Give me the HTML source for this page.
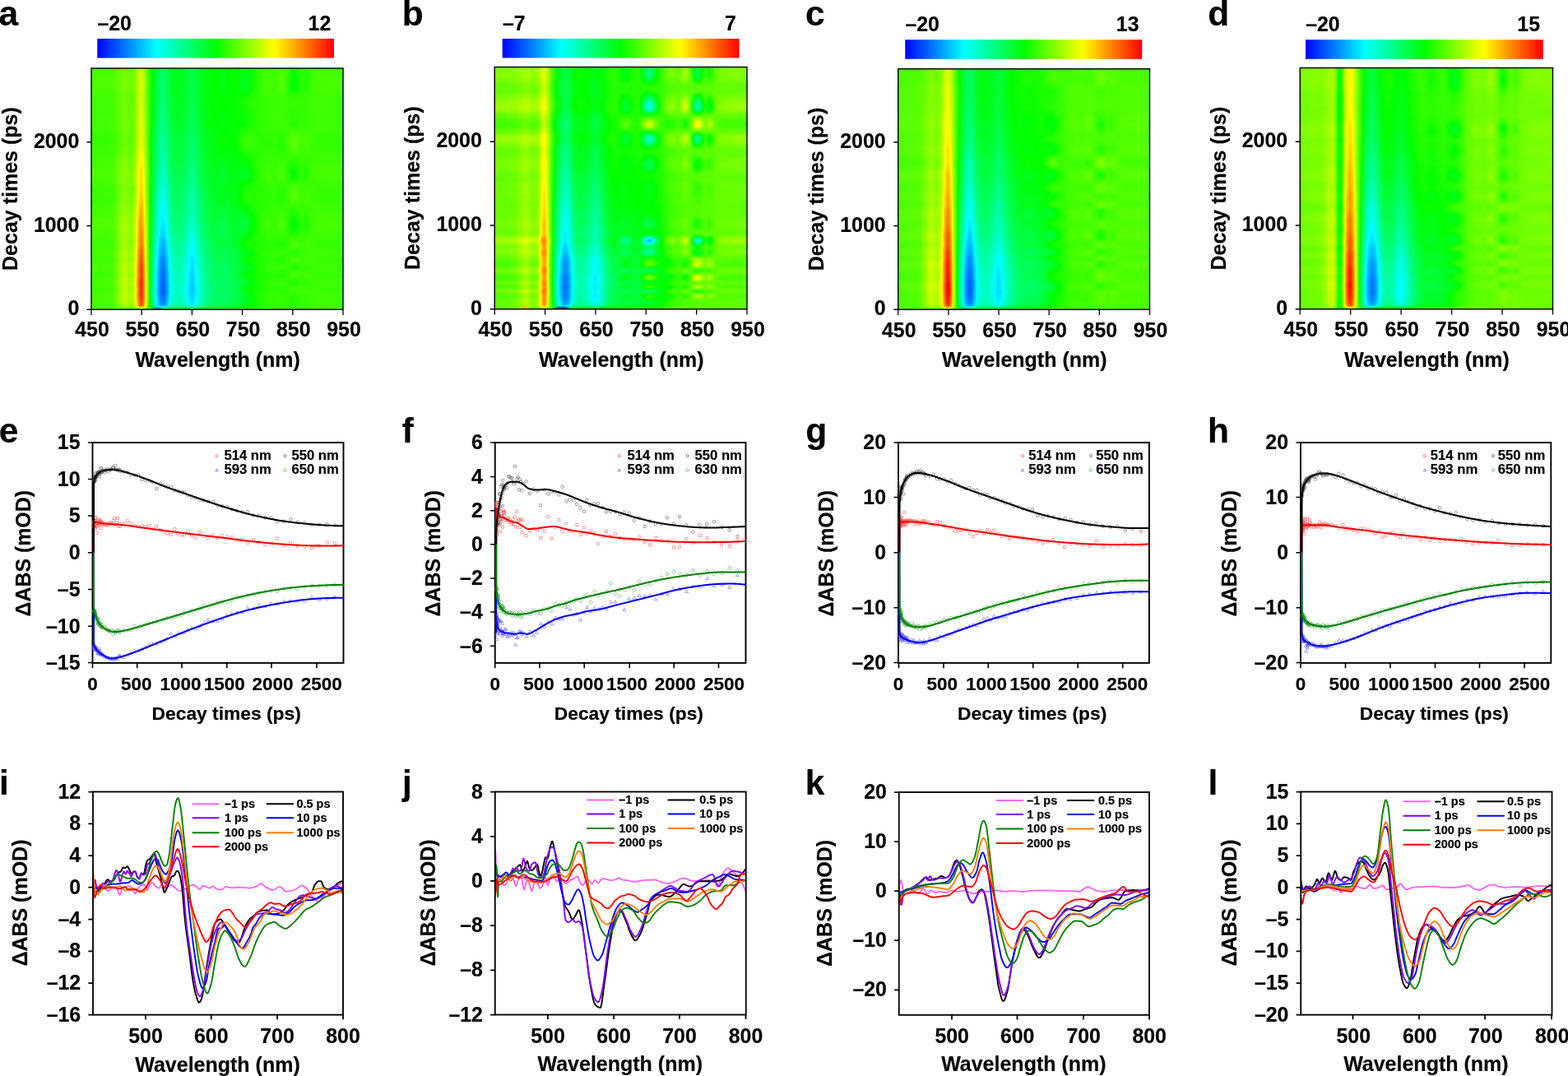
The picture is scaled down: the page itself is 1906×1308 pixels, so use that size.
<!DOCTYPE html>
<html lang="en"><head><meta charset="utf-8"><title>Transient absorption figure</title><style>html,body{margin:0;padding:0;background:#fff;overflow:hidden}svg{display:block}text{font-family:'Liberation Sans',Arial,Helvetica,sans-serif;font-weight:700;fill:#000;stroke:#000;stroke-width:.18px;stroke-linejoin:round}</style></head><body>
<svg width="1906" height="1308" viewBox="0 0 1906 1308" role="img" aria-label="Transient absorption heat maps, kinetics and spectra (panels a to l)">
<defs>
<linearGradient id="jet" x1="0" x2="1" y1="0" y2="0"><stop offset="0" stop-color="#00f"/><stop offset=".25" stop-color="#0ff"/><stop offset=".5" stop-color="#0f0"/><stop offset=".75" stop-color="#ff0"/><stop offset="1" stop-color="#f00"/></linearGradient>
<linearGradient id="hsa" x1="0" x2="1" y1="0" y2="0"><stop offset="0" stop-color="#8a0000"/><stop offset=".005" stop-color="#8a0000"/><stop offset=".01" stop-color="#8a0000"/><stop offset=".015" stop-color="#8a0000"/><stop offset=".02" stop-color="#8a0000"/><stop offset=".025" stop-color="#8a0000"/><stop offset=".03" stop-color="#8a0000"/><stop offset=".035" stop-color="#8a0000"/><stop offset=".04" stop-color="#8a0000"/><stop offset=".045" stop-color="#8a0000"/><stop offset=".05" stop-color="#8b0000"/><stop offset=".055" stop-color="#8b0000"/><stop offset=".06" stop-color="#8b0000"/><stop offset=".065" stop-color="#8b0000"/><stop offset=".07" stop-color="#8b0000"/><stop offset=".075" stop-color="#8b0000"/><stop offset=".08" stop-color="#8c0000"/><stop offset=".085" stop-color="#8d0000"/><stop offset=".09" stop-color="#8f0000"/><stop offset=".095" stop-color="#930000"/><stop offset=".1" stop-color="#960000"/><stop offset=".105" stop-color="#9a0000"/><stop offset=".11" stop-color="#9e0000"/><stop offset=".115" stop-color="#a30000"/><stop offset=".12" stop-color="#a80000"/><stop offset=".125" stop-color="#ab0000"/><stop offset=".13" stop-color="#ad0000"/><stop offset=".135" stop-color="#ac0000"/><stop offset=".14" stop-color="#aa0000"/><stop offset=".145" stop-color="#a70000"/><stop offset=".15" stop-color="#a50000"/><stop offset=".155" stop-color="#a30000"/><stop offset=".16" stop-color="#a50000"/><stop offset=".165" stop-color="#a90000"/><stop offset=".17" stop-color="#b10000"/><stop offset=".175" stop-color="#b90000"/><stop offset=".18" stop-color="#ca0000"/><stop offset=".185" stop-color="#dc0000"/><stop offset=".19" stop-color="#eb0000"/><stop offset=".195" stop-color="#f80000"/><stop offset=".2" stop-color="#f90000"/><stop offset=".205" stop-color="#ed0000"/><stop offset=".21" stop-color="#dc0000"/><stop offset=".215" stop-color="#c50000"/><stop offset=".22" stop-color="#af0000"/><stop offset=".225" stop-color="#990000"/><stop offset=".23" stop-color="#830000"/><stop offset=".235" stop-color="#6c0000"/><stop offset=".24" stop-color="#5c0000"/><stop offset=".245" stop-color="#4f0000"/><stop offset=".25" stop-color="#430000"/><stop offset=".255" stop-color="#370000"/><stop offset=".26" stop-color="#2a0000"/><stop offset=".265" stop-color="#1c0000"/><stop offset=".27" stop-color="#110000"/><stop offset=".275" stop-color="#0a0000"/><stop offset=".28" stop-color="#070000"/><stop offset=".285" stop-color="#040000"/><stop offset=".29" stop-color="#060000"/><stop offset=".295" stop-color="#0c0000"/><stop offset=".3" stop-color="#140000"/><stop offset=".305" stop-color="#1e0000"/><stop offset=".31" stop-color="#2a0000"/><stop offset=".315" stop-color="#310000"/><stop offset=".32" stop-color="#370000"/><stop offset=".325" stop-color="#3c0000"/><stop offset=".33" stop-color="#400000"/><stop offset=".335" stop-color="#410000"/><stop offset=".34" stop-color="#410000"/><stop offset=".345" stop-color="#410000"/><stop offset=".35" stop-color="#410000"/><stop offset=".355" stop-color="#400000"/><stop offset=".36" stop-color="#3f0000"/><stop offset=".365" stop-color="#3d0000"/><stop offset=".37" stop-color="#3a0000"/><stop offset=".375" stop-color="#360000"/><stop offset=".38" stop-color="#320000"/><stop offset=".385" stop-color="#2d0000"/><stop offset=".39" stop-color="#280000"/><stop offset=".395" stop-color="#230000"/><stop offset=".4" stop-color="#210000"/><stop offset=".405" stop-color="#230000"/><stop offset=".41" stop-color="#280000"/><stop offset=".415" stop-color="#2d0000"/><stop offset=".42" stop-color="#320000"/><stop offset=".425" stop-color="#370000"/><stop offset=".43" stop-color="#3c0000"/><stop offset=".435" stop-color="#410000"/><stop offset=".44" stop-color="#450000"/><stop offset=".445" stop-color="#480000"/><stop offset=".45" stop-color="#4b0000"/><stop offset=".455" stop-color="#4e0000"/><stop offset=".46" stop-color="#500000"/><stop offset=".465" stop-color="#520000"/><stop offset=".47" stop-color="#540000"/><stop offset=".475" stop-color="#560000"/><stop offset=".48" stop-color="#570000"/><stop offset=".485" stop-color="#590000"/><stop offset=".49" stop-color="#5a0000"/><stop offset=".495" stop-color="#5b0000"/><stop offset=".5" stop-color="#5c0000"/><stop offset=".505" stop-color="#5c0000"/><stop offset=".51" stop-color="#5c0000"/><stop offset=".515" stop-color="#5c0000"/><stop offset=".52" stop-color="#5c0000"/><stop offset=".525" stop-color="#5c0000"/><stop offset=".53" stop-color="#5c0000"/><stop offset=".535" stop-color="#5c0000"/><stop offset=".54" stop-color="#5c0000"/><stop offset=".55" stop-color="#5e0000"/><stop offset=".56" stop-color="#600000"/><stop offset=".57" stop-color="#620000"/><stop offset=".58" stop-color="#640000"/><stop offset=".59" stop-color="#670000"/><stop offset=".6" stop-color="#6b0000"/><stop offset=".61" stop-color="#6e0000"/><stop offset=".62" stop-color="#720000"/><stop offset=".63" stop-color="#750000"/><stop offset=".64" stop-color="#780000"/><stop offset=".65" stop-color="#7b0000"/><stop offset=".66" stop-color="#7d0000"/><stop offset=".67" stop-color="#7f0000"/><stop offset=".68" stop-color="#810000"/><stop offset=".69" stop-color="#820000"/><stop offset=".7" stop-color="#830000"/><stop offset=".71" stop-color="#830000"/><stop offset=".72" stop-color="#840000"/><stop offset=".73" stop-color="#840000"/><stop offset=".74" stop-color="#840000"/><stop offset=".75" stop-color="#840000"/><stop offset=".76" stop-color="#840000"/><stop offset=".77" stop-color="#840000"/><stop offset=".78" stop-color="#840000"/><stop offset=".79" stop-color="#850000"/><stop offset=".8" stop-color="#850000"/><stop offset=".81" stop-color="#850000"/><stop offset=".82" stop-color="#850000"/><stop offset=".83" stop-color="#860000"/><stop offset=".84" stop-color="#860000"/><stop offset=".85" stop-color="#860000"/><stop offset=".86" stop-color="#870000"/><stop offset=".87" stop-color="#870000"/><stop offset=".88" stop-color="#870000"/><stop offset=".89" stop-color="#870000"/><stop offset=".9" stop-color="#870000"/><stop offset=".91" stop-color="#870000"/><stop offset=".92" stop-color="#870000"/><stop offset=".93" stop-color="#870000"/><stop offset=".94" stop-color="#870000"/><stop offset=".95" stop-color="#870000"/><stop offset=".96" stop-color="#870000"/><stop offset=".97" stop-color="#870000"/><stop offset=".98" stop-color="#870000"/><stop offset=".99" stop-color="#870000"/><stop offset="1" stop-color="#870000"/></linearGradient>
<linearGradient id="hga" x1="0" x2="0" y1="1" y2="0"><stop offset="0" stop-color="#000000"/><stop offset=".0035" stop-color="#001400"/><stop offset=".0083" stop-color="#008c00"/><stop offset=".0146" stop-color="#00d600"/><stop offset=".0208" stop-color="#00e500"/><stop offset=".026" stop-color="#00eb00"/><stop offset=".0416" stop-color="#00f500"/><stop offset=".0625" stop-color="#00fc00"/><stop offset=".0798" stop-color="#00ff00"/><stop offset=".0833" stop-color="#00ff00"/><stop offset=".1041" stop-color="#00fd00"/><stop offset=".1249" stop-color="#00fa00"/><stop offset=".1388" stop-color="#00f700"/><stop offset=".1457" stop-color="#00f600"/><stop offset=".1666" stop-color="#00f100"/><stop offset=".1874" stop-color="#00ec00"/><stop offset=".2082" stop-color="#00e600"/><stop offset=".229" stop-color="#00de00"/><stop offset=".2498" stop-color="#00d600"/><stop offset=".2706" stop-color="#00ce00"/><stop offset=".2776" stop-color="#00cc00"/><stop offset=".2915" stop-color="#00c800"/><stop offset=".3123" stop-color="#00c100"/><stop offset=".3331" stop-color="#00bb00"/><stop offset=".347" stop-color="#00b800"/><stop offset=".3539" stop-color="#00b600"/><stop offset=".3747" stop-color="#00b100"/><stop offset=".3956" stop-color="#00ac00"/><stop offset=".4164" stop-color="#00a700"/><stop offset=".4337" stop-color="#00a300"/><stop offset=".4372" stop-color="#00a200"/><stop offset=".458" stop-color="#009d00"/><stop offset=".4788" stop-color="#009800"/><stop offset=".4997" stop-color="#009300"/><stop offset=".5205" stop-color="#008f00"/><stop offset=".5413" stop-color="#008b00"/><stop offset=".5621" stop-color="#008700"/><stop offset=".5829" stop-color="#008400"/><stop offset=".6037" stop-color="#008000"/><stop offset=".6072" stop-color="#008000"/><stop offset=".6246" stop-color="#007c00"/><stop offset=".6454" stop-color="#007800"/><stop offset=".6662" stop-color="#007500"/><stop offset=".687" stop-color="#007100"/><stop offset=".694" stop-color="#007000"/><stop offset=".7078" stop-color="#006e00"/><stop offset=".7287" stop-color="#006c00"/><stop offset=".7495" stop-color="#006900"/><stop offset=".7703" stop-color="#006700"/><stop offset=".7807" stop-color="#006600"/><stop offset=".7911" stop-color="#006500"/><stop offset=".8119" stop-color="#006300"/><stop offset=".8328" stop-color="#006100"/><stop offset=".8536" stop-color="#005f00"/><stop offset=".8675" stop-color="#005e00"/><stop offset=".8744" stop-color="#005e00"/><stop offset=".8952" stop-color="#005d00"/><stop offset=".916" stop-color="#005c00"/><stop offset=".9368" stop-color="#005b00"/><stop offset=".9577" stop-color="#005a00"/><stop offset=".9785" stop-color="#005a00"/><stop offset=".9993" stop-color="#005900"/><stop offset="1" stop-color="#005900"/></linearGradient>
<linearGradient id="hna" x1="0" x2="1" y1="0" y2="0"><stop offset="0" stop-color="#990080"/><stop offset=".01" stop-color="#990080"/><stop offset=".02" stop-color="#990080"/><stop offset=".03" stop-color="#990080"/><stop offset=".04" stop-color="#990080"/><stop offset=".05" stop-color="#990080"/><stop offset=".06" stop-color="#990080"/><stop offset=".07" stop-color="#990080"/><stop offset=".08" stop-color="#990080"/><stop offset=".09" stop-color="#990080"/><stop offset=".1" stop-color="#990080"/><stop offset=".11" stop-color="#990080"/><stop offset=".12" stop-color="#990080"/><stop offset=".13" stop-color="#990080"/><stop offset=".14" stop-color="#990080"/><stop offset=".15" stop-color="#990080"/><stop offset=".16" stop-color="#990080"/><stop offset=".17" stop-color="#990080"/><stop offset=".18" stop-color="#990080"/><stop offset=".19" stop-color="#970080"/><stop offset=".2" stop-color="#920080"/><stop offset=".21" stop-color="#8c0080"/><stop offset=".22" stop-color="#8a0080"/><stop offset=".23" stop-color="#890080"/><stop offset=".24" stop-color="#890080"/><stop offset=".25" stop-color="#890080"/><stop offset=".26" stop-color="#890080"/><stop offset=".27" stop-color="#880080"/><stop offset=".28" stop-color="#880080"/><stop offset=".29" stop-color="#880080"/><stop offset=".3" stop-color="#880080"/><stop offset=".31" stop-color="#880080"/><stop offset=".32" stop-color="#880080"/><stop offset=".33" stop-color="#880080"/><stop offset=".34" stop-color="#880080"/><stop offset=".35" stop-color="#880080"/><stop offset=".36" stop-color="#880080"/><stop offset=".37" stop-color="#880080"/><stop offset=".38" stop-color="#880080"/><stop offset=".39" stop-color="#880080"/><stop offset=".4" stop-color="#880080"/><stop offset=".41" stop-color="#880080"/><stop offset=".42" stop-color="#870080"/><stop offset=".43" stop-color="#870080"/><stop offset=".44" stop-color="#870080"/><stop offset=".45" stop-color="#870080"/><stop offset=".46" stop-color="#870080"/><stop offset=".47" stop-color="#860080"/><stop offset=".48" stop-color="#860080"/><stop offset=".49" stop-color="#7c0080"/><stop offset=".5" stop-color="#6c0080"/><stop offset=".51" stop-color="#5c0080"/><stop offset=".52" stop-color="#530080"/><stop offset=".53" stop-color="#5d0080"/><stop offset=".54" stop-color="#6e0080"/><stop offset=".544" stop-color="#730080"/><stop offset=".55" stop-color="#770080"/><stop offset=".56" stop-color="#7d0080"/><stop offset=".57" stop-color="#800080"/><stop offset=".58" stop-color="#670080"/><stop offset=".59" stop-color="#400080"/><stop offset=".6" stop-color="#1e0080"/><stop offset=".61" stop-color="#030080"/><stop offset=".614" stop-color="#000080"/><stop offset=".62" stop-color="#080080"/><stop offset=".63" stop-color="#2a0080"/><stop offset=".64" stop-color="#4c0080"/><stop offset=".65" stop-color="#650080"/><stop offset=".66" stop-color="#7a0080"/><stop offset=".664" stop-color="#800080"/><stop offset=".67" stop-color="#870080"/><stop offset=".68" stop-color="#930080"/><stop offset=".69" stop-color="#9c0080"/><stop offset=".7" stop-color="#9f0080"/><stop offset=".71" stop-color="#9a0080"/><stop offset=".72" stop-color="#910080"/><stop offset=".73" stop-color="#8c0080"/><stop offset=".74" stop-color="#9d0080"/><stop offset=".75" stop-color="#b60080"/><stop offset=".754" stop-color="#b90080"/><stop offset=".76" stop-color="#b30080"/><stop offset=".77" stop-color="#950080"/><stop offset=".776" stop-color="#800080"/><stop offset=".78" stop-color="#6d0080"/><stop offset=".79" stop-color="#330080"/><stop offset=".8" stop-color="#070080"/><stop offset=".804" stop-color="#000080"/><stop offset=".81" stop-color="#0c0080"/><stop offset=".82" stop-color="#330080"/><stop offset=".83" stop-color="#5a0080"/><stop offset=".836" stop-color="#660080"/><stop offset=".84" stop-color="#610080"/><stop offset=".85" stop-color="#470080"/><stop offset=".852" stop-color="#460080"/><stop offset=".86" stop-color="#530080"/><stop offset=".87" stop-color="#730080"/><stop offset=".876" stop-color="#800080"/><stop offset=".88" stop-color="#840080"/><stop offset=".89" stop-color="#8e0080"/><stop offset=".9" stop-color="#930080"/><stop offset=".91" stop-color="#940080"/><stop offset=".92" stop-color="#950080"/><stop offset=".93" stop-color="#960080"/><stop offset=".94" stop-color="#970080"/><stop offset=".95" stop-color="#980080"/><stop offset=".96" stop-color="#980080"/><stop offset=".97" stop-color="#990080"/><stop offset=".98" stop-color="#990080"/><stop offset=".99" stop-color="#990080"/><stop offset="1" stop-color="#990080"/></linearGradient>
<linearGradient id="hma" x1="0" x2="0" y1="1" y2="0"><stop offset="0" stop-color="#008000"/><stop offset=".0083" stop-color="#008c00"/><stop offset=".0167" stop-color="#009500"/><stop offset=".025" stop-color="#009b00"/><stop offset=".0333" stop-color="#009e00"/><stop offset=".0416" stop-color="#009f00"/><stop offset=".05" stop-color="#009f00"/><stop offset=".0583" stop-color="#009800"/><stop offset=".0666" stop-color="#007e00"/><stop offset=".0749" stop-color="#006100"/><stop offset=".0833" stop-color="#005500"/><stop offset=".0916" stop-color="#006600"/><stop offset=".0999" stop-color="#008700"/><stop offset=".1083" stop-color="#00a300"/><stop offset=".1166" stop-color="#00a700"/><stop offset=".1249" stop-color="#008d00"/><stop offset=".1332" stop-color="#006700"/><stop offset=".1416" stop-color="#004c00"/><stop offset=".1499" stop-color="#005300"/><stop offset=".1582" stop-color="#007400"/><stop offset=".1666" stop-color="#009800"/><stop offset=".1749" stop-color="#00aa00"/><stop offset=".1832" stop-color="#009900"/><stop offset=".1915" stop-color="#007500"/><stop offset=".1999" stop-color="#005300"/><stop offset=".2082" stop-color="#004c00"/><stop offset=".2165" stop-color="#006300"/><stop offset=".2248" stop-color="#008400"/><stop offset=".2332" stop-color="#009d00"/><stop offset=".2415" stop-color="#009800"/><stop offset=".2498" stop-color="#007800"/><stop offset=".2582" stop-color="#005300"/><stop offset=".2665" stop-color="#004000"/><stop offset=".2748" stop-color="#004700"/><stop offset=".2831" stop-color="#005900"/><stop offset=".2915" stop-color="#007000"/><stop offset=".2998" stop-color="#008400"/><stop offset=".3081" stop-color="#009900"/><stop offset=".3164" stop-color="#00b100"/><stop offset=".3248" stop-color="#00c900"/><stop offset=".3331" stop-color="#00dd00"/><stop offset=".3414" stop-color="#00ed00"/><stop offset=".3498" stop-color="#00f400"/><stop offset=".3581" stop-color="#00f200"/><stop offset=".3664" stop-color="#00ea00"/><stop offset=".3747" stop-color="#00de00"/><stop offset=".3831" stop-color="#00cf00"/><stop offset=".3914" stop-color="#00be00"/><stop offset=".3997" stop-color="#00ad00"/><stop offset=".408" stop-color="#009d00"/><stop offset=".4164" stop-color="#008f00"/><stop offset=".4247" stop-color="#007f00"/><stop offset=".433" stop-color="#006d00"/><stop offset=".4414" stop-color="#005d00"/><stop offset=".4497" stop-color="#004e00"/><stop offset=".458" stop-color="#004400"/><stop offset=".4663" stop-color="#004000"/><stop offset=".4747" stop-color="#004200"/><stop offset=".483" stop-color="#004700"/><stop offset=".4913" stop-color="#004f00"/><stop offset=".4997" stop-color="#005900"/><stop offset=".508" stop-color="#006400"/><stop offset=".5163" stop-color="#007800"/><stop offset=".5246" stop-color="#009300"/><stop offset=".533" stop-color="#00b100"/><stop offset=".5413" stop-color="#00cc00"/><stop offset=".5496" stop-color="#00e100"/><stop offset=".5579" stop-color="#00ea00"/><stop offset=".5663" stop-color="#00e800"/><stop offset=".5746" stop-color="#00e200"/><stop offset=".5829" stop-color="#00d800"/><stop offset=".5913" stop-color="#00cc00"/><stop offset=".5996" stop-color="#00be00"/><stop offset=".6079" stop-color="#00ae00"/><stop offset=".6162" stop-color="#009f00"/><stop offset=".6246" stop-color="#009000"/><stop offset=".6329" stop-color="#008300"/><stop offset=".6412" stop-color="#007700"/><stop offset=".6495" stop-color="#006900"/><stop offset=".6579" stop-color="#005900"/><stop offset=".6662" stop-color="#004a00"/><stop offset=".6745" stop-color="#003d00"/><stop offset=".6829" stop-color="#003200"/><stop offset=".6912" stop-color="#002c00"/><stop offset=".6995" stop-color="#002b00"/><stop offset=".7078" stop-color="#003100"/><stop offset=".7162" stop-color="#003d00"/><stop offset=".7245" stop-color="#004d00"/><stop offset=".7328" stop-color="#005f00"/><stop offset=".7412" stop-color="#007200"/><stop offset=".7495" stop-color="#008400"/><stop offset=".7578" stop-color="#009300"/><stop offset=".7661" stop-color="#009c00"/><stop offset=".7745" stop-color="#009f00"/><stop offset=".7828" stop-color="#009e00"/><stop offset=".7911" stop-color="#009c00"/><stop offset=".7994" stop-color="#009900"/><stop offset=".8078" stop-color="#009500"/><stop offset=".8161" stop-color="#009100"/><stop offset=".8244" stop-color="#008d00"/><stop offset=".8328" stop-color="#008900"/><stop offset=".8411" stop-color="#008500"/><stop offset=".8494" stop-color="#008200"/><stop offset=".8577" stop-color="#008000"/><stop offset=".8661" stop-color="#008000"/><stop offset=".8744" stop-color="#008600"/><stop offset=".8827" stop-color="#009800"/><stop offset=".891" stop-color="#00af00"/><stop offset=".8994" stop-color="#00c900"/><stop offset=".9077" stop-color="#00e100"/><stop offset=".916" stop-color="#00f400"/><stop offset=".9244" stop-color="#00fe00"/><stop offset=".9327" stop-color="#00ff00"/><stop offset=".941" stop-color="#00fe00"/><stop offset=".9493" stop-color="#00fc00"/><stop offset=".9577" stop-color="#00f800"/><stop offset=".966" stop-color="#00f300"/><stop offset=".9743" stop-color="#00eb00"/><stop offset=".9827" stop-color="#00e000"/><stop offset=".991" stop-color="#00d200"/><stop offset=".9993" stop-color="#00c000"/></linearGradient>
<filter id="ada" x="0" y="0" width="1" height="1" color-interpolation-filters="sRGB"><feColorMatrix in="SourceGraphic" type="matrix" values="1 0 0 0 0 1 0 0 0 0 1 0 0 0 0 0 0 0 0 1" result="A"/><feColorMatrix in="SourceGraphic" type="matrix" values="0 1 0 0 0 0 1 0 0 0 0 1 0 0 0 0 0 0 0 1" result="B"/><feColorMatrix in="SourceGraphic" type="matrix" values="0 0 1 0 0 0 0 1 0 0 0 0 1 0 0 0 0 0 0 1" result="C"/><feComposite in="A" in2="B" operator="arithmetic" k1=".68" k2="-.34" k3="-.34" k4=".67" result="D"/><feComposite in="D" in2="C" operator="arithmetic" k1="0" k2="1" k3="1" k4="-.5" result="E"/><feColorMatrix in="E" type="matrix" values="0 0 0 0 0 0 0 0 0 0 1 0 0 0 0 0 0 0 0 1"/></filter>
<filter id="cma" x="0" y="0" width="1" height="1" color-interpolation-filters="sRGB"><feColorMatrix in="SourceGraphic" type="matrix" values="1 0 0 0 0 1 0 0 0 0 1 0 0 0 0 0 0 0 0 1" result="A"/><feColorMatrix in="SourceGraphic" type="matrix" values="0 1 0 0 0 0 1 0 0 0 0 1 0 0 0 0 0 0 0 1" result="B"/><feColorMatrix in="SourceGraphic" type="matrix" values="0 0 1 0 0 0 0 1 0 0 0 0 1 0 0 0 0 0 0 1" result="C"/><feComposite in="A" in2="B" operator="arithmetic" k1=".9125" k2="0" k3="-.4844" k4=".5563" result="U"/><feComposite in="U" in2="C" operator="arithmetic" k1="0" k2="1" k3=".375" k4="-.1875"/><feComponentTransfer><feFuncR type="table" tableValues="0 0 0 1 1"/><feFuncG type="table" tableValues="0 1 1 1 0"/><feFuncB type="table" tableValues="1 1 0 0 0"/></feComponentTransfer></filter>
<clipPath id="cha"><rect x="111" y="83" width="306" height="293.25"/></clipPath>
<radialGradient id="rg0060ff"><stop offset="0" stop-color="#0060ff"/><stop offset=".45" stop-color="#0060ff" stop-opacity=".8"/><stop offset="1" stop-color="#0060ff" stop-opacity="0"/></radialGradient>
<linearGradient id="hsb" x1="0" x2="1" y1="0" y2="0"><stop offset="0" stop-color="#9c0000"/><stop offset=".005" stop-color="#9c0000"/><stop offset=".01" stop-color="#9c0000"/><stop offset=".015" stop-color="#9d0000"/><stop offset=".02" stop-color="#9d0000"/><stop offset=".025" stop-color="#9d0000"/><stop offset=".03" stop-color="#9d0000"/><stop offset=".035" stop-color="#9d0000"/><stop offset=".04" stop-color="#9d0000"/><stop offset=".045" stop-color="#9e0000"/><stop offset=".05" stop-color="#9e0000"/><stop offset=".055" stop-color="#9e0000"/><stop offset=".06" stop-color="#9f0000"/><stop offset=".065" stop-color="#9f0000"/><stop offset=".07" stop-color="#a00000"/><stop offset=".075" stop-color="#a00000"/><stop offset=".08" stop-color="#a10000"/><stop offset=".085" stop-color="#a20000"/><stop offset=".09" stop-color="#a40000"/><stop offset=".095" stop-color="#a70000"/><stop offset=".1" stop-color="#aa0000"/><stop offset=".105" stop-color="#ad0000"/><stop offset=".11" stop-color="#b00000"/><stop offset=".115" stop-color="#b20000"/><stop offset=".12" stop-color="#b50000"/><stop offset=".125" stop-color="#b60000"/><stop offset=".13" stop-color="#b50000"/><stop offset=".135" stop-color="#b10000"/><stop offset=".14" stop-color="#ad0000"/><stop offset=".145" stop-color="#a90000"/><stop offset=".15" stop-color="#a70000"/><stop offset=".155" stop-color="#a80000"/><stop offset=".16" stop-color="#a90000"/><stop offset=".165" stop-color="#ab0000"/><stop offset=".17" stop-color="#af0000"/><stop offset=".175" stop-color="#b30000"/><stop offset=".18" stop-color="#c40000"/><stop offset=".185" stop-color="#da0000"/><stop offset=".19" stop-color="#e90000"/><stop offset=".195" stop-color="#f40000"/><stop offset=".2" stop-color="#f00000"/><stop offset=".205" stop-color="#e40000"/><stop offset=".21" stop-color="#d20000"/><stop offset=".215" stop-color="#bb0000"/><stop offset=".22" stop-color="#a30000"/><stop offset=".225" stop-color="#8b0000"/><stop offset=".23" stop-color="#790000"/><stop offset=".235" stop-color="#6a0000"/><stop offset=".24" stop-color="#5c0000"/><stop offset=".245" stop-color="#4d0000"/><stop offset=".25" stop-color="#3f0000"/><stop offset=".255" stop-color="#310000"/><stop offset=".26" stop-color="#270000"/><stop offset=".265" stop-color="#1d0000"/><stop offset=".27" stop-color="#140000"/><stop offset=".275" stop-color="#0d0000"/><stop offset=".28" stop-color="#0b0000"/><stop offset=".285" stop-color="#0d0000"/><stop offset=".29" stop-color="#130000"/><stop offset=".295" stop-color="#190000"/><stop offset=".3" stop-color="#220000"/><stop offset=".305" stop-color="#2d0000"/><stop offset=".31" stop-color="#370000"/><stop offset=".315" stop-color="#3d0000"/><stop offset=".32" stop-color="#430000"/><stop offset=".325" stop-color="#480000"/><stop offset=".33" stop-color="#4b0000"/><stop offset=".335" stop-color="#4d0000"/><stop offset=".34" stop-color="#4d0000"/><stop offset=".345" stop-color="#4c0000"/><stop offset=".35" stop-color="#4b0000"/><stop offset=".355" stop-color="#4a0000"/><stop offset=".36" stop-color="#480000"/><stop offset=".365" stop-color="#460000"/><stop offset=".37" stop-color="#430000"/><stop offset=".375" stop-color="#3f0000"/><stop offset=".38" stop-color="#3b0000"/><stop offset=".385" stop-color="#370000"/><stop offset=".39" stop-color="#340000"/><stop offset=".395" stop-color="#300000"/><stop offset=".4" stop-color="#2f0000"/><stop offset=".405" stop-color="#310000"/><stop offset=".41" stop-color="#350000"/><stop offset=".415" stop-color="#390000"/><stop offset=".42" stop-color="#3e0000"/><stop offset=".425" stop-color="#430000"/><stop offset=".43" stop-color="#480000"/><stop offset=".435" stop-color="#4e0000"/><stop offset=".44" stop-color="#540000"/><stop offset=".445" stop-color="#580000"/><stop offset=".45" stop-color="#5c0000"/><stop offset=".455" stop-color="#5f0000"/><stop offset=".46" stop-color="#620000"/><stop offset=".465" stop-color="#640000"/><stop offset=".47" stop-color="#670000"/><stop offset=".475" stop-color="#680000"/><stop offset=".48" stop-color="#690000"/><stop offset=".485" stop-color="#690000"/><stop offset=".49" stop-color="#6a0000"/><stop offset=".495" stop-color="#6a0000"/><stop offset=".5" stop-color="#6a0000"/><stop offset=".505" stop-color="#6a0000"/><stop offset=".51" stop-color="#6b0000"/><stop offset=".515" stop-color="#6b0000"/><stop offset=".52" stop-color="#6b0000"/><stop offset=".525" stop-color="#6b0000"/><stop offset=".53" stop-color="#6c0000"/><stop offset=".535" stop-color="#6c0000"/><stop offset=".54" stop-color="#6c0000"/><stop offset=".55" stop-color="#6d0000"/><stop offset=".56" stop-color="#6d0000"/><stop offset=".57" stop-color="#6e0000"/><stop offset=".58" stop-color="#6f0000"/><stop offset=".59" stop-color="#700000"/><stop offset=".6" stop-color="#720000"/><stop offset=".61" stop-color="#730000"/><stop offset=".62" stop-color="#730000"/><stop offset=".63" stop-color="#740000"/><stop offset=".64" stop-color="#760000"/><stop offset=".65" stop-color="#780000"/><stop offset=".66" stop-color="#7b0000"/><stop offset=".67" stop-color="#7f0000"/><stop offset=".68" stop-color="#830000"/><stop offset=".69" stop-color="#870000"/><stop offset=".7" stop-color="#8b0000"/><stop offset=".71" stop-color="#8f0000"/><stop offset=".72" stop-color="#920000"/><stop offset=".73" stop-color="#930000"/><stop offset=".74" stop-color="#940000"/><stop offset=".75" stop-color="#950000"/><stop offset=".76" stop-color="#960000"/><stop offset=".77" stop-color="#960000"/><stop offset=".78" stop-color="#970000"/><stop offset=".79" stop-color="#980000"/><stop offset=".8" stop-color="#980000"/><stop offset=".81" stop-color="#990000"/><stop offset=".82" stop-color="#990000"/><stop offset=".83" stop-color="#9a0000"/><stop offset=".84" stop-color="#9a0000"/><stop offset=".85" stop-color="#9b0000"/><stop offset=".86" stop-color="#9b0000"/><stop offset=".87" stop-color="#9c0000"/><stop offset=".88" stop-color="#9c0000"/><stop offset=".89" stop-color="#9c0000"/><stop offset=".9" stop-color="#9c0000"/><stop offset=".91" stop-color="#9c0000"/><stop offset=".92" stop-color="#9c0000"/><stop offset=".93" stop-color="#9c0000"/><stop offset=".94" stop-color="#9c0000"/><stop offset=".95" stop-color="#9c0000"/><stop offset=".96" stop-color="#9c0000"/><stop offset=".97" stop-color="#9c0000"/><stop offset=".98" stop-color="#9c0000"/><stop offset=".99" stop-color="#9c0000"/><stop offset="1" stop-color="#9c0000"/></linearGradient>
<linearGradient id="hgb" x1="0" x2="0" y1="1" y2="0"><stop offset="0" stop-color="#000000"/><stop offset=".0035" stop-color="#001400"/><stop offset=".0083" stop-color="#008c00"/><stop offset=".0146" stop-color="#00d600"/><stop offset=".0208" stop-color="#00e500"/><stop offset=".026" stop-color="#00eb00"/><stop offset=".0416" stop-color="#00f500"/><stop offset=".0625" stop-color="#00fc00"/><stop offset=".0798" stop-color="#00ff00"/><stop offset=".0833" stop-color="#00ff00"/><stop offset=".1041" stop-color="#00fd00"/><stop offset=".1249" stop-color="#00fa00"/><stop offset=".1388" stop-color="#00f700"/><stop offset=".1457" stop-color="#00f600"/><stop offset=".1666" stop-color="#00f100"/><stop offset=".1874" stop-color="#00ec00"/><stop offset=".2082" stop-color="#00e600"/><stop offset=".229" stop-color="#00de00"/><stop offset=".2498" stop-color="#00d600"/><stop offset=".2706" stop-color="#00ce00"/><stop offset=".2776" stop-color="#00cc00"/><stop offset=".2915" stop-color="#00c800"/><stop offset=".3123" stop-color="#00c100"/><stop offset=".3331" stop-color="#00bb00"/><stop offset=".347" stop-color="#00b800"/><stop offset=".3539" stop-color="#00b600"/><stop offset=".3747" stop-color="#00b100"/><stop offset=".3956" stop-color="#00ac00"/><stop offset=".4164" stop-color="#00a700"/><stop offset=".4337" stop-color="#00a300"/><stop offset=".4372" stop-color="#00a200"/><stop offset=".458" stop-color="#009d00"/><stop offset=".4788" stop-color="#009800"/><stop offset=".4997" stop-color="#009300"/><stop offset=".5205" stop-color="#008f00"/><stop offset=".5413" stop-color="#008b00"/><stop offset=".5621" stop-color="#008700"/><stop offset=".5829" stop-color="#008400"/><stop offset=".6037" stop-color="#008000"/><stop offset=".6072" stop-color="#008000"/><stop offset=".6246" stop-color="#007c00"/><stop offset=".6454" stop-color="#007800"/><stop offset=".6662" stop-color="#007500"/><stop offset=".687" stop-color="#007100"/><stop offset=".694" stop-color="#007000"/><stop offset=".7078" stop-color="#006e00"/><stop offset=".7287" stop-color="#006c00"/><stop offset=".7495" stop-color="#006900"/><stop offset=".7703" stop-color="#006700"/><stop offset=".7807" stop-color="#006600"/><stop offset=".7911" stop-color="#006500"/><stop offset=".8119" stop-color="#006300"/><stop offset=".8328" stop-color="#006100"/><stop offset=".8536" stop-color="#005f00"/><stop offset=".8675" stop-color="#005e00"/><stop offset=".8744" stop-color="#005e00"/><stop offset=".8952" stop-color="#005d00"/><stop offset=".916" stop-color="#005c00"/><stop offset=".9368" stop-color="#005b00"/><stop offset=".9577" stop-color="#005a00"/><stop offset=".9785" stop-color="#005a00"/><stop offset=".9993" stop-color="#005900"/><stop offset="1" stop-color="#005900"/></linearGradient>
<linearGradient id="hnb" x1="0" x2="1" y1="0" y2="0"><stop offset="0" stop-color="#990080"/><stop offset=".01" stop-color="#990080"/><stop offset=".02" stop-color="#990080"/><stop offset=".03" stop-color="#990080"/><stop offset=".04" stop-color="#990080"/><stop offset=".05" stop-color="#990080"/><stop offset=".06" stop-color="#990080"/><stop offset=".07" stop-color="#990080"/><stop offset=".08" stop-color="#990080"/><stop offset=".09" stop-color="#990080"/><stop offset=".1" stop-color="#990080"/><stop offset=".11" stop-color="#990080"/><stop offset=".12" stop-color="#990080"/><stop offset=".13" stop-color="#990080"/><stop offset=".14" stop-color="#990080"/><stop offset=".15" stop-color="#990080"/><stop offset=".16" stop-color="#990080"/><stop offset=".17" stop-color="#990080"/><stop offset=".18" stop-color="#990080"/><stop offset=".19" stop-color="#970080"/><stop offset=".2" stop-color="#920080"/><stop offset=".21" stop-color="#8c0080"/><stop offset=".22" stop-color="#8a0080"/><stop offset=".23" stop-color="#890080"/><stop offset=".24" stop-color="#890080"/><stop offset=".25" stop-color="#890080"/><stop offset=".26" stop-color="#890080"/><stop offset=".27" stop-color="#880080"/><stop offset=".28" stop-color="#880080"/><stop offset=".29" stop-color="#880080"/><stop offset=".3" stop-color="#880080"/><stop offset=".31" stop-color="#880080"/><stop offset=".32" stop-color="#880080"/><stop offset=".33" stop-color="#880080"/><stop offset=".34" stop-color="#880080"/><stop offset=".35" stop-color="#880080"/><stop offset=".36" stop-color="#880080"/><stop offset=".37" stop-color="#880080"/><stop offset=".38" stop-color="#880080"/><stop offset=".39" stop-color="#880080"/><stop offset=".4" stop-color="#880080"/><stop offset=".41" stop-color="#880080"/><stop offset=".42" stop-color="#870080"/><stop offset=".43" stop-color="#870080"/><stop offset=".44" stop-color="#870080"/><stop offset=".45" stop-color="#870080"/><stop offset=".46" stop-color="#870080"/><stop offset=".47" stop-color="#860080"/><stop offset=".48" stop-color="#860080"/><stop offset=".49" stop-color="#7c0080"/><stop offset=".5" stop-color="#6c0080"/><stop offset=".51" stop-color="#5c0080"/><stop offset=".52" stop-color="#530080"/><stop offset=".53" stop-color="#5d0080"/><stop offset=".54" stop-color="#6e0080"/><stop offset=".544" stop-color="#730080"/><stop offset=".55" stop-color="#770080"/><stop offset=".56" stop-color="#7d0080"/><stop offset=".57" stop-color="#800080"/><stop offset=".58" stop-color="#670080"/><stop offset=".59" stop-color="#400080"/><stop offset=".6" stop-color="#1e0080"/><stop offset=".61" stop-color="#030080"/><stop offset=".614" stop-color="#000080"/><stop offset=".62" stop-color="#080080"/><stop offset=".63" stop-color="#2a0080"/><stop offset=".64" stop-color="#4c0080"/><stop offset=".65" stop-color="#650080"/><stop offset=".66" stop-color="#7a0080"/><stop offset=".664" stop-color="#800080"/><stop offset=".67" stop-color="#870080"/><stop offset=".68" stop-color="#930080"/><stop offset=".69" stop-color="#9c0080"/><stop offset=".7" stop-color="#9f0080"/><stop offset=".71" stop-color="#9a0080"/><stop offset=".72" stop-color="#910080"/><stop offset=".73" stop-color="#8c0080"/><stop offset=".74" stop-color="#9d0080"/><stop offset=".75" stop-color="#b60080"/><stop offset=".754" stop-color="#b90080"/><stop offset=".76" stop-color="#b30080"/><stop offset=".77" stop-color="#950080"/><stop offset=".776" stop-color="#800080"/><stop offset=".78" stop-color="#6d0080"/><stop offset=".79" stop-color="#330080"/><stop offset=".8" stop-color="#070080"/><stop offset=".804" stop-color="#000080"/><stop offset=".81" stop-color="#0c0080"/><stop offset=".82" stop-color="#330080"/><stop offset=".83" stop-color="#5a0080"/><stop offset=".836" stop-color="#660080"/><stop offset=".84" stop-color="#610080"/><stop offset=".85" stop-color="#470080"/><stop offset=".852" stop-color="#460080"/><stop offset=".86" stop-color="#530080"/><stop offset=".87" stop-color="#730080"/><stop offset=".876" stop-color="#800080"/><stop offset=".88" stop-color="#840080"/><stop offset=".89" stop-color="#8e0080"/><stop offset=".9" stop-color="#930080"/><stop offset=".91" stop-color="#940080"/><stop offset=".92" stop-color="#950080"/><stop offset=".93" stop-color="#960080"/><stop offset=".94" stop-color="#970080"/><stop offset=".95" stop-color="#980080"/><stop offset=".96" stop-color="#980080"/><stop offset=".97" stop-color="#990080"/><stop offset=".98" stop-color="#990080"/><stop offset=".99" stop-color="#990080"/><stop offset="1" stop-color="#990080"/></linearGradient>
<linearGradient id="hmb" x1="0" x2="0" y1="1" y2="0"><stop offset="0" stop-color="#008000"/><stop offset=".0083" stop-color="#008000"/><stop offset=".0167" stop-color="#008000"/><stop offset=".025" stop-color="#008000"/><stop offset=".0333" stop-color="#008000"/><stop offset=".0416" stop-color="#007600"/><stop offset=".05" stop-color="#005700"/><stop offset=".0583" stop-color="#006100"/><stop offset=".0666" stop-color="#008600"/><stop offset=".0749" stop-color="#009c00"/><stop offset=".0833" stop-color="#006e00"/><stop offset=".0916" stop-color="#004800"/><stop offset=".0999" stop-color="#006c00"/><stop offset=".1083" stop-color="#007d00"/><stop offset=".1166" stop-color="#006000"/><stop offset=".1249" stop-color="#003e00"/><stop offset=".1332" stop-color="#003e00"/><stop offset=".1416" stop-color="#005d00"/><stop offset=".1499" stop-color="#008400"/><stop offset=".1582" stop-color="#009b00"/><stop offset=".1666" stop-color="#008900"/><stop offset=".1749" stop-color="#005d00"/><stop offset=".1832" stop-color="#004700"/><stop offset=".1915" stop-color="#004d00"/><stop offset=".1999" stop-color="#005900"/><stop offset=".2082" stop-color="#006800"/><stop offset=".2165" stop-color="#008300"/><stop offset=".2248" stop-color="#00a200"/><stop offset=".2332" stop-color="#00b600"/><stop offset=".2415" stop-color="#00b300"/><stop offset=".2498" stop-color="#00a200"/><stop offset=".2582" stop-color="#009e00"/><stop offset=".2665" stop-color="#00c000"/><stop offset=".2748" stop-color="#00ec00"/><stop offset=".2831" stop-color="#00ff00"/><stop offset=".2915" stop-color="#00e400"/><stop offset=".2998" stop-color="#00b300"/><stop offset=".3081" stop-color="#008900"/><stop offset=".3164" stop-color="#008000"/><stop offset=".3248" stop-color="#008600"/><stop offset=".3331" stop-color="#008f00"/><stop offset=".3414" stop-color="#009700"/><stop offset=".3498" stop-color="#009c00"/><stop offset=".3581" stop-color="#009a00"/><stop offset=".3664" stop-color="#009500"/><stop offset=".3747" stop-color="#008d00"/><stop offset=".3831" stop-color="#008600"/><stop offset=".3914" stop-color="#008100"/><stop offset=".3997" stop-color="#008000"/><stop offset=".408" stop-color="#008000"/><stop offset=".4164" stop-color="#008100"/><stop offset=".4247" stop-color="#008300"/><stop offset=".433" stop-color="#008400"/><stop offset=".4414" stop-color="#008600"/><stop offset=".4497" stop-color="#008800"/><stop offset=".458" stop-color="#008900"/><stop offset=".4663" stop-color="#008b00"/><stop offset=".4747" stop-color="#008d00"/><stop offset=".483" stop-color="#008e00"/><stop offset=".4913" stop-color="#009000"/><stop offset=".4997" stop-color="#009000"/><stop offset=".508" stop-color="#009000"/><stop offset=".5163" stop-color="#008d00"/><stop offset=".5246" stop-color="#008800"/><stop offset=".533" stop-color="#008300"/><stop offset=".5413" stop-color="#008000"/><stop offset=".5496" stop-color="#008100"/><stop offset=".5579" stop-color="#008700"/><stop offset=".5663" stop-color="#009000"/><stop offset=".5746" stop-color="#009a00"/><stop offset=".5829" stop-color="#00a300"/><stop offset=".5913" stop-color="#00a900"/><stop offset=".5996" stop-color="#00aa00"/><stop offset=".6079" stop-color="#00a600"/><stop offset=".6162" stop-color="#009e00"/><stop offset=".6246" stop-color="#009400"/><stop offset=".6329" stop-color="#008b00"/><stop offset=".6412" stop-color="#008300"/><stop offset=".6495" stop-color="#008000"/><stop offset=".6579" stop-color="#008400"/><stop offset=".6662" stop-color="#009300"/><stop offset=".6745" stop-color="#00a800"/><stop offset=".6829" stop-color="#00bf00"/><stop offset=".6912" stop-color="#00d300"/><stop offset=".6995" stop-color="#00e000"/><stop offset=".7078" stop-color="#00e000"/><stop offset=".7162" stop-color="#00cb00"/><stop offset=".7245" stop-color="#00a800"/><stop offset=".7328" stop-color="#008700"/><stop offset=".7412" stop-color="#006c00"/><stop offset=".7495" stop-color="#005000"/><stop offset=".7578" stop-color="#003c00"/><stop offset=".7661" stop-color="#003a00"/><stop offset=".7745" stop-color="#004700"/><stop offset=".7828" stop-color="#005b00"/><stop offset=".7911" stop-color="#007100"/><stop offset=".7994" stop-color="#008700"/><stop offset=".8078" stop-color="#00a400"/><stop offset=".8161" stop-color="#00c500"/><stop offset=".8244" stop-color="#00e100"/><stop offset=".8328" stop-color="#00f000"/><stop offset=".8411" stop-color="#00ef00"/><stop offset=".8494" stop-color="#00e600"/><stop offset=".8577" stop-color="#00d900"/><stop offset=".8661" stop-color="#00c800"/><stop offset=".8744" stop-color="#00b600"/><stop offset=".8827" stop-color="#00a400"/><stop offset=".891" stop-color="#009400"/><stop offset=".8994" stop-color="#008700"/><stop offset=".9077" stop-color="#008000"/><stop offset=".916" stop-color="#008000"/><stop offset=".9244" stop-color="#008700"/><stop offset=".9327" stop-color="#009300"/><stop offset=".941" stop-color="#00a000"/><stop offset=".9493" stop-color="#00af00"/><stop offset=".9577" stop-color="#00bb00"/><stop offset=".966" stop-color="#00c400"/><stop offset=".9743" stop-color="#00c600"/><stop offset=".9827" stop-color="#00c300"/><stop offset=".991" stop-color="#00bc00"/><stop offset=".9993" stop-color="#00b100"/></linearGradient>
<filter id="adb" x="0" y="0" width="1" height="1" color-interpolation-filters="sRGB"><feColorMatrix in="SourceGraphic" type="matrix" values="1 0 0 0 0 1 0 0 0 0 1 0 0 0 0 0 0 0 0 1" result="A"/><feColorMatrix in="SourceGraphic" type="matrix" values="0 1 0 0 0 0 1 0 0 0 0 1 0 0 0 0 0 0 0 1" result="B"/><feColorMatrix in="SourceGraphic" type="matrix" values="0 0 1 0 0 0 0 1 0 0 0 0 1 0 0 0 0 0 0 1" result="C"/><feComposite in="A" in2="B" operator="arithmetic" k1="1.5" k2="-.75" k3="-.75" k4=".875" result="D"/><feComposite in="D" in2="C" operator="arithmetic" k1="0" k2="1" k3="1" k4="-.5" result="E"/><feColorMatrix in="E" type="matrix" values="0 0 0 0 0 0 0 0 0 0 1 0 0 0 0 0 0 0 0 1"/></filter>
<filter id="cmb" x="0" y="0" width="1" height="1" color-interpolation-filters="sRGB"><feColorMatrix in="SourceGraphic" type="matrix" values="1 0 0 0 0 1 0 0 0 0 1 0 0 0 0 0 0 0 0 1" result="A"/><feColorMatrix in="SourceGraphic" type="matrix" values="0 1 0 0 0 0 1 0 0 0 0 1 0 0 0 0 0 0 0 1" result="B"/><feColorMatrix in="SourceGraphic" type="matrix" values="0 0 1 0 0 0 0 1 0 0 0 0 1 0 0 0 0 0 0 1" result="C"/><feComposite in="A" in2="B" operator="arithmetic" k1=".85" k2="0" k3="-.5214" k4=".5929" result="U"/><feComposite in="U" in2="C" operator="arithmetic" k1="0" k2="1" k3=".8571" k4="-.4286"/><feComponentTransfer><feFuncR type="table" tableValues="0 0 0 1 1"/><feFuncG type="table" tableValues="0 1 1 1 0"/><feFuncB type="table" tableValues="1 1 0 0 0"/></feComponentTransfer></filter>
<clipPath id="chb"><rect x="601.25" y="81.5" width="306.75" height="294.25"/></clipPath>
<radialGradient id="rg0030ff"><stop offset="0" stop-color="#0030ff"/><stop offset=".45" stop-color="#0030ff" stop-opacity=".8"/><stop offset="1" stop-color="#0030ff" stop-opacity="0"/></radialGradient>
<radialGradient id="rg000a50"><stop offset="0" stop-color="#000a50"/><stop offset=".45" stop-color="#000a50" stop-opacity=".8"/><stop offset="1" stop-color="#000a50" stop-opacity="0"/></radialGradient>
<radialGradient id="rgffb000"><stop offset="0" stop-color="#ffb000"/><stop offset=".45" stop-color="#ffb000" stop-opacity=".8"/><stop offset="1" stop-color="#ffb000" stop-opacity="0"/></radialGradient>
<linearGradient id="hsc" x1="0" x2="1" y1="0" y2="0"><stop offset="0" stop-color="#880000"/><stop offset=".005" stop-color="#880000"/><stop offset=".01" stop-color="#890000"/><stop offset=".015" stop-color="#890000"/><stop offset=".02" stop-color="#890000"/><stop offset=".025" stop-color="#890000"/><stop offset=".03" stop-color="#890000"/><stop offset=".035" stop-color="#890000"/><stop offset=".04" stop-color="#890000"/><stop offset=".045" stop-color="#890000"/><stop offset=".05" stop-color="#890000"/><stop offset=".055" stop-color="#8a0000"/><stop offset=".06" stop-color="#8a0000"/><stop offset=".065" stop-color="#8a0000"/><stop offset=".07" stop-color="#8a0000"/><stop offset=".075" stop-color="#8b0000"/><stop offset=".08" stop-color="#8b0000"/><stop offset=".085" stop-color="#8c0000"/><stop offset=".09" stop-color="#8f0000"/><stop offset=".095" stop-color="#920000"/><stop offset=".1" stop-color="#960000"/><stop offset=".105" stop-color="#9a0000"/><stop offset=".11" stop-color="#9d0000"/><stop offset=".115" stop-color="#a20000"/><stop offset=".12" stop-color="#a60000"/><stop offset=".125" stop-color="#aa0000"/><stop offset=".13" stop-color="#ab0000"/><stop offset=".135" stop-color="#aa0000"/><stop offset=".14" stop-color="#a80000"/><stop offset=".145" stop-color="#a60000"/><stop offset=".15" stop-color="#a40000"/><stop offset=".155" stop-color="#a30000"/><stop offset=".16" stop-color="#a40000"/><stop offset=".165" stop-color="#aa0000"/><stop offset=".17" stop-color="#b20000"/><stop offset=".175" stop-color="#bc0000"/><stop offset=".18" stop-color="#cd0000"/><stop offset=".185" stop-color="#e00000"/><stop offset=".19" stop-color="#ed0000"/><stop offset=".195" stop-color="#f90000"/><stop offset=".2" stop-color="#fa0000"/><stop offset=".205" stop-color="#ef0000"/><stop offset=".21" stop-color="#e00000"/><stop offset=".215" stop-color="#c80000"/><stop offset=".22" stop-color="#b00000"/><stop offset=".225" stop-color="#9a0000"/><stop offset=".23" stop-color="#840000"/><stop offset=".235" stop-color="#6f0000"/><stop offset=".24" stop-color="#5f0000"/><stop offset=".245" stop-color="#500000"/><stop offset=".25" stop-color="#420000"/><stop offset=".255" stop-color="#350000"/><stop offset=".26" stop-color="#280000"/><stop offset=".265" stop-color="#1c0000"/><stop offset=".27" stop-color="#110000"/><stop offset=".275" stop-color="#0b0000"/><stop offset=".28" stop-color="#060000"/><stop offset=".285" stop-color="#040000"/><stop offset=".29" stop-color="#060000"/><stop offset=".295" stop-color="#0d0000"/><stop offset=".3" stop-color="#140000"/><stop offset=".305" stop-color="#1e0000"/><stop offset=".31" stop-color="#290000"/><stop offset=".315" stop-color="#300000"/><stop offset=".32" stop-color="#350000"/><stop offset=".325" stop-color="#3a0000"/><stop offset=".33" stop-color="#3d0000"/><stop offset=".335" stop-color="#3f0000"/><stop offset=".34" stop-color="#3f0000"/><stop offset=".345" stop-color="#3f0000"/><stop offset=".35" stop-color="#3e0000"/><stop offset=".355" stop-color="#3e0000"/><stop offset=".36" stop-color="#3d0000"/><stop offset=".365" stop-color="#3c0000"/><stop offset=".37" stop-color="#390000"/><stop offset=".375" stop-color="#350000"/><stop offset=".38" stop-color="#320000"/><stop offset=".385" stop-color="#2e0000"/><stop offset=".39" stop-color="#2a0000"/><stop offset=".395" stop-color="#260000"/><stop offset=".4" stop-color="#250000"/><stop offset=".405" stop-color="#270000"/><stop offset=".41" stop-color="#2b0000"/><stop offset=".415" stop-color="#2f0000"/><stop offset=".42" stop-color="#330000"/><stop offset=".425" stop-color="#370000"/><stop offset=".43" stop-color="#3b0000"/><stop offset=".435" stop-color="#3f0000"/><stop offset=".44" stop-color="#430000"/><stop offset=".445" stop-color="#460000"/><stop offset=".45" stop-color="#490000"/><stop offset=".455" stop-color="#4b0000"/><stop offset=".46" stop-color="#4e0000"/><stop offset=".465" stop-color="#500000"/><stop offset=".47" stop-color="#520000"/><stop offset=".475" stop-color="#540000"/><stop offset=".48" stop-color="#550000"/><stop offset=".485" stop-color="#560000"/><stop offset=".49" stop-color="#580000"/><stop offset=".495" stop-color="#590000"/><stop offset=".5" stop-color="#590000"/><stop offset=".505" stop-color="#590000"/><stop offset=".51" stop-color="#590000"/><stop offset=".515" stop-color="#590000"/><stop offset=".52" stop-color="#590000"/><stop offset=".525" stop-color="#590000"/><stop offset=".53" stop-color="#590000"/><stop offset=".535" stop-color="#590000"/><stop offset=".54" stop-color="#5a0000"/><stop offset=".55" stop-color="#5b0000"/><stop offset=".56" stop-color="#5d0000"/><stop offset=".57" stop-color="#5f0000"/><stop offset=".58" stop-color="#610000"/><stop offset=".59" stop-color="#640000"/><stop offset=".6" stop-color="#670000"/><stop offset=".61" stop-color="#6b0000"/><stop offset=".62" stop-color="#6e0000"/><stop offset=".63" stop-color="#720000"/><stop offset=".64" stop-color="#750000"/><stop offset=".65" stop-color="#790000"/><stop offset=".66" stop-color="#7b0000"/><stop offset=".67" stop-color="#7e0000"/><stop offset=".68" stop-color="#810000"/><stop offset=".69" stop-color="#830000"/><stop offset=".7" stop-color="#840000"/><stop offset=".71" stop-color="#840000"/><stop offset=".72" stop-color="#840000"/><stop offset=".73" stop-color="#850000"/><stop offset=".74" stop-color="#850000"/><stop offset=".75" stop-color="#850000"/><stop offset=".76" stop-color="#850000"/><stop offset=".77" stop-color="#850000"/><stop offset=".78" stop-color="#860000"/><stop offset=".79" stop-color="#860000"/><stop offset=".8" stop-color="#860000"/><stop offset=".81" stop-color="#860000"/><stop offset=".82" stop-color="#870000"/><stop offset=".83" stop-color="#870000"/><stop offset=".84" stop-color="#870000"/><stop offset=".85" stop-color="#880000"/><stop offset=".86" stop-color="#880000"/><stop offset=".87" stop-color="#880000"/><stop offset=".88" stop-color="#880000"/><stop offset=".89" stop-color="#880000"/><stop offset=".9" stop-color="#880000"/><stop offset=".91" stop-color="#880000"/><stop offset=".92" stop-color="#880000"/><stop offset=".93" stop-color="#880000"/><stop offset=".94" stop-color="#880000"/><stop offset=".95" stop-color="#880000"/><stop offset=".96" stop-color="#880000"/><stop offset=".97" stop-color="#880000"/><stop offset=".98" stop-color="#880000"/><stop offset=".99" stop-color="#880000"/><stop offset="1" stop-color="#880000"/></linearGradient>
<linearGradient id="hgc" x1="0" x2="0" y1="1" y2="0"><stop offset="0" stop-color="#000000"/><stop offset=".0035" stop-color="#001400"/><stop offset=".0083" stop-color="#008c00"/><stop offset=".0146" stop-color="#00d600"/><stop offset=".0208" stop-color="#00e500"/><stop offset=".026" stop-color="#00eb00"/><stop offset=".0416" stop-color="#00f500"/><stop offset=".0625" stop-color="#00fc00"/><stop offset=".0798" stop-color="#00ff00"/><stop offset=".0833" stop-color="#00ff00"/><stop offset=".1041" stop-color="#00fd00"/><stop offset=".1249" stop-color="#00fa00"/><stop offset=".1388" stop-color="#00f700"/><stop offset=".1457" stop-color="#00f600"/><stop offset=".1666" stop-color="#00f100"/><stop offset=".1874" stop-color="#00ec00"/><stop offset=".2082" stop-color="#00e600"/><stop offset=".229" stop-color="#00de00"/><stop offset=".2498" stop-color="#00d600"/><stop offset=".2706" stop-color="#00ce00"/><stop offset=".2776" stop-color="#00cc00"/><stop offset=".2915" stop-color="#00c800"/><stop offset=".3123" stop-color="#00c100"/><stop offset=".3331" stop-color="#00bb00"/><stop offset=".347" stop-color="#00b800"/><stop offset=".3539" stop-color="#00b600"/><stop offset=".3747" stop-color="#00b100"/><stop offset=".3956" stop-color="#00ac00"/><stop offset=".4164" stop-color="#00a700"/><stop offset=".4337" stop-color="#00a300"/><stop offset=".4372" stop-color="#00a200"/><stop offset=".458" stop-color="#009d00"/><stop offset=".4788" stop-color="#009800"/><stop offset=".4997" stop-color="#009300"/><stop offset=".5205" stop-color="#008f00"/><stop offset=".5413" stop-color="#008b00"/><stop offset=".5621" stop-color="#008700"/><stop offset=".5829" stop-color="#008400"/><stop offset=".6037" stop-color="#008000"/><stop offset=".6072" stop-color="#008000"/><stop offset=".6246" stop-color="#007c00"/><stop offset=".6454" stop-color="#007800"/><stop offset=".6662" stop-color="#007500"/><stop offset=".687" stop-color="#007100"/><stop offset=".694" stop-color="#007000"/><stop offset=".7078" stop-color="#006e00"/><stop offset=".7287" stop-color="#006c00"/><stop offset=".7495" stop-color="#006900"/><stop offset=".7703" stop-color="#006700"/><stop offset=".7807" stop-color="#006600"/><stop offset=".7911" stop-color="#006500"/><stop offset=".8119" stop-color="#006300"/><stop offset=".8328" stop-color="#006100"/><stop offset=".8536" stop-color="#005f00"/><stop offset=".8675" stop-color="#005e00"/><stop offset=".8744" stop-color="#005e00"/><stop offset=".8952" stop-color="#005d00"/><stop offset=".916" stop-color="#005c00"/><stop offset=".9368" stop-color="#005b00"/><stop offset=".9577" stop-color="#005a00"/><stop offset=".9785" stop-color="#005a00"/><stop offset=".9993" stop-color="#005900"/><stop offset="1" stop-color="#005900"/></linearGradient>
<linearGradient id="hnc" x1="0" x2="1" y1="0" y2="0"><stop offset="0" stop-color="#990080"/><stop offset=".01" stop-color="#990080"/><stop offset=".02" stop-color="#990080"/><stop offset=".03" stop-color="#990080"/><stop offset=".04" stop-color="#990080"/><stop offset=".05" stop-color="#990080"/><stop offset=".06" stop-color="#990080"/><stop offset=".07" stop-color="#990080"/><stop offset=".08" stop-color="#990080"/><stop offset=".09" stop-color="#990080"/><stop offset=".1" stop-color="#990080"/><stop offset=".11" stop-color="#990080"/><stop offset=".12" stop-color="#990080"/><stop offset=".13" stop-color="#990080"/><stop offset=".14" stop-color="#990080"/><stop offset=".15" stop-color="#990080"/><stop offset=".16" stop-color="#990080"/><stop offset=".17" stop-color="#990080"/><stop offset=".18" stop-color="#990080"/><stop offset=".19" stop-color="#970080"/><stop offset=".2" stop-color="#920080"/><stop offset=".21" stop-color="#8c0080"/><stop offset=".22" stop-color="#8a0080"/><stop offset=".23" stop-color="#890080"/><stop offset=".24" stop-color="#890080"/><stop offset=".25" stop-color="#890080"/><stop offset=".26" stop-color="#890080"/><stop offset=".27" stop-color="#880080"/><stop offset=".28" stop-color="#880080"/><stop offset=".29" stop-color="#880080"/><stop offset=".3" stop-color="#880080"/><stop offset=".31" stop-color="#880080"/><stop offset=".32" stop-color="#880080"/><stop offset=".33" stop-color="#880080"/><stop offset=".34" stop-color="#880080"/><stop offset=".35" stop-color="#880080"/><stop offset=".36" stop-color="#880080"/><stop offset=".37" stop-color="#880080"/><stop offset=".38" stop-color="#880080"/><stop offset=".39" stop-color="#880080"/><stop offset=".4" stop-color="#880080"/><stop offset=".41" stop-color="#880080"/><stop offset=".42" stop-color="#870080"/><stop offset=".43" stop-color="#870080"/><stop offset=".44" stop-color="#870080"/><stop offset=".45" stop-color="#870080"/><stop offset=".46" stop-color="#870080"/><stop offset=".47" stop-color="#860080"/><stop offset=".48" stop-color="#860080"/><stop offset=".49" stop-color="#7c0080"/><stop offset=".5" stop-color="#6c0080"/><stop offset=".51" stop-color="#5c0080"/><stop offset=".52" stop-color="#530080"/><stop offset=".53" stop-color="#5d0080"/><stop offset=".54" stop-color="#6e0080"/><stop offset=".544" stop-color="#730080"/><stop offset=".55" stop-color="#770080"/><stop offset=".56" stop-color="#7d0080"/><stop offset=".57" stop-color="#800080"/><stop offset=".58" stop-color="#670080"/><stop offset=".59" stop-color="#400080"/><stop offset=".6" stop-color="#1e0080"/><stop offset=".61" stop-color="#030080"/><stop offset=".614" stop-color="#000080"/><stop offset=".62" stop-color="#080080"/><stop offset=".63" stop-color="#2a0080"/><stop offset=".64" stop-color="#4c0080"/><stop offset=".65" stop-color="#650080"/><stop offset=".66" stop-color="#7a0080"/><stop offset=".664" stop-color="#800080"/><stop offset=".67" stop-color="#870080"/><stop offset=".68" stop-color="#930080"/><stop offset=".69" stop-color="#9c0080"/><stop offset=".7" stop-color="#9f0080"/><stop offset=".71" stop-color="#9a0080"/><stop offset=".72" stop-color="#910080"/><stop offset=".73" stop-color="#8c0080"/><stop offset=".74" stop-color="#9d0080"/><stop offset=".75" stop-color="#b60080"/><stop offset=".754" stop-color="#b90080"/><stop offset=".76" stop-color="#b30080"/><stop offset=".77" stop-color="#950080"/><stop offset=".776" stop-color="#800080"/><stop offset=".78" stop-color="#6d0080"/><stop offset=".79" stop-color="#330080"/><stop offset=".8" stop-color="#070080"/><stop offset=".804" stop-color="#000080"/><stop offset=".81" stop-color="#0c0080"/><stop offset=".82" stop-color="#330080"/><stop offset=".83" stop-color="#5a0080"/><stop offset=".836" stop-color="#660080"/><stop offset=".84" stop-color="#610080"/><stop offset=".85" stop-color="#470080"/><stop offset=".852" stop-color="#460080"/><stop offset=".86" stop-color="#530080"/><stop offset=".87" stop-color="#730080"/><stop offset=".876" stop-color="#800080"/><stop offset=".88" stop-color="#840080"/><stop offset=".89" stop-color="#8e0080"/><stop offset=".9" stop-color="#930080"/><stop offset=".91" stop-color="#940080"/><stop offset=".92" stop-color="#950080"/><stop offset=".93" stop-color="#960080"/><stop offset=".94" stop-color="#970080"/><stop offset=".95" stop-color="#980080"/><stop offset=".96" stop-color="#980080"/><stop offset=".97" stop-color="#990080"/><stop offset=".98" stop-color="#990080"/><stop offset=".99" stop-color="#990080"/><stop offset="1" stop-color="#990080"/></linearGradient>
<linearGradient id="hmc" x1="0" x2="0" y1="1" y2="0"><stop offset="0" stop-color="#008000"/><stop offset=".0083" stop-color="#007200"/><stop offset=".0167" stop-color="#006700"/><stop offset=".025" stop-color="#006000"/><stop offset=".0333" stop-color="#005b00"/><stop offset=".0416" stop-color="#005700"/><stop offset=".05" stop-color="#005600"/><stop offset=".0583" stop-color="#005500"/><stop offset=".0666" stop-color="#005500"/><stop offset=".0749" stop-color="#006600"/><stop offset=".0833" stop-color="#009000"/><stop offset=".0916" stop-color="#00b900"/><stop offset=".0999" stop-color="#00c500"/><stop offset=".1083" stop-color="#009f00"/><stop offset=".1166" stop-color="#006200"/><stop offset=".1249" stop-color="#003200"/><stop offset=".1332" stop-color="#002c00"/><stop offset=".1416" stop-color="#003400"/><stop offset=".1499" stop-color="#004100"/><stop offset=".1582" stop-color="#005200"/><stop offset=".1666" stop-color="#006e00"/><stop offset=".1749" stop-color="#009c00"/><stop offset=".1832" stop-color="#00c600"/><stop offset=".1915" stop-color="#00d300"/><stop offset=".1999" stop-color="#00a000"/><stop offset=".2082" stop-color="#005900"/><stop offset=".2165" stop-color="#004f00"/><stop offset=".2248" stop-color="#009500"/><stop offset=".2332" stop-color="#00da00"/><stop offset=".2415" stop-color="#00d700"/><stop offset=".2498" stop-color="#00a300"/><stop offset=".2582" stop-color="#006700"/><stop offset=".2665" stop-color="#004700"/><stop offset=".2748" stop-color="#005a00"/><stop offset=".2831" stop-color="#008d00"/><stop offset=".2915" stop-color="#00c700"/><stop offset=".2998" stop-color="#00f400"/><stop offset=".3081" stop-color="#00fd00"/><stop offset=".3164" stop-color="#00e900"/><stop offset=".3248" stop-color="#00c400"/><stop offset=".3331" stop-color="#009a00"/><stop offset=".3414" stop-color="#007600"/><stop offset=".3498" stop-color="#006400"/><stop offset=".3581" stop-color="#006900"/><stop offset=".3664" stop-color="#007e00"/><stop offset=".3747" stop-color="#009c00"/><stop offset=".3831" stop-color="#00bc00"/><stop offset=".3914" stop-color="#00da00"/><stop offset=".3997" stop-color="#00ed00"/><stop offset=".408" stop-color="#00ec00"/><stop offset=".4164" stop-color="#00b900"/><stop offset=".4247" stop-color="#007000"/><stop offset=".433" stop-color="#003d00"/><stop offset=".4414" stop-color="#004200"/><stop offset=".4497" stop-color="#006900"/><stop offset=".458" stop-color="#009400"/><stop offset=".4663" stop-color="#00aa00"/><stop offset=".4747" stop-color="#009d00"/><stop offset=".483" stop-color="#007e00"/><stop offset=".4913" stop-color="#005900"/><stop offset=".4997" stop-color="#003f00"/><stop offset=".508" stop-color="#003a00"/><stop offset=".5163" stop-color="#004e00"/><stop offset=".5246" stop-color="#007100"/><stop offset=".533" stop-color="#009b00"/><stop offset=".5413" stop-color="#00c300"/><stop offset=".5496" stop-color="#00e300"/><stop offset=".5579" stop-color="#00f100"/><stop offset=".5663" stop-color="#00e200"/><stop offset=".5746" stop-color="#00b700"/><stop offset=".5829" stop-color="#007e00"/><stop offset=".5913" stop-color="#004300"/><stop offset=".5996" stop-color="#001500"/><stop offset=".6079" stop-color="#000000"/><stop offset=".6162" stop-color="#000b00"/><stop offset=".6246" stop-color="#002b00"/><stop offset=".6329" stop-color="#005700"/><stop offset=".6412" stop-color="#008800"/><stop offset=".6495" stop-color="#00b500"/><stop offset=".6579" stop-color="#00d600"/><stop offset=".6662" stop-color="#00e300"/><stop offset=".6745" stop-color="#00da00"/><stop offset=".6829" stop-color="#00c500"/><stop offset=".6912" stop-color="#00ab00"/><stop offset=".6995" stop-color="#009200"/><stop offset=".7078" stop-color="#008200"/><stop offset=".7162" stop-color="#008100"/><stop offset=".7245" stop-color="#008f00"/><stop offset=".7328" stop-color="#00a500"/><stop offset=".7412" stop-color="#00bf00"/><stop offset=".7495" stop-color="#00d800"/><stop offset=".7578" stop-color="#00ea00"/><stop offset=".7661" stop-color="#00f100"/><stop offset=".7745" stop-color="#00ee00"/><stop offset=".7828" stop-color="#00e500"/><stop offset=".7911" stop-color="#00d900"/><stop offset=".7994" stop-color="#00c900"/><stop offset=".8078" stop-color="#00b900"/><stop offset=".8161" stop-color="#00a800"/><stop offset=".8244" stop-color="#009900"/><stop offset=".8328" stop-color="#008c00"/><stop offset=".8411" stop-color="#008300"/><stop offset=".8494" stop-color="#008000"/><stop offset=".8577" stop-color="#008100"/><stop offset=".8661" stop-color="#008400"/><stop offset=".8744" stop-color="#008900"/><stop offset=".8827" stop-color="#008f00"/><stop offset=".891" stop-color="#009400"/><stop offset=".8994" stop-color="#009900"/><stop offset=".9077" stop-color="#009b00"/><stop offset=".916" stop-color="#009900"/><stop offset=".9244" stop-color="#008a00"/><stop offset=".9327" stop-color="#007100"/><stop offset=".941" stop-color="#005700"/><stop offset=".9493" stop-color="#004100"/><stop offset=".9577" stop-color="#003900"/><stop offset=".966" stop-color="#003b00"/><stop offset=".9743" stop-color="#004100"/><stop offset=".9827" stop-color="#004b00"/><stop offset=".991" stop-color="#005b00"/><stop offset=".9993" stop-color="#007100"/></linearGradient>
<filter id="adc" x="0" y="0" width="1" height="1" color-interpolation-filters="sRGB"><feColorMatrix in="SourceGraphic" type="matrix" values="1 0 0 0 0 1 0 0 0 0 1 0 0 0 0 0 0 0 0 1" result="A"/><feColorMatrix in="SourceGraphic" type="matrix" values="0 1 0 0 0 0 1 0 0 0 0 1 0 0 0 0 0 0 0 1" result="B"/><feColorMatrix in="SourceGraphic" type="matrix" values="0 0 1 0 0 0 0 1 0 0 0 0 1 0 0 0 0 0 0 1" result="C"/><feComposite in="A" in2="B" operator="arithmetic" k1=".66" k2="-.33" k3="-.33" k4=".665" result="D"/><feComposite in="D" in2="C" operator="arithmetic" k1="0" k2="1" k3="1" k4="-.5" result="E"/><feColorMatrix in="E" type="matrix" values="0 0 0 0 0 0 0 0 0 0 1 0 0 0 0 0 0 0 0 1"/></filter>
<filter id="cmc" x="0" y="0" width="1" height="1" color-interpolation-filters="sRGB"><feColorMatrix in="SourceGraphic" type="matrix" values="1 0 0 0 0 1 0 0 0 0 1 0 0 0 0 0 0 0 0 1" result="A"/><feColorMatrix in="SourceGraphic" type="matrix" values="0 1 0 0 0 0 1 0 0 0 0 1 0 0 0 0 0 0 0 1" result="B"/><feColorMatrix in="SourceGraphic" type="matrix" values="0 0 1 0 0 0 0 1 0 0 0 0 1 0 0 0 0 0 0 1" result="C"/><feComposite in="A" in2="B" operator="arithmetic" k1=".9455" k2="0" k3="-.5061" k4=".5788" result="U"/><feComposite in="U" in2="C" operator="arithmetic" k1="0" k2="1" k3=".3636" k4="-.1818"/><feComponentTransfer><feFuncR type="table" tableValues="0 0 0 1 1"/><feFuncG type="table" tableValues="0 1 1 1 0"/><feFuncB type="table" tableValues="1 1 0 0 0"/></feComponentTransfer></filter>
<clipPath id="chc"><rect x="1091.75" y="83.75" width="305.75" height="292.5"/></clipPath>
<radialGradient id="rg00a0ff"><stop offset="0" stop-color="#00a0ff"/><stop offset=".45" stop-color="#00a0ff" stop-opacity=".8"/><stop offset="1" stop-color="#00a0ff" stop-opacity="0"/></radialGradient>
<linearGradient id="hsd" x1="0" x2="1" y1="0" y2="0"><stop offset="0" stop-color="#910000"/><stop offset=".005" stop-color="#910000"/><stop offset=".01" stop-color="#910000"/><stop offset=".015" stop-color="#910000"/><stop offset=".02" stop-color="#910000"/><stop offset=".025" stop-color="#910000"/><stop offset=".03" stop-color="#910000"/><stop offset=".035" stop-color="#910000"/><stop offset=".04" stop-color="#910000"/><stop offset=".045" stop-color="#910000"/><stop offset=".05" stop-color="#920000"/><stop offset=".055" stop-color="#920000"/><stop offset=".06" stop-color="#920000"/><stop offset=".065" stop-color="#920000"/><stop offset=".07" stop-color="#930000"/><stop offset=".075" stop-color="#930000"/><stop offset=".08" stop-color="#930000"/><stop offset=".085" stop-color="#940000"/><stop offset=".09" stop-color="#970000"/><stop offset=".095" stop-color="#9a0000"/><stop offset=".1" stop-color="#9d0000"/><stop offset=".105" stop-color="#a00000"/><stop offset=".11" stop-color="#a40000"/><stop offset=".115" stop-color="#a80000"/><stop offset=".12" stop-color="#ac0000"/><stop offset=".125" stop-color="#ae0000"/><stop offset=".13" stop-color="#ad0000"/><stop offset=".135" stop-color="#aa0000"/><stop offset=".14" stop-color="#a70000"/><stop offset=".145" stop-color="#a40000"/><stop offset=".15" stop-color="#a10000"/><stop offset=".155" stop-color="#9e0000"/><stop offset=".16" stop-color="#9d0000"/><stop offset=".165" stop-color="#a30000"/><stop offset=".17" stop-color="#b10000"/><stop offset=".175" stop-color="#c00000"/><stop offset=".18" stop-color="#d20000"/><stop offset=".185" stop-color="#e30000"/><stop offset=".19" stop-color="#ef0000"/><stop offset=".195" stop-color="#f90000"/><stop offset=".2" stop-color="#fa0000"/><stop offset=".205" stop-color="#f10000"/><stop offset=".21" stop-color="#e30000"/><stop offset=".215" stop-color="#ce0000"/><stop offset=".22" stop-color="#b80000"/><stop offset=".225" stop-color="#a20000"/><stop offset=".23" stop-color="#8c0000"/><stop offset=".235" stop-color="#750000"/><stop offset=".24" stop-color="#620000"/><stop offset=".245" stop-color="#500000"/><stop offset=".25" stop-color="#400000"/><stop offset=".255" stop-color="#330000"/><stop offset=".26" stop-color="#270000"/><stop offset=".265" stop-color="#1b0000"/><stop offset=".27" stop-color="#110000"/><stop offset=".275" stop-color="#0b0000"/><stop offset=".28" stop-color="#060000"/><stop offset=".285" stop-color="#040000"/><stop offset=".29" stop-color="#060000"/><stop offset=".295" stop-color="#0a0000"/><stop offset=".3" stop-color="#100000"/><stop offset=".305" stop-color="#180000"/><stop offset=".31" stop-color="#220000"/><stop offset=".315" stop-color="#2a0000"/><stop offset=".32" stop-color="#320000"/><stop offset=".325" stop-color="#3a0000"/><stop offset=".33" stop-color="#400000"/><stop offset=".335" stop-color="#430000"/><stop offset=".34" stop-color="#440000"/><stop offset=".345" stop-color="#440000"/><stop offset=".35" stop-color="#440000"/><stop offset=".355" stop-color="#440000"/><stop offset=".36" stop-color="#440000"/><stop offset=".365" stop-color="#420000"/><stop offset=".37" stop-color="#3d0000"/><stop offset=".375" stop-color="#380000"/><stop offset=".38" stop-color="#340000"/><stop offset=".385" stop-color="#310000"/><stop offset=".39" stop-color="#2e0000"/><stop offset=".395" stop-color="#2c0000"/><stop offset=".4" stop-color="#2b0000"/><stop offset=".405" stop-color="#2d0000"/><stop offset=".41" stop-color="#2f0000"/><stop offset=".415" stop-color="#330000"/><stop offset=".42" stop-color="#370000"/><stop offset=".425" stop-color="#3b0000"/><stop offset=".43" stop-color="#400000"/><stop offset=".435" stop-color="#450000"/><stop offset=".44" stop-color="#490000"/><stop offset=".445" stop-color="#4d0000"/><stop offset=".45" stop-color="#500000"/><stop offset=".455" stop-color="#530000"/><stop offset=".46" stop-color="#560000"/><stop offset=".465" stop-color="#590000"/><stop offset=".47" stop-color="#5b0000"/><stop offset=".475" stop-color="#5d0000"/><stop offset=".48" stop-color="#5f0000"/><stop offset=".485" stop-color="#610000"/><stop offset=".49" stop-color="#620000"/><stop offset=".495" stop-color="#630000"/><stop offset=".5" stop-color="#640000"/><stop offset=".505" stop-color="#640000"/><stop offset=".51" stop-color="#630000"/><stop offset=".515" stop-color="#630000"/><stop offset=".52" stop-color="#630000"/><stop offset=".525" stop-color="#620000"/><stop offset=".53" stop-color="#620000"/><stop offset=".535" stop-color="#620000"/><stop offset=".54" stop-color="#630000"/><stop offset=".55" stop-color="#640000"/><stop offset=".56" stop-color="#650000"/><stop offset=".57" stop-color="#670000"/><stop offset=".58" stop-color="#690000"/><stop offset=".59" stop-color="#6b0000"/><stop offset=".6" stop-color="#6e0000"/><stop offset=".61" stop-color="#720000"/><stop offset=".62" stop-color="#750000"/><stop offset=".63" stop-color="#790000"/><stop offset=".64" stop-color="#7d0000"/><stop offset=".65" stop-color="#810000"/><stop offset=".66" stop-color="#840000"/><stop offset=".67" stop-color="#870000"/><stop offset=".68" stop-color="#890000"/><stop offset=".69" stop-color="#8b0000"/><stop offset=".7" stop-color="#8c0000"/><stop offset=".71" stop-color="#8c0000"/><stop offset=".72" stop-color="#8d0000"/><stop offset=".73" stop-color="#8d0000"/><stop offset=".74" stop-color="#8d0000"/><stop offset=".75" stop-color="#8d0000"/><stop offset=".76" stop-color="#8e0000"/><stop offset=".77" stop-color="#8e0000"/><stop offset=".78" stop-color="#8e0000"/><stop offset=".79" stop-color="#8e0000"/><stop offset=".8" stop-color="#8e0000"/><stop offset=".81" stop-color="#8f0000"/><stop offset=".82" stop-color="#8f0000"/><stop offset=".83" stop-color="#8f0000"/><stop offset=".84" stop-color="#900000"/><stop offset=".85" stop-color="#900000"/><stop offset=".86" stop-color="#900000"/><stop offset=".87" stop-color="#900000"/><stop offset=".88" stop-color="#910000"/><stop offset=".89" stop-color="#910000"/><stop offset=".9" stop-color="#910000"/><stop offset=".91" stop-color="#910000"/><stop offset=".92" stop-color="#910000"/><stop offset=".93" stop-color="#910000"/><stop offset=".94" stop-color="#910000"/><stop offset=".95" stop-color="#910000"/><stop offset=".96" stop-color="#910000"/><stop offset=".97" stop-color="#910000"/><stop offset=".98" stop-color="#910000"/><stop offset=".99" stop-color="#910000"/><stop offset="1" stop-color="#910000"/></linearGradient>
<linearGradient id="hgd" x1="0" x2="0" y1="1" y2="0"><stop offset="0" stop-color="#000000"/><stop offset=".0035" stop-color="#001400"/><stop offset=".0083" stop-color="#008c00"/><stop offset=".0146" stop-color="#00d600"/><stop offset=".0208" stop-color="#00e500"/><stop offset=".026" stop-color="#00eb00"/><stop offset=".0416" stop-color="#00f500"/><stop offset=".0625" stop-color="#00fc00"/><stop offset=".0798" stop-color="#00ff00"/><stop offset=".0833" stop-color="#00ff00"/><stop offset=".1041" stop-color="#00fd00"/><stop offset=".1249" stop-color="#00fa00"/><stop offset=".1388" stop-color="#00f700"/><stop offset=".1457" stop-color="#00f600"/><stop offset=".1666" stop-color="#00f100"/><stop offset=".1874" stop-color="#00ec00"/><stop offset=".2082" stop-color="#00e600"/><stop offset=".229" stop-color="#00de00"/><stop offset=".2498" stop-color="#00d600"/><stop offset=".2706" stop-color="#00ce00"/><stop offset=".2776" stop-color="#00cc00"/><stop offset=".2915" stop-color="#00c800"/><stop offset=".3123" stop-color="#00c100"/><stop offset=".3331" stop-color="#00bb00"/><stop offset=".347" stop-color="#00b800"/><stop offset=".3539" stop-color="#00b600"/><stop offset=".3747" stop-color="#00b100"/><stop offset=".3956" stop-color="#00ac00"/><stop offset=".4164" stop-color="#00a700"/><stop offset=".4337" stop-color="#00a300"/><stop offset=".4372" stop-color="#00a200"/><stop offset=".458" stop-color="#009d00"/><stop offset=".4788" stop-color="#009800"/><stop offset=".4997" stop-color="#009300"/><stop offset=".5205" stop-color="#008f00"/><stop offset=".5413" stop-color="#008b00"/><stop offset=".5621" stop-color="#008700"/><stop offset=".5829" stop-color="#008400"/><stop offset=".6037" stop-color="#008000"/><stop offset=".6072" stop-color="#008000"/><stop offset=".6246" stop-color="#007c00"/><stop offset=".6454" stop-color="#007800"/><stop offset=".6662" stop-color="#007500"/><stop offset=".687" stop-color="#007100"/><stop offset=".694" stop-color="#007000"/><stop offset=".7078" stop-color="#006e00"/><stop offset=".7287" stop-color="#006c00"/><stop offset=".7495" stop-color="#006900"/><stop offset=".7703" stop-color="#006700"/><stop offset=".7807" stop-color="#006600"/><stop offset=".7911" stop-color="#006500"/><stop offset=".8119" stop-color="#006300"/><stop offset=".8328" stop-color="#006100"/><stop offset=".8536" stop-color="#005f00"/><stop offset=".8675" stop-color="#005e00"/><stop offset=".8744" stop-color="#005e00"/><stop offset=".8952" stop-color="#005d00"/><stop offset=".916" stop-color="#005c00"/><stop offset=".9368" stop-color="#005b00"/><stop offset=".9577" stop-color="#005a00"/><stop offset=".9785" stop-color="#005a00"/><stop offset=".9993" stop-color="#005900"/><stop offset="1" stop-color="#005900"/></linearGradient>
<linearGradient id="hnd" x1="0" x2="1" y1="0" y2="0"><stop offset="0" stop-color="#990080"/><stop offset=".01" stop-color="#990080"/><stop offset=".02" stop-color="#990080"/><stop offset=".03" stop-color="#990080"/><stop offset=".04" stop-color="#990080"/><stop offset=".05" stop-color="#990080"/><stop offset=".06" stop-color="#990080"/><stop offset=".07" stop-color="#990080"/><stop offset=".08" stop-color="#990080"/><stop offset=".09" stop-color="#990080"/><stop offset=".1" stop-color="#990080"/><stop offset=".11" stop-color="#990080"/><stop offset=".12" stop-color="#990080"/><stop offset=".13" stop-color="#990080"/><stop offset=".14" stop-color="#990068"/><stop offset=".142" stop-color="#990060"/><stop offset=".15" stop-color="#990024"/><stop offset=".158" stop-color="#99001a"/><stop offset=".16" stop-color="#99001b"/><stop offset=".166" stop-color="#99002a"/><stop offset=".17" stop-color="#990042"/><stop offset=".176" stop-color="#99006a"/><stop offset=".18" stop-color="#990076"/><stop offset=".186" stop-color="#980080"/><stop offset=".19" stop-color="#970080"/><stop offset=".2" stop-color="#920080"/><stop offset=".21" stop-color="#8c0080"/><stop offset=".22" stop-color="#8a0080"/><stop offset=".23" stop-color="#890080"/><stop offset=".24" stop-color="#890080"/><stop offset=".25" stop-color="#890080"/><stop offset=".26" stop-color="#890080"/><stop offset=".27" stop-color="#880080"/><stop offset=".28" stop-color="#880080"/><stop offset=".29" stop-color="#880080"/><stop offset=".3" stop-color="#880080"/><stop offset=".31" stop-color="#880080"/><stop offset=".32" stop-color="#880080"/><stop offset=".33" stop-color="#880080"/><stop offset=".34" stop-color="#880080"/><stop offset=".35" stop-color="#880080"/><stop offset=".36" stop-color="#880080"/><stop offset=".37" stop-color="#880080"/><stop offset=".38" stop-color="#880080"/><stop offset=".39" stop-color="#880080"/><stop offset=".4" stop-color="#880080"/><stop offset=".41" stop-color="#880080"/><stop offset=".42" stop-color="#870080"/><stop offset=".43" stop-color="#870080"/><stop offset=".44" stop-color="#870080"/><stop offset=".45" stop-color="#870080"/><stop offset=".46" stop-color="#870080"/><stop offset=".47" stop-color="#860080"/><stop offset=".48" stop-color="#860080"/><stop offset=".49" stop-color="#7c0080"/><stop offset=".5" stop-color="#6c0080"/><stop offset=".51" stop-color="#5c0080"/><stop offset=".52" stop-color="#530080"/><stop offset=".53" stop-color="#5d0080"/><stop offset=".54" stop-color="#6e0080"/><stop offset=".544" stop-color="#730080"/><stop offset=".55" stop-color="#770080"/><stop offset=".56" stop-color="#7d0080"/><stop offset=".57" stop-color="#800080"/><stop offset=".58" stop-color="#670080"/><stop offset=".59" stop-color="#400080"/><stop offset=".6" stop-color="#1e0080"/><stop offset=".61" stop-color="#030080"/><stop offset=".614" stop-color="#000080"/><stop offset=".62" stop-color="#080080"/><stop offset=".63" stop-color="#2a0080"/><stop offset=".64" stop-color="#4c0080"/><stop offset=".65" stop-color="#650080"/><stop offset=".66" stop-color="#7a0080"/><stop offset=".664" stop-color="#800080"/><stop offset=".67" stop-color="#870080"/><stop offset=".68" stop-color="#930080"/><stop offset=".69" stop-color="#9c0080"/><stop offset=".7" stop-color="#9f0080"/><stop offset=".71" stop-color="#9a0080"/><stop offset=".72" stop-color="#910080"/><stop offset=".73" stop-color="#8c0080"/><stop offset=".74" stop-color="#9d0080"/><stop offset=".75" stop-color="#b60080"/><stop offset=".754" stop-color="#b90080"/><stop offset=".76" stop-color="#b30080"/><stop offset=".77" stop-color="#950080"/><stop offset=".776" stop-color="#800080"/><stop offset=".78" stop-color="#6d0080"/><stop offset=".79" stop-color="#330080"/><stop offset=".8" stop-color="#070080"/><stop offset=".804" stop-color="#000080"/><stop offset=".81" stop-color="#0c0080"/><stop offset=".82" stop-color="#330080"/><stop offset=".83" stop-color="#5a0080"/><stop offset=".836" stop-color="#660080"/><stop offset=".84" stop-color="#610080"/><stop offset=".85" stop-color="#470080"/><stop offset=".852" stop-color="#460080"/><stop offset=".86" stop-color="#530080"/><stop offset=".87" stop-color="#730080"/><stop offset=".876" stop-color="#800080"/><stop offset=".88" stop-color="#840080"/><stop offset=".89" stop-color="#8e0080"/><stop offset=".9" stop-color="#930080"/><stop offset=".91" stop-color="#940080"/><stop offset=".92" stop-color="#950080"/><stop offset=".93" stop-color="#960080"/><stop offset=".94" stop-color="#970080"/><stop offset=".95" stop-color="#980080"/><stop offset=".96" stop-color="#980080"/><stop offset=".97" stop-color="#990080"/><stop offset=".98" stop-color="#990080"/><stop offset=".99" stop-color="#990080"/><stop offset="1" stop-color="#990080"/></linearGradient>
<linearGradient id="hmd" x1="0" x2="0" y1="1" y2="0"><stop offset="0" stop-color="#008000"/><stop offset=".0083" stop-color="#007600"/><stop offset=".0167" stop-color="#006f00"/><stop offset=".025" stop-color="#006900"/><stop offset=".0333" stop-color="#006600"/><stop offset=".0416" stop-color="#006400"/><stop offset=".05" stop-color="#006300"/><stop offset=".0583" stop-color="#006200"/><stop offset=".0666" stop-color="#006200"/><stop offset=".0749" stop-color="#006e00"/><stop offset=".0833" stop-color="#008b00"/><stop offset=".0916" stop-color="#00a700"/><stop offset=".0999" stop-color="#00b000"/><stop offset=".1083" stop-color="#009d00"/><stop offset=".1166" stop-color="#007e00"/><stop offset=".1249" stop-color="#006600"/><stop offset=".1332" stop-color="#006700"/><stop offset=".1416" stop-color="#008300"/><stop offset=".1499" stop-color="#00a500"/><stop offset=".1582" stop-color="#00ba00"/><stop offset=".1666" stop-color="#00ae00"/><stop offset=".1749" stop-color="#008a00"/><stop offset=".1832" stop-color="#006600"/><stop offset=".1915" stop-color="#005900"/><stop offset=".1999" stop-color="#006f00"/><stop offset=".2082" stop-color="#009500"/><stop offset=".2165" stop-color="#00b500"/><stop offset=".2248" stop-color="#00b600"/><stop offset=".2332" stop-color="#009500"/><stop offset=".2415" stop-color="#006a00"/><stop offset=".2498" stop-color="#005000"/><stop offset=".2582" stop-color="#005e00"/><stop offset=".2665" stop-color="#008f00"/><stop offset=".2748" stop-color="#00c300"/><stop offset=".2831" stop-color="#00d800"/><stop offset=".2915" stop-color="#00cf00"/><stop offset=".2998" stop-color="#00bc00"/><stop offset=".3081" stop-color="#00a400"/><stop offset=".3164" stop-color="#008e00"/><stop offset=".3248" stop-color="#008100"/><stop offset=".3331" stop-color="#008200"/><stop offset=".3414" stop-color="#009100"/><stop offset=".3498" stop-color="#00a700"/><stop offset=".3581" stop-color="#00be00"/><stop offset=".3664" stop-color="#00d100"/><stop offset=".3747" stop-color="#00d800"/><stop offset=".3831" stop-color="#00cd00"/><stop offset=".3914" stop-color="#00b400"/><stop offset=".3997" stop-color="#009500"/><stop offset=".408" stop-color="#007700"/><stop offset=".4164" stop-color="#006500"/><stop offset=".4247" stop-color="#006500"/><stop offset=".433" stop-color="#007900"/><stop offset=".4414" stop-color="#009900"/><stop offset=".4497" stop-color="#00bb00"/><stop offset=".458" stop-color="#00d600"/><stop offset=".4663" stop-color="#00e200"/><stop offset=".4747" stop-color="#00d800"/><stop offset=".483" stop-color="#00bf00"/><stop offset=".4913" stop-color="#00a300"/><stop offset=".4997" stop-color="#008e00"/><stop offset=".508" stop-color="#008a00"/><stop offset=".5163" stop-color="#009700"/><stop offset=".5246" stop-color="#00ac00"/><stop offset=".533" stop-color="#00c300"/><stop offset=".5413" stop-color="#00d700"/><stop offset=".5496" stop-color="#00e100"/><stop offset=".5579" stop-color="#00de00"/><stop offset=".5663" stop-color="#00d400"/><stop offset=".5746" stop-color="#00c600"/><stop offset=".5829" stop-color="#00b600"/><stop offset=".5913" stop-color="#00a800"/><stop offset=".5996" stop-color="#009f00"/><stop offset=".6079" stop-color="#009d00"/><stop offset=".6162" stop-color="#00a300"/><stop offset=".6246" stop-color="#00ac00"/><stop offset=".6329" stop-color="#00b700"/><stop offset=".6412" stop-color="#00c200"/><stop offset=".6495" stop-color="#00ca00"/><stop offset=".6579" stop-color="#00ce00"/><stop offset=".6662" stop-color="#00ca00"/><stop offset=".6745" stop-color="#00bf00"/><stop offset=".6829" stop-color="#00b300"/><stop offset=".6912" stop-color="#00a900"/><stop offset=".6995" stop-color="#00a800"/><stop offset=".7078" stop-color="#00b300"/><stop offset=".7162" stop-color="#00c800"/><stop offset=".7245" stop-color="#00e000"/><stop offset=".7328" stop-color="#00f400"/><stop offset=".7412" stop-color="#00ff00"/><stop offset=".7495" stop-color="#00fc00"/><stop offset=".7578" stop-color="#00ef00"/><stop offset=".7661" stop-color="#00dc00"/><stop offset=".7745" stop-color="#00c700"/><stop offset=".7828" stop-color="#00b200"/><stop offset=".7911" stop-color="#00a000"/><stop offset=".7994" stop-color="#009500"/><stop offset=".8078" stop-color="#009300"/><stop offset=".8161" stop-color="#009400"/><stop offset=".8244" stop-color="#009500"/><stop offset=".8328" stop-color="#009600"/><stop offset=".8411" stop-color="#009800"/><stop offset=".8494" stop-color="#009b00"/><stop offset=".8577" stop-color="#009d00"/><stop offset=".8661" stop-color="#00a000"/><stop offset=".8744" stop-color="#00a400"/><stop offset=".8827" stop-color="#00a800"/><stop offset=".891" stop-color="#00b000"/><stop offset=".8994" stop-color="#00be00"/><stop offset=".9077" stop-color="#00ce00"/><stop offset=".916" stop-color="#00df00"/><stop offset=".9244" stop-color="#00ee00"/><stop offset=".9327" stop-color="#00fa00"/><stop offset=".941" stop-color="#00ff00"/><stop offset=".9493" stop-color="#00ff00"/><stop offset=".9577" stop-color="#00fd00"/><stop offset=".966" stop-color="#00fa00"/><stop offset=".9743" stop-color="#00f400"/><stop offset=".9827" stop-color="#00ed00"/><stop offset=".991" stop-color="#00e300"/><stop offset=".9993" stop-color="#00d600"/></linearGradient>
<filter id="add" x="0" y="0" width="1" height="1" color-interpolation-filters="sRGB"><feColorMatrix in="SourceGraphic" type="matrix" values="1 0 0 0 0 1 0 0 0 0 1 0 0 0 0 0 0 0 0 1" result="A"/><feColorMatrix in="SourceGraphic" type="matrix" values="0 1 0 0 0 0 1 0 0 0 0 1 0 0 0 0 0 0 0 1" result="B"/><feColorMatrix in="SourceGraphic" type="matrix" values="0 0 1 0 0 0 0 1 0 0 0 0 1 0 0 0 0 0 0 1" result="C"/><feComposite in="A" in2="B" operator="arithmetic" k1="1.2133" k2="-.6067" k3="-.6067" k4=".8033" result="D"/><feComposite in="D" in2="C" operator="arithmetic" k1="0" k2="1" k3="1" k4="-.5" result="E"/><feColorMatrix in="E" type="matrix" values="0 0 0 0 0 0 0 0 0 0 1 0 0 0 0 0 0 0 0 1"/></filter>
<filter id="cmd" x="0" y="0" width="1" height="1" color-interpolation-filters="sRGB"><feColorMatrix in="SourceGraphic" type="matrix" values="1 0 0 0 0 1 0 0 0 0 1 0 0 0 0 0 0 0 0 1" result="A"/><feColorMatrix in="SourceGraphic" type="matrix" values="0 1 0 0 0 0 1 0 0 0 0 1 0 0 0 0 0 0 0 1" result="B"/><feColorMatrix in="SourceGraphic" type="matrix" values="0 0 1 0 0 0 0 1 0 0 0 0 1 0 0 0 0 0 0 1" result="C"/><feComposite in="A" in2="B" operator="arithmetic" k1=".9057" k2="0" k3="-.5143" k4=".6086" result="U"/><feComposite in="U" in2="C" operator="arithmetic" k1="0" k2="1" k3=".3429" k4="-.1714"/><feComponentTransfer><feFuncR type="table" tableValues="0 0 0 1 1"/><feFuncG type="table" tableValues="0 1 1 1 0"/><feFuncB type="table" tableValues="1 1 0 0 0"/></feComponentTransfer></filter>
<clipPath id="chd"><rect x="1580.25" y="82.5" width="307.25" height="293.25"/></clipPath>
<marker id="mred" markerUnits="userSpaceOnUse" markerWidth="8" markerHeight="8" viewBox="-4 -4 8 8" refX="0" refY="0" overflow="visible"><g fill="none" stroke="#ff5a5a" stroke-width=".55"><path d="M-1.6-1.6h3.2v3.2h-3.2z"/></g></marker>
<marker id="mblack" markerUnits="userSpaceOnUse" markerWidth="8" markerHeight="8" viewBox="-4 -4 8 8" refX="0" refY="0" overflow="visible"><g fill="none" stroke="#4a4a4a" stroke-width=".55"><circle r="1.8"/></g></marker>
<marker id="mblue" markerUnits="userSpaceOnUse" markerWidth="8" markerHeight="8" viewBox="-4 -4 8 8" refX="0" refY="0" overflow="visible"><g fill="none" stroke="#5a5aff" stroke-width=".55"><path d="M0-2.1L2 1.4H-2z"/></g></marker>
<marker id="mgreen" markerUnits="userSpaceOnUse" markerWidth="8" markerHeight="8" viewBox="-4 -4 8 8" refX="0" refY="0" overflow="visible"><g fill="none" stroke="#2f9f2f" stroke-width=".55"><path d="M0-2.4L2.4 0 0 2.4-2.4 0z"/></g></marker>
<clipPath id="cke"><rect x="111.55" y="538" width="306.9" height="268.85"/></clipPath>
<clipPath id="ckf"><rect x="600.8" y="538" width="306.65" height="268.85"/></clipPath>
<clipPath id="ckg"><rect x="1091.05" y="538" width="306.8" height="268.85"/></clipPath>
<clipPath id="ckh"><rect x="1580.05" y="538" width="306.2" height="268.85"/></clipPath>
<clipPath id="csi"><rect x="113" y="962.5" width="304" height="271.1"/></clipPath>
<clipPath id="csj"><rect x="601.75" y="962.5" width="305" height="271"/></clipPath>
<clipPath id="csk"><rect x="1092.75" y="963" width="304.25" height="270.8"/></clipPath>
<clipPath id="csl"><rect x="1581.25" y="962.5" width="305.25" height="271.1"/></clipPath>
</defs>
<g filter="url(#cma)" style="isolation:isolate"><rect x="111" y="83" width="306" height="293.25" fill="url(#hsa)"/><rect x="111" y="83" width="306" height="293.25" fill="url(#hga)" style="mix-blend-mode:screen"/><g filter="url(#ada)" style="isolation:isolate;mix-blend-mode:screen"><rect x="111" y="83" width="306" height="293.25" fill="url(#hna)"/><rect x="111" y="83" width="306" height="293.25" fill="url(#hma)" style="mix-blend-mode:screen"/></g></g>
<g clip-path="url(#cha)">
<ellipse cx="191.17" cy="375.84" rx="9" ry="3.2" fill="url(#rg0060ff)" opacity="0.85"/>
</g>
<rect x="111" y="83" width="306" height="293.25" fill="none" stroke="#000" stroke-width="1.45"/>
<text x="112" y="409.35" font-size="24.9" text-anchor="middle">450</text>
<text x="173.2" y="409.35" font-size="24.9" text-anchor="middle">550</text>
<text x="234.4" y="409.35" font-size="24.9" text-anchor="middle">650</text>
<text x="295.6" y="409.35" font-size="24.9" text-anchor="middle">750</text>
<text x="356.8" y="409.35" font-size="24.9" text-anchor="middle">850</text>
<text x="418" y="409.35" font-size="24.9" text-anchor="middle">950</text>
<text x="96.3" y="383.45" font-size="24.9" text-anchor="end">0</text>
<text x="96.3" y="281.7" font-size="24.9" text-anchor="end">1000</text>
<text x="96.3" y="179.95" font-size="24.9" text-anchor="end">2000</text>
<path d="M111 376.25v6.8M172.2 376.25v6.8M233.4 376.25v6.8M294.6 376.25v6.8M355.8 376.25v6.8M417 376.25v6.8M111 376.25h-5.5M111 274.5h-5.5M111 172.75h-5.5" stroke="#000" stroke-width="1.3" fill="none"/>
<text x="264.7" y="446.25" font-size="25" text-anchor="middle">Wavelength (nm)</text>
<text transform="translate(20.5 229.62) rotate(-90)" font-size="25" text-anchor="middle">Decay times (ps)</text>
<rect x="118.25" y="47" width="287.75" height="23.5" fill="url(#jet)"/>
<text x="118.45" y="36.7" font-size="24.9">–20</text>
<text x="402.3" y="36.7" font-size="24.9" text-anchor="end">12</text>
<g filter="url(#cmb)" style="isolation:isolate"><rect x="601.25" y="81.5" width="306.75" height="294.25" fill="url(#hsb)"/><rect x="601.25" y="81.5" width="306.75" height="294.25" fill="url(#hgb)" style="mix-blend-mode:screen"/><g filter="url(#adb)" style="isolation:isolate;mix-blend-mode:screen"><rect x="601.25" y="81.5" width="306.75" height="294.25" fill="url(#hnb)"/><rect x="601.25" y="81.5" width="306.75" height="294.25" fill="url(#hmb)" style="mix-blend-mode:screen"/></g></g>
<g clip-path="url(#chb)">
<ellipse cx="683.46" cy="375.75" rx="13" ry="4.2" fill="url(#rg0030ff)" opacity="0.95"/>
<ellipse cx="682.23" cy="376.16" rx="11" ry="3.2" fill="url(#rg000a50)" opacity="0.95"/>
<ellipse cx="638.06" cy="374.94" rx="7.5" ry="4.5" fill="url(#rgffb000)" opacity="0.9"/>
</g>
<rect x="601.25" y="81.5" width="306.75" height="294.25" fill="none" stroke="#000" stroke-width="1.45"/>
<text x="602.25" y="409.45" font-size="24.9" text-anchor="middle">450</text>
<text x="663.6" y="409.45" font-size="24.9" text-anchor="middle">550</text>
<text x="724.95" y="409.45" font-size="24.9" text-anchor="middle">650</text>
<text x="786.3" y="409.45" font-size="24.9" text-anchor="middle">750</text>
<text x="847.65" y="409.45" font-size="24.9" text-anchor="middle">850</text>
<text x="909" y="409.45" font-size="24.9" text-anchor="middle">950</text>
<text x="585.75" y="382.95" font-size="24.9" text-anchor="end">0</text>
<text x="585.75" y="281.2" font-size="24.9" text-anchor="end">1000</text>
<text x="585.75" y="179.45" font-size="24.9" text-anchor="end">2000</text>
<path d="M601.25 375.75v6.8M662.6 375.75v6.8M723.95 375.75v6.8M785.3 375.75v6.8M846.65 375.75v6.8M908 375.75v6.8M601.25 375.75h-5.5M601.25 274h-5.5M601.25 172.25h-5.5" stroke="#000" stroke-width="1.3" fill="none"/>
<text x="755.33" y="445.75" font-size="25" text-anchor="middle">Wavelength (nm)</text>
<text transform="translate(509.75 228.62) rotate(-90)" font-size="25" text-anchor="middle">Decay times (ps)</text>
<rect x="610.7" y="47" width="287.8" height="23.4" fill="url(#jet)"/>
<text x="610.9" y="36.7" font-size="24.9">–7</text>
<text x="894.8" y="36.7" font-size="24.9" text-anchor="end">7</text>
<g filter="url(#cmc)" style="isolation:isolate"><rect x="1091.75" y="83.75" width="305.75" height="292.5" fill="url(#hsc)"/><rect x="1091.75" y="83.75" width="305.75" height="292.5" fill="url(#hgc)" style="mix-blend-mode:screen"/><g filter="url(#adc)" style="isolation:isolate;mix-blend-mode:screen"><rect x="1091.75" y="83.75" width="305.75" height="292.5" fill="url(#hnc)"/><rect x="1091.75" y="83.75" width="305.75" height="292.5" fill="url(#hmc)" style="mix-blend-mode:screen"/></g></g>
<g clip-path="url(#chc)">
<ellipse cx="1171.86" cy="375.84" rx="8" ry="3" fill="url(#rg00a0ff)" opacity="0.8"/>
</g>
<rect x="1091.75" y="83.75" width="305.75" height="292.5" fill="none" stroke="#000" stroke-width="1.45"/>
<text x="1092.75" y="409.65" font-size="24.9" text-anchor="middle">450</text>
<text x="1153.9" y="409.65" font-size="24.9" text-anchor="middle">550</text>
<text x="1215.05" y="409.65" font-size="24.9" text-anchor="middle">650</text>
<text x="1276.2" y="409.65" font-size="24.9" text-anchor="middle">750</text>
<text x="1337.35" y="409.65" font-size="24.9" text-anchor="middle">850</text>
<text x="1398.5" y="409.65" font-size="24.9" text-anchor="middle">950</text>
<text x="1076.65" y="383.45" font-size="24.9" text-anchor="end">0</text>
<text x="1076.65" y="281.7" font-size="24.9" text-anchor="end">1000</text>
<text x="1076.65" y="179.95" font-size="24.9" text-anchor="end">2000</text>
<path d="M1091.75 376.25v6.8M1152.9 376.25v6.8M1214.05 376.25v6.8M1275.2 376.25v6.8M1336.35 376.25v6.8M1397.5 376.25v6.8M1091.75 376.25h-5.5M1091.75 274.5h-5.5M1091.75 172.75h-5.5" stroke="#000" stroke-width="1.3" fill="none"/>
<text x="1245.33" y="446.25" font-size="25" text-anchor="middle">Wavelength (nm)</text>
<text transform="translate(1001.25 230) rotate(-90)" font-size="25" text-anchor="middle">Decay times (ps)</text>
<rect x="1100.25" y="48.25" width="288" height="23.5" fill="url(#jet)"/>
<text x="1100.45" y="37.95" font-size="24.9">–20</text>
<text x="1384.55" y="37.95" font-size="24.9" text-anchor="end">13</text>
<g filter="url(#cmd)" style="isolation:isolate"><rect x="1580.25" y="82.5" width="307.25" height="293.25" fill="url(#hsd)"/><rect x="1580.25" y="82.5" width="307.25" height="293.25" fill="url(#hgd)" style="mix-blend-mode:screen"/><g filter="url(#add)" style="isolation:isolate;mix-blend-mode:screen"><rect x="1580.25" y="82.5" width="307.25" height="293.25" fill="url(#hnd)"/><rect x="1580.25" y="82.5" width="307.25" height="293.25" fill="url(#hmd)" style="mix-blend-mode:screen"/></g></g>
<g clip-path="url(#chd)">
<ellipse cx="1660.75" cy="375.34" rx="8" ry="3" fill="url(#rg00a0ff)" opacity="0.8"/>
</g>
<rect x="1580.25" y="82.5" width="307.25" height="293.25" fill="none" stroke="#000" stroke-width="1.45"/>
<text x="1581.25" y="409.15" font-size="24.9" text-anchor="middle">450</text>
<text x="1642.7" y="409.15" font-size="24.9" text-anchor="middle">550</text>
<text x="1704.15" y="409.15" font-size="24.9" text-anchor="middle">650</text>
<text x="1765.6" y="409.15" font-size="24.9" text-anchor="middle">750</text>
<text x="1827.05" y="409.15" font-size="24.9" text-anchor="middle">850</text>
<text x="1888.5" y="409.15" font-size="24.9" text-anchor="middle">950</text>
<text x="1565.15" y="382.95" font-size="24.9" text-anchor="end">0</text>
<text x="1565.15" y="281.2" font-size="24.9" text-anchor="end">1000</text>
<text x="1565.15" y="179.45" font-size="24.9" text-anchor="end">2000</text>
<path d="M1580.25 375.75v6.8M1641.7 375.75v6.8M1703.15 375.75v6.8M1764.6 375.75v6.8M1826.05 375.75v6.8M1887.5 375.75v6.8M1580.25 375.75h-5.5M1580.25 274h-5.5M1580.25 172.25h-5.5" stroke="#000" stroke-width="1.3" fill="none"/>
<text x="1734.58" y="445.75" font-size="25" text-anchor="middle">Wavelength (nm)</text>
<text transform="translate(1490 229.12) rotate(-90)" font-size="25" text-anchor="middle">Decay times (ps)</text>
<rect x="1587" y="48.25" width="288.75" height="23.5" fill="url(#jet)"/>
<text x="1587.2" y="37.95" font-size="24.9">–20</text>
<text x="1872.05" y="37.95" font-size="24.9" text-anchor="end">15</text>
<rect x="112.5" y="538" width="305" height="267.9" fill="none" stroke="#000" stroke-width="1.9"/>
<g clip-path="url(#cke)" fill="none">
<path d="M114.1 634.2L114.7 639.4L114.6 640.2L114.9 637.3L115.2 639.1L114.9 637.3L115 635L114.8 634.7L115 632.7L115.3 634.8L115.5 642.6L115.7 641.5L115.5 633.8L115.4 633.4L115.6 628.6L116.2 636.3L115.8 636.3L116.1 630.1L116.8 636.6L116.5 633.1L117.4 639.8L118.1 636.2L117.9 647.8L118.5 633.5L119.2 634.2L119 636.1L119.7 638.8L120.3 637.2L120.6 631.2L120.9 636.1L121.1 635.6L121.7 632.4L122 633.5L122.5 641.7L122.8 635.2L123.6 634.5L123.9 637.2L124 636.3L125.4 636.2L126.4 637.8L127.8 637.4L129 637.3L130.5 638.5L131.5 638L132.8 635.9L134.3 636.4L135.3 636.2L136.9 637.6L137.6 633L139.3 630.2L140.3 637.6L141.5 635.2L143 629.9L144.1 639.2L145.3 636.6L145.7 639.8L150.2 637.3L155.1 633.3L159.3 636.6L163.9 638.9L168.5 640.2L172.6 639.6L176.5 640.6L181.1 639.1L185.8 643.2L189.9 639.7L194.9 643.9L199.3 646.5L203.6 647.9L207.7 649.9L212.4 643.1L216.2 648.8L220.7 650.4L224.1 650.3L228.8 646.6L233.2 651.3L237.7 654L242.8 647L247.9 652.1L253 654.1L258.3 650.7L264 654.2L269.8 651.2L275.9 652.5L282 653.3L288 656.4L294.3 656.4L301.2 659.8L308.1 656.3L314.9 658.8L322.3 661.9L329.8 661.7L336.8 654.5L345.3 663.2L353 659.8L361.5 663.6L370.4 664.6L379.2 666.1L387.9 663.7L397.7 659.3L406.9 660.4" marker-start="url(#mred)" marker-mid="url(#mred)" marker-end="url(#mred)"/>
<path d="M114.4 585.6L114.6 584.5L114.8 582.8L114.4 583.5L115.1 579.2L115.2 579L114.7 585.8L115.1 580.1L115 579.5L115.5 581.4L115 581.2L115.5 579.2L115.8 583.2L115.9 580.3L115.5 584.3L116.2 575.4L115.8 581L116.3 580L116.5 579.1L116.6 580L117.5 579.7L117.9 577.1L118.3 574.7L118.9 574.7L118.7 575.8L119.1 574.5L119.4 575.2L120.1 576.2L120.4 573.5L120.8 579.1L121.3 576L121.5 573.6L121.7 574.1L122.5 569.6L122.7 574.2L123.3 569L124 572.3L123.8 574.2L125.5 572.6L126.7 574.6L127.7 571.6L129.1 571.9L130.7 570.3L131.5 573.4L133 570.9L134.4 571.1L135.2 570.6L137 568L138 568.9L139.1 570.8L140.5 566L141.5 570.8L143 571.5L143.9 570.7L145.7 570.7L146.1 572.9L150.3 573.4L154.8 574.2L159.6 577.3L163.9 577.8L168.1 577.7L172.4 583.1L176.8 583.9L181.7 584.5L185.4 585.9L190.4 594.2L194.8 588L198.7 589.8L203.2 591.4L207.8 592.1L212.3 595.8L216.9 597.1L221.3 598.3L223.9 598.6L228.4 602.4L233.2 604.1L238.1 605.5L243.1 607.3L247.7 608.3L253.3 609.5L258.9 610.1L264.4 614.6L270.2 615.2L276 616L282.1 619L287.6 620.7L294.7 622.3L300.8 622.4L307.7 626.4L314.8 626.8L322.4 629.2L329.5 629.5L337 634.3L344.9 633.5L353.5 631.3L361.8 634.9L369.8 635.4L378.8 637.7L388.1 637.6L397.4 637.2L407.3 638.6" marker-start="url(#mblack)" marker-mid="url(#mblack)" marker-end="url(#mblack)"/>
<path d="M114.2 786.2L114.4 787.4L114.5 784.7L114.4 788L114.9 786.6L114.8 788.1L115.3 786.3L115.4 788.6L115 784.5L115.1 787.6L115.6 786.4L115.5 786.9L115.2 787.7L115.8 787.9L115.7 787.3L116.1 789.5L116.2 789.8L116.4 786L116.7 790L117.2 790.9L117.1 788.1L117.6 790.8L117.7 787.8L118.8 794.2L118.6 790.8L119.3 791.9L119.7 794.6L120.4 792.7L120.4 794.2L120.6 788.9L121.2 792.6L121.3 791.2L121.9 793.9L122.6 795.8L122.5 794.9L123.7 796.3L123.7 794.4L123.9 794.7L125.6 796.2L126.3 797.6L127.7 798.2L129.4 798.7L130.1 799.6L131.8 799.5L132.5 799.9L134.1 801.6L135.5 799.8L136.4 800.5L137.7 801.9L139.1 800.2L140.4 800.7L141.3 799.2L142.8 801.5L144.5 796.9L145.2 797.9L146.3 797.6L150.3 799.1L154.9 796.4L159.3 793.7L163.8 791.1L168.3 791.4L172.7 789.3L177.1 786.6L181.5 783.7L186 782.4L190 782.4L194.8 780.5L198.9 778.5L203.1 776.5L207.4 770.1L212.3 773L216.6 769.8L220.6 769.6L224.2 768.7L228.2 765.6L233.1 763.3L238.1 763.9L243 761.3L247.7 757.3L252.8 753.5L258.6 755.1L264.4 754.8L270.1 752.5L275.6 748.5L281.8 746.5L288.1 744.8L294.7 744.5L301 738.5L308.1 739.8L314.7 735.9L321.8 737.2L329.3 733.4L337.3 734.3L345.3 731.1L353.1 730.7L361.7 730.7L369.8 730.4L379 726L388.1 728.8L397.5 727.8L407 726" marker-start="url(#mblue)" marker-mid="url(#mblue)" marker-end="url(#mblue)"/>
<path d="M114.4 744.2L114.9 744.2L114.4 741.9L114.9 744.2L114.5 741.6L115.2 745.8L115 743.3L114.8 742.8L115.4 745.2L115.6 748.4L115.1 747.1L115.2 747.2L115.4 747L115.7 747.6L116.2 749.7L116.2 746.3L115.9 749.2L115.7 747.5L116.6 752L117 750.2L117.1 751L117.8 754.6L118.5 753.3L118.2 751.7L118.8 753.3L119.6 758.1L119.4 758.9L119.8 757.4L120.2 757.4L121.1 757.8L121 753.4L121.4 757.8L122.2 761.3L122.7 760.5L123.1 761.5L123.2 762L124 759.4L123.8 762.5L125.3 763.5L126.5 762.4L127.9 763L128.9 765L130.1 765.4L132 766.4L132.7 766.7L134.1 767.9L135.7 766.2L136.4 766.3L137.7 771L139.2 767.5L140 768.6L141.2 768.1L143 766.7L144 768.1L145 766.5L145.9 768.3L150.7 766.4L155.1 766L159.3 765.7L163.5 760.7L168.4 762.9L172.3 760.6L177.1 759.1L181 757.9L186 757.2L190.3 755.5L194.5 755.6L198.8 753L203.4 751.2L207.8 751.2L212.1 749.9L216.7 748.6L220.6 747.5L224 744.7L228.8 745.2L233.2 742.5L238.4 741.6L243 739.2L247.8 736.4L253.5 737.4L258.5 735.5L264.2 733.1L269.9 731.4L276 731.6L281.5 729.8L288.3 725.6L294.4 725.9L300.9 724.1L307.7 722.7L315.2 721L322.4 719.8L329.5 718.6L337 718.7L345.4 715.2L352.8 715.2L361.2 716.1L370.1 713.5L379.1 711.8L387.8 712.1L397.3 711.8L407 710.6" marker-start="url(#mgreen)" marker-mid="url(#mgreen)" marker-end="url(#mgreen)"/>
<path d="M113.9 671.8l.1-36.1 .1-.7 .1 0 .1 0 .1 0 .1 0 .1 0 .1 0 .1 0 .1 0 .1 0 .1 0 .1 0 .1 0 .1 0 .1 0 .1 0 .1 0 .1 0 .1 0 .1 0 .1 0 .1 0 .1 0 .1 0 .1 0 .1 0 .1 0 .1 0 .1 0 .1 0 .1 0 .1 0 .1 0 .1 0 .1 0 .1 0 .1 0 .1 0 .1 0 .1 0 .1 0 .1 0 .1 0 .1 0 .1 0 .1 .1 .1 0 .1 0 .1 0 .1 0 .1 0 .1 0 .1 0 .1 .1 .1 0 .1 0 .1 0 .1 0 .1 0 .1 .1 .1 0 .1 0 .1 0 .1 0 .1 .1 .1 0 .1 0 .1 0 .1 0 .1 .1 .1 0 .1 0 .1 0 .1 .1 .1 0 .1 0 .1 0 .1 0 .1 .1 1 .2 1 .2 1 .1 1 .2 1 .1 1 .1 1 0 1 .1 1 .1 1 .1 1 .1 1 0 1 .1 1 .1 1 .1 1 0 1 .1 1 .1 1 0 1 .1 1 .1 1 0 1 .1 1 .1 1 .1 1 .1 1 .1 1 .1 1 .1 1 .1 1 .1 1 .1 1 .1 1 .2 1 .1 1 .1 1 .2 1 .1 1 .2 1 .1 1 .2 1 .1 1 .2 1 .1 1 .2 1 .1 1 .2 1 .1 1 .2 1 .1 1 .1 1 .2 1 .1 1 .2 1 .1 1 .1 1 .2 1 .1 1 .1 1 .2 1 .1 1 .1 1 .2 1 .1 1 .1 1 .1 1 .2 1 .1 1 .1 1 .2 1 .1 1 .1 1 .1 1 .2 1 .1 1 .1 1 .2 1 .1 1 .1 1 .1 1 .2 1 .1 1 .1 1 .2 1 .1 1 .1 1 .2 1 .1 1 .1 1 .2 1 .1 1 .1 1 .2 1 .1 1 .1 1 .1 1 .2 1 .1 1 .1 1 .2 1 .1 1 .1 1 .1 1 .2 1 .1 1 .1 1 .1 1 .2 1 .1 1 .1 1 .1 1 .1 1 .2 1 .1 1 .1 1 .1 1 .1 1 .2 1 .1 1 .1 1 .1 1 .1 1 .1 1 .2 1 .1 1 .1 1 .1 1 .1 1 .2 1 .1 1 .1 1 .1 1 .1 1 .2 1 .1 1 .1 1 .1 1 .1 1 .1 1 .2 1 .1 1 .1 1 .1 1 .1 1 .2 1 .1 1 .1 1 .1 1 .1 1 .2 1 .1 1 .1 1 .1 1 .2 1 .1 1 .1 1 .2 1 .1 1 .1 1 .2 1 .1 1 .1 1 .2 1 .1 1 .1 1 .2 1 .1 1 .1 1 .2 1 .1 1 .1 1 .2 1 .1 1 .1 1 .1 1 .1 1 .2 1 .1 1 .1 1 .1 1 .1 1 .1 1 .1 1 .2 1 .1 1 .1 1 .1 1 .1 1 .1 1 .1 1 .1 1 .1 1 .1 1 .1 1 .1 1 0 1 .1 1 .1 1 .1 1 .1 1 .1 1 .1 1 .1 1 .1 1 .1 1 .1 1 0 1 .1 1 .1 1 .1 1 .1 1 .1 1 .1 1 .1 1 0 1 .1 1 .1 1 .1 1 .1 1 0 1 .1 1 .1 1 .1 1 0 1 .1 1 .1 1 0 1 .1 1 .1 1 0 1 .1 1 .1 1 0 1 .1 1 0 1 .1 1 .1 1 0 1 .1 1 0 1 .1 1 0 1 .1 1 0 1 .1 1 0 1 .1 1 0 1 0 1 .1 1 0 1 0 1 0 1 .1 1 0 1 0 1 0 1 0 1 .1 1 0 1 0 1 0 1 0 1 0 1 0 1 0 1 0 1 .1 1 0 1 0 1 0 1 0 1 0 1 0 1 0 1 0 1 0 1 0 1 0 1 0 1 0 1 0 1 0 1 0 1-.1 1 0 1 0 1 0 1 0 1 0 1-.1 1 0 1 0 1 0 1 0 1 0" stroke="#ff0000" stroke-width="2.05" stroke-linejoin="round"/>
<path d="M113.9 671.8l.1-79.4 .1-4.6 .1-1.9 .1-1.1 .1-.6 .1-.4 .1-.5 .1-.4 .1-.3 .1-.4 .1-.3 .1-.3 .1-.3 .1-.2 .1-.2 .1-.2 .1-.2 .1-.2 .1-.2 .1-.1 .1-.2 .1-.1 .1-.2 .1-.1 .1-.1 .1-.2 .1-.1 .1-.2 .1-.1 .1-.2 .1-.1 .1-.2 .1-.1 .1-.2 .1-.1 .1-.1 .1-.2 .1-.1 .1-.1 .1-.1 .1-.2 .1-.1 .1-.1 .1-.1 .1-.1 .1-.2 .1-.1 .1-.1 .1-.1 .1-.1 .1-.1 .1-.1 .1-.1 .1-.1 .1-.1 .1-.1 .1-.1 .1 0 .1-.1 .1-.1 .1-.1 .1-.1 .1-.1 .1 0 .1-.1 .1-.1 .1-.1 .1-.1 .1 0 .1-.1 .1-.1 .1-.1 .1 0 .1-.1 .1-.1 .1 0 .1-.1 .1-.1 .1 0 .1-.1 1-.6 1-.4 1-.5 1-.3 1-.2 1-.1 1-.1 1-.1 1-.1 1-.1 1-.2 1 0 1-.1 1 0 1 0 1 .1 1 .1 1 .1 1 .1 1 .2 1 .1 1 .2 1 .2 1 .3 1 .2 1 .2 1 .3 1 .3 1 .3 1 .2 1 .3 1 .3 1 .3 1 .3 1 .3 1 .3 1 .3 1 .4 1 .3 1 .3 1 .3 1 .3 1 .4 1 .3 1 .3 1 .4 1 .3 1 .3 1 .4 1 .3 1 .4 1 .4 1 .3 1 .4 1 .4 1 .4 1 .3 1 .4 1 .4 1 .4 1 .4 1 .4 1 .4 1 .5 1 .4 1 .4 1 .4 1 .4 1 .4 1 .4 1 .4 1 .5 1 .4 1 .4 1 .3 1 .4 1 .4 1 .4 1 .4 1 .3 1 .4 1 .4 1 .3 1 .4 1 .4 1 .3 1 .4 1 .3 1 .3 1 .4 1 .3 1 .4 1 .3 1 .4 1 .3 1 .4 1 .3 1 .3 1 .4 1 .3 1 .4 1 .3 1 .4 1 .3 1 .4 1 .3 1 .4 1 .3 1 .4 1 .3 1 .4 1 .3 1 .4 1 .3 1 .4 1 .3 1 .4 1 .3 1 .4 1 .3 1 .4 1 .3 1 .4 1 .3 1 .4 1 .3 1 .4 1 .3 1 .4 1 .3 1 .3 1 .4 1 .3 1 .4 1 .3 1 .3 1 .4 1 .3 1 .3 1 .4 1 .3 1 .3 1 .4 1 .3 1 .3 1 .3 1 .4 1 .3 1 .3 1 .3 1 .3 1 .4 1 .3 1 .3 1 .3 1 .3 1 .3 1 .3 1 .3 1 .3 1 .3 1 .3 1 .3 1 .3 1 .3 1 .3 1 .3 1 .3 1 .3 1 .3 1 .2 1 .3 1 .3 1 .3 1 .2 1 .3 1 .3 1 .2 1 .3 1 .2 1 .3 1 .2 1 .3 1 .2 1 .3 1 .2 1 .3 1 .2 1 .2 1 .3 1 .2 1 .2 1 .3 1 .2 1 .2 1 .2 1 .2 1 .3 1 .2 1 .2 1 .2 1 .2 1 .2 1 .2 1 .2 1 .2 1 .2 1 .1 1 .2 1 .2 1 .2 1 .2 1 .2 1 .1 1 .2 1 .2 1 .2 1 .1 1 .2 1 .1 1 .2 1 .2 1 .1 1 .2 1 .1 1 .2 1 .1 1 .1 1 .2 1 .1 1 .1 1 .2 1 .1 1 .1 1 .1 1 .2 1 .1 1 .1 1 .1 1 .1 1 .1 1 .1 1 .1 1 .1 1 .1 1 .1 1 .1 1 .1 1 .1 1 .1 1 .1 1 .1 1 .1 1 .1 1 .1 1 .1 1 0 1 .1 1 .1 1 .1 1 .1 1 0 1 .1 1 .1 1 .1 1 0 1 .1 1 .1 1 .1 1 0 1 .1 1 0 1 .1 1 .1 1 0 1 .1 1 0 1 0 1 .1 1 0 1 .1 1 0 1 0 1 .1 1 0 1 0 1 .1 1 0 1 0 1 0 1 .1 1 0 1 0 1 0 1 0 1 0" stroke="#000000" stroke-width="2.05" stroke-linejoin="round"/>
<path d="M113.9 671.8l.1 109.7 .1 1.6 .1 .7 .1 .6 .1 .5 .1 .3 .1 .3 .1 .3 .1 .2 .1 .2 .1 .1 .1 .1 .1 .1 .1 .2 .1 .1 .1 .2 .1 .2 .1 .2 .1 .2 .1 .2 .1 .1 .1 .2 .1 .2 .1 .1 .1 .2 .1 .1 .1 .1 .1 .2 .1 .1 .1 .1 .1 .2 .1 .1 .1 .1 .1 .2 .1 .1 .1 .1 .1 .1 .1 .1 .1 .2 .1 .1 .1 .1 .1 .1 .1 .1 .1 .1 .1 .1 .1 .2 .1 .1 .1 .1 .1 .1 .1 .1 .1 .1 .1 .1 .1 .1 .1 .1 .1 .1 .1 .1 .1 .1 .1 .1 .1 .1 .1 .1 .1 .1 .1 .1 .1 .1 .1 0 .1 .1 .1 .1 .1 .1 .1 .1 .1 .1 .1 .1 .1 0 .1 .1 .1 .1 .1 .1 .1 .1 .1 0 .1 .1 .1 .1 .1 .1 .1 0 1 .7 1 .7 1 .6 1 .6 1 .6 1 .6 1 .5 1 .4 1 .4 1 .4 1 .3 1 .2 1 .1 1 .1 1-.1 1 0 1-.1 1-.1 1-.2 1-.2 1-.2 1-.2 1-.2 1-.3 1-.3 1-.3 1-.3 1-.3 1-.3 1-.3 1-.4 1-.3 1-.3 1-.4 1-.3 1-.4 1-.3 1-.4 1-.4 1-.3 1-.4 1-.4 1-.4 1-.4 1-.4 1-.4 1-.4 1-.4 1-.4 1-.4 1-.4 1-.4 1-.4 1-.4 1-.4 1-.4 1-.4 1-.4 1-.5 1-.4 1-.4 1-.4 1-.4 1-.4 1-.4 1-.4 1-.4 1-.4 1-.5 1-.4 1-.4 1-.4 1-.4 1-.4 1-.4 1-.4 1-.4 1-.5 1-.4 1-.4 1-.4 1-.4 1-.4 1-.4 1-.5 1-.4 1-.4 1-.4 1-.4 1-.4 1-.4 1-.5 1-.4 1-.4 1-.4 1-.4 1-.4 1-.4 1-.4 1-.4 1-.4 1-.4 1-.4 1-.4 1-.4 1-.4 1-.4 1-.4 1-.4 1-.3 1-.4 1-.4 1-.4 1-.4 1-.4 1-.3 1-.4 1-.4 1-.4 1-.4 1-.3 1-.4 1-.4 1-.3 1-.4 1-.4 1-.3 1-.4 1-.4 1-.3 1-.4 1-.4 1-.3 1-.4 1-.4 1-.3 1-.4 1-.3 1-.4 1-.3 1-.4 1-.3 1-.4 1-.3 1-.4 1-.3 1-.4 1-.3 1-.3 1-.4 1-.3 1-.3 1-.4 1-.3 1-.3 1-.3 1-.4 1-.3 1-.3 1-.3 1-.3 1-.3 1-.4 1-.3 1-.3 1-.3 1-.3 1-.3 1-.3 1-.3 1-.2 1-.3 1-.3 1-.3 1-.3 1-.2 1-.3 1-.3 1-.2 1-.3 1-.2 1-.3 1-.2 1-.3 1-.2 1-.3 1-.2 1-.3 1-.2 1-.2 1-.2 1-.3 1-.2 1-.2 1-.2 1-.3 1-.2 1-.2 1-.2 1-.2 1-.2 1-.2 1-.2 1-.2 1-.2 1-.2 1-.2 1-.2 1-.2 1-.2 1-.2 1-.2 1-.2 1-.2 1-.1 1-.2 1-.2 1-.2 1-.2 1-.1 1-.2 1-.2 1-.1 1-.2 1-.2 1-.1 1-.2 1-.1 1-.2 1-.1 1-.2 1-.2 1-.1 1-.1 1-.2 1-.1 1-.2 1-.1 1-.2 1-.1 1-.1 1-.2 1-.1 1-.1 1-.2 1-.1 1-.1 1-.1 1-.1 1-.1 1-.1 1-.1 1-.1 1-.1 1-.1 1 0 1-.1 1-.1 1-.1 1-.1 1 0 1-.1 1-.1 1 0 1-.1 1-.1 1 0 1-.1 1 0 1-.1 1 0 1-.1 1 0 1-.1 1 0 1 0 1-.1 1 0 1 0 1 0 1-.1 1 0 1 0 1 0 1 0 1-.1 1 0 1 0 1 0 1 0 1 0 1 0 1 0 1 0 1 0 1-.1" stroke="#0000ff" stroke-width="2.05" stroke-linejoin="round"/>
<path d="M113.9 671.8l.1 63.8 .1 3.1 .1 1.3 .1 1.1 .1 .9 .1 .8 .1 .6 .1 .5 .1 .3 .1 .4 .1 .2 .1 .3 .1 .2 .1 .3 .1 .3 .1 .3 .1 .5 .1 .4 .1 .3 .1 .4 .1 .4 .1 .3 .1 .4 .1 .3 .1 .3 .1 .4 .1 .3 .1 .3 .1 .2 .1 .3 .1 .3 .1 .2 .1 .3 .1 .2 .1 .3 .1 .2 .1 .2 .1 .2 .1 .3 .1 .2 .1 .2 .1 .2 .1 .2 .1 .2 .1 .2 .1 .2 .1 .1 .1 .2 .1 .2 .1 .2 .1 .2 .1 .1 .1 .2 .1 .2 .1 .1 .1 .2 .1 .1 .1 .2 .1 .2 .1 .1 .1 .2 .1 .1 .1 .1 .1 .2 .1 .1 .1 .2 .1 .1 .1 .1 .1 .2 .1 .1 .1 .1 .1 .2 .1 .1 .1 .1 .1 .1 .1 .2 .1 .1 .1 .1 .1 .1 .1 .1 1 1.1 1 1 1 .8 1 .8 1 .7 1 .6 1 .6 1 .5 1 .5 1 .3 1 .4 1 .4 1 .3 1 .2 1 .2 1 .1 1 0 1 0 1 0 1 0 1-.1 1-.1 1-.1 1-.1 1-.2 1-.2 1-.2 1-.2 1-.2 1-.2 1-.2 1-.2 1-.3 1-.2 1-.3 1-.2 1-.3 1-.3 1-.2 1-.3 1-.3 1-.3 1-.2 1-.3 1-.3 1-.3 1-.3 1-.3 1-.3 1-.3 1-.3 1-.3 1-.4 1-.3 1-.3 1-.3 1-.3 1-.3 1-.3 1-.3 1-.3 1-.3 1-.3 1-.3 1-.3 1-.3 1-.3 1-.3 1-.3 1-.3 1-.3 1-.3 1-.3 1-.3 1-.3 1-.3 1-.3 1-.3 1-.3 1-.3 1-.3 1-.3 1-.3 1-.3 1-.3 1-.3 1-.3 1-.3 1-.3 1-.3 1-.3 1-.3 1-.3 1-.3 1-.3 1-.3 1-.3 1-.3 1-.3 1-.3 1-.3 1-.3 1-.3 1-.3 1-.3 1-.3 1-.3 1-.3 1-.3 1-.3 1-.3 1-.3 1-.3 1-.3 1-.3 1-.3 1-.3 1-.3 1-.3 1-.3 1-.3 1-.3 1-.3 1-.3 1-.3 1-.3 1-.3 1-.3 1-.3 1-.3 1-.3 1-.3 1-.3 1-.3 1-.3 1-.3 1-.3 1-.3 1-.3 1-.4 1-.3 1-.3 1-.3 1-.3 1-.3 1-.3 1-.3 1-.2 1-.3 1-.3 1-.3 1-.3 1-.3 1-.2 1-.3 1-.3 1-.3 1-.2 1-.3 1-.3 1-.2 1-.3 1-.2 1-.3 1-.2 1-.3 1-.2 1-.3 1-.2 1-.3 1-.2 1-.2 1-.3 1-.2 1-.2 1-.3 1-.2 1-.2 1-.3 1-.2 1-.2 1-.2 1-.2 1-.2 1-.3 1-.2 1-.2 1-.2 1-.2 1-.2 1-.2 1-.2 1-.2 1-.2 1-.2 1-.2 1-.2 1-.1 1-.2 1-.2 1-.2 1-.2 1-.1 1-.2 1-.2 1-.1 1-.2 1-.2 1-.1 1-.2 1-.2 1-.1 1-.2 1-.1 1-.2 1-.1 1-.2 1-.1 1-.2 1-.1 1-.2 1-.1 1-.1 1-.2 1-.1 1-.1 1-.2 1-.1 1-.1 1-.1 1-.2 1-.1 1-.1 1-.1 1-.1 1-.1 1-.1 1-.1 1-.2 1-.1 1-.1 1-.1 1-.1 1-.1 1 0 1-.1 1-.1 1-.1 1-.1 1-.1 1 0 1-.1 1-.1 1-.1 1 0 1-.1 1-.1 1 0 1-.1 1 0 1-.1 1 0 1-.1 1 0 1-.1 1 0 1-.1 1 0 1-.1 1 0 1-.1 1 0 1-.1 1 0 1 0 1-.1 1 0 1 0 1-.1 1 0 1-.1 1 0 1 0 1-.1 1 0 1 0 1 0 1-.1 1 0 1 0 1 0 1-.1 1 0 1 0 1 0 1 0" stroke="#008000" stroke-width="2.05" stroke-linejoin="round"/>
</g>
<text x="112.6" y="839.1" font-size="22.5" text-anchor="middle">0</text>
<text x="165.75" y="839.1" font-size="22.5" text-anchor="middle">500</text>
<text x="219.5" y="839.1" font-size="22.5" text-anchor="middle">1000</text>
<text x="272.75" y="839.1" font-size="22.5" text-anchor="middle">1500</text>
<text x="331.6" y="839.1" font-size="22.5" text-anchor="middle">2000</text>
<text x="390.75" y="839.1" font-size="22.5" text-anchor="middle">2500</text>
<text x="97.5" y="546.3" font-size="24.9" text-anchor="end">15</text>
<text x="97.5" y="590.8" font-size="24.9" text-anchor="end">10</text>
<text x="97.5" y="635.3" font-size="24.9" text-anchor="end">5</text>
<text x="97.5" y="680.05" font-size="24.9" text-anchor="end">0</text>
<text x="97.5" y="724.8" font-size="24.9" text-anchor="end">–5</text>
<text x="97.5" y="769.55" font-size="24.9" text-anchor="end">–10</text>
<text x="97.5" y="813.8" font-size="24.9" text-anchor="end">–15</text>
<path d="M112.5 805.9v6.3M166.75 805.9v6.3M221 805.9v6.3M275.75 805.9v6.3M330 805.9v6.3M385 805.9v6.3M112.5 538h-5.6M112.5 582.5h-5.6M112.5 627h-5.6M112.5 671.75h-5.6M112.5 716.5h-5.6M112.5 761.25h-5.6M112.5 805.5h-5.6" stroke="#000" stroke-width="1.6" fill="none"/>
<text x="275.2" y="874.5" font-size="22.8" text-anchor="middle">Decay times (ps)</text>
<text transform="translate(36.75 672.75) rotate(-90)" font-size="24.9" text-anchor="middle">ΔABS (mOD)</text>
<g transform="translate(263.5 554.2) scale(.85)" fill="none" stroke="#ff5a5a" stroke-width=".8"><path d="M-1.6-1.6h3.2v3.2h-3.2z"/></g>
<text x="272.4" y="559.2" font-size="16.7">514 nm</text>
<g transform="translate(346.5 554.2) scale(.85)" fill="none" stroke="#4a4a4a" stroke-width=".8"><circle r="1.8"/></g>
<text x="354.4" y="559.2" font-size="16.7">550 nm</text>
<g transform="translate(263.5 571.6) scale(.85)" fill="none" stroke="#5a5aff" stroke-width=".8"><path d="M0-2.1L2 1.4H-2z"/></g>
<text x="272.4" y="576.4" font-size="16.7">593 nm</text>
<g transform="translate(346.5 571.6) scale(.85)" fill="none" stroke="#2f9f2f" stroke-width=".8"><path d="M0-2.4L2.4 0 0 2.4-2.4 0z"/></g>
<text x="354.4" y="576.4" font-size="16.7">650 nm</text>
<rect x="601.75" y="538" width="304.75" height="267.9" fill="none" stroke="#000" stroke-width="1.9"/>
<g clip-path="url(#ckf)" fill="none">
<path d="M603.7 616.8L603.4 613.9L603.8 610.7L603.8 620.9L603.8 611.3L604.1 615.8L604.1 621.4L604.2 622.4L604.5 623.8L604.3 638.7L605 619.2L604.5 623.2L605.2 614.3L604.7 625.7L605.4 634.4L604.8 632.3L604.9 611L605 621L605.9 636.6L605.9 625.4L606.4 634.5L607.1 619.2L607 638.5L607.8 646.3L608.1 631.6L608.3 621.3L609.3 627.1L609.2 629.6L609.6 630.7L610.3 626.9L610.8 627.2L610.7 630.5L611.1 640.5L612.1 620.6L612.1 623.4L612.6 622.8L612.9 626.7L613.6 622.4L614.5 633L616.1 631.8L617.1 630.9L618 629.5L619.6 634.7L621.1 634.6L622.1 637.3L623.3 631.1L624.2 637.4L626 628.4L627 640.6L628.2 621.9L629.5 633.3L630.8 631.3L632 640.9L633.2 631.7L634.6 647.1L635 632.6L639.5 651.1L644.1 645.4L648.9 642.8L652.9 644.7L657.4 653.7L662.1 645.8L666.4 628.2L670.7 654.5L675 641.4L679.4 632.1L683.5 646.2L687.9 636.4L692.2 645.2L696.6 646.3L701.4 638L705.8 650L709.8 641.3L713.6 648.6L717.8 645.3L722.5 648.3L726.9 660.7L732.5 651.7L736.9 645.9L742.2 652L747.8 649.2L753.4 654.1L759.1 655.4L765.3 655.4L770.6 655.8L777.4 652.9L783.6 658.8L790.5 662.6L797.2 653.9L804.3 657.4L811.6 658.4L818.9 665.4L826.1 664.7L834.3 655L842.6 659.6L851 651L859.7 653.9L868.2 659.2L877 662.4L887 664L896.4 656.7" marker-start="url(#mred)" marker-mid="url(#mred)" marker-end="url(#mred)"/>
<path d="M604 624.4L603.6 643.2L603.5 646.1L604.1 632.8L604.4 636.2L604.1 634.9L604.6 620.3L604.2 650.1L604.8 625.9L604.2 637.2L604.8 619.3L605.1 620.6L604.7 625.9L605.2 627.2L605.1 627.7L605 638.1L604.9 619.6L605.5 624.2L605.7 628L606.2 628.6L606.3 611L606.6 625.3L607 600.5L607.9 600.1L607.9 615.4L608.4 606.6L609 634.4L609.2 591.4L609.7 604.9L610.1 589.3L610.8 599.6L610.9 614.8L611.2 584L612.1 589.7L611.9 593.6L612.7 595.2L613 593.5L613.2 591.3L614.8 590.7L616.1 593L617.1 587.1L618.2 579.5L619.3 579L621.1 580.8L622.5 581.7L623.2 585.8L624.5 588.2L626 567L627.3 586.3L628.6 581.7L629.8 580.2L631 595.2L632.2 582.9L633 585.6L634.6 596.3L635.5 587.8L639.6 585.3L643.9 600L648.5 594.6L653 596.7L657 614.2L662 595.4L666.3 600.5L670.3 597.8L674.7 598.3L679.1 601.3L683.7 591.8L688.5 609.5L692.5 607.3L697.3 608.3L701.1 613L705.5 617.3L710.2 621.7L713.1 607.6L717.5 613.7L722.6 612L727.1 612.1L732.3 617.1L737 622.2L742.3 621.8L748.1 622.1L753.4 625.1L758.8 622.7L764.9 623.7L770.7 632.5L776.9 629.5L783.7 639.9L789.9 633.7L796.8 637.3L803.7 637.3L811 629.4L818.7 637L826.1 628L834.1 638.1L842.3 646.6L850.5 637.6L859.1 637.2L868 634.3L877.8 640.7L886.7 644.1L896.5 651.9" marker-start="url(#mblack)" marker-mid="url(#mblack)" marker-end="url(#mblack)"/>
<path d="M603.3 755.7L604.1 747L603.9 756.9L603.9 777L603.8 751.6L604.5 770.7L603.9 758.3L604.5 751L604.5 764.3L604.7 750L604.8 752.5L604.9 751.2L604.9 756.9L604.9 764.4L605.3 753.9L604.9 769.2L605.1 763.2L605.6 760L606.1 754.7L606.3 766.6L606.2 753.8L607.2 753.8L607.7 755.5L607.7 770L608.1 767.7L608.4 767L609 764.6L609.1 755L609.5 765.6L610.5 757.9L610.6 772.6L611 767.9L611.2 767.6L611.4 770.4L611.8 769.3L612.2 769.9L613.1 770.9L613.6 764.9L615 765.1L616.2 770.4L616.8 773.9L618 772.8L619.7 769.5L620.7 772.1L622.4 769.2L623.3 771.8L624.6 768.9L625.8 771.2L626.9 783.9L628.4 775.5L629.3 774.7L631.2 767.5L632.3 767.5L633.6 769.4L635 771.3L635.5 768.3L640.1 773.7L644.3 767.9L648.5 772.8L652.6 769L657.4 758.3L661.8 761.9L666.3 756.4L670.8 758.6L675.1 750.9L679 752.6L683.4 752.1L688.4 738.4L692.9 740.8L696.9 747.6L701 745.8L705.4 753.5L709.8 744.7L713.7 738.2L717.8 743.6L722.5 739L727.5 740.1L732 738.1L737.3 740L742.5 731.9L747.8 731.6L753.1 716.1L759 741L764.6 727.8L770.8 726.8L777.1 724.1L783.4 724.5L790.6 723.4L797.2 728.5L804.4 722.3L811.6 722.4L818.5 715.7L826.1 716L834.7 719.1L842.4 713L850.9 713.2L859.7 703.3L868.1 712.1L877.5 710.7L886.7 714.3L896.3 699.5" marker-start="url(#mblue)" marker-mid="url(#mblue)" marker-end="url(#mblue)"/>
<path d="M603.4 714.6L604.1 727.6L604.1 732.3L604.1 727.4L603.9 716.6L604.2 730.8L603.9 717.3L604 725L604.8 725.1L604.5 725L604.4 731.3L605 725.4L604.9 728.3L605.1 728.3L604.7 723.5L605.1 730.4L605.2 722.7L605.2 728.6L605.5 724.4L606.4 733.8L606.7 730.1L607 738.7L607.2 736.5L607.9 735.3L608.1 738.3L608.2 742.9L609 736.2L609.5 738.3L610.1 740.6L610.4 740.7L610.2 738.5L610.8 736.5L611 740.6L611.4 738.2L612.1 739.4L612.3 740.9L612.6 744.4L613.5 744.3L614.9 745.1L616.1 746.3L616.7 744.2L618.2 745.2L619.2 744.3L620.8 745.6L622.4 745L623.1 748.7L624.8 745L625.8 745.8L627.1 749.1L628.6 747.5L629.4 746.8L630.7 746.7L632.3 744.1L633.1 750.6L634.3 748.9L635.3 745.6L639.7 744.2L644 746.2L648.4 742L653.3 744.7L657.3 745.2L661.6 740L666.4 739.5L670.8 742.4L675.1 734.2L679.7 735.5L683.4 736.4L688.1 733L692.8 731.4L697.3 730.9L701.1 728L705.9 730.6L709.9 725.8L713.3 722.9L718.1 732L722.7 719.4L726.9 724L732 722.3L737.6 719.3L742.5 709.1L747.9 721.6L753.2 724.6L759 717L764.8 713.7L770.7 717.1L777 706.8L783.7 710.6L790.3 710.2L797.1 705.7L803.9 702.1L811.2 697.8L819 694.5L826.7 697.7L834.6 698.9L842.2 693.6L850.9 699.7L859.6 694.1L868.1 697.8L877.4 696.4L887.1 690.4L896.7 693.6" marker-start="url(#mgreen)" marker-mid="url(#mgreen)" marker-end="url(#mgreen)"/>
<path d="M603.2 661.8l0-44 .2-.3 0 .1 .2 .1 0 .2 .2 .2 0 .3 .1 .3 .1 .4 .2 .4 0 .4 .2 .4 0 .4 .2 .5 0 .4 .2 .5 0 .4 .1 .5 .1 .4 .2 .4 0 .4 .2 .4 0 .4 .2 .3 0 .3 .2 .2 0 .2 .1 .2 .1 .1 .2 .1 0 .1 .2 .1 0 .1 .2 0 0 .1 .2 .1 0 .1 .1 .1 .1 0 .2 .1 0 .1 .2 .1 0 0 .2 .1 0 .1 .2 0 0 .1 .1 0 .1 .1 .2 0 0 .1 .2 .1 0 0 .2 .1 0 0 .2 0 0 .1 .1 0 .1 .1 .2 0 0 .1 .2 0 0 .1 .2 0 0 0 .2 .1 0 0 .1 0 .1 .1 .2 0 0 .1 .2 0 0 0 .2 .1 0 0 .2 0 0 .1 .1 0 .1 0 .2 .1 1 .3 1 .4 1 .5 1 .6 1 .5 1 .6 1 .5 1 .5 1 .4 1 .4 1 .3 1 .2 1 .2 1 .2 1 .2 1 .2 1 .3 1 .4 1 .4 1 .6 1 .7 1 .7 1 .7 1 .6 1 .6 1 .6 1 .6 1 .6 1 .5 1 .4 1 .2 1 0 1 0 1-.1 1 0 1-.1 1-.1 1-.1 1 0 1-.1 1-.1 1-.1 1-.2 1-.1 1-.2 1-.1 1-.2 1-.2 1-.1 1-.2 1-.1 1-.1 1-.1 1-.1 1-.1 1-.1 1-.1 1-.1 1-.1 1 0 1-.1 1 0 1 0 1 .1 1 .1 1 .2 1 .2 1 .3 1 .2 1 .3 1 .3 1 .2 1 .3 1 .2 1 .3 1 .2 1 .3 1 .3 1 .2 1 .3 1 .2 1 .2 1 .2 1 .2 1 .2 1 .2 1 .1 1 .2 1 .1 1 .2 1 .1 1 .2 1 .1 1 .1 1 .2 1 .1 1 .1 1 .2 1 .1 1 .1 1 .2 1 .1 1 .2 1 .2 1 .2 1 .2 1 .2 1 .2 1 .2 1 .2 1 .2 1 .3 1 .2 1 .1 1 .2 1 .2 1 .2 1 .1 1 .2 1 .2 1 .2 1 .1 1 .2 1 .2 1 .1 1 .2 1 .1 1 .2 1 .1 1 .2 1 .1 1 .2 1 .1 1 .2 1 .1 1 .1 1 .1 1 .1 1 .2 1 .1 1 .1 1 .1 1 .1 1 .1 1 0 1 .1 1 .1 1 .1 1 .1 1 .1 1 0 1 .1 1 .1 1 .1 1 0 1 .1 1 .1 1 .1 1 0 1 .1 1 .1 1 0 1 .1 1 .1 1 .1 1 0 1 .1 1 .1 1 .1 1 0 1 .1 1 .1 1 .1 1 0 1 .1 1 .1 1 .1 1 0 1 .1 1 .1 1 0 1 .1 1 .1 1 0 1 .1 1 .1 1 0 1 .1 1 0 1 .1 1 .1 1 0 1 .1 1 0 1 .1 1 .1 1 0 1 .1 1 0 1 .1 1 0 1 .1 1 .1 1 0 1 .1 1 0 1 .1 1 0 1 0 1 .1 1 0 1 .1 1 0 1 0 1 .1 1 0 1 0 1 0 1 .1 1 0 1 0 1 .1 1 0 1 0 1 0 1 .1 1 0 1 0 1 0 1 0 1 .1 1 0 1 0 1 0 1 0 1 0 1 0 1 0 1 0 1 .1 1-.1 1 0 1 0 1 0 1 0 1 0 1 0 1 0 1 0 1 0 1 0 1 0 1 0 1 0 1-.1 1 0 1 0 1 0 1 0 1 0 1 0 1-.1 1 0 1 0 1 0 1 0 1 0 1-.1 1 0 1 0 1 0 1 0 1-.1 1 0 1 0 1-.1 1 0 1 0 1 0 1-.1 1 0 1-.1 1 0 1 0 1-.1 1 0 1 0 1-.1 1 0 1-.1 1 0 1-.1 1 0 1 0 1-.1" stroke="#ff0000" stroke-width="2.05" stroke-linejoin="round"/>
<path d="M603.2 661.8l0-14.3 .2-4.3 0-2.4 .2-1.6 0-1.4 .2-1.4 0-1.2 .1-1.2 .1-1.1 .2-1 0-.9 .2-.9 0-.8 .2-.8 0-.7 .2-.6 0-.7 .1-.6 .1-.5 .2-.6 0-.5 .2-.6 0-.5 .2-.6 0-.5 .2-.6 0-.6 .1-.6 .1-.6 .2-.7 0-.6 .2-.7 0-.6 .2-.6 0-.6 .2-.7 0-.6 .1-.6 .1-.6 .2-.6 0-.6 .2-.6 0-.6 .2-.6 0-.5 .2-.6 0-.5 .1-.6 .1-.5 .2-.6 0-.5 .2-.5 0-.5 .2-.5 0-.5 .2-.4 0-.5 .1-.5 .1-.4 .2-.4 0-.5 .2-.4 0-.4 .2-.4 0-.3 .2-.4 0-.4 .1-.3 .1-.4 .2-.3 0-.4 .2-.3 0-.3 .2-.4 0-.3 .2-.3 0-.3 .1-.4 .1-.3 .2-.3 1-2.8 1-2 1-1.2 1-1 1-.7 1-.6 1-.4 1-.5 1-.3 1 0 1-.1 1 0 1 .1 1 0 1-.1 1 0 1 0 1 .1 1 .2 1 .3 1 .4 1 .5 1 .5 1 .6 1 .6 1 .7 1 .9 1 .9 1 1 1 .7 1 .6 1 .4 1 .3 1 .2 1 .3 1 .2 1 .2 1 .1 1 .1 1 0 1 0 1 0 1-.1 1 0 1-.1 1 0 1-.1 1-.1 1 0 1-.1 1 0 1 0 1 0 1 .1 1 .1 1 .1 1 .2 1 .2 1 .3 1 .2 1 .3 1 .3 1 .2 1 .3 1 .2 1 .3 1 .2 1 .3 1 .3 1 .3 1 .3 1 .3 1 .3 1 .3 1 .4 1 .3 1 .3 1 .4 1 .3 1 .4 1 .4 1 .4 1 .4 1 .4 1 .4 1 .5 1 .4 1 .4 1 .4 1 .4 1 .4 1 .4 1 .4 1 .4 1 .5 1 .4 1 .4 1 .4 1 .4 1 .4 1 .3 1 .4 1 .4 1 .4 1 .3 1 .4 1 .3 1 .4 1 .3 1 .3 1 .4 1 .3 1 .3 1 .3 1 .3 1 .4 1 .3 1 .3 1 .2 1 .3 1 .3 1 .3 1 .3 1 .3 1 .2 1 .3 1 .3 1 .2 1 .3 1 .3 1 .2 1 .3 1 .3 1 .3 1 .2 1 .3 1 .3 1 .3 1 .3 1 .2 1 .3 1 .3 1 .3 1 .3 1 .3 1 .4 1 .3 1 .3 1 .3 1 .3 1 .3 1 .3 1 .3 1 .4 1 .3 1 .3 1 .3 1 .3 1 .3 1 .3 1 .2 1 .3 1 .3 1 .3 1 .2 1 .3 1 .3 1 .2 1 .3 1 .2 1 .3 1 .2 1 .3 1 .2 1 .3 1 .2 1 .3 1 .2 1 .2 1 .3 1 .2 1 .2 1 .2 1 .2 1 .2 1 .2 1 .2 1 .2 1 .2 1 .2 1 .1 1 .2 1 .2 1 .2 1 .1 1 .2 1 .1 1 .2 1 .1 1 .2 1 .1 1 .2 1 .1 1 .2 1 .1 1 .1 1 .1 1 .2 1 .1 1 .1 1 .1 1 .1 1 .2 1 .1 1 .1 1 .1 1 .1 1 .1 1 .1 1 .1 1 .1 1 .1 1 .1 1 .1 1 .1 1 .1 1 .1 1 0 1 .1 1 .1 1 .1 1 .1 1 0 1 .1 1 0 1 .1 1 0 1 .1 1 0 1 .1 1 0 1 0 1 0 1 .1 1 0 1 0 1 0 1 0 1 .1 1 0 1 0 1 0 1 0 1 0 1 0 1 0 1 0 1 0 1 0 1-.1 1 0 1 0 1-.1 1 0 1 0 1-.1 1 0 1-.1 1 0 1 0 1-.1 1 0 1-.1 1 0 1-.1 1 0 1 0 1-.1 1 0 1-.1 1 0 1 0 1-.1 1 0 1-.1 1 0 1 0 1-.1 1 0 1-.1 1 0 1-.1 1 0 1 0 1-.1" stroke="#000000" stroke-width="2.05" stroke-linejoin="round"/>
<path d="M603.2 661.8l0 106.3 .2-13.1 0 .1 .2 .2 0 .2 .2 .2 0 .4 .1 .3 .1 .4 .2 .5 0 .4 .2 .5 0 .5 .2 .5 0 .5 .2 .6 0 .5 .1 .5 .1 .5 .2 .5 0 .5 .2 .4 0 .4 .2 .4 0 .3 .2 .3 0 .2 .1 .1 .1 .1 .2 .1 0 .1 .2 .1 0 .1 .2 .1 0 .1 .2 .1 0 .1 .1 .1 .1 0 .2 .1 0 .1 .2 .1 0 .1 .2 0 0 .1 .2 .1 0 0 .1 .1 .1 .1 .2 0 0 .1 .2 .1 0 0 .2 .1 0 0 .2 .1 0 0 .1 .1 .1 0 .2 .1 0 0 .2 .1 0 0 .2 .1 0 0 .2 .1 0 0 .1 .1 .1 0 .2 0 0 .1 .2 0 0 .1 .2 0 0 0 .2 .1 0 0 .1 0 .1 .1 .2 0 1 .3 1 .3 1 .2 1 .3 1 .2 1 .2 1 .2 1 .2 1 .2 1 .2 1 .1 1 .1 1 .1 1 0 1 0 1 0 1-.2 1-.2 1-.3 1-.2 1-.2 1-.1 1 0 1 .2 1 .2 1 .2 1 .2 1 .3 1 .1 1 0 1-.1 1-.2 1-.4 1-.4 1-.5 1-.6 1-.6 1-.6 1-.6 1-.5 1-.6 1-.5 1-.6 1-.6 1-.6 1-.7 1-.6 1-.7 1-.6 1-.6 1-.6 1-.6 1-.5 1-.6 1-.5 1-.6 1-.5 1-.5 1-.5 1-.6 1-.4 1-.5 1-.5 1-.4 1-.4 1-.3 1-.4 1-.3 1-.3 1-.4 1-.3 1-.2 1-.3 1-.3 1-.3 1-.2 1-.3 1-.2 1-.2 1-.2 1-.2 1-.2 1-.2 1-.2 1-.2 1-.2 1-.2 1-.2 1-.2 1-.2 1-.2 1-.3 1-.3 1-.2 1-.3 1-.3 1-.3 1-.3 1-.2 1-.3 1-.2 1-.2 1-.2 1-.2 1-.1 1-.2 1-.1 1-.1 1-.1 1-.2 1-.1 1-.1 1-.2 1-.1 1-.2 1-.2 1-.2 1-.2 1-.2 1-.2 1-.2 1-.3 1-.2 1-.3 1-.2 1-.3 1-.2 1-.3 1-.3 1-.3 1-.2 1-.3 1-.3 1-.3 1-.2 1-.3 1-.3 1-.2 1-.3 1-.2 1-.3 1-.2 1-.3 1-.2 1-.3 1-.2 1-.3 1-.2 1-.3 1-.2 1-.3 1-.2 1-.3 1-.2 1-.3 1-.2 1-.3 1-.2 1-.3 1-.2 1-.3 1-.2 1-.3 1-.2 1-.3 1-.2 1-.3 1-.2 1-.3 1-.2 1-.3 1-.2 1-.3 1-.2 1-.3 1-.2 1-.3 1-.2 1-.3 1-.2 1-.3 1-.2 1-.3 1-.2 1-.3 1-.2 1-.3 1-.2 1-.3 1-.2 1-.3 1-.2 1-.3 1-.3 1-.2 1-.3 1-.3 1-.2 1-.3 1-.3 1-.2 1-.3 1-.2 1-.3 1-.3 1-.2 1-.3 1-.2 1-.3 1-.2 1-.2 1-.2 1-.3 1-.2 1-.2 1-.2 1-.2 1-.2 1-.2 1-.2 1-.2 1-.1 1-.2 1-.2 1-.2 1-.2 1-.2 1-.1 1-.2 1-.2 1-.1 1-.2 1-.1 1-.2 1-.1 1-.2 1-.1 1-.2 1-.1 1-.1 1-.1 1-.2 1-.1 1-.1 1-.1 1-.2 1-.1 1-.1 1-.1 1-.1 1-.1 1-.1 1-.1 1-.1 1-.1 1-.1 1 0 1-.1 1-.1 1 0 1-.1 1 0 1 0 1-.1 1 0 1-.1 1 0 1 0 1-.1 1 0 1 0 1 0 1-.1 1 0 1 0 1 0 1 0 1 0 1 0 1 0 1 .1 1 0 1 0 1 .1 1 .1 1 0 1 .1 1 .1 1 .1 1 .1 1 .1 1 .1 1 .1 1 .1 1 .1" stroke="#0000ff" stroke-width="2.05" stroke-linejoin="round"/>
<path d="M603.2 661.8l0 48.7 .2 3.6 0 1.8 .2 1.7 0 1.5 .2 1.4 0 1.3 .1 1.1 .1 1.1 .2 1 0 .8 .2 .8 0 .7 .2 .6 0 .5 .2 .5 0 .4 .1 .4 .1 .3 .2 .4 0 .2 .2 .3 0 .2 .2 .3 0 .2 .2 .2 0 .3 .1 .3 .1 .2 .2 .3 0 .3 .2 .3 0 .3 .2 .3 0 .2 .2 .3 0 .2 .1 .3 .1 .2 .2 .2 0 .3 .2 .2 0 .2 .2 .2 0 .2 .2 .2 0 .2 .1 .2 .1 .2 .2 .2 0 .2 .2 .1 0 .2 .2 .2 0 .1 .2 .2 0 .1 .1 .2 .1 .1 .2 .2 0 .1 .2 .1 0 .2 .2 .1 0 .1 .2 .1 0 .2 .1 .1 .1 .1 .2 .1 0 .1 .2 .1 0 .1 .2 .1 0 .1 .2 .1 0 .1 .1 .1 .1 .1 .2 .1 1 .9 1 .8 1 .7 1 .6 1 .5 1 .5 1 .3 1 .2 1 .2 1 .2 1 .1 1 .2 1 .1 1 .1 1 .1 1 .1 1 0 1 0 1 0 1-.1 1 0 1-.1 1-.1 1-.1 1-.1 1-.1 1-.1 1-.1 1-.2 1-.2 1-.3 1-.2 1-.3 1-.3 1-.3 1-.3 1-.3 1-.3 1-.3 1-.2 1-.3 1-.2 1-.1 1-.2 1-.2 1-.2 1-.2 1-.2 1-.2 1-.2 1-.2 1-.2 1-.3 1-.3 1-.3 1-.3 1-.4 1-.3 1-.4 1-.4 1-.4 1-.3 1-.4 1-.3 1-.3 1-.3 1-.3 1-.2 1-.3 1-.2 1-.3 1-.2 1-.2 1-.3 1-.2 1-.3 1-.3 1-.3 1-.3 1-.4 1-.3 1-.4 1-.3 1-.4 1-.4 1-.3 1-.4 1-.3 1-.3 1-.3 1-.3 1-.2 1-.3 1-.2 1-.2 1-.3 1-.2 1-.2 1-.3 1-.2 1-.2 1-.3 1-.2 1-.3 1-.2 1-.3 1-.3 1-.2 1-.3 1-.3 1-.2 1-.3 1-.2 1-.3 1-.2 1-.3 1-.2 1-.2 1-.3 1-.2 1-.2 1-.2 1-.2 1-.3 1-.2 1-.2 1-.2 1-.2 1-.2 1-.2 1-.2 1-.3 1-.2 1-.2 1-.2 1-.2 1-.2 1-.3 1-.2 1-.2 1-.3 1-.2 1-.3 1-.2 1-.2 1-.3 1-.2 1-.3 1-.3 1-.2 1-.3 1-.2 1-.3 1-.2 1-.3 1-.2 1-.3 1-.3 1-.2 1-.3 1-.2 1-.3 1-.2 1-.2 1-.3 1-.2 1-.3 1-.2 1-.3 1-.2 1-.2 1-.3 1-.2 1-.3 1-.2 1-.2 1-.3 1-.2 1-.2 1-.3 1-.2 1-.2 1-.3 1-.2 1-.2 1-.2 1-.2 1-.2 1-.2 1-.2 1-.2 1-.2 1-.2 1-.2 1-.2 1-.2 1-.1 1-.2 1-.2 1-.2 1-.1 1-.2 1-.2 1-.2 1-.1 1-.2 1-.1 1-.2 1-.2 1-.1 1-.2 1-.1 1-.2 1-.1 1-.2 1-.1 1-.2 1-.1 1-.2 1-.1 1-.1 1-.2 1-.1 1-.2 1-.1 1-.1 1-.2 1-.1 1-.1 1-.2 1-.1 1-.1 1-.1 1-.2 1-.1 1-.1 1-.1 1-.1 1-.1 1-.1 1-.1 1-.1 1-.1 1-.1 1-.1 1-.1 1-.2 1-.1 1-.1 1-.1 1-.1 1-.1 1-.1 1-.1 1 0 1-.1 1-.1 1-.1 1 0 1-.1 1 0 1-.1 1 0 1 0 1 0 1 0 1 0 1 0 1 0 1 0 1 0 1 0 1 0 1 0 1 0 1 0 1 0 1 0 1 0 1 0 1 0 1 0 1 0 1 0 1 0 1 0 1 0 1 0 1 0 1 0 1 0 1 0 1 0 1 0 1 0" stroke="#008000" stroke-width="2.05" stroke-linejoin="round"/>
</g>
<text x="601.85" y="839.1" font-size="22.5" text-anchor="middle">0</text>
<text x="655" y="839.1" font-size="22.5" text-anchor="middle">500</text>
<text x="708.75" y="839.1" font-size="22.5" text-anchor="middle">1000</text>
<text x="762" y="839.1" font-size="22.5" text-anchor="middle">1500</text>
<text x="820.85" y="839.1" font-size="22.5" text-anchor="middle">2000</text>
<text x="880" y="839.1" font-size="22.5" text-anchor="middle">2500</text>
<text x="586.75" y="546.3" font-size="24.9" text-anchor="end">6</text>
<text x="586.75" y="587.8" font-size="24.9" text-anchor="end">4</text>
<text x="586.75" y="629.05" font-size="24.9" text-anchor="end">2</text>
<text x="586.75" y="670.05" font-size="24.9" text-anchor="end">0</text>
<text x="586.75" y="711.3" font-size="24.9" text-anchor="end">–2</text>
<text x="586.75" y="752.3" font-size="24.9" text-anchor="end">–4</text>
<text x="586.75" y="793.55" font-size="24.9" text-anchor="end">–6</text>
<path d="M601.75 805.9v6.3M656 805.9v6.3M710.25 805.9v6.3M765.25 805.9v6.3M819.25 805.9v6.3M873.5 805.9v6.3M601.75 538h-5.6M601.75 579.5h-5.6M601.75 620.75h-5.6M601.75 661.75h-5.6M601.75 703h-5.6M601.75 744h-5.6M601.75 785.25h-5.6" stroke="#000" stroke-width="1.6" fill="none"/>
<text x="764.33" y="874.5" font-size="22.8" text-anchor="middle">Decay times (ps)</text>
<text transform="translate(535.25 672.75) rotate(-90)" font-size="24.9" text-anchor="middle">ΔABS (mOD)</text>
<g transform="translate(752.75 554.2) scale(.85)" fill="none" stroke="#ff5a5a" stroke-width=".8"><path d="M-1.6-1.6h3.2v3.2h-3.2z"/></g>
<text x="762.45" y="559.2" font-size="16.7">514 nm</text>
<g transform="translate(835.75 554.2) scale(.85)" fill="none" stroke="#4a4a4a" stroke-width=".8"><circle r="1.8"/></g>
<text x="844.45" y="559.2" font-size="16.7">550 nm</text>
<g transform="translate(752.75 571.6) scale(.85)" fill="none" stroke="#5a5aff" stroke-width=".8"><path d="M0-2.1L2 1.4H-2z"/></g>
<text x="762.45" y="576.4" font-size="16.7">593 nm</text>
<g transform="translate(835.75 571.6) scale(.85)" fill="none" stroke="#2f9f2f" stroke-width=".8"><path d="M0-2.4L2.4 0 0 2.4-2.4 0z"/></g>
<text x="844.45" y="576.4" font-size="16.7">630 nm</text>
<rect x="1092" y="538" width="304.9" height="267.9" fill="none" stroke="#000" stroke-width="1.9"/>
<g clip-path="url(#ckg)" fill="none">
<path d="M1093.9 634.4L1094.1 632.1L1094.2 634.1L1094.4 638.7L1094.5 633.4L1094.7 628.5L1094.1 638.9L1094.3 635.8L1094.4 633.7L1094.6 639.2L1095.1 632.4L1095 631.7L1095.3 640.4L1095.3 633.4L1095.3 636.2L1095.1 634.8L1095.8 636.9L1095.8 635L1096.2 629.3L1096.7 636.4L1096.7 633.3L1097.1 636.8L1097.6 634.8L1097.9 638.2L1098.4 633.6L1098.9 622.7L1099.3 633.6L1099.3 637.5L1100.2 633.5L1100.1 633.1L1100.6 638.2L1101.1 634L1101.9 637.1L1101.8 634.7L1102.7 632.3L1102.9 633L1103.4 633.9L1103.4 634.7L1105.2 633.2L1106.2 632.4L1107 632.9L1108.8 633.7L1109.8 633.2L1111.4 633.6L1112.5 637.1L1114 634.9L1115.2 633.5L1116.2 634.7L1117.6 637.1L1118.2 635.8L1120.1 635L1121.3 633.5L1122.7 633.2L1123.8 635.3L1124.9 635.8L1125.8 633.8L1130.1 634.8L1134.4 637.3L1139.2 634.2L1143.2 635.7L1147.3 639.2L1151.6 641L1156.3 641.4L1160.8 645.5L1165.2 645.2L1169.3 644.8L1174 643.6L1178.8 648.6L1183 652L1187.4 647.7L1191.6 645.2L1196.3 648L1200.1 644.1L1203.8 647.8L1208.3 644.7L1212.6 648.9L1217.5 652.2L1222.1 651.2L1227.1 654.7L1232.6 652.6L1238 653.5L1243.6 653.5L1249.2 655.7L1255.5 655.5L1261 658.3L1267.7 659.9L1273.9 658.4L1280.3 656.4L1287.6 660L1294.3 664.9L1301.2 661.2L1309.3 661.1L1316.4 662.7L1324.6 663.8L1332.8 657.2L1341.2 664.6L1349.8 663.4L1358.8 662.9L1367.9 661.1L1376.8 662.5L1386.8 663" marker-start="url(#mred)" marker-mid="url(#mred)" marker-end="url(#mred)"/>
<path d="M1094.1 599.8L1093.6 608.4L1094 601.1L1094.4 597.1L1094.4 600L1094.4 601.4L1094.2 603.3L1094.2 606.8L1094.6 595.7L1095 599.8L1094.7 599.8L1095.3 596.1L1095.2 599.1L1095.2 605.6L1095.5 597.2L1095.2 591.4L1095.8 594.2L1095.5 593.4L1095.6 592.5L1096.8 595.4L1096.8 592.9L1097.5 591.3L1097.3 591.5L1097.8 589.5L1098.4 600.5L1099.1 589L1098.9 587.9L1099.6 583.5L1100.2 585.1L1100.3 582.7L1100.8 583.7L1101.5 583.1L1101.6 580.6L1102.2 579.5L1102.5 579.1L1103.1 580.5L1103.1 580.7L1103.6 580.3L1104.6 577.4L1106 578.5L1107.6 576.7L1109 574.7L1109.7 576.6L1111.3 575.3L1112.4 575.7L1113.8 574.2L1114.7 572.8L1116 575.4L1117.1 573.4L1118.6 571.9L1119.5 575.5L1121.4 573.6L1122.1 574.9L1123.7 575.9L1124.9 576.2L1125.5 578.2L1130.4 579L1134.7 576.4L1139 582.2L1142.9 582.4L1147.6 582.5L1152.1 585.4L1156.1 583.9L1161 588L1165.5 590.1L1170 592.4L1174 593.8L1178 592.9L1182.6 595.5L1187.4 595.9L1191.3 601.5L1196.1 600.8L1200.5 601.2L1203.6 605.5L1208.3 605.1L1212.4 607L1217.6 608.9L1222.3 611.6L1227.8 612.3L1232.6 615.4L1237.8 616L1243.5 618.4L1249.3 619.3L1254.9 619.2L1261.5 627.1L1267.6 628.4L1273.7 627.2L1280.6 628.5L1287.7 631.2L1294.4 630.5L1301.5 631.8L1309.1 634.8L1316.8 634.7L1324.7 637.8L1332.4 636.5L1340.6 639.7L1349.5 640.5L1358.5 639.9L1367.9 644.7L1376.8 642.7L1387.1 645.8" marker-start="url(#mblack)" marker-mid="url(#mblack)" marker-end="url(#mblack)"/>
<path d="M1094 772.2L1094.2 774.5L1094.1 773.6L1094.3 772.3L1094 769.6L1094.7 772.8L1094.6 770.8L1094.3 773.2L1094.7 779.5L1094.8 775.3L1095.2 772.7L1095.2 772L1094.8 770.8L1095.3 774.8L1094.9 774.6L1095.4 777.3L1095.8 774.9L1095.4 771.7L1096.1 770.9L1096.3 776.7L1096.5 773.1L1097.5 778.9L1097.8 771.5L1097.8 773.4L1098.2 774L1098.7 776.5L1099.4 777.6L1099.9 775.6L1100 777.7L1100 774.2L1100.4 775.9L1101 774.8L1101.8 776.4L1101.7 776.2L1102.5 778L1102.4 781.1L1103.1 774.9L1103.7 778.1L1105 779.5L1105.7 779.1L1107.1 780.9L1108.4 777.5L1109.7 780.9L1111 778.7L1112.6 781.6L1113.3 781.2L1114.6 781.3L1116.1 780.5L1117.6 779.3L1118.8 780L1119.5 782.5L1121.1 780.5L1122.5 782.2L1123.5 779L1125.1 780.7L1125.3 781L1130 776.6L1134.6 777.8L1139.2 778.2L1142.8 773.6L1147.8 774L1151.9 771.3L1156.6 770.7L1160.8 767.7L1165.4 765.6L1169.3 764.7L1174.3 763L1178.3 761.3L1183 759.2L1187 760.3L1191.3 756.7L1195.9 752.4L1200.5 751.6L1203.9 753.7L1208.1 749L1212.6 751.1L1217.9 749.8L1222.6 749.1L1227.5 745.5L1232.8 743.4L1237.9 743.1L1243.6 741.3L1249.2 741.2L1255 738L1260.9 735.9L1267.2 733.2L1274.1 732.9L1280.7 731.7L1287.2 731.4L1294.6 728.4L1301.3 728.6L1309.2 727.1L1316.8 723.6L1324.2 722.2L1332.9 720.7L1341.2 721.2L1349.6 719.7L1358.5 720.9L1367.7 720.3L1377.1 720.8L1386.4 719.6" marker-start="url(#mblue)" marker-mid="url(#mblue)" marker-end="url(#mblue)"/>
<path d="M1093.8 740.3L1094.3 744L1094.1 741.9L1094.6 744.1L1094.7 746.7L1094.4 746.9L1094.3 746.2L1094.9 749L1095.1 748.8L1094.7 745.8L1094.7 747.5L1095.4 748.8L1095.3 743.1L1095.1 747L1095.1 746L1095.5 754.3L1095.9 750.3L1095.7 751.8L1096.6 752.3L1096.6 751.7L1097.3 753.3L1097.6 756.8L1098.1 755L1098.1 755.2L1099.1 755.7L1099.6 755.8L1099.6 757.2L1099.9 754.6L1100.6 759.3L1100.5 756.9L1100.9 759.7L1101.8 756.4L1102 759.1L1102.5 758.2L1102.4 758.3L1103.5 759.7L1103.7 758.8L1104.5 758.8L1106.2 760.8L1107.7 760.8L1108.4 757.3L1110.2 760.6L1111.5 762.4L1112.6 761.3L1113.6 762.6L1114.8 763.2L1116 761L1117.6 761.2L1118.3 764.4L1119.9 762.9L1121.1 763.4L1122.7 762.4L1123.9 762.3L1124.8 760.6L1125.7 762.1L1130.2 759.8L1134.4 757.6L1138.6 756.5L1142.9 756.2L1147.7 753.4L1151.9 753.1L1156.2 751.2L1160.7 751.2L1164.8 750.7L1169.6 746.7L1173.7 747.3L1178.1 745L1183 743.6L1186.9 743.6L1191.8 742.4L1196 740.2L1200.2 738.3L1203.7 739.6L1208.1 736.9L1213.1 733.6L1217.9 733.8L1222.4 733.9L1227.4 731.2L1232.8 730.2L1237.8 729.1L1243.6 723.9L1249 727.5L1255 724.2L1261.4 721L1267.7 722.3L1273.9 719.2L1280.9 718.3L1287 713.9L1294.2 715.6L1301.6 714.8L1308.9 713.6L1316.7 709.5L1324.2 709.8L1332.8 709.5L1340.7 708.1L1349.5 706.2L1358.3 708.3L1367.8 705.3L1376.7 706.8L1387.2 706" marker-start="url(#mgreen)" marker-mid="url(#mgreen)" marker-end="url(#mgreen)"/>
<path d="M1093.4 671.8l.1-33.3 .1-2.4 .1-1 .1-.1 .1 0 .1-.1 .1 0 .1 0 .1 0 .1-.1 .1 0 .1 0 .1 0 .1 0 .1-.1 .1 0 .1 0 .1 0 .1 0 .1-.1 .1 0 .1 0 .1 0 .1 0 .1 0 .1 0 .1-.1 .1 0 .1 0 .1 0 .1 0 .1 0 .1 0 .1 0 .1-.1 .1 0 .1 0 .1 0 .1 0 .1 0 .1 0 .1 0 .1 0 .1 0 .1 0 .1-.1 .1 0 .1 0 .1 0 .1 0 .1 0 .1 0 .1 0 .1 0 .1 0 .1 0 .1 0 .1 0 .1 0 .1 0 .1 0 .1 0 .1 0 .1 0 .1 0 .1 0 .1 0 .1 0 .1 0 .1 0 .1 0 .1 0 .1 0 .1 0 .1 0 .1 0 .1 0 .1 0 .1 0 .1 0 1 0 1 0 1 0 1 0 1 0 1 0 1 0 1 0 1 .1 1 0 1 0 1 .1 1 0 1 .1 1 .1 1 .1 1 .1 1 .1 1 .2 1 .1 1 .2 1 .1 1 .2 1 .1 1 .2 1 .1 1 .2 1 .2 1 .1 1 .2 1 .1 1 .2 1 .1 1 .2 1 .1 1 .2 1 .1 1 .2 1 .1 1 .2 1 .1 1 .1 1 .2 1 .2 1 .1 1 .2 1 .1 1 .2 1 .1 1 .2 1 .2 1 .1 1 .2 1 .2 1 .2 1 .1 1 .2 1 .2 1 .2 1 .2 1 .2 1 .2 1 .2 1 .1 1 .2 1 .2 1 .2 1 .2 1 .2 1 .1 1 .2 1 .2 1 .2 1 .1 1 .2 1 .2 1 .1 1 .2 1 .1 1 .2 1 .1 1 .2 1 .1 1 .1 1 .2 1 .1 1 .1 1 .2 1 .1 1 .1 1 .2 1 .1 1 .1 1 .2 1 .1 1 .2 1 .1 1 .1 1 .2 1 .1 1 .2 1 .1 1 .2 1 .1 1 .2 1 .1 1 .2 1 .1 1 .2 1 .1 1 .2 1 .1 1 .2 1 .1 1 .2 1 .1 1 .2 1 .1 1 .2 1 .1 1 .2 1 .1 1 .2 1 .1 1 .2 1 .1 1 .1 1 .2 1 .1 1 .2 1 .1 1 .1 1 .2 1 .1 1 .1 1 .1 1 .2 1 .1 1 .1 1 .2 1 .1 1 .1 1 .1 1 .2 1 .1 1 .1 1 .1 1 .2 1 .1 1 .1 1 .2 1 .1 1 .1 1 .1 1 .2 1 .1 1 .1 1 .1 1 .2 1 .1 1 .1 1 .2 1 .1 1 .1 1 .1 1 .1 1 .2 1 .1 1 .1 1 .1 1 .1 1 .1 1 .1 1 .1 1 .1 1 .1 1 .1 1 .1 1 .1 1 .1 1 .1 1 .1 1 .1 1 .1 1 0 1 .1 1 .1 1 .1 1 .1 1 0 1 .1 1 .1 1 .1 1 0 1 .1 1 .1 1 0 1 .1 1 .1 1 .1 1 0 1 .1 1 .1 1 0 1 .1 1 .1 1 .1 1 0 1 .1 1 .1 1 0 1 .1 1 .1 1 0 1 .1 1 0 1 .1 1 .1 1 0 1 .1 1 0 1 .1 1 0 1 0 1 .1 1 0 1 0 1 .1 1 0 1 0 1 .1 1 0 1 0 1 0 1 .1 1 0 1 0 1 0 1 .1 1 0 1 0 1 0 1 0 1 0 1 .1 1 0 1 0 1 0 1 0 1 0 1 0 1 0 1 0 1 0 1 0 1 0 1 0 1 0 1 0 1 0 1 0 1 0 1 0 1 0 1 0 1 0 1 0 1 0 1 0 1 0 1 0 1 0 1 0 1 0 1 0 1 0 1 0 1 0 1 0 1 0 1-.1 1 0 1 0 1 0 1 0 1-.1 1 0 1 0 1-.1 1 0 1 0 1-.1 1 0 1 0 1 0" stroke="#ff0000" stroke-width="2.05" stroke-linejoin="round"/>
<path d="M1093.4 671.8l.1-51.7 .1-8.1 .1-3.6 .1-1.6 .1-1.3 .1-1.1 .1-1.1 .1-.9 .1-.9 .1-.7 .1-.7 .1-.6 .1-.5 .1-.5 .1-.4 .1-.4 .1-.4 .1-.4 .1-.3 .1-.3 .1-.4 .1-.3 .1-.4 .1-.4 .1-.4 .1-.4 .1-.4 .1-.3 .1-.4 .1-.4 .1-.3 .1-.3 .1-.4 .1-.3 .1-.3 .1-.3 .1-.3 .1-.3 .1-.3 .1-.3 .1-.2 .1-.3 .1-.3 .1-.2 .1-.3 .1-.2 .1-.2 .1-.3 .1-.2 .1-.2 .1-.2 .1-.2 .1-.2 .1-.3 .1-.1 .1-.2 .1-.2 .1-.2 .1-.2 .1-.2 .1-.2 .1-.2 .1-.1 .1-.2 .1-.2 .1-.1 .1-.2 .1-.1 .1-.2 .1-.2 .1-.1 .1-.2 .1-.1 .1-.1 .1-.2 .1-.1 .1-.2 .1-.1 .1-.1 .1-.1 1-1.2 1-1 1-.9 1-.9 1-.6 1-.6 1-.5 1-.5 1-.4 1-.2 1-.1 1 0 1-.1 1 0 1 0 1 0 1 0 1 .2 1 .1 1 .2 1 .2 1 .2 1 .2 1 .2 1 .2 1 .3 1 .2 1 .3 1 .3 1 .2 1 .3 1 .3 1 .3 1 .3 1 .3 1 .4 1 .3 1 .3 1 .4 1 .3 1 .4 1 .3 1 .4 1 .4 1 .4 1 .3 1 .4 1 .4 1 .4 1 .4 1 .3 1 .4 1 .4 1 .4 1 .4 1 .4 1 .4 1 .4 1 .4 1 .4 1 .4 1 .5 1 .4 1 .4 1 .4 1 .4 1 .4 1 .4 1 .4 1 .4 1 .4 1 .4 1 .4 1 .4 1 .4 1 .3 1 .4 1 .4 1 .3 1 .4 1 .4 1 .3 1 .4 1 .3 1 .4 1 .3 1 .4 1 .3 1 .4 1 .3 1 .3 1 .4 1 .3 1 .4 1 .3 1 .4 1 .3 1 .4 1 .3 1 .3 1 .4 1 .3 1 .4 1 .3 1 .4 1 .3 1 .4 1 .3 1 .4 1 .3 1 .4 1 .3 1 .4 1 .3 1 .4 1 .3 1 .4 1 .3 1 .4 1 .3 1 .4 1 .3 1 .4 1 .3 1 .4 1 .3 1 .4 1 .4 1 .3 1 .4 1 .3 1 .4 1 .4 1 .3 1 .4 1 .3 1 .4 1 .4 1 .3 1 .4 1 .3 1 .4 1 .3 1 .4 1 .3 1 .3 1 .4 1 .3 1 .3 1 .4 1 .3 1 .3 1 .3 1 .3 1 .3 1 .3 1 .3 1 .3 1 .3 1 .3 1 .3 1 .2 1 .3 1 .3 1 .3 1 .3 1 .2 1 .3 1 .3 1 .2 1 .3 1 .2 1 .3 1 .3 1 .2 1 .2 1 .3 1 .2 1 .3 1 .2 1 .3 1 .2 1 .2 1 .2 1 .3 1 .2 1 .2 1 .2 1 .3 1 .2 1 .2 1 .2 1 .2 1 .2 1 .2 1 .2 1 .2 1 .2 1 .2 1 .2 1 .2 1 .2 1 .2 1 .2 1 .2 1 .2 1 .2 1 .2 1 .1 1 .2 1 .2 1 .2 1 .2 1 .1 1 .2 1 .2 1 .1 1 .2 1 .2 1 .1 1 .2 1 .1 1 .1 1 .2 1 .1 1 .1 1 .2 1 .1 1 .1 1 .1 1 .2 1 .1 1 .1 1 .1 1 .1 1 .1 1 .1 1 .1 1 .1 1 .1 1 .1 1 .1 1 .1 1 .1 1 0 1 .1 1 .1 1 .1 1 .1 1 .1 1 0 1 .1 1 .1 1 .1 1 .1 1 0 1 .1 1 .1 1 .1 1 .1 1 0 1 .1 1 .1 1 0 1 .1 1 .1 1 0 1 .1 1 0 1 .1 1 0 1 0 1 0 1 .1 1 0 1 0 1 0 1 0 1 0 1 0 1 0 1 0 1 0 1 0 1 0 1 0 1 0 1 0 1 0 1 0 1 0 1 0 1 0 1 0 1 0" stroke="#000000" stroke-width="2.05" stroke-linejoin="round"/>
<path d="M1093.4 671.8l.1 95.1 .1 3 .1 1.1 .1 .4 .1 .3 .1 .2 .1 .3 .1 .2 .1 .2 .1 .2 .1 .2 .1 .1 .1 .2 .1 .1 .1 .1 .1 .2 .1 .1 .1 .1 .1 .1 .1 0 .1 .1 .1 .1 .1 .1 .1 0 .1 .1 .1 0 .1 .1 .1 0 .1 .1 .1 0 .1 .1 .1 0 .1 .1 .1 .1 .1 0 .1 .1 .1 .1 .1 0 .1 .1 .1 .1 .1 0 .1 .1 .1 .1 .1 0 .1 .1 .1 0 .1 .1 .1 .1 .1 0 .1 .1 .1 0 .1 .1 .1 0 .1 .1 .1 0 .1 .1 .1 0 .1 .1 .1 0 .1 .1 .1 0 .1 .1 .1 0 .1 .1 .1 0 .1 0 .1 .1 .1 0 .1 .1 .1 0 .1 .1 .1 0 .1 0 .1 .1 .1 0 .1 .1 .1 0 .1 .1 .1 0 .1 0 1 .5 1 .4 1 .5 1 .4 1 .3 1 .3 1 .2 1 .3 1 .2 1 .2 1 .2 1 .2 1 .1 1 .1 1 .1 1 0 1-.1 1-.1 1-.1 1-.1 1-.2 1-.2 1-.2 1-.2 1-.2 1-.3 1-.2 1-.3 1-.3 1-.3 1-.3 1-.3 1-.3 1-.4 1-.3 1-.3 1-.4 1-.3 1-.4 1-.3 1-.4 1-.4 1-.3 1-.4 1-.3 1-.4 1-.4 1-.3 1-.4 1-.3 1-.4 1-.3 1-.4 1-.3 1-.4 1-.3 1-.4 1-.3 1-.4 1-.3 1-.4 1-.3 1-.4 1-.3 1-.4 1-.3 1-.4 1-.3 1-.4 1-.3 1-.4 1-.3 1-.4 1-.3 1-.4 1-.3 1-.4 1-.4 1-.3 1-.4 1-.3 1-.4 1-.3 1-.4 1-.4 1-.3 1-.4 1-.3 1-.4 1-.3 1-.4 1-.3 1-.4 1-.3 1-.4 1-.3 1-.4 1-.3 1-.3 1-.3 1-.4 1-.3 1-.3 1-.3 1-.3 1-.3 1-.4 1-.3 1-.3 1-.3 1-.3 1-.2 1-.3 1-.3 1-.3 1-.3 1-.3 1-.3 1-.3 1-.3 1-.3 1-.3 1-.3 1-.3 1-.3 1-.3 1-.3 1-.3 1-.3 1-.3 1-.3 1-.3 1-.3 1-.3 1-.3 1-.3 1-.3 1-.4 1-.3 1-.3 1-.3 1-.3 1-.3 1-.3 1-.3 1-.2 1-.3 1-.3 1-.3 1-.3 1-.3 1-.2 1-.3 1-.3 1-.2 1-.3 1-.2 1-.3 1-.3 1-.2 1-.3 1-.2 1-.3 1-.2 1-.2 1-.3 1-.2 1-.3 1-.2 1-.3 1-.2 1-.2 1-.3 1-.2 1-.3 1-.2 1-.3 1-.2 1-.2 1-.3 1-.2 1-.3 1-.2 1-.3 1-.2 1-.3 1-.2 1-.3 1-.2 1-.2 1-.3 1-.2 1-.2 1-.2 1-.2 1-.3 1-.2 1-.2 1-.1 1-.2 1-.2 1-.2 1-.2 1-.1 1-.2 1-.1 1-.2 1-.1 1-.2 1-.1 1-.2 1-.1 1-.1 1-.2 1-.1 1-.1 1-.2 1-.1 1-.1 1-.2 1-.1 1-.1 1-.1 1-.2 1-.1 1-.1 1-.1 1-.2 1-.1 1-.1 1-.1 1-.2 1-.1 1-.1 1-.1 1-.1 1-.2 1-.1 1-.1 1-.1 1-.1 1-.1 1-.1 1-.1 1-.1 1-.1 1-.1 1-.1 1-.1 1-.1 1 0 1-.1 1-.1 1-.1 1 0 1-.1 1-.1 1 0 1-.1 1-.1 1 0 1-.1 1 0 1-.1 1 0 1-.1 1 0 1-.1 1 0 1 0 1-.1 1 0 1 0 1 0 1 0 1 0 1-.1 1 0 1 0 1 0 1 0 1 0 1 0 1 0 1 0 1 0 1 0 1 0 1 0 1 .1 1 0 1 0 1 0 1 0 1 0" stroke="#0000ff" stroke-width="2.05" stroke-linejoin="round"/>
<path d="M1093.4 671.8l.1 57.5 .1 7 .1 3 .1 1.3 .1 1 .1 .9 .1 .9 .1 .8 .1 .7 .1 .6 .1 .5 .1 .5 .1 .5 .1 .4 .1 .3 .1 .3 .1 .3 .1 .3 .1 .3 .1 .2 .1 .3 .1 .2 .1 .3 .1 .2 .1 .3 .1 .3 .1 .2 .1 .3 .1 .2 .1 .2 .1 .2 .1 .3 .1 .2 .1 .2 .1 .2 .1 .2 .1 .1 .1 .2 .1 .2 .1 .2 .1 .1 .1 .2 .1 .1 .1 .2 .1 .1 .1 .2 .1 .1 .1 .2 .1 .1 .1 .1 .1 .2 .1 .1 .1 .1 .1 .2 .1 .1 .1 .1 .1 .1 .1 .2 .1 .1 .1 .1 .1 .1 .1 .2 .1 .1 .1 .1 .1 .1 .1 .1 .1 .1 .1 .1 .1 .1 .1 .1 .1 .1 .1 .1 .1 .1 .1 .1 .1 .1 .1 .1 .1 .1 .1 .1 .1 .1 .1 0 1 .7 1 .5 1 .4 1 .3 1 .4 1 .3 1 .3 1 .3 1 .2 1 .2 1 0 1 .1 1 0 1 0 1 .1 1 0 1 0 1 0 1 0 1-.1 1 0 1-.2 1-.1 1-.2 1-.1 1-.2 1-.2 1-.3 1-.2 1-.3 1-.2 1-.3 1-.3 1-.3 1-.3 1-.3 1-.3 1-.3 1-.3 1-.4 1-.3 1-.3 1-.4 1-.3 1-.3 1-.3 1-.4 1-.3 1-.3 1-.3 1-.4 1-.3 1-.3 1-.3 1-.3 1-.3 1-.3 1-.3 1-.3 1-.3 1-.3 1-.3 1-.3 1-.3 1-.3 1-.2 1-.3 1-.3 1-.3 1-.3 1-.3 1-.3 1-.4 1-.3 1-.3 1-.3 1-.3 1-.3 1-.3 1-.3 1-.4 1-.3 1-.3 1-.3 1-.4 1-.3 1-.3 1-.4 1-.3 1-.3 1-.3 1-.4 1-.3 1-.3 1-.3 1-.3 1-.3 1-.4 1-.3 1-.3 1-.3 1-.3 1-.3 1-.3 1-.3 1-.2 1-.3 1-.3 1-.3 1-.3 1-.3 1-.3 1-.2 1-.3 1-.3 1-.3 1-.2 1-.3 1-.3 1-.3 1-.2 1-.3 1-.3 1-.2 1-.3 1-.3 1-.2 1-.3 1-.2 1-.3 1-.2 1-.3 1-.2 1-.3 1-.2 1-.3 1-.2 1-.3 1-.2 1-.3 1-.2 1-.3 1-.2 1-.3 1-.2 1-.3 1-.2 1-.3 1-.2 1-.3 1-.2 1-.3 1-.2 1-.3 1-.2 1-.3 1-.2 1-.3 1-.3 1-.2 1-.3 1-.2 1-.3 1-.2 1-.3 1-.2 1-.3 1-.2 1-.3 1-.2 1-.3 1-.2 1-.2 1-.3 1-.2 1-.2 1-.3 1-.2 1-.2 1-.2 1-.2 1-.2 1-.3 1-.2 1-.2 1-.2 1-.2 1-.2 1-.2 1-.2 1-.2 1-.2 1-.2 1-.2 1-.1 1-.2 1-.2 1-.2 1-.2 1-.1 1-.2 1-.2 1-.2 1-.1 1-.2 1-.1 1-.2 1-.2 1-.1 1-.2 1-.1 1-.2 1-.1 1-.2 1-.1 1-.2 1-.1 1-.2 1-.1 1-.1 1-.2 1-.1 1-.1 1-.2 1-.1 1-.2 1-.1 1-.1 1-.2 1-.1 1-.1 1-.2 1-.1 1-.2 1-.1 1-.1 1-.2 1-.1 1-.1 1-.1 1-.1 1-.2 1-.1 1-.1 1-.1 1-.1 1-.1 1-.1 1-.1 1-.1 1 0 1-.1 1-.1 1-.1 1 0 1-.1 1-.1 1 0 1-.1 1-.1 1 0 1-.1 1 0 1-.1 1 0 1-.1 1 0 1-.1 1 0 1 0 1-.1 1 0 1 0 1 0 1 0 1 0 1-.1 1 0 1 0 1 0 1 0 1 0 1 0 1 0 1 0 1 0 1 0 1 0 1 0 1 .1 1 0 1 0 1 0 1 0 1 0" stroke="#008000" stroke-width="2.05" stroke-linejoin="round"/>
</g>
<text x="1092.1" y="839.1" font-size="22.5" text-anchor="middle">0</text>
<text x="1145.25" y="839.1" font-size="22.5" text-anchor="middle">500</text>
<text x="1199" y="839.1" font-size="22.5" text-anchor="middle">1000</text>
<text x="1252.25" y="839.1" font-size="22.5" text-anchor="middle">1500</text>
<text x="1311.1" y="839.1" font-size="22.5" text-anchor="middle">2000</text>
<text x="1370.25" y="839.1" font-size="22.5" text-anchor="middle">2500</text>
<text x="1077" y="546.3" font-size="24.9" text-anchor="end">20</text>
<text x="1077" y="612.8" font-size="24.9" text-anchor="end">10</text>
<text x="1077" y="680.05" font-size="24.9" text-anchor="end">0</text>
<text x="1077" y="747.05" font-size="24.9" text-anchor="end">–10</text>
<text x="1077" y="813.8" font-size="24.9" text-anchor="end">–20</text>
<path d="M1092.5 805.9v6.3M1147 805.9v6.3M1201.25 805.9v6.3M1255.75 805.9v6.3M1310.25 805.9v6.3M1364.75 805.9v6.3M1092 538h-5.6M1092 604.5h-5.6M1092 671.75h-5.6M1092 738.75h-5.6M1092 805.5h-5.6" stroke="#000" stroke-width="1.6" fill="none"/>
<text x="1254.65" y="874.5" font-size="22.8" text-anchor="middle">Decay times (ps)</text>
<text transform="translate(1012.75 672.75) rotate(-90)" font-size="24.9" text-anchor="middle">ΔABS (mOD)</text>
<g transform="translate(1243 554.2) scale(.85)" fill="none" stroke="#ff5a5a" stroke-width=".8"><path d="M-1.6-1.6h3.2v3.2h-3.2z"/></g>
<text x="1250.3" y="559.2" font-size="16.7">514 nm</text>
<g transform="translate(1326 554.2) scale(.85)" fill="none" stroke="#4a4a4a" stroke-width=".8"><circle r="1.8"/></g>
<text x="1332.3" y="559.2" font-size="16.7">550 nm</text>
<g transform="translate(1243 571.6) scale(.85)" fill="none" stroke="#5a5aff" stroke-width=".8"><path d="M0-2.1L2 1.4H-2z"/></g>
<text x="1250.3" y="576.4" font-size="16.7">593 nm</text>
<g transform="translate(1326 571.6) scale(.85)" fill="none" stroke="#2f9f2f" stroke-width=".8"><path d="M0-2.4L2.4 0 0 2.4-2.4 0z"/></g>
<text x="1332.3" y="576.4" font-size="16.7">650 nm</text>
<rect x="1581" y="538" width="304.3" height="267.9" fill="none" stroke="#000" stroke-width="1.9"/>
<g clip-path="url(#ckh)" fill="none">
<path d="M1583.2 639.5L1582.8 637.4L1583.2 641.5L1582.8 644.9L1583.6 641.3L1583.8 637.3L1583.2 635.9L1583.6 636.2L1583.4 638.7L1583.7 634L1584.2 630.4L1584.1 645.6L1583.8 639.5L1584.6 636.1L1584.3 644.1L1584.1 637.1L1584.4 635.3L1584.3 642.1L1585.3 632.7L1585.3 648.6L1585.8 639.7L1586.5 631.2L1586.7 637.2L1586.6 635.4L1587.1 641.9L1587.5 638.1L1588.3 640.5L1588.7 640.8L1588.9 640L1589.3 630.6L1589.5 637L1589.9 638.2L1590.7 639L1591.2 638.2L1591.4 638.9L1592 632.3L1592.2 637.7L1592.2 635.1L1593.5 640.2L1595.3 637.4L1596.6 641L1598 638.7L1598.7 638.1L1600.3 639.9L1601.5 640.6L1602.7 638.3L1604.1 634.9L1605.5 637.4L1606.1 641.6L1607.8 638L1608.8 637.4L1610.4 636L1611.7 638.5L1613 638L1614.1 638L1614.9 638.6L1618.7 637.7L1623.1 639.3L1627.7 642.4L1632.4 637.9L1636.8 642.9L1641.3 642.6L1645.1 644.6L1649.9 645.8L1654.2 642.4L1658.3 643.1L1663 643.6L1667.6 645.5L1671.5 648.4L1676.5 645.7L1680.3 652.9L1684.7 651.4L1689.3 648.2L1692.8 647.9L1697.3 650.8L1702 653.5L1706.3 649.4L1711.2 653.2L1716.3 653.1L1721.5 652.5L1727 656L1733 652.7L1738.5 657L1744.1 654L1750.6 658.1L1756.5 655.8L1762.5 655.9L1769.1 657L1776.3 654.8L1783.1 659.3L1790.3 661L1797.9 659.6L1805.7 659.4L1813.9 659.8L1821.3 656.6L1830.4 661.6L1838.6 663.1L1847.4 663L1856.5 661.3L1866 661.5L1875.7 662.3" marker-start="url(#mred)" marker-mid="url(#mred)" marker-end="url(#mred)"/>
<path d="M1583.2 595.7L1582.8 603L1583.2 599.9L1583.2 591.1L1583.3 595.7L1583.4 596.2L1583.5 597L1583.3 596.8L1583.5 593.5L1583.6 595.6L1583.8 591.7L1583.9 593.7L1584.5 591.9L1584.5 590.5L1584.5 593.1L1584.3 594.2L1584.6 588L1584.6 592.1L1584.9 589.8L1585.7 586.6L1586 587.7L1586.4 592.6L1586.5 586.3L1586.9 584.3L1587.3 582.7L1588 583.8L1588.4 584.1L1588.8 581.4L1589.1 582.6L1589.2 584.2L1590 585.3L1590.3 581.3L1591 585.7L1590.9 583.6L1591.1 582.2L1592.1 581.9L1591.8 580.7L1592.3 579.4L1593.9 579L1595.3 578.5L1596.2 578.2L1597.2 579.4L1598.9 582.3L1600.3 577.2L1601.7 577.3L1602.4 575.1L1603.7 573.3L1605.3 575.3L1606.6 575.8L1607.4 577.1L1608.5 578.3L1609.9 575.8L1611.2 577L1612.6 576.9L1613.6 575.9L1614.3 576.8L1619.4 577.2L1623.5 580.2L1627.4 575.7L1632.4 577.4L1636.3 582.5L1640.9 585.4L1645.4 587.4L1650 586.8L1654.6 591.3L1658.4 589.9L1662.6 593.6L1667.2 593.3L1671.7 594.5L1676 599.2L1680.5 597.7L1684.9 598.9L1689.8 604L1693 604.4L1697.1 601.9L1701.6 608.7L1706.8 606.9L1711.6 609.7L1716.8 611.9L1721.6 616.7L1726.7 615.3L1732.5 618.4L1738.1 618.5L1744.3 621.1L1750.3 617.4L1756.2 623.4L1763.1 624.2L1769.6 623.4L1776.2 628.5L1783.3 631.1L1790.5 632.6L1798.1 631.8L1805.6 634.5L1813.8 632.9L1821.7 636L1829.9 637.1L1838.9 637L1847.6 637.4L1856.4 638.6L1866.2 638.2L1876.1 639.3" marker-start="url(#mblack)" marker-mid="url(#mblack)" marker-end="url(#mblack)"/>
<path d="M1582.7 774.8L1583.3 773.4L1582.9 774.2L1583.1 774.7L1583.2 777.6L1583.4 778.1L1583.7 777L1583.4 773.6L1583.8 771.9L1584.2 776.3L1584 775.7L1584.1 778.1L1584.4 779.9L1584.3 776L1584.4 775.9L1584.8 780.1L1584.3 778.4L1584.8 777.4L1585.8 779.3L1585.6 775.6L1585.9 778.3L1586.3 779L1587.4 778.4L1587.1 784.9L1587.8 791.4L1588.4 778.8L1588.2 778.9L1588.8 785.6L1589.6 783.7L1589.6 787.2L1590.1 781.9L1590.6 781L1591.2 782L1591.3 783.4L1591.5 781.6L1591.8 782.5L1592.4 783.6L1594 782.2L1595.4 784.2L1596.4 782.6L1597.3 784.5L1598.9 784.3L1599.8 786L1601.1 786.4L1602.3 785.8L1604.2 786.1L1605.2 785.3L1606 783.7L1607.9 785.7L1608.8 785.9L1609.8 786.3L1611.5 786L1612.6 787.7L1614 785.6L1614.6 784.8L1618.8 785.3L1623 781.8L1627.9 778.3L1632.2 778.3L1636.5 779L1641.1 777.4L1645.4 776.1L1650.1 774.3L1654.4 772.5L1658.9 769.5L1662.8 769L1667.5 765.9L1672.1 765.9L1676.4 761.8L1680.5 762.3L1685.2 760.2L1689.5 760.9L1692.4 757.5L1697.3 755.7L1701.4 756.1L1706.2 753.6L1711.2 753.4L1716.2 750.6L1722 748.7L1726.9 747L1733 743.3L1738 742.5L1743.8 741.2L1750.2 738.5L1756.6 736.7L1763 733.2L1769.2 734.9L1776.3 732.8L1783.1 729.8L1790.3 729.6L1797.8 725.6L1805.4 725.1L1813.8 725.6L1821.9 725.3L1829.7 724.4L1838.8 722.6L1847.3 721.2L1856.3 720.6L1865.7 721.7L1876 719" marker-start="url(#mblue)" marker-mid="url(#mblue)" marker-end="url(#mblue)"/>
<path d="M1583.2 746.9L1583.2 747.2L1583.4 749.5L1583.3 747.2L1583.1 746.2L1583.5 753.9L1583.7 750.7L1583.4 746.8L1583.7 749.6L1584 750L1584.1 751.8L1583.9 749.3L1584.3 750.6L1584.5 753.3L1584.6 749.6L1584.1 752.8L1584.4 751.1L1584.4 752.4L1585 753.1L1585.2 751L1585.5 754.4L1586.4 753.2L1586.6 754.8L1586.8 750.7L1587.1 756.7L1587.7 755.6L1588.4 755.7L1588.7 757.4L1589.3 757.4L1589.6 759L1590.2 757.5L1589.8 757.2L1590.8 758.9L1590.8 758.9L1591.2 758.2L1591.5 759L1592.4 757.9L1592.2 760.3L1593.9 760.2L1594.8 758.5L1596.6 760.5L1597.5 760.3L1598.5 761.7L1600.4 759.8L1601.1 760.3L1602.5 759.8L1603.6 761.2L1604.9 761.5L1606.3 761.8L1607.2 763.3L1608.5 759.8L1610.2 761.1L1611.2 761.6L1613 763L1614.2 760.4L1614.2 761.9L1619.1 760.7L1623.2 761.1L1627.5 756.7L1632.4 758.5L1636.5 755.8L1640.8 755.1L1645.4 754.6L1649.5 752.2L1654.3 749.6L1658.5 749.2L1663.4 749.4L1667.5 747.1L1672 744.5L1676.6 747.5L1680.3 741.7L1685.2 742.2L1689.3 740.3L1692.6 740.4L1697.2 737.4L1701.8 737.3L1706.8 735.2L1711.2 734.4L1716.6 734.1L1721.9 732.1L1727 729.9L1732.3 727.2L1738.6 726.8L1743.8 725.4L1750.3 721.6L1756.5 723.3L1763 721.8L1769.8 719.4L1776.7 716.8L1783.1 716.1L1790.7 714.2L1798.2 714.1L1805.6 713.7L1813.7 710.5L1821.3 711.2L1830 709.6L1838.6 708.3L1847.7 711.9L1856.5 707.7L1866.4 709.1L1876 707.2" marker-start="url(#mgreen)" marker-mid="url(#mgreen)" marker-end="url(#mgreen)"/>
<path d="M1582.4 671.8l.1-32.6 .1-.5 .1 0 .1 0 .1 0 .1 0 .1 0 .1 0 .1-.1 .1 0 .1 0 .1 0 .1 0 .1 0 .1 0 .1 0 .1-.1 .1 0 .1 0 .1 0 .1 0 .1 0 .1 0 .1 0 .1 0 .1 0 .1 0 .1-.1 .1 0 .1 0 .1 0 .1 0 .1 0 .1 0 .1 0 .1 0 .1 0 .1 0 .1 0 .1 0 .1 0 .1 0 .1-.1 .1 0 .1 0 .1 0 .1 0 .1 0 .1 0 .1 0 .1 0 .1 0 .1 0 .1 0 .1 0 .1 0 .1 0 .1 0 .1 0 .1 0 .1 0 .1 0 .1 0 .1 0 .1 0 .1 0 .1 0 .1 0 .1 0 .1 0 .1 0 .1 0 .1 0 .1 0 .1 0 .1 0 .1 0 .1 0 .1 0 .1 0 1 0 1 0 1-.1 1 0 1 0 1 0 1 0 1 0 1 0 1 0 1 0 1 0 1 0 1 .1 1 0 1 0 1 0 1 .1 1 .1 1 0 1 .1 1 .1 1 .1 1 .2 1 .1 1 .1 1 .2 1 .1 1 .2 1 .1 1 .2 1 .1 1 .2 1 .1 1 .2 1 .1 1 .2 1 .1 1 .1 1 .2 1 .1 1 .1 1 .2 1 .1 1 .1 1 .1 1 .1 1 .2 1 .1 1 .1 1 .1 1 .1 1 .1 1 .2 1 .1 1 .1 1 .1 1 .1 1 .2 1 .1 1 .1 1 .1 1 .2 1 .1 1 .1 1 .1 1 .2 1 .1 1 .1 1 .1 1 .2 1 .1 1 .1 1 .2 1 .1 1 .1 1 .2 1 .1 1 .1 1 .2 1 .1 1 .1 1 .2 1 .1 1 .1 1 .1 1 .2 1 .1 1 .1 1 .1 1 .2 1 .1 1 .1 1 .2 1 .1 1 .1 1 .1 1 .1 1 .2 1 .1 1 .1 1 .1 1 .2 1 .1 1 .1 1 .1 1 .1 1 .2 1 .1 1 .1 1 .1 1 .1 1 .1 1 .1 1 .1 1 .1 1 .2 1 .1 1 .1 1 .1 1 .1 1 .1 1 .1 1 .1 1 .1 1 .1 1 .1 1 .1 1 .1 1 .1 1 .1 1 .1 1 .1 1 0 1 .1 1 .1 1 .1 1 .1 1 .1 1 .1 1 .1 1 .1 1 .1 1 .1 1 .2 1 .1 1 .1 1 .1 1 .1 1 .1 1 .1 1 .1 1 .1 1 .1 1 .1 1 .1 1 .1 1 .1 1 .1 1 .1 1 .1 1 .1 1 .1 1 0 1 .1 1 .1 1 .1 1 .1 1 .1 1 .1 1 .1 1 0 1 .1 1 .1 1 .1 1 .1 1 0 1 .1 1 .1 1 .1 1 0 1 .1 1 .1 1 .1 1 .1 1 0 1 .1 1 .1 1 .1 1 0 1 .1 1 .1 1 .1 1 0 1 .1 1 .1 1 .1 1 0 1 .1 1 .1 1 0 1 .1 1 .1 1 .1 1 0 1 .1 1 .1 1 0 1 .1 1 .1 1 0 1 .1 1 .1 1 0 1 .1 1 0 1 .1 1 0 1 .1 1 .1 1 0 1 .1 1 0 1 .1 1 0 1 .1 1 0 1 .1 1 0 1 .1 1 0 1 .1 1 0 1 0 1 .1 1 0 1 .1 1 0 1 .1 1 0 1 .1 1 0 1 .1 1 0 1 0 1 .1 1 0 1 .1 1 0 1 .1 1 0 1 .1 1 0 1 0 1 .1 1 0 1 .1 1 0 1 0 1 .1 1 0 1 0 1 .1 1 0 1 0 1 0 1 .1 1 0 1 0 1 0 1 0 1 .1 1 0 1 0 1 0 1 .1 1 0 1 0 1 0 1 0 1 0 1 .1 1 0 1 0 1 0 1 0 1 0 1 0 1 .1 1 0 1 0 1 0 1 0 1 0 1 0" stroke="#ff0000" stroke-width="2.05" stroke-linejoin="round"/>
<path d="M1582.4 671.8l.1-61.5 .1-4.3 .1-1.8 .1-1.6 .1-1.5 .1-1.3 .1-1.2 .1-1 .1-1 .1-.8 .1-.8 .1-.6 .1-.6 .1-.5 .1-.4 .1-.4 .1-.3 .1-.3 .1-.3 .1-.2 .1-.2 .1-.3 .1-.2 .1-.2 .1-.2 .1-.3 .1-.3 .1-.2 .1-.3 .1-.2 .1-.3 .1-.2 .1-.2 .1-.3 .1-.2 .1-.2 .1-.2 .1-.1 .1-.2 .1-.2 .1-.2 .1-.1 .1-.2 .1-.1 .1-.2 .1-.1 .1-.2 .1-.1 .1-.2 .1-.1 .1-.1 .1-.1 .1-.2 .1-.1 .1-.1 .1-.1 .1-.2 .1-.1 .1-.1 .1-.1 .1-.1 .1-.2 .1-.1 .1-.1 .1-.1 .1-.2 .1-.1 .1-.1 .1-.1 .1-.1 .1-.2 .1-.1 .1-.1 .1-.1 .1-.1 .1-.1 .1-.1 .1-.2 .1-.1 .1-.1 1-.9 1-.8 1-.7 1-.5 1-.6 1-.4 1-.4 1-.4 1-.3 1-.3 1-.3 1-.3 1-.2 1-.1 1-.1 1 0 1-.1 1 0 1 0 1 0 1 0 1 .1 1 .1 1 .1 1 .2 1 .1 1 .2 1 .2 1 .3 1 .2 1 .3 1 .3 1 .3 1 .3 1 .3 1 .3 1 .3 1 .4 1 .3 1 .4 1 .3 1 .4 1 .4 1 .3 1 .4 1 .4 1 .3 1 .4 1 .4 1 .4 1 .4 1 .4 1 .3 1 .4 1 .4 1 .4 1 .4 1 .4 1 .4 1 .4 1 .4 1 .4 1 .4 1 .4 1 .4 1 .3 1 .4 1 .4 1 .4 1 .4 1 .4 1 .4 1 .4 1 .4 1 .4 1 .4 1 .4 1 .4 1 .4 1 .4 1 .4 1 .4 1 .3 1 .4 1 .4 1 .4 1 .4 1 .3 1 .4 1 .4 1 .4 1 .3 1 .4 1 .4 1 .3 1 .4 1 .3 1 .4 1 .3 1 .4 1 .3 1 .4 1 .3 1 .4 1 .3 1 .4 1 .3 1 .3 1 .4 1 .3 1 .4 1 .3 1 .4 1 .3 1 .3 1 .4 1 .3 1 .4 1 .3 1 .3 1 .4 1 .3 1 .4 1 .3 1 .4 1 .3 1 .3 1 .4 1 .3 1 .3 1 .3 1 .4 1 .3 1 .3 1 .3 1 .3 1 .4 1 .3 1 .3 1 .3 1 .3 1 .3 1 .2 1 .3 1 .3 1 .3 1 .3 1 .3 1 .2 1 .3 1 .3 1 .3 1 .2 1 .3 1 .2 1 .3 1 .3 1 .2 1 .3 1 .2 1 .3 1 .2 1 .3 1 .3 1 .2 1 .3 1 .2 1 .2 1 .3 1 .2 1 .3 1 .2 1 .3 1 .2 1 .2 1 .3 1 .2 1 .2 1 .3 1 .2 1 .2 1 .2 1 .3 1 .2 1 .2 1 .2 1 .2 1 .2 1 .2 1 .2 1 .2 1 .2 1 .2 1 .2 1 .2 1 .2 1 .2 1 .2 1 .2 1 .2 1 .2 1 .2 1 .1 1 .2 1 .2 1 .2 1 .1 1 .2 1 .2 1 .1 1 .2 1 .2 1 .1 1 .2 1 .1 1 .2 1 .1 1 .1 1 .2 1 .1 1 .1 1 .2 1 .1 1 .1 1 .1 1 .2 1 .1 1 .1 1 .1 1 .1 1 .2 1 .1 1 .1 1 .1 1 .1 1 .1 1 .1 1 .1 1 .1 1 .1 1 .1 1 .1 1 .1 1 .1 1 0 1 .1 1 .1 1 .1 1 .1 1 .1 1 .1 1 0 1 .1 1 .1 1 .1 1 0 1 .1 1 .1 1 .1 1 0 1 .1 1 .1 1 0 1 .1 1 .1 1 0 1 .1 1 .1 1 0 1 .1 1 .1 1 0 1 .1 1 0 1 .1 1 .1 1 0 1 .1 1 0 1 .1 1 .1 1 0 1 .1 1 0 1 .1 1 0 1 .1 1 0 1 .1 1 0 1 .1 1 0 1 .1 1 0 1 0" stroke="#000000" stroke-width="2.05" stroke-linejoin="round"/>
<path d="M1582.4 671.8l.1 99.7 .1 1.3 .1 .5 .1 .3 .1 .4 .1 .4 .1 .3 .1 .3 .1 .3 .1 .3 .1 .3 .1 .3 .1 .2 .1 .2 .1 .2 .1 .2 .1 .2 .1 .2 .1 .2 .1 .1 .1 .2 .1 .1 .1 .2 .1 .1 .1 .1 .1 .1 .1 .1 .1 .1 .1 .1 .1 0 .1 .1 .1 .1 .1 0 .1 .1 .1 0 .1 .1 .1 0 .1 .1 .1 0 .1 .1 .1 0 .1 .1 .1 0 .1 .1 .1 0 .1 .1 .1 0 .1 .1 .1 .1 .1 0 .1 .1 .1 .1 .1 0 .1 .1 .1 .1 .1 .1 .1 0 .1 .1 .1 0 .1 .1 .1 .1 .1 0 .1 .1 .1 0 .1 .1 .1 .1 .1 0 .1 .1 .1 0 .1 .1 .1 0 .1 .1 .1 0 .1 .1 .1 0 .1 0 .1 .1 .1 0 .1 .1 .1 0 1 .4 1 .5 1 .4 1 .5 1 .4 1 .4 1 .3 1 .1 1 .2 1 .1 1 .2 1 .1 1 .1 1 .1 1 0 1 .1 1 0 1 0 1-.1 1-.1 1-.1 1-.1 1-.1 1-.2 1-.1 1-.2 1-.2 1-.2 1-.2 1-.2 1-.2 1-.2 1-.3 1-.2 1-.3 1-.2 1-.3 1-.3 1-.3 1-.3 1-.3 1-.3 1-.3 1-.3 1-.3 1-.3 1-.4 1-.3 1-.4 1-.3 1-.4 1-.3 1-.4 1-.3 1-.4 1-.4 1-.3 1-.4 1-.4 1-.4 1-.3 1-.4 1-.4 1-.4 1-.4 1-.3 1-.4 1-.4 1-.4 1-.4 1-.4 1-.4 1-.4 1-.4 1-.4 1-.5 1-.4 1-.4 1-.4 1-.4 1-.4 1-.4 1-.4 1-.4 1-.4 1-.4 1-.4 1-.4 1-.4 1-.3 1-.4 1-.4 1-.4 1-.3 1-.4 1-.3 1-.4 1-.4 1-.3 1-.4 1-.3 1-.3 1-.4 1-.3 1-.4 1-.3 1-.4 1-.3 1-.3 1-.4 1-.3 1-.4 1-.3 1-.3 1-.4 1-.3 1-.4 1-.3 1-.3 1-.4 1-.3 1-.4 1-.3 1-.3 1-.4 1-.3 1-.3 1-.4 1-.3 1-.3 1-.3 1-.4 1-.3 1-.3 1-.3 1-.4 1-.3 1-.3 1-.3 1-.3 1-.3 1-.4 1-.3 1-.3 1-.3 1-.3 1-.3 1-.3 1-.3 1-.3 1-.3 1-.3 1-.3 1-.3 1-.3 1-.3 1-.3 1-.3 1-.3 1-.3 1-.3 1-.3 1-.2 1-.3 1-.3 1-.3 1-.3 1-.3 1-.3 1-.2 1-.3 1-.3 1-.3 1-.3 1-.3 1-.2 1-.3 1-.3 1-.3 1-.2 1-.3 1-.3 1-.2 1-.3 1-.2 1-.3 1-.2 1-.3 1-.2 1-.2 1-.3 1-.2 1-.2 1-.3 1-.2 1-.2 1-.2 1-.2 1-.2 1-.2 1-.3 1-.2 1-.2 1-.2 1-.2 1-.1 1-.2 1-.2 1-.2 1-.2 1-.1 1-.2 1-.2 1-.2 1-.1 1-.2 1-.1 1-.2 1-.1 1-.2 1-.1 1-.2 1-.1 1-.1 1-.2 1-.1 1-.1 1-.1 1-.2 1-.1 1-.1 1-.1 1-.2 1-.1 1-.1 1-.1 1-.1 1-.1 1-.1 1-.2 1-.1 1-.1 1-.1 1-.1 1-.1 1-.2 1-.1 1-.1 1-.1 1-.1 1-.1 1-.1 1-.1 1-.1 1-.1 1-.1 1-.1 1-.1 1 0 1-.1 1 0 1-.1 1 0 1 0 1 0 1-.1 1 0 1 0 1 0 1 0 1 0 1 0 1 0 1 0 1 .1 1 0 1 0 1 0 1 0 1 0 1 0 1 0 1 .1 1 0 1 0 1 0 1 .1 1 0 1 0 1 0 1 .1 1 0 1 0 1 0 1 .1" stroke="#0000ff" stroke-width="2.05" stroke-linejoin="round"/>
<path d="M1582.4 671.8l.1 65.9 .1 3.4 .1 1.3 .1 1.1 .1 1.1 .1 .9 .1 .9 .1 .8 .1 .6 .1 .7 .1 .5 .1 .5 .1 .4 .1 .4 .1 .3 .1 .2 .1 .3 .1 .2 .1 .2 .1 .1 .1 .2 .1 .1 .1 .1 .1 .2 .1 .1 .1 .2 .1 .2 .1 .1 .1 .2 .1 .1 .1 .2 .1 .1 .1 .2 .1 .1 .1 .1 .1 .1 .1 .2 .1 .1 .1 .1 .1 .1 .1 .1 .1 .1 .1 .1 .1 .1 .1 0 .1 .1 .1 .1 .1 .1 .1 .1 .1 0 .1 .1 .1 .1 .1 .1 .1 0 .1 .1 .1 .1 .1 .1 .1 0 .1 .1 .1 .1 .1 .1 .1 0 .1 .1 .1 .1 .1 .1 .1 .1 .1 0 .1 .1 .1 .1 .1 .1 .1 .1 .1 0 .1 .1 .1 .1 .1 .1 .1 0 .1 .1 .1 .1 .1 .1 .1 .1 1 .6 1 .5 1 .3 1 .3 1 .3 1 .3 1 .2 1 .2 1 .1 1 .2 1 .2 1 .1 1 .2 1 .1 1 .1 1 .2 1 .1 1 0 1 .1 1 0 1-.1 1 0 1-.1 1-.1 1-.1 1-.1 1-.2 1-.2 1-.1 1-.2 1-.2 1-.2 1-.2 1-.3 1-.2 1-.2 1-.3 1-.2 1-.3 1-.2 1-.3 1-.3 1-.3 1-.2 1-.3 1-.3 1-.3 1-.3 1-.3 1-.3 1-.3 1-.3 1-.3 1-.3 1-.4 1-.3 1-.3 1-.3 1-.3 1-.3 1-.3 1-.3 1-.4 1-.3 1-.3 1-.3 1-.3 1-.3 1-.3 1-.3 1-.3 1-.3 1-.3 1-.3 1-.3 1-.3 1-.3 1-.3 1-.3 1-.3 1-.3 1-.3 1-.3 1-.3 1-.3 1-.3 1-.3 1-.3 1-.3 1-.3 1-.3 1-.2 1-.3 1-.3 1-.3 1-.3 1-.3 1-.2 1-.3 1-.3 1-.3 1-.3 1-.2 1-.3 1-.3 1-.3 1-.2 1-.3 1-.3 1-.3 1-.2 1-.3 1-.3 1-.3 1-.3 1-.2 1-.3 1-.3 1-.3 1-.3 1-.3 1-.3 1-.2 1-.3 1-.3 1-.3 1-.3 1-.3 1-.3 1-.2 1-.3 1-.3 1-.3 1-.3 1-.2 1-.3 1-.3 1-.2 1-.3 1-.2 1-.3 1-.3 1-.2 1-.3 1-.2 1-.3 1-.2 1-.2 1-.3 1-.2 1-.3 1-.2 1-.2 1-.3 1-.2 1-.2 1-.3 1-.2 1-.2 1-.3 1-.2 1-.2 1-.3 1-.2 1-.3 1-.2 1-.2 1-.3 1-.2 1-.2 1-.3 1-.2 1-.3 1-.2 1-.2 1-.3 1-.2 1-.3 1-.2 1-.2 1-.3 1-.2 1-.2 1-.2 1-.2 1-.3 1-.2 1-.2 1-.2 1-.2 1-.2 1-.2 1-.2 1-.1 1-.2 1-.2 1-.2 1-.2 1-.1 1-.2 1-.2 1-.2 1-.1 1-.2 1-.2 1-.1 1-.2 1-.1 1-.2 1-.2 1-.1 1-.2 1-.1 1-.2 1-.1 1-.2 1-.1 1-.2 1-.1 1-.1 1-.2 1-.1 1-.2 1-.1 1-.1 1-.2 1-.1 1-.1 1-.2 1-.1 1-.1 1-.1 1-.2 1-.1 1-.1 1-.1 1-.1 1-.1 1-.1 1-.1 1-.2 1-.1 1-.1 1-.1 1-.1 1-.1 1-.1 1-.1 1 0 1-.1 1-.1 1-.1 1-.1 1-.1 1-.1 1 0 1-.1 1-.1 1 0 1-.1 1 0 1-.1 1 0 1-.1 1 0 1 0 1-.1 1 0 1 0 1-.1 1 0 1 0 1 0 1 0 1-.1 1 0 1 0 1 0 1 0 1-.1 1 0 1 0 1 0 1 0 1 0 1 0 1 0 1-.1 1 0 1 0 1 0 1 0 1 0 1 0 1 0" stroke="#008000" stroke-width="2.05" stroke-linejoin="round"/>
</g>
<text x="1581.1" y="839.1" font-size="22.5" text-anchor="middle">0</text>
<text x="1634.25" y="839.1" font-size="22.5" text-anchor="middle">500</text>
<text x="1688" y="839.1" font-size="22.5" text-anchor="middle">1000</text>
<text x="1741.25" y="839.1" font-size="22.5" text-anchor="middle">1500</text>
<text x="1800.1" y="839.1" font-size="22.5" text-anchor="middle">2000</text>
<text x="1859.25" y="839.1" font-size="22.5" text-anchor="middle">2500</text>
<text x="1566" y="546.3" font-size="24.9" text-anchor="end">20</text>
<text x="1566" y="612.8" font-size="24.9" text-anchor="end">10</text>
<text x="1566" y="680.05" font-size="24.9" text-anchor="end">0</text>
<text x="1566" y="747.05" font-size="24.9" text-anchor="end">–10</text>
<text x="1566" y="813.8" font-size="24.9" text-anchor="end">–20</text>
<path d="M1581 805.9v6.3M1635.5 805.9v6.3M1690 805.9v6.3M1744.5 805.9v6.3M1798.5 805.9v6.3M1853 805.9v6.3M1581 538h-5.6M1581 604.5h-5.6M1581 671.75h-5.6M1581 738.75h-5.6M1581 805.5h-5.6" stroke="#000" stroke-width="1.6" fill="none"/>
<text x="1743.35" y="874.5" font-size="22.8" text-anchor="middle">Decay times (ps)</text>
<text transform="translate(1502.5 672.75) rotate(-90)" font-size="24.9" text-anchor="middle">ΔABS (mOD)</text>
<g transform="translate(1732 554.2) scale(.85)" fill="none" stroke="#ff5a5a" stroke-width=".8"><path d="M-1.6-1.6h3.2v3.2h-3.2z"/></g>
<text x="1738.8" y="559.2" font-size="16.7">514 nm</text>
<g transform="translate(1815 554.2) scale(.85)" fill="none" stroke="#4a4a4a" stroke-width=".8"><circle r="1.8"/></g>
<text x="1820.8" y="559.2" font-size="16.7">550 nm</text>
<g transform="translate(1732 571.6) scale(.85)" fill="none" stroke="#5a5aff" stroke-width=".8"><path d="M0-2.1L2 1.4H-2z"/></g>
<text x="1738.8" y="576.4" font-size="16.7">593 nm</text>
<g transform="translate(1815 571.6) scale(.85)" fill="none" stroke="#2f9f2f" stroke-width=".8"><path d="M0-2.4L2.4 0 0 2.4-2.4 0z"/></g>
<text x="1820.8" y="576.4" font-size="16.7">650 nm</text>
<g clip-path="url(#csi)" fill="none" stroke-linejoin="round" stroke-width="1.9">
<path d="M114.2 1069.5l.8 2.4 .8 2.2 .9 1.7 .8 1.2 .8 .5 .8 .5 .8 .3 .8 .3 .8 .1 .8 0 .8-.3 .8-.4 .8-.5 .8-.3 .8-.1 .8 .6 .8 1.2 .8 1.3 .8 1.4 .8 1 .8 .4 .8-.2 .8-.4 .8-.7 .8-.6 .8-.7 .8-.5 .8-.3 .8 0 .8 .1 .8 .1 .8 .1 .8 .2 .8 .2 .8 .3 .8 1.5 .8 2.2 .8 2.2 .8 1.4 .8-.5 .8-2.6 .8-3.2 .8-2 .8-.5 .8-.4 .8-.3 .8-.2 .8-.2 .8-.2 .8-.2 .8-.3 .8-.1 .8-.1 .8 0 .8 .4 .8 .7 .8 .8 .8 .8 .8 1.5 .8 1.9 .8 1.8 .8 1.2 .8 0 .8-1.2 .8-1.7 .8-1.9 .8-1.6 .8-1 .8-1 .8-.8 .8-.6 .8-.3 .8-.3 .8-.2 .8-.1 .8-.1 .8 .1 .8 1.5 .8 2.3 .8 2.1 .8 .7 .8-1.2 .8-2.2 .8-2.5 .8-1.6 .8-.8 .8-.6 .8-.3 .8 .2 .8 .7 .8 1 .8 1 .8 1 .8 .6 .8 .7 .8 .6 .8 .5 .8 .3 .8 0 .8-.8 .8-1.5 .8-1.3 .8-.5 .8 .8 .8 1.7 .8 1.7 .8 .8 .8-.1 .8-.4 .8-.6 .8-.6 .8-.6 .8-.5 .8-.5 .8-.5 .8-.5 .8-.2 .8 0 .8 .3 .8 .5 .8 .8 .8 .7 .8 .8 .8 .7 .8 .6 .8 .7 .8 .7 .8 .6 .8 .4 .8 .3 .8-.1 .8-.3 .8-.3 .8-.5 .8-.4 .8-.3 .8-.3 .8-.3 .8-.3 .8-.3 .8-.4 .8-.6 .8-.6 .8-.7 .8-.6 .8-.3 .8-.3 .8-.2 .8-.2 .8-.1 .8-.1 .8 .1 .8 .5 .8 .6 .9 .8 .8 .7 .8 .6 .8 .8 .8 .7 .8 .6 .8 0 .8-1 .8-1.6 .8-1.4 .8-.5 .8 .1 .8 .2 .8 .3 .8 .3 .8 .3 .8 .3 .8 .4 .8 .4 .8 .4 .8 .2 .8-.1 .8-.5 .8-.6 .8-.6 .8-.4 .8 .1 .8 .5 .8 .6 .8 .8 .8 .7 .8 .6 .8 .3 .8 .1 .8 .1 .8 .1 .8 .1 .8 0 .8 0 .8 0 .8-.3 .8-.7 .8-.7 .8-.8 .8-.7 .8-.3 .8 0 .8 .1 .8 .1 .8 .2 .8 .3 .8 .2 .8 .2 .8 .1 .8 .1 .8 0 .8 0 .8-.1 .8-.1 .8 0 .8-.1 .8-.1 .8 0 .8-.1 .8 0 .8 0 .8 0 .8 0 .8 0 .8 0 .8 0 .8 0 .8 0 .8 .1 .8 0 .8 .2 .8 .1 .8 .1 .8 .2 .8 .1 .8 .1 .8 0 .8 0 .8-.1 .8-.1 .8-.2 .8-.3 .8-.2 .8-.3 .8-.3 .8-.2 .8-.4 .8-.4 .8-.5 .8-.5 .8-.6 .8-.5 .8-.4 .8-.2 .8-.1 .8 .2 .8 .5 .8 .7 .8 .8 .8 .7 .8 .7 .8 .5 .8 .5 .8 .4 .8 .5 .8 .4 .8 .4 .8 .3 .8 .4 .8 .2 .8 .2 .8 .1 .8 .1 .8-.2 .8-.3 .8-.4 .8-.6 .8-.6 .8-.6 .8-.5 .8-.5 .8-.3 .8 0 .8 .1 .8 .5 .8 .7 .8 .7 .8 .9 .8 .9 .8 .7 .8 .7 .8 .4 .8 .2 .8-.1 .8 0 .8-.1 .8-.1 .8-.1 .8-.2 .8-.1 .8-.2 .8-.2 .8-.2 .8-.2 .8-.3 .8-.2 .8-.4 .8-.6 .9-.6 .8-.6 .8-.7 .8-.7 .8-.5 .8-.5 .8-.4 .8-.2 .8 0 .8 .2 .8 .3 .8 .4 .8 .5 .8 .6 .8 .6 .8 .8 .8 1.2 .8 1.3 .8 1.4 .8 1.2 .8 1.2 .8 1.3 .8 1.2 .8 1.1 .8 .9 .8 .7 .8 .8 .8 .8 .8 .7 .8 .6 .8 .6 .8 .4 .8 .3 .8 .1 .8-.1 .8-.5 .8-.7 .8-.9 .8-1.1 .8-1.1 .8-1.1 .8-1.1 .8-.9 .8-.8 .8-.9 .8-.8 .8-.9 .8-.8 .8-.8 .8-.8 .8-.7 .8-.7 .8-.6 .8-.6 .8-.6 .8-.6 .8-.5 .8-.4 .8-.4 .8-.4 .8-.4 .8-.3 .8-.4 .8-.3 .8-.3 .8-.3 .8-.3 .8-.2 .8-.2 .8-.2 .8-.2" stroke="#ff66ff"/>
<path d="M113.2 1080.4l.8 1.5 .8 1.2 .8 .6 .8 .1 .8-.3 .8-.3 .8-.6 .8-.5 .8-.6 .8-.6 .8-.6 .8-.5 .8-.6 .8-.6 .8-.7 .8-.8 .8-1.4 .8-1.9 .8-1.9 .8-1.4 .8-.7 .8-.5 .8-.1 .8 2 .8 .4 .8-.1 .8-.1 .8-.1 .8-.2 .8-.4 .8-.6 .8-.8 .8-1.5 .8-1.9 .8-1.5 .8-1.3 .8-1.1 .8-1 .8-.7 .8-.3 .8-.2 .8-.3 .8-.9 .8-2.2 .8-1.8 .8-.2 .8 .4 .8 .3 .8 0 .8-.7 .8-1 .8-.2 .8 .8 .8 1.5 .8 1.5 .8 1.9 .8 2 .8 1 .8-.3 .8-.9 .8-.8 .8-.2 .8-.2 .8-.1 .8 1.1 .8 3.6 .8 1.8 .8 1.1 .8 .7 .8 0 .8-1.3 .8-2 .8-1.8 .8-.6 .8 .1 .8 .2 .8 .1 .8-2.1 .8-4.5 .8-4.3 .8-2.7 .8-2.3 .8-1 .8-.4 .8-.2 .8-.6 .8-1 .8-1.2 .8-1.3 .8-1.1 .8-1.2 .8-1.1 .8-.6 .8 1.4 .8 5.5 .8 4.9 .8 3 .8 2.5 .8 2.4 .7 2.5 .8 2.8 .8 3 .8 3 .8 3.1 .8 3.3 .8 4 .8 3.9 .8 2.5 .8 .3 .8-1.2 .8-1.9 .8-1.8 .8-1.9 .8-2.1 .8-2.1 .8-2 .8-1.9 .8-1.9 .8-1.7 .8-1 .8-.4 .8-.2 .8-.2 .8-.9 .8-1.9 .8-1.9 .8-.8 .8-.4 .8 0 .8 1.2 .8 2 .8 2.4 .8 3.5 .8 4.6 .8 5.3 .8 7.2 .8 9.1 .8 9.7 .8 9.4 .8 7.9 .8 6.7 .8 6.2 .8 5.8 .8 5.7 .8 5.6 .8 5.8 .8 6.2 .8 6.5 .8 6.5 .8 6.3 .8 5.9 .8 5.1 .8 4.4 .8 3.9 .8 3.6 .8 3.2 .8 2.7 .8 2.5 .8 2.4 .8 1.9 .8 .8 .8-.3 .8-1.1 .8-1.7 .8-2 .8-2.4 .8-4.2 .8-5.5 .8-6.2 .8-6.3 .8-5.8 .8-5.1 .8-5.1 .8-5.1 .8-5.1 .8-4.9 .8-4.6 .8-4.4 .8-4 .8-4 .8-4.1 .8-3.9 .8-3.7 .8-3.3 .8-2.5 .8-1.8 .8-.9 .8-.8 .8-.7 .8-.6 .8-.5 .8-.4 .8-.2 .8 0 .8 .5 .8 1 .8 1.2 .8 1.4 .8 1.4 .8 1.2 .8 1.1 .8 1.1 .8 1.2 .8 1.2 .8 1.2 .8 1.2 .8 1.3 .8 1.2 .8 1.3 .7 1.4 .8 1.6 .8 1.7 .8 1.5 .8 1.2 .8 .9 .8 .5 .8 .4 .8 .4 .8 .3 .8 .3 .8 .1 .8 .1 .8-.5 .8-1.5 .8-2.2 .8-2.4 .8-2.2 .8-2.5 .8-2.6 .8-2.5 .8-2.2 .8-1.7 .8-1.6 .8-1.4 .8-1.4 .8-1.2 .8-1 .8-1 .8-.8 .8-.7 .8-.6 .8-.6 .8-.6 .8-.6 .8-.8 .8-.8 .8-1 .8-.9 .8-.8 .8-.5 .8-.4 .8-.3 .8-.3 .8-.2 .8-.2 .8-.2 .8-.2 .8-.1 .8-.1 .8-.1 .8-.1 .8 0 .8-.1 .8 0 .8 0 .8 .3 .8 .7 .8 .9 .8 .9 .8 .9 .8 .7 .8 .4 .8 .1 .8 0 .8-.1 .8-.1 .8-.2 .8-.1 .8-.2 .8-.1 .8-.2 .8-.3 .8-.2 .8-.4 .8-.4 .8-.4 .8-.5 .8-.5 .8-.6 .8-.7 .8-.9 .8-1.2 .8-1.2 .8-1.3 .8-1.1 .8-.9 .8-.7 .8-.7 .8-.6 .8-.6 .8-.5 .8-.5 .8-.5 .8-.4 .8-.5 .8-.4 .8-.3 .8-.4 .8-.3 .8-.2 .8-.3 .8-.3 .8-.3 .8-.3 .8-.3 .8-.3 .8-.3 .8-.3 .8-.4 .8-.3 .7-.4 .8-.3 .8-.4 .8-.3 .8-.4 .8-.3 .8-.3 .8-.3 .8-.4 .8-.5 .8-.5 .8-.6 .8-1.3 .8-1.8 .8-2.2 .8-2.1 .8-1.8 .8-1.2 .8-1.1 .8-1 .8-.9 .8-.6 .8-.3 .8 0 .8 0 .8 0 .8 .3 .8 1.5 .8 2.2 .8 2 .8 1.3 .8 .7 .8 .7 .8 .5 .8 .4 .8 .3 .8 0 .8-.1 .8-.2 .8-.3 .8-.3 .8-.4 .8-.4 .8-.4 .8-.4 .8-.5 .8-.6 .8-.7 .8-.8 .8-.8 .8-.8 .8-.7 .8-.5 .8-.4 .8-.4 .8-.3 .8-.3 .8-.3 .8-.1 .8-.2" stroke="#000000"/>
<path d="M113.2 1080.4l.8-6.4 .8-3.6 .8-.8 .8 4.4 .8 5.5 .8 .9 .8-.3 .8-.4 .8-.6 .8-.7 .8-.7 .8-.9 .8-1.2 .8-1.1 .8-.7 .8 .1 .8 .9 .8 .6 .8-.6 .8-1.4 .8-1.2 .8-.4 .8-.2 .8-.2 .8-.1 .8-.2 .8-.1 .8-.2 .8-.2 .8-.5 .8-2.5 .8-3.4 .8-2.6 .8-2.1 .8-1.5 .8 .2 .8 2.3 .8 2.9 .8 3.1 .8 3.4 .8 2 .8-.8 .8-3.1 .8-3.4 .8-2.2 .8-2 .8-1 .8 1.1 .8 1.8 .8 .2 .8-2.7 .8-1.2 .8 .8 .8 1.4 .8 1.2 .8 1.4 .8 1.3 .8 .6 .8-1.2 .8-2.7 .8-1.9 .8 0 .8 .2 .8 .4 .8 .9 .8 2.5 .8 2.6 .8 1.3 .8 .8 .8 .5 .8-1.3 .8-3.4 .8-2.7 .8 .2 .8 1.4 .8 .7 .8-.1 .8-.2 .8-.5 .8-2.3 .8-4.9 .8-4.1 .8-1.1 .8-.5 .8-.6 .8-1.2 .8-1.6 .8-1.6 .8-1.5 .8-1.2 .8-1.1 .8-1 .8-.8 .8-.4 .8 .7 .8 3.5 .8 3.7 .8 2.8 .8 2.6 .7 2.6 .8 2.4 .8 2.4 .8 2.3 .8 2.2 .8 2.1 .8 1.9 .8 2.2 .8 1.9 .8 1.3 .8 .2 .8-.6 .8-1.1 .8-1.3 .8-1.4 .8-1.8 .8-2.2 .8-2.5 .8-2.5 .8-2.3 .8-2.2 .8-2.3 .8-2.3 .8-2 .8-1.8 .8-1.6 .8-1.5 .8-1.2 .8-.5 .8 .6 .8 1.5 .8 2.1 .8 2.4 .8 3.3 .8 4.5 .8 5.3 .8 5.9 .8 7.7 .8 9.8 .8 10.8 .8 10.7 .8 9.4 .8 7.5 .8 6.7 .8 6.2 .8 5.7 .8 5.6 .8 5.4 .8 5.6 .8 5.6 .8 5.5 .8 5.4 .8 5.2 .8 4.8 .8 4.5 .8 4.3 .8 4.1 .8 3.6 .8 2.7 .8 2.1 .8 1.8 .8 1.5 .8 .8 .8-.1 .8-1.1 .8-1.8 .8-2.2 .8-2.5 .8-2.9 .8-4.1 .8-5 .8-5.4 .8-5.2 .8-4.7 .8-4.5 .8-4.6 .8-4.6 .8-4.4 .8-4.2 .8-3.8 .8-3.5 .8-3 .8-2.7 .8-2.7 .8-2.4 .8-2.3 .8-2.1 .8-1.8 .8-1.6 .8-1.4 .8-1.3 .8-1.2 .8-1 .8-.8 .8-.6 .8-.3 .8-.1 .8 .2 .8 .8 .8 1.2 .8 1.3 .8 1.4 .8 1.3 .8 1.1 .8 1.1 .8 1.2 .8 1.1 .8 1.2 .8 1.1 .8 1.1 .7 1 .8 1 .8 .9 .8 1.1 .8 1.1 .8 1 .8 .8 .8 .7 .8 .5 .8 .1 .8-.1 .8-.2 .8-.4 .8-.4 .8-.5 .8-.6 .8-1.2 .8-1.6 .8-1.8 .8-2 .8-1.9 .8-1.6 .8-1.5 .8-1.4 .8-1.4 .8-1.4 .8-1.3 .8-1.3 .8-1.2 .8-1.2 .8-1.1 .8-1.1 .8-1.1 .8-1.1 .8-1.1 .8-1.1 .8-.9 .8-.8 .8-.5 .8-.4 .8-.2 .8-.1 .8-.2 .8-.1 .8-.1 .8-.1 .8-.1 .8-.2 .8-.1 .8-.2 .8-.2 .8-.2 .8-.2 .8-.2 .8-.3 .8-.3 .8-.6 .8-.9 .8-1 .8-1 .8-.9 .8-.8 .8-.4 .8-.1 .8 .3 .8 .4 .8 .6 .8 .5 .8 .4 .8 .2 .8 .2 .8 .2 .8 .2 .8 .2 .8 .2 .8 .2 .8 .4 .8 .6 .8 .6 .8 .7 .8 .5 .8 .3 .8 0 .8-.2 .8-.5 .8-.5 .8-.7 .8-.7 .8-.8 .8-.7 .8-.9 .8-1.1 .8-1.1 .8-1.3 .8-1.2 .8-1.2 .8-1.2 .8-1.1 .8-1 .8-1.1 .8-1.1 .8-1.1 .8-1.1 .8-.8 .8-.7 .8-.4 .8-.3 .8-.2 .8-.2 .8-.2 .8 0 .7-.1 .8 .2 .8 .2 .8 .3 .8 .3 .8 .4 .8 .3 .8 .3 .8 .3 .8 .3 .8 .3 .8 .2 .8 .3 .8 .2 .8 .2 .8 .2 .8 .2 .8 .2 .8 .1 .8 0 .8-.1 .8-.3 .8-.4 .8-.4 .8-.4 .8-.5 .8-.6 .8-.6 .8-.7 .8-.8 .8-.7 .8-.7 .8-.7 .8-.8 .8-.8 .8-.7 .8-.8 .8-.7 .8-.7 .8-.6 .8-.5 .8-.5 .8-.5 .8-.5 .8-.4 .8-.4 .8-.4 .8-.2 .8-.2 .8 0 .8 .1 .8 .2 .8 .3 .8 .4 .8 .3 .8 .3 .8 .2 .8 .2 .8 .1 .8 .1" stroke="#8000ff"/>
<path d="M113.2 1077.1l.8 .8 .8 .8 .8 .6 .8 .3 .8 0 .8-.1 .8-.1 .8-.1 .8-.2 .8-.2 .8-.2 .8-.2 .8-.3 .8-.3 .8-.3 .8-.3 .8-.2 .8-.2 .8-.2 .8-.2 .8-.2 .8-.2 .8-.2 .8-.2 .8-.3 .8-.2 .8-.3 .8-.2 .8-.1 .8 0 .8 0 .8 0 .8 0 .8 0 .8 0 .8 0 .8-.1 .8-.1 .8-.2 .8-.1 .8-.2 .8-.2 .8 0 .8-.1 .8-.1 .8 0 .8-.1 .8-.1 .8 0 .8-.1 .8-.1 .8 0 .8-.1 .8-.1 .8-.5 .8-.7 .8-.8 .8-.6 .8-.4 .8 .2 .8 .5 .8 .6 .8 .7 .8 .5 .8 .6 .8 .6 .8 .6 .8 .3 .8 .1 .8-.1 .8-.1 .8-.2 .8-.3 .8-.2 .8-.5 .8-.6 .8-.9 .8-1 .8-1 .8-1.4 .8-1.8 .8-2 .8-2.2 .8-2.1 .8-2 .8-2 .8-2.1 .8-2 .8-1.8 .8-1.5 .8-1.6 .8-1.5 .8-1.1 .8-.3 .8 0 .8 0 .8 0 .8 .6 .8 1.6 .7 2.1 .8 2 .8 1.9 .8 2 .8 1.9 .8 1.7 .8 1.1 .8 1.2 .8 1 .8 .8 .8 .5 .8 0 .8-.6 .8-1.3 .8-1.5 .8-1.7 .8-2 .8-2.5 .8-2.9 .8-3.3 .8-3.7 .8-4.7 .8-6.3 .8-6.4 .8-5 .8-3.4 .8-3.1 .8-2.7 .8-1.8 .8-.5 .8 .8 .8 1.9 .8 2.8 .8 3.2 .8 3.5 .8 4.7 .8 6 .8 6.9 .8 7.3 .8 7.4 .8 7.2 .8 7.3 .8 7.7 .8 7.8 .8 7.9 .8 7.7 .8 7.3 .8 6.9 .8 6.9 .8 6.7 .8 6.6 .8 6.4 .8 6.2 .8 5.9 .8 5.5 .8 5.5 .8 5.5 .8 5.3 .8 4.9 .8 4.3 .8 3.6 .8 3.1 .8 3 .8 2.9 .8 2.4 .8 1.9 .8 .9 .8 0 .8-.8 .8-1.3 .8-1.8 .8-1.9 .8-2.5 .8-3.5 .8-4.3 .8-4.6 .8-4.7 .8-4.2 .8-3.6 .8-3.4 .8-3.3 .8-3.2 .8-3.1 .8-3.1 .8-3.1 .8-3 .8-3.3 .8-3.9 .8-3.9 .8-3.3 .8-2.2 .8-.7 .8 .2 .8 .1 .8-.1 .8-.3 .8-.6 .8-.7 .8-1.1 .8-2 .8 .1 .8 1 .8 1.6 .8 1.7 .8 1.5 .8 1.2 .8 1.1 .8 1.1 .8 1 .8 1 .7 1.1 .8 1.1 .8 1.1 .8 1.3 .8 1.3 .8 1.3 .8 1.2 .8 1.1 .8 1 .8 .9 .8 1 .8 1 .8 1 .8 .8 .8 .8 .8 .6 .8 .4 .8 .3 .8-.1 .8-.7 .8-1.1 .8-1.4 .8-1.6 .8-1.6 .8-1.4 .8-1.3 .8-1.3 .8-1.4 .8-1.4 .8-1.7 .8-1.8 .8-2.5 .8-3.1 .8-2.4 .8-1.3 .8-.9 .8-.8 .8-1 .8-1.2 .8-1.4 .8-1.4 .8-1.4 .8-1.4 .8-1.2 .8-1.1 .8-.8 .8-.7 .8-.8 .8-.6 .8-.6 .8-.4 .8-.2 .8 0 .8 0 .8 .1 .8 0 .8 .1 .8 .1 .8 .1 .8 0 .8 .1 .8 .1 .8 .1 .8 .1 .8 .1 .8 .1 .8 .1 .8 .1 .8 .1 .8 .1 .8 .1 .8 .1 .8 .1 .8 .1 .8 .1 .8 .1 .8 .1 .8 .1 .8 0 .8 0 .8 0 .8-.2 .8-.3 .8-.4 .8-.5 .8-.6 .8-.6 .8-.6 .8-.6 .8-.6 .8-.8 .8-.8 .8-.8 .8-.9 .8-.9 .8-.9 .8-.8 .8-.7 .8-.6 .8-.6 .8-.5 .8-.6 .8-.5 .8-.5 .8-.4 .8-.4 .8-.4 .8-.4 .8-.4 .8-.4 .8-.3 .7-.4 .8-.3 .8-.2 .8-.3 .8-.1 .8-.1 .8 0 .8-.1 .8 0 .8 0 .8-.1 .8 0 .8-.1 .8 0 .8-.2 .8-.2 .8-.3 .8-.4 .8-.4 .8-.4 .8-.5 .8-.4 .8-.6 .8-.6 .8-.6 .8-.6 .8-.6 .8-.6 .8-.5 .8-.5 .8-.5 .8-.5 .8-.4 .8-.5 .8-.4 .8-.4 .8-.5 .8-.4 .8-.5 .8-.5 .8-.5 .8-.4 .8-.4 .8-.3 .8-.2 .8-.2 .8-.1 .8-.1 .8 0 .8-.1 .8 0 .8-.1 .8 .1 .8 .1 .8 .1 .8 .2 .8 .3 .8 .3 .8 .4 .8 .3" stroke="#0000ff"/>
<path d="M113.2 1080.4l.8 1.4 .8 1.1 .8 .8 .8 .6 .8 .3 .8 0 .8-.3 .8-.6 .8-.6 .8-.6 .8-.5 .8-.4 .8-.3 .8-.4 .8-.4 .8-.4 .8-.5 .8-.6 .8-.8 .8-.9 .8-.9 .8-.8 .8-.8 .8-.6 .8-.5 .8-.5 .8-.4 .8-.5 .8-.6 .8-.8 .8-1.3 .8-1.7 .8-1.6 .8-1.1 .8-.8 .8-.8 .8-.6 .8-.2 .8 .1 .8 .4 .8 .6 .8 .5 .8 .3 .8 .3 .8 .4 .8 .3 .8 .3 .8 .3 .8 .4 .8 .4 .8 .4 .8 .3 .8 0 .8 0 .8-.1 .8-.1 .8-.1 .8-.1 .8 .1 .8 .1 .8 .3 .8 .3 .8 .4 .8 .4 .8 .6 .8 .8 .8 .8 .8 .6 .8 .3 .8 .3 .8 .2 .8 .1 .8 .1 .8 .1 .8-.3 .8-.5 .8-.8 .8-.9 .8-1.2 .8-1.9 .8-2.3 .8-2.4 .8-2.5 .8-2.9 .8-3.1 .8-3.1 .8-2.8 .8-2.5 .8-2.3 .8-2.2 .8-1.8 .8-1.3 .8-1.1 .8-1.1 .8-.8 .8-.4 .8 0 .8 .8 .8 1.3 .7 1.4 .8 1.6 .8 2.1 .8 2.2 .8 2.1 .8 1.7 .8 1.9 .8 1.6 .8 1.1 .8 .2 .8-.2 .8-.3 .8-.6 .8-2 .8-3.5 .8-3.9 .8-4.8 .8-6.1 .8-6.9 .8-7.3 .8-7.3 .8-6.7 .8-6.8 .8-7.1 .8-6.5 .8-4.7 .8-3 .8-2.6 .8-1.8 .8-.6 .8 1.2 .8 2.7 .8 3.6 .8 3.9 .8 5.4 .8 6.9 .8 7.8 .8 8.2 .8 8.1 .8 7.6 .8 8.1 .8 8.3 .8 8.3 .8 8.1 .8 7.8 .8 7.2 .8 6.8 .8 6.7 .8 6.4 .8 6.3 .8 6.2 .8 6.1 .8 6 .8 6.1 .8 6.1 .8 6 .8 6 .8 5.8 .8 5.7 .8 5.5 .8 5.1 .8 5 .8 5 .8 4.8 .8 4.6 .8 4.1 .8 3.6 .8 3 .8 3.1 .8 2.9 .8 2.7 .8 2.2 .8 1.6 .8 .8 .8-.1 .8-1 .8-1.7 .8-2.2 .8-2.5 .8-2.5 .8-3.1 .8-4.1 .8-4.7 .8-5 .8-4.9 .8-4.7 .8-4.2 .8-4.5 .8-4.5 .8-4.2 .8-3.9 .8-3.3 .8-2.6 .8-2.3 .8-2.2 .8-1.8 .8-1.7 .8-1.3 .8-1.1 .8-1 .8-.8 .8-.2 .8 .6 .8 .8 .8 .9 .8 1 .8 1.1 .8 1.2 .8 1.3 .8 1.3 .7 1.4 .8 1.7 .8 1.8 .8 1.8 .8 2 .8 1.9 .8 2.2 .8 2.3 .8 2.6 .8 2.5 .8 2.5 .8 2.2 .8 1.9 .8 1.5 .8 1.4 .8 1.3 .8 1.3 .8 1.1 .8 1 .8 .6 .8 .4 .8 .1 .8-.5 .8-1 .8-1.2 .8-1.5 .8-1.7 .8-1.7 .8-1.7 .8-1.7 .8-1.9 .8-2 .8-2.3 .8-2.3 .8-2.3 .8-2.3 .8-2.3 .8-2.1 .8-1.9 .8-1.8 .8-1.7 .8-1.7 .8-1.6 .8-1.5 .8-1.4 .8-1.5 .8-1.4 .8-1.4 .8-1.3 .8-1.3 .8-1.1 .8-1 .8-.8 .8-.6 .8-.5 .8-.5 .8-.4 .8-.3 .8-.3 .8-.3 .8-.3 .8-.3 .8-.2 .8-.3 .8-.2 .8-.1 .8 0 .8 .2 .8 .5 .8 .7 .8 .8 .8 .8 .8 .7 .8 .5 .8 .5 .8 .6 .8 .5 .8 .5 .8 .5 .8 .4 .8 .4 .8 .2 .8 .2 .8 0 .8-.1 .8-.4 .8-.5 .8-.6 .8-.7 .8-.7 .8-.7 .8-.6 .8-.7 .8-.7 .8-.7 .8-.8 .8-.8 .8-.9 .8-.8 .8-.9 .8-.9 .8-.8 .8-.9 .8-.9 .8-.9 .8-1 .8-1 .8-1 .8-.9 .8-1 .8-.8 .7-.8 .8-.7 .8-.6 .8-.5 .8-.5 .8-.3 .8-.4 .8-.4 .8-.3 .8-.4 .8-.4 .8-.4 .8-.5 .8-.5 .8-.5 .8-.6 .8-.5 .8-.6 .8-.6 .8-.6 .8-.6 .8-.6 .8-.6 .8-.6 .8-.6 .8-.7 .8-.6 .8-.7 .8-.6 .8-.6 .8-.5 .8-.5 .8-.3 .8-.4 .8-.3 .8-.3 .8-.3 .8-.2 .8-.3 .8-.3 .8-.3 .8-.3 .8-.3 .8-.3 .8-.3 .8-.4 .8-.3 .8-.3 .8-.2 .8-.3 .8-.2 .8-.2 .8-.2 .8-.2 .8-.2 .8-.2 .8-.1 .8-.2 .8-.1 .8-.1" stroke="#008000"/>
<path d="M113.2 1058.6l.8 11.2 .8 7.6 .8 5.4 .8 2.1 .8 1.4 .8 .8 .8 0 .8-.6 .8-.9 .8-1 .8-1.1 .8-1.1 .8-1.3 .8-1.3 .8-1.1 .8-1.2 .8-1.1 .8-.6 .8 .4 .8 1.1 .8 .9 .8 .5 .8 .4 .8 .3 .8 .2 .8 0 .8-.1 .8-.1 .8-.2 .8-.1 .8-.2 .8-.2 .8-.1 .8-.2 .8-.1 .8-.2 .8-.2 .8-.2 .8-.3 .8-.2 .8-.1 .8 .2 .8 .7 .8 1 .8 1.1 .8 .9 .8 .5 .8 .4 .8 .4 .8 .2 .8 0 .8-.4 .8-.7 .8-.6 .8-.4 .8-.1 .8-.1 .8-.1 .8 0 .8-.1 .8 0 .8 .1 .8 .3 .8 .5 .8 .5 .8 .5 .8 .5 .8 .6 .8 .6 .8 .6 .8 .3 .8 .1 .8 0 .8 0 .8 0 .8 0 .8-.3 .8-.9 .8-1.3 .8-1.4 .8-1.7 .8-2.4 .8-2.7 .8-2.6 .8-2.4 .8-2.5 .8-2.4 .8-2.3 .8-2.1 .8-1.6 .8-1.5 .8-1.5 .8-1.2 .8-.8 .8-.3 .8 .1 .8 .3 .8 .4 .8 .9 .7 1.5 .8 2 .8 1.9 .8 1.8 .8 1.9 .8 1.9 .8 1.8 .8 1.4 .8 1.4 .8 1 .8 .1 .8-.9 .8-1.7 .8-1.9 .8-2.8 .8-3.8 .8-4.3 .8-4.7 .8-5.5 .8-6.7 .8-7.2 .8-7.1 .8-6.2 .8-4.9 .8-4.2 .8-3.5 .8-2.4 .8-1.9 .8-1.4 .8-.5 .8 .8 .8 1.8 .8 2.4 .8 2.8 .8 4.3 .8 5.8 .8 6.7 .8 7.1 .8 6.9 .8 6.5 .8 7 .8 7.3 .8 7.2 .8 6.9 .8 6.3 .8 5.6 .8 5.3 .8 4.9 .8 4.7 .8 4.5 .8 4.4 .8 4.2 .8 4.2 .8 4.1 .8 4.1 .8 4.1 .8 4.1 .8 4.1 .8 4 .8 3.9 .8 3.7 .8 3.6 .8 3.3 .8 3 .8 2.8 .8 3 .8 3 .8 2.9 .8 2.8 .8 2.6 .8 2.2 .8 1.7 .8 1.3 .8 .6 .8-.2 .8-1 .8-1.7 .8-2 .8-2.3 .8-2.4 .8-2.8 .8-3.5 .8-3.9 .8-4.1 .8-3.9 .8-3.5 .8-3 .8-3 .8-3 .8-2.8 .8-2.6 .8-2.4 .8-2.1 .8-1.7 .8-1.6 .8-1.6 .8-1.5 .8-1.3 .8-1.2 .8-.9 .8-.6 .8-.2 .8 .1 .8 .2 .8 .5 .8 .6 .8 .8 .8 .9 .8 .8 .8 .8 .7 .8 .8 .8 .8 1 .8 1 .8 1.1 .8 1.4 .8 1.5 .8 1.7 .8 2 .8 2.3 .8 2.5 .8 3.8 .8 1.8 .8 1.5 .8 1.4 .8 1.1 .8 .9 .8 .7 .8 .4 .8 .1 .8-.2 .8-.6 .8-1 .8-1.3 .8-1.4 .8-1.5 .8-1.5 .8-1.4 .8-1.6 .8-1.9 .8-2 .8-2.2 .8-2.1 .8-2.1 .8-2 .8-1.7 .8-1.4 .8-1.1 .8-1 .8-.8 .8-.7 .8-.8 .8-.8 .8-.8 .8-1.1 .8-1.4 .8-1.6 .8-1.7 .8-1.7 .8-1.5 .8-1.3 .8-.8 .8-.4 .8-.3 .8-.3 .8-.2 .8-.2 .8-.2 .8-.2 .8-.1 .8-.3 .8-.2 .8-.3 .8-.2 .8-.2 .8-.2 .8 0 .8 0 .8 .2 .8 .2 .8 .3 .8 .3 .8 .3 .8 .3 .8 .4 .8 .2 .8 .4 .8 .3 .8 .4 .8 .4 .8 .3 .8 .3 .8 .1 .8 0 .8 0 .8 0 .8-.1 .8-.1 .8-.2 .8-.1 .8-.3 .8-.4 .8-.5 .8-.6 .8-.6 .8-.6 .8-.6 .8-.6 .8-.6 .8-.6 .8-.7 .8-.6 .8-.7 .8-.7 .8-.8 .8-.8 .8-.8 .8-.8 .8-1 .8-1 .8-1 .7-1.1 .8-1.1 .8-1.1 .8-1.1 .8-1 .8-1.2 .8-1.2 .8-1.1 .8-1.1 .8-.9 .8-.8 .8-.8 .8-.7 .8-.7 .8-.6 .8-.5 .8-.5 .8-.4 .8-.2 .8-.2 .8-.3 .8-.2 .8-.1 .8-.2 .8-.1 .8-.1 .8-.1 .8 .1 .8 .1 .8 .2 .8 .3 .8 .4 .8 .5 .8 .4 .8 .5 .8 .5 .8 .4 .8 .6 .8 .6 .8 .6 .8 .5 .8 .2 .8-.1 .8-.2 .8-.3 .8-.3 .8-.4 .8-.3 .8-.2 .8 0 .8 0 .8 .1 .8 .1 .8 .1 .8 .2 .8 .2 .8 .3 .8 .6 .8 .9 .8 1" stroke="#ff8000"/>
<path d="M113.2 1073.7l.8 10.9 .8 6.3 .8-.2 .8-2.8 .8-3.1 .8-1.9 .8-1.8 .8-1.7 .8-1.5 .8-1.1 .8-.8 .8-.1 .8 .9 .8 1.5 .8 1.5 .8 .6 .8 0 .8-.2 .8-.3 .8-.3 .8-.3 .8-.3 .8-.3 .8-.2 .8-.1 .8-.1 .8 .1 .8 0 .8 .1 .8 .1 .8 .1 .8 .1 .8 .1 .8 .3 .8 .2 .8 .3 .8 .3 .8 .2 .8 .2 .8 0 .8 0 .8-.3 .8-.3 .8-.5 .8-.4 .8-.3 .8-.2 .8 0 .8 .3 .8 .5 .8 .7 .8 .6 .8 .6 .8 .5 .8 .1 .8 0 .8-.1 .8 0 .8-.1 .8-.1 .8 0 .8-.1 .8 0 .8 0 .8 .2 .8 .3 .8 .3 .8 .4 .8 .4 .8 .3 .8 .1 .8 .1 .8-.2 .8-.3 .8-.5 .8-.6 .8-.7 .8-.7 .8-.7 .8-.8 .8-1.1 .8-1.1 .8-1.3 .8-1.3 .8-1.3 .8-1.1 .8-1 .8-1.1 .8-1.1 .8-1 .8-1.1 .8-.8 .8-.7 .8-.5 .8-.1 .8 .3 .8 .6 .8 .9 .8 1 .7 1.1 .8 1.1 .8 1.1 .8 1.5 .8 1.6 .8 1.7 .8 1.5 .8 1.2 .8 .7 .8 .1 .8-.9 .8-1.6 .8-2.1 .8-2.6 .8-2.7 .8-2.7 .8-2.6 .8-2.7 .8-2.9 .8-3.2 .8-3.2 .8-3 .8-2.7 .8-2.6 .8-2.7 .8-2.7 .8-2.5 .8-1.9 .8-1.1 .8-.1 .8 1 .8 2 .8 2.6 .8 3 .8 3.2 .8 3.2 .8 3.8 .8 4.5 .8 4.9 .8 4.9 .8 4.5 .8 3.9 .8 3.7 .8 3.5 .8 3.4 .8 3.3 .8 3.1 .8 3.1 .8 3 .8 3 .8 2.8 .8 2.7 .8 2.6 .8 2.5 .8 2.4 .8 2.3 .8 2.2 .8 2.1 .8 2.1 .8 2 .8 2.1 .8 2 .8 2.1 .8 2.1 .8 1.9 .8 1.9 .8 1.7 .8 1.6 .8 1.6 .8 1.7 .8 1.4 .8 1 .8 .4 .8-.2 .8-.7 .8-1 .8-1.2 .8-1.4 .8-1.4 .8-2.1 .8-2.6 .8-2.8 .8-2.8 .8-2.5 .8-2.2 .8-1.6 .8-1.4 .8-1.4 .8-1.8 .8-1.9 .8-1.7 .8-1.3 .8-1.1 .8-1 .8-1 .8-.9 .8-.7 .8-.7 .8-.4 .8-.4 .8-.2 .8-.3 .8-.2 .8-.2 .8-.1 .8-.2 .8 0 .8 0 .8 .5 .8 .8 .7 .9 .8 .9 .8 1.1 .8 1.3 .8 1.4 .8 1.5 .8 1.2 .8 1.1 .8 .9 .8 .8 .8 .8 .8 .8 .8 .7 .8 .8 .8 .7 .8 .8 .8 .9 .8 1 .8 .9 .8 .8 .8 .6 .8 .2 .8-.2 .8-.9 .8-1.1 .8-1.2 .8-.9 .8-1 .8-.9 .8-.9 .8-.9 .8-1 .8-.9 .8-1 .8-1.1 .8-1.1 .8-1.1 .8-1.1 .8-1.1 .8-.9 .8-.9 .8-.7 .8-.6 .8-.6 .8-.5 .8-.5 .8-.5 .8-.6 .8-.6 .8-.7 .8-.7 .8-.8 .8-.8 .8-.8 .8-.7 .8-.5 .8-.6 .8-.5 .8-.5 .8-.3 .8-.2 .8 .1 .8 .3 .8 .4 .8 .5 .8 .3 .8 .2 .8-.1 .8 0 .8-.1 .8-.1 .8-.1 .8-.1 .8 0 .8 .3 .8 .4 .8 .6 .8 .5 .8 .5 .8 .3 .8 .2 .8 .1 .8 .2 .8 0 .8 .1 .8-.2 .8-.3 .8-.4 .8-.4 .8-.5 .8-.3 .8-.3 .8-.2 .8-.2 .8-.2 .8-.1 .8-.2 .8-.2 .8-.2 .8-.2 .8-.3 .8-.4 .8-.4 .8-.4 .8-.5 .8-.6 .8-.6 .8-.7 .8-1 .8-1.1 .8-1.1 .7-1 .8-.7 .8-.6 .8-.6 .8-.6 .8-.4 .8-.3 .8-.1 .8-.1 .8-.1 .8 0 .8-.1 .8 0 .8-.1 .8-.1 .8 0 .8-.1 .8 0 .8-.1 .8-.1 .8-.1 .8-.1 .8-.3 .8-.2 .8-.3 .8-.2 .8-.2 .8 0 .8 .1 .8 .2 .8 .2 .8 .3 .8 .2 .8 .3 .8 .3 .8 .3 .8 .3 .8 .4 .8 .3 .8 .2 .8 0 .8 0 .8-.2 .8-.3 .8-.3 .8-.4 .8-.3 .8-.3 .8-.4 .8-.5 .8-.4 .8-.5 .8-.4 .8-.3 .8-.3 .8-.2 .8-.2 .8-.1 .8-.1 .8-.1" stroke="#ff0000"/>
</g>
<rect x="113" y="962.5" width="304" height="271.1" fill="none" stroke="#000" stroke-width="1.85"/>
<text x="177" y="1268.3" font-size="24.9" text-anchor="middle">500</text>
<text x="256.75" y="1268.3" font-size="24.9" text-anchor="middle">600</text>
<text x="337" y="1268.3" font-size="24.9" text-anchor="middle">700</text>
<text x="417" y="1268.3" font-size="24.9" text-anchor="middle">800</text>
<text x="98.2" y="970.7" font-size="24.9" text-anchor="end">12</text>
<text x="98.2" y="1009.45" font-size="24.9" text-anchor="end">8</text>
<text x="98.2" y="1048.2" font-size="24.9" text-anchor="end">4</text>
<text x="98.2" y="1086.7" font-size="24.9" text-anchor="end">0</text>
<text x="98.2" y="1125.7" font-size="24.9" text-anchor="end">–4</text>
<text x="98.2" y="1164.45" font-size="24.9" text-anchor="end">–8</text>
<text x="98.2" y="1203.2" font-size="24.9" text-anchor="end">–12</text>
<text x="98.2" y="1241.7" font-size="24.9" text-anchor="end">–16</text>
<path d="M177 1233.6v5.6M256.75 1233.6v5.6M337 1233.6v5.6M417 1233.6v5.6M113 962.5h-5.6M113 1001.25h-5.6M113 1040h-5.6M113 1078.5h-5.6M113 1117.5h-5.6M113 1156.25h-5.6M113 1195h-5.6M113 1233.5h-5.6" stroke="#000" stroke-width="1.75" fill="none"/>
<text x="264.5" y="1302.7" font-size="25" text-anchor="middle">Wavelength (nm)</text>
<text transform="translate(33.25 1097.55) rotate(-90)" font-size="25" text-anchor="middle">ΔABS (mOD)</text>
<path d="M234.5 977.25H265.75" stroke="#ff66ff" stroke-width="1.9" stroke-linecap="round"/>
<text x="273" y="981.85" font-size="14.45">–1 ps</text>
<path d="M324.5 977.25H356.25" stroke="#000000" stroke-width="1.9" stroke-linecap="round"/>
<text x="360.5" y="981.85" font-size="14.45">0.5 ps</text>
<path d="M234.5 994.25H265.75" stroke="#8000ff" stroke-width="1.9" stroke-linecap="round"/>
<text x="273" y="998.85" font-size="14.45">1 ps</text>
<path d="M324.5 994.25H356.25" stroke="#0000ff" stroke-width="1.9" stroke-linecap="round"/>
<text x="360.5" y="998.85" font-size="14.45">10 ps</text>
<path d="M234.5 1012.25H265.75" stroke="#008000" stroke-width="1.9" stroke-linecap="round"/>
<text x="273" y="1016.85" font-size="14.45">100 ps</text>
<path d="M324.5 1012.25H356.25" stroke="#ff8000" stroke-width="1.9" stroke-linecap="round"/>
<text x="360.5" y="1016.85" font-size="14.45">1000 ps</text>
<path d="M234.5 1029.25H265.75" stroke="#ff0000" stroke-width="1.9" stroke-linecap="round"/>
<text x="273" y="1033.85" font-size="14.45">2000 ps</text>
<g clip-path="url(#csj)" fill="none" stroke-linejoin="round" stroke-width="1.9">
<path d="M602.3 1033.6l.8 19.2 .8 8 .8 3.3 .8 2 .8 1.6 .8 1.1 .8 1 .8 .8 .8 .9 .8 1.2 .8 1.2 .8 1.2 .8 1 .8 .4 .8-.6 .8-1.7 .8-2.2 .8-1.8 .8-.9 .8-.7 .8-.6 .8-.4 .8-.3 .8 0 .8 .3 .8 .6 .8 .8 .8 1 .8 2.6 .8 3.2 .8 1.5 .8-1.1 .8-2.5 .8-2.7 .8-1.9 .8-.7 .8-.5 .8-.4 .8-.2 .8 .8 .8 4 .8 5.2 .8 3.9 .8 .4 .8-2.8 .8-4.3 .8-3.6 .8-1.1 .8 .7 .8 1.3 .8 1.4 .8 2.4 .8 3.2 .8 2.9 .8 1.5 .8-1.2 .8-3.3 .8-3.8 .8-2.4 .8-.2 .8 .2 .8 .2 .8 .3 .8 .5 .8 1.7 .8 2.3 .8 1.9 .8 .4 .8-.5 .8-1 .8-1.3 .8-1.4 .8-2.2 .8-2.9 .8-2.7 .8-1.4 .8 1.8 .8 4.6 .8 3.5 .8-.3 .8-2.1 .8-2.9 .8-2.7 .8-1.9 .8-1.8 .8-1.3 .9-.2 .8 .9 .8 1.3 .8 1.4 .8 1.9 .8 2 .8 .9 .8-.7 .8-1.4 .8-1.4 .8-.7 .8 .1 .8 .6 .8 .8 .8 .7 .8 .7 .8 .9 .8 .8 .8 .9 .8 .7 .8 .4 .8 .1 .8-.4 .8-.7 .8-.8 .8-.9 .8-.6 .8-.6 .8-.5 .8-.4 .8-.5 .8-.4 .8-.5 .8-.5 .8-.6 .8-.4 .8-.4 .8-.2 .8 .3 .8 1.6 .8 2.4 .8 2.3 .8 1.3 .8 1 .8 .8 .8 .6 .8 .2 .8-.9 .8-1.7 .8-1.8 .8-1.1 .8-.3 .8-.2 .8-.2 .8-.1 .8 .3 .8 1 .8 1.4 .8 1.3 .8 .9 .8-.1 .8-1.2 .8-1.8 .8-1.4 .8-.4 .8 .5 .8 .8 .8 1 .8 .7 .8 .3 .8-.3 .8-.9 .8-1.1 .8-1.2 .8-1 .8-.5 .8 0 .8 .1 .8 .1 .8 .2 .8 .2 .8 .2 .8 .2 .8 .2 .8 .1 .8 .2 .8 .2 .8 .1 .8 .2 .8 .1 .8 0 .8-.1 .8-.2 .8-.3 .8-.3 .8-.4 .8-.3 .8-.3 .8-.3 .8-.3 .8-.3 .8-.1 .8 .1 .8 .6 .8 .9 .8 .5 .8 .1 .8 .1 .8 .1 .8 .1 .8 .1 .8 .1 .8 .1 .8 .1 .8 .2 .8 .2 .8 .2 .8 .2 .8 .1 .8 .2 .8 .2 .8 .1 .8 .1 .8 0 .8 0 .8 0 .8 0 .8-.1 .8-.1 .8-.2 .8-.1 .8-.1 .8-.2 .8-.2 .8-.1 .8-.2 .8-.1 .8-.1 .8-.1 .8-.1 .8 0 .8-.1 .8 0 .8-.1 .8 0 .8-.1 .8 0 .8 0 .8-.1 .8 0 .8 0 .8-.1 .8 0 .8 0 .8 0 .8 0 .8 .1 .8 .1 .8 .3 .8 .3 .8 .3 .8 .4 .8 .4 .8 .4 .8 .3 .8 .4 .8 .2 .8 .2 .8 .2 .8 .1 .8 .1 .8 .1 .8 .1 .8 .1 .8 .1 .8 0 .8 0 .8 0 .8 0 .8-.2 .8-.2 .8-.3 .8-.3 .8-.4 .8-.3 .8-.4 .8-.3 .8-.3 .8-.3 .8-.4 .8-.4 .8-.4 .8-.4 .8-.4 .8-.3 .8-.3 .9-.3 .8-.2 .8-.1 .8 0 .8 .1 .8 .2 .8 .2 .8 .3 .8 .4 .8 .3 .8 .4 .8 .4 .8 .3 .8 .3 .8 .2 .8 .1 .8 .1 .8 .1 .8 0 .8 .1 .8 0 .8 .1 .8 0 .8 .1 .8 0 .8 0 .8 0 .8 0 .8 0 .8 0 .8-.1 .8-.1 .8-.1 .8-.1 .8-.2 .8-.1 .8-.2 .8-.1 .8-.1 .8-.1 .8 0 .8 0 .8 .1 .8 .2 .8 .2 .8 .3 .8 .3 .8 .3 .8 .4 .8 .5 .8 .5 .8 1.2 .8 1.5 .8 1.3 .8 .7 .8-.3 .8-1.3 .8-2 .8-2.4 .8-2.6 .8-2.5 .8-2.3 .8-1.6 .8-1.2 .8-1.3 .8-1.2 .8-1.1 .8-.9 .8-.7 .8-.5 .8-.1 .8 .2 .8 .4 .8 .5 .8 .7 .8 .7 .8 .8 .8 .8 .8 .6 .8 .7 .8 .7 .8 .7 .8 .7 .8 .8 .8 .8 .8 .9 .8 1 .8 1 .8 1.1 .8 1.3 .8 1.4 .8 1.5 .8 1.6 .8 1.7 .8 1.8 .8 1.9 .8 1.9 .8 2.1" stroke="#ff66ff"/>
<path d="M601.9 1049.6l.8 6.1 .8 5.2 .8 2.9 .8 .6 .8 .5 .8 .3 .8 .3 .8 .1 .8-.1 .8-.3 .8-.4 .8-.5 .8-.3 .8-.1 .8 .1 .8 .2 .8 .2 .8 .1 .8 .2 .8 0 .8-.3 .8-.8 .8-1.1 .8-1 .8-.8 .8-.8 .8-.8 .8-.8 .8-.8 .8-.8 .8-.8 .8-.9 .8-.7 .8-.7 .8-.8 .8-.8 .8-.5 .8-.2 .8 2.2 .8 3.5 .8 1.9 .8-.5 .8-1.1 .8-1.6 .8-1.6 .8-1.8 .8-2.6 .8-2.2 .8-.8 .8 2.6 .8 4.1 .8 1.9 .8 1.1 .8 .9 .8 .6 .8 .1 .8-.5 .8-.9 .8-1 .8-1 .8-1.1 .8-1.4 .8-1.1 .8-.5 .8 2.4 .8 5.1 .8 2.8 .8 2.4 .8 1.4 .8-.3 .8-2.5 .8-3.6 .7-4 .8-3.4 .8-4.2 .8-3.5 .8-1 .8 .5 .8 .8 .8 .3 .8-2.4 .8-4.8 .8-4.3 .8-3.3 .8-3.2 .8-2.4 .8-.5 .8 1.8 .8 3.5 .8 3.9 .8 3.8 .8 4.3 .8 4.4 .8 4.2 .8 4 .8 3.9 .8 3.9 .8 4.3 .8 4.7 .8 5 .8 4.9 .8 4.7 .8 4.5 .8 4.7 .8 4.1 .8 3 .8 1.9 .8 1.4 .8 1.1 .8 1 .8 1.2 .8 1.4 .8 1.9 .8 2.1 .8 2.1 .8 1.7 .8 1 .8 .3 .8-.6 .8-1.1 .8-1.4 .8-1.4 .8-1.3 .8-1.7 .8-1.7 .8-1.4 .8-.6 .8 .7 .8 2.4 .8 3.5 .8 4 .8 4 .8 4.7 .8 5.7 .8 6.4 .8 6.6 .8 6.7 .8 6.3 .8 6.2 .8 6.4 .8 6.6 .8 6.3 .8 5.8 .8 5.1 .8 4.4 .8 4.4 .8 4.3 .8 4 .8 3.6 .8 3 .8 2.3 .8 1.5 .8 .8 .8 .7 .8 .7 .8 .5 .8 .5 .8 .3 .8 .2 .8 .1 .8-1.5 .8-3.8 .8-5.3 .8-6.2 .8-6.3 .8-5.9 .8-5.4 .8-5.8 .8-6 .8-6.1 .8-6.1 .8-5.9 .8-5.6 .8-5.1 .8-4.9 .8-4.9 .8-4.9 .8-4.6 .8-4.3 .8-3.7 .8-3.2 .8-2.4 .8-2.1 .8-2.1 .8-1.9 .8-1.7 .8-1.3 .8-1.1 .8-.5 .8-.1 .8 .4 .8 1 .8 1.3 .8 1.5 .8 1.8 .8 2 .8 1.9 .8 2 .8 1.8 .8 1.9 .8 2.1 .8 2.3 .8 2.3 .8 2.3 .8 2.1 .8 1.9 .8 1.6 .8 1.5 .8 1.5 .8 1.4 .8 1.2 .8 .8 .8 .3 .8-.1 .8-.6 .8-.8 .8-1.2 .8-1.3 .8-1.4 .8-1.5 .8-1.4 .8-1.7 .8-2 .8-2.2 .8-2.4 .8-2.6 .8-2.6 .8-2.8 .8-2.7 .8-2.7 .8-2.7 .8-3.2 .8-3.4 .8-3.2 .8-2.9 .8-2.1 .8-1.2 .8-1 .8-.9 .8-.9 .8-.8 .8-.8 .8-.6 .8-.6 .8-.5 .8-.4 .8-.3 .8-.1 .8-.1 .8 0 .8 .1 .8 .1 .8 .2 .8 .2 .8 .2 .8 .2 .8 .3 .8 .2 .8 .3 .8 .2 .8 .1 .8 .2 .8 .1 .8 .1 .8 0 .8-.1 .8-.3 .8-.5 .8-.5 .8-.6 .8-.7 .8-.8 .8-.8 .8-.8 .8-.8 .8-.7 .8-.8 .8-.7 .7-.9 .8-1.1 .8-1 .8-1.1 .8-1 .8-.8 .8-.6 .8-.3 .8-.1 .8 .2 .8 .2 .8 .4 .8 .3 .8 .4 .8 .4 .8 .3 .8 .2 .8 .1 .8-.1 .8-.2 .8-.3 .8-.4 .8-.5 .8-.6 .8-.6 .8-.6 .8-.6 .8-.5 .8-.6 .8-.4 .8-.4 .8-.3 .8-.1 .8-.1 .8 0 .8 0 .8 0 .8 0 .8 0 .8 0 .8 0 .8 0 .8 0 .8 0 .8 0 .8 0 .8 0 .8 0 .8 0 .8 0 .8 0 .8 0 .8 0 .8 0 .8 0 .8-.1 .8-.1 .8 0 .8-.2 .8-.1 .8-.1 .8-.1 .8-.2 .8-.2 .8-.1 .8-.3 .8-.5 .8-.7 .8-.7 .8-.9 .8-.8 .8-.9 .8-.8 .8-.7 .8-.6 .8-.4 .8-.2 .8 0 .8 .1 .8 .2 .8 .2 .8 .3 .8 .3 .8 .3 .8 .3 .8 .2 .8 .3 .8 .1 .8 .2 .8 0 .8-.1 .8-.2 .8-.3 .8-.5 .8-.5 .8-.6 .8-.8 .8-.8 .8-.9 .8-.9 .8-1 .8-1.1 .8-1.1" stroke="#000000"/>
<path d="M601.9 1052.1l.8 4.9 .8 4.2 .8 2.5 .8 .9 .8 .7 .8 .6 .8 .3 .8 .2 .8-.1 .8-.6 .8-.9 .8-.9 .8-.7 .8-.1 .8 .2 .8 .5 .8 .4 .8 .4 .8 .1 .8-.2 .8-.7 .8-.9 .8-1 .8-1.2 .8-1.5 .8-2.1 .8-1.5 .8 .7 .8 2.2 .8 0 .8-1.5 .8-1.6 .8-.2 .8 1.4 .8 1.7 .8 .5 .8-.1 .8-.3 .8-.4 .8-2.7 .8-4.6 .8-4.6 .8-2.4 .8 1.3 .8 3.6 .8 4.2 .8 3 .8 1.2 .8 .8 .8 .6 .8 .4 .8-.2 .8-1.9 .8-2.7 .8-2.5 .8-1.2 .8-.7 .8-.5 .8-.4 .8-.3 .8-.1 .8 1.7 .8 3.9 .8 4.5 .8 3.4 .8 1.8 .8 1.6 .8 1.3 .8 .7 .8 0 .8-.5 .8-.9 .7-1.1 .8-1.5 .8-3.5 .8-4.4 .8-4 .8-4 .8-3.9 .8-3.6 .8-2.9 .8-2.3 .8-2 .8-1.4 .8-.9 .8-.7 .8-.1 .8 .6 .8 1.2 .8 1.6 .8 1.9 .8 3.2 .8 3.6 .8 3.5 .8 3.3 .8 3.5 .8 3.7 .8 4.1 .8 4.9 .8 5.5 .8 5.8 .8 6.3 .8 6.7 .8 7 .8 8.8 .8 9.1 .8 4.1 .8 1.3 .8 1 .8 .7 .8 .3 .8 0 .8-.5 .8-.8 .8-.9 .8-.8 .8-.6 .8-.1 .8 .7 .8 1.1 .8 1.1 .8 .8 .8 0 .8-.3 .8-.4 .8-.3 .8-.2 .8 .2 .8 .8 .8 1.2 .8 1.5 .8 1.7 .8 3.1 .8 4.7 .8 5.7 .8 6.3 .8 6.3 .8 5.8 .8 5.6 .8 6 .8 6.1 .8 6 .8 5.5 .8 4.8 .8 4.1 .8 3.9 .8 3.8 .8 3.4 .8 2.9 .8 2.2 .8 1.5 .8 1.4 .8 1.3 .8 1 .8 .8 .8 .5 .8 .1 .8-.8 .8-1.9 .8-2.6 .8-3.2 .8-3.5 .8-3.5 .8-4 .8-5.1 .8-5.9 .8-6.4 .8-6.6 .8-6.4 .8-6.1 .8-5.3 .8-5.2 .8-5.1 .8-5 .8-4.9 .8-4.5 .8-4.1 .8-3.5 .8-2.9 .8-2.6 .8-2.5 .8-2.1 .8-1.9 .8-1.5 .8-1.2 .8-.9 .8-.8 .8-.7 .8-.6 .8-.5 .8-.1 .8 .2 .8 .7 .8 1.3 .8 1.6 .8 1.8 .8 1.9 .8 1.9 .8 1.8 .8 1.8 .8 1.9 .8 2.2 .8 2.1 .8 2.1 .8 2 .8 1.7 .8 1.4 .8 1.4 .8 1.3 .8 1.3 .8 1 .8 .8 .8 .2 .8-.1 .8-.6 .8-1 .8-1.2 .8-1.3 .8-1.6 .8-1.5 .8-1.5 .8-1.8 .8-2 .8-2.3 .8-2.5 .8-2.6 .8-2.7 .8-2.6 .8-2.7 .8-2.5 .8-2.5 .8-2.8 .8-2.8 .8-2.7 .8-2.4 .8-1.8 .8-1.2 .8-.9 .8-.8 .8-.7 .8-.6 .8-.6 .8-.5 .8-.5 .8-.4 .8-.5 .8-.4 .8-.5 .8-.6 .8-.5 .8-.6 .8-.6 .8-.5 .8-.6 .8-.5 .8-.5 .8-.5 .8-.5 .8-.5 .8-.5 .8-.5 .8-.5 .8-.4 .8-.4 .8-.3 .8-.1 .8 0 .8 .2 .8 .3 .8 .4 .8 .4 .8 .5 .8 .5 .8 .6 .8 .5 .8 .5 .8 .5 .8 .4 .7 .4 .8 .2 .8 .2 .8 .2 .8 .1 .8 .2 .8 .1 .8 .1 .8 .1 .8 .1 .8 .1 .8 .1 .8 0 .8 0 .8 0 .8-.2 .8-.5 .8-.7 .8-1 .8-1 .8-1.2 .8-1.2 .8-1.3 .8-1.1 .8-1.1 .8-1 .8-.7 .8-.6 .8-.5 .8-.4 .8-.5 .8-.4 .8-.4 .8-.3 .8-.4 .8-.3 .8-.4 .8-.3 .8-.4 .8-.4 .8-.4 .8-.4 .8-.5 .8-.5 .8-.4 .8-.5 .8-.4 .8-.4 .8-.4 .8-.2 .8-.2 .8-.1 .8 .2 .8 1 .8 1.6 .8 2.1 .8 2.3 .8 2.3 .8 2 .8 1.7 .8 1.1 .8 .2 .8-.4 .8-.7 .8-1.1 .8-1.2 .8-1.4 .8-1.5 .8-1.3 .8-1.3 .8-1 .8-.9 .8-.9 .8-.9 .8-1 .8-.9 .8-.9 .8-.8 .8-.8 .8-.6 .8-.5 .8-.4 .8-.2 .8 0 .8 0 .8 .1 .8 .1 .8 .1 .8 .2 .8 .2 .8 .1 .8 .2 .8 .2 .8 .2 .8 .2 .8 .2 .8 .2 .8 .3 .8 .2 .8 .3 .8 .3 .8 .3 .8 .3" stroke="#8000ff"/>
<path d="M601.9 1053.8l.8 3.3 .8 2.9 .8 2.3 .8 1.4 .8 .7 .8 .6 .8 .4 .8 .2 .8-.1 .8-.5 .8-.7 .8-.8 .8-.7 .8-.8 .8-.7 .8-.6 .8-.2 .8 .6 .8 1.1 .8 1 .8 .7 .8 .2 .8 .2 .8 .1 .8 .2 .8 .1 .8 .1 .8 .2 .8 .1 .8 .1 .8 .2 .8 .1 .8 .1 .8 .2 .8 .2 .8 .1 .8 .2 .8 .1 .8 0 .8 0 .8 0 .8 0 .8 0 .8 0 .8 0 .8 0 .8 .1 .8 .1 .8 .2 .8 .2 .8 .2 .8 .2 .8 .2 .8 .3 .8 .3 .8 .3 .8 .3 .8 .2 .8 .1 .8 .2 .8 .1 .8 .1 .8 .1 .8 .2 .8 .1 .8 .2 .8 .2 .8 .1 .8 .1 .8 .1 .8-.1 .8-.6 .7-1.1 .8-1.4 .8-1.6 .8-2.5 .8-3.2 .8-3.2 .8-2.5 .8-2.3 .8-2.1 .8-1.7 .8-1.2 .8-.7 .8-.5 .8-.4 .8-.1 .8 .5 .8 .8 .8 1.2 .8 2 .8 2.7 .8 2.9 .8 2.9 .8 3.2 .8 3.4 .8 3.6 .8 3.6 .8 3.7 .8 3.8 .8 3.7 .8 3.2 .8 2.9 .8 2.9 .8 2.4 .8 1.7 .8 .9 .8 .8 .8 .7 .8 .4 .8 .3 .8-.1 .8-.6 .8-1 .8-1.3 .8-1.1 .8-1.5 .8-1.7 .8-1.7 .8-1.8 .8-1.5 .8-1.5 .8-1.6 .8-1.4 .8-1.1 .8-.6 .8 .3 .8 .8 .8 1.3 .8 1.6 .8 1.8 .8 2.7 .8 3.4 .8 3.8 .8 4.1 .8 5.3 .8 5.7 .8 5.4 .8 4.9 .8 4.8 .8 4.6 .8 4.5 .8 4.1 .8 3.8 .8 3.4 .8 3.4 .8 3.3 .8 2.9 .8 2.6 .8 2 .8 1.5 .8 1.4 .8 1.2 .8 1 .8 .6 .8 .2 .8-.3 .8-.7 .8-.9 .8-1.2 .8-1.3 .8-1.3 .8-1.9 .8-2.3 .8-2.6 .8-2.8 .8-3 .8-3 .8-2.9 .8-2.7 .8-2.9 .8-3 .8-3.1 .8-3 .8-2.9 .8-2.8 .8-2.6 .8-2.4 .8-2.5 .8-2.4 .8-2.3 .8-2.1 .8-1.9 .8-1.7 .8-1.3 .8-1.2 .8-1.1 .8-1.1 .8-.9 .8-.8 .8-.6 .8-.4 .8-.1 .8 .1 .8 .2 .8 .4 .8 .4 .8 .5 .8 .5 .8 .5 .8 .6 .8 .5 .8 .5 .8 .6 .8 .7 .8 .7 .8 .7 .8 .7 .8 .6 .8 .6 .8 .5 .8 .5 .8 .5 .8 .5 .8 .3 .8 .1 .8 0 .8-.3 .8-.4 .8-.5 .8-.6 .8-.7 .8-.6 .8-.6 .8-.5 .8-.6 .8-.5 .8-.6 .8-.7 .8-.7 .8-.7 .8-.8 .8-1.1 .8-1.3 .8-1.4 .8-1.6 .8-1.4 .8-1.4 .8-1.1 .8-.9 .8-.7 .8-.6 .8-.6 .8-.6 .8-.5 .8-.5 .8-.4 .8-.4 .8-.4 .8-.3 .8-.3 .8-.3 .8-.3 .8-.2 .8-.3 .8-.2 .8-.2 .8-.3 .8-.3 .8-.3 .8-.3 .8-.4 .8-.3 .8-.3 .8-.3 .8-.2 .8-.2 .8 0 .8 .1 .8 .3 .8 .5 .8 .5 .8 .5 .8 .6 .8 .5 .8 .4 .8 .3 .8 .2 .7 .2 .8 .2 .8 .2 .8 .1 .8 .2 .8 .1 .8 .1 .8 0 .8 0 .8 0 .8-.1 .8-.1 .8-.1 .8-.1 .8-.2 .8-.2 .8-.1 .8-.2 .8-.3 .8-.2 .8-.2 .8-.2 .8-.2 .8-.3 .8-.2 .8-.2 .8-.2 .8-.3 .8-.3 .8-.2 .8-.3 .8-.3 .8-.4 .8-.3 .8-.3 .8-.4 .8-.4 .8-.3 .8-.4 .8-.4 .8-.5 .8-.4 .8-.5 .8-.5 .8-.6 .8-.7 .8-.7 .8-.8 .8-.7 .8-.8 .8-.6 .8-.6 .8-.5 .8-.5 .8-.4 .8-.4 .8-.4 .8-.4 .8-.4 .8-.3 .8-.4 .8-.4 .8-.4 .8-.4 .8-.5 .8-.4 .8-.5 .8-.3 .8-.3 .8-.2 .8-.1 .8 .1 .8 .1 .8 .3 .8 .4 .8 .4 .8 .4 .8 .5 .8 .4 .8 .5 .8 .4 .8 .4 .8 .5 .8 .5 .8 .4 .8 .3 .8 .2 .8 .1 .8 .2 .8 .1 .8 .1 .8 .1 .8 .1 .8 .1 .8 .1 .8 .1 .8 0 .8 .1 .8 0 .8 .1 .8 0 .8 0 .8 0" stroke="#0000ff"/>
<path d="M601.9 1058.9l.8-5.2 .8-1.5 .8 11.5 .8 26.5 .8-17.2 .8-1.5 .8 0 .8 0 .8 0 .8-.2 .8-.9 .8-1.4 .8-1.2 .8-.7 .8-.4 .8-.3 .8-.2 .8-.3 .8-.3 .8-.5 .8-.4 .8-.5 .8-.5 .8-.5 .8-.6 .8-.6 .8-.7 .8-.6 .8-.5 .8-.5 .8-.5 .8-.3 .8 0 .8 .8 .8 1.2 .8 1 .8 .3 .8-.2 .8-.4 .8-.5 .8-.6 .8-.6 .8-.8 .8-.7 .8-.4 .8 .2 .8 .6 .8 .8 .8 .7 .8 .5 .8 .5 .8 .4 .8 .3 .8 .3 .8 .2 .8 .2 .8 .1 .8 .3 .8 .5 .8 .7 .8 .7 .8 .6 .8 .5 .8 .5 .8 .4 .8 .3 .8-.1 .8 0 .8-.1 .8-.2 .8-.2 .8-.2 .7-.3 .8-.3 .8-.5 .8-.6 .8-.8 .8-.9 .8-1 .8-1.5 .8-1.7 .8-1.8 .8-1.5 .8-1.2 .8-1.2 .8-1 .8-.8 .8-.4 .8-.5 .8-.3 .8-.2 .8 0 .8 .1 .8 .1 .8 .1 .8 .2 .8 .6 .8 .8 .8 1 .8 1 .8 1.2 .8 1.3 .8 1.1 .8 .5 .8 0 .8 0 .8 0 .8 0 .8-.1 .8-.6 .8-.9 .8-1.1 .8-1.3 .8-1.9 .8-2.3 .8-2.6 .8-2.5 .8-2.7 .8-3 .8-2.9 .8-2.6 .8-2.7 .8-2.7 .8-2.3 .8-1.3 .8-.5 .8-.4 .8 0 .8 .4 .8 1 .8 1.3 .8 1.7 .8 3.2 .8 4.1 .8 4.3 .8 5.2 .8 5.7 .8 5.4 .8 5.4 .8 5.3 .8 5.3 .8 5.5 .8 5.5 .8 5.1 .8 4.5 .8 4.2 .8 3.5 .8 2.8 .8 2.4 .8 2.2 .8 2 .8 1.9 .8 1.8 .8 1.8 .8 1.9 .8 2.1 .8 2.1 .8 2.2 .8 2.1 .8 2.1 .8 1.9 .8 1.6 .8 1.3 .8 1.2 .8 1.1 .8 1.1 .8 .9 .8 .8 .8 .5 .8 .2 .8-.1 .8-.4 .8-.7 .8-.9 .8-1.1 .8-1.2 .8-1.2 .8-1.3 .8-1.7 .8-1.9 .8-2.1 .8-2.2 .8-2.2 .8-2 .8-1.8 .8-1.7 .8-1.7 .8-1.7 .8-1.7 .8-1.5 .8-1.3 .8-1 .8-.7 .8-.6 .8-.5 .8-.5 .8-.4 .8-.3 .8 0 .8 0 .8 .1 .8 .2 .8 .2 .8 .3 .8 .3 .8 .4 .8 .4 .8 .4 .8 .5 .8 .7 .8 1 .8 1.2 .8 1.2 .8 1.3 .8 1.3 .8 1.2 .8 1.1 .8 .8 .8 .8 .8 .9 .8 .8 .8 .8 .8 .7 .8 .6 .8 .5 .8 .4 .8 .1 .8-.1 .8-.1 .8-.3 .8-.4 .8-.4 .8-.5 .8-.5 .8-.9 .8-1.1 .8-1.2 .8-1.4 .8-1.3 .8-1.2 .8-1.1 .8-1 .8-.8 .8-.9 .8-.8 .8-.7 .8-.8 .8-.7 .8-.8 .8-.7 .8-.7 .8-.8 .8-.7 .8-.7 .8-.7 .8-.6 .8-.6 .8-.5 .8-.5 .8-.6 .8-.5 .8-.5 .8-.4 .8-.2 .8 0 .8 0 .8 0 .8 0 .8 .1 .8 0 .8 .1 .8 .1 .8 .1 .8 .1 .8 .1 .8 .1 .8 .1 .8 .1 .7 .1 .8 .2 .8 .1 .8 .3 .8 .4 .8 .4 .8 .5 .8 .5 .8 .5 .8 .5 .8 .4 .8 .4 .8 .3 .8 .2 .8 0 .8 0 .8-.2 .8-.1 .8-.2 .8-.3 .8-.2 .8-.3 .8-.3 .8-.3 .8-.4 .8-.4 .8-.4 .8-.5 .8-.6 .8-.6 .8-.6 .8-.6 .8-.6 .8-.7 .8-.7 .8-.8 .8-.9 .8-.9 .8-.9 .8-.9 .8-.8 .8-.7 .8-.6 .8-.5 .8-.6 .8-.5 .8-.4 .8-.5 .8-.3 .8-.4 .8-.3 .8-.2 .8-.2 .8-.1 .8-.1 .8-.1 .8 0 .8-.1 .8-.1 .8 0 .8-.1 .8-.1 .8-.1 .8-.2 .8-.1 .8-.5 .8-.9 .8-1 .8-1.2 .8-1.1 .8-.9 .8-.5 .8-.2 .8 0 .8 0 .8 0 .8 0 .8 0 .8 0 .8 0 .8 0 .8 0 .8 0 .8 0 .8-.1 .8-.3 .8-.4 .8-.5 .8-.5 .8-.6 .8-.5 .8-.4 .8-.4 .8-.3 .8-.3 .8-.3 .8-.3 .8-.2 .8-.3 .8-.2 .8-.2 .8-.2 .8-.2" stroke="#008000"/>
<path d="M601.9 1092.5l.8-9.9 .8-6.6 .8-2.9 .8-2 .8-1.2 .8-.3 .8-.2 .8-.1 .8-.2 .8-.4 .8-1 .8-1.4 .8-1.3 .8-.9 .8-.2 .8 .7 .8 1.3 .8 1.3 .8 .9 .8 .7 .8 .7 .8 .5 .8 .4 .8 .2 .8-.3 .8-1.2 .8-1.4 .8-1.1 .8-.4 .8-.3 .8-.2 .8-.1 .8 0 .8 .4 .8 .6 .8 .5 .8 .2 .8-.2 .8-.3 .8-.3 .8-.1 .8 .2 .8 .4 .8 .5 .8 .5 .8 .4 .8 .4 .8 .4 .8 .4 .8 .4 .8 .5 .8 .4 .8 .4 .8 .3 .8 .2 .8 .3 .8 .2 .8 0 .8 0 .8 0 .8 0 .8 0 .8 .1 .8 .3 .8 .3 .8 .1 .8 0 .8 0 .8 0 .8 0 .8 0 .8-.3 .7-.5 .8-.5 .8-.5 .8-.6 .8-.6 .8-.6 .8-.6 .8-.7 .8-.6 .8-.6 .8-.5 .8-.5 .8-.4 .8-.3 .8-.4 .8-.5 .8-.6 .8-.6 .8-.5 .8-.4 .8-.1 .8-.2 .8-.1 .8 0 .8-.1 .8 0 .8 .3 .8 .6 .8 .6 .8 .6 .8 .6 .8 .6 .8 .6 .8 .5 .8 .2 .8-.1 .8-.7 .8-.9 .8-1.1 .8-1.2 .8-1.6 .8-1.9 .8-2 .8-2.1 .8-2.3 .8-2.6 .8-2.5 .8-2.3 .8-2.3 .8-2.3 .8-2 .8-1.4 .8-1 .8-.9 .8-.6 .8-.1 .8 .5 .8 .9 .8 1.3 .8 1.6 .8 2.7 .8 3.4 .8 3.7 .8 4.4 .8 4.8 .8 4.7 .8 4.6 .8 4.6 .8 4.3 .8 4.3 .8 4.2 .8 3.6 .8 3.1 .8 2.8 .8 2.5 .8 2.2 .8 1.7 .8 1.5 .8 1.2 .8 1.3 .8 1.5 .8 1.6 .8 1.7 .8 1.7 .8 1.7 .8 1.7 .8 1.5 .8 1.4 .8 1.1 .8 .9 .8 .8 .8 .8 .8 .8 .8 .6 .8 .6 .8 .5 .8 .3 .8 .1 .8 0 .8-.3 .8-.5 .8-.6 .8-.7 .8-.7 .8-.8 .8-.9 .8-1.1 .8-1.2 .8-1.4 .8-1.5 .8-1.4 .8-1.4 .8-1.3 .8-1.2 .8-1.3 .8-1.3 .8-1.3 .8-1.1 .8-1.1 .8-.8 .8-.7 .8-.6 .8-.5 .8-.5 .8-.4 .8-.3 .8 0 .8 0 .8 .1 .8 .2 .8 .3 .8 .3 .8 .3 .8 .4 .8 .3 .8 .4 .8 .4 .8 .4 .8 .6 .8 .5 .8 .7 .8 .6 .8 .6 .8 .7 .8 .6 .8 .6 .8 .5 .8 .5 .8 .6 .8 .5 .8 .5 .8 .6 .8 .5 .8 .5 .8 .4 .8 .3 .8 .2 .8 .1 .8-.1 .8-.3 .8-.4 .8-.7 .8-.7 .8-.8 .8-.7 .8-.7 .8-.7 .8-.8 .8-.9 .8-.8 .8-.9 .8-.9 .8-.9 .8-.9 .8-.7 .8-.7 .8-.6 .8-.5 .8-.5 .8-.4 .8-.4 .8-.4 .8-.3 .8-.4 .8-.4 .8-.3 .8-.4 .8-.5 .8-.6 .8-.5 .8-.4 .8-.2 .8-.1 .8 0 .8 0 .8 0 .8 0 .8 0 .8 0 .8 0 .8 0 .8 0 .8 0 .8 0 .8 0 .8 0 .7 0 .8 0 .8 0 .8 .2 .8 .2 .8 .3 .8 .3 .8 .4 .8 .4 .8 .4 .8 .3 .8 .3 .8 .3 .8 .1 .8 0 .8 0 .8-.3 .8-.3 .8-.4 .8-.5 .8-.5 .8-.6 .8-.6 .8-.6 .8-.6 .8-.6 .8-.5 .8-.5 .8-.6 .8-.5 .8-.6 .8-.5 .8-.6 .8-.6 .8-.5 .8-.5 .8-.5 .8-.4 .8-.4 .8-.3 .8-.3 .8-.3 .8-.3 .8-.2 .8-.3 .8-.2 .8-.2 .8-.2 .8-.2 .8-.1 .8-.1 .8 0 .8 0 .8 .1 .8 .1 .8 .3 .8 .2 .8 .3 .8 .3 .8 .3 .8 .3 .8 .2 .8 .2 .8 .1 .8 0 .8-.1 .8-.3 .8-.5 .8-.5 .8-.7 .8-.8 .8-.8 .8-.8 .8-.8 .8-.7 .8-.7 .8-.6 .8-.5 .8-.5 .8-.5 .8-.6 .8-.5 .8-.5 .8-.5 .8-.4 .8-.4 .8-.3 .8-.3 .8-.1 .8-.1 .8 0 .8 0 .8 0 .8 0 .8 0 .8 0 .8 0 .8 0 .8 0 .8 0 .8 0 .8 0 .8 0" stroke="#ff8000"/>
<path d="M601.9 1058.9l.8 25.1 .8-10.9 .8-4.7 .8 6.9 .8 .3 .8-.1 .8-.3 .8-.2 .8-.4 .8-.5 .8-.7 .8-.7 .8-.8 .8-.6 .8-.7 .8-.7 .8-.6 .8-.7 .8-.5 .8-.6 .8-.5 .8-.5 .8-.4 .8-.4 .8-.5 .8-.4 .8-.4 .8-.3 .8-.2 .8 .1 .8 .6 .8 .9 .8 .9 .8 .7 .8 .1 .8-.4 .8-.7 .8-.8 .8-.6 .8-.5 .8-.5 .8-.5 .8-.1 .8 .1 .8 .3 .8 .5 .8 .6 .8 .6 .8 .8 .8 .9 .8 .8 .8 .7 .8 .7 .8 .7 .8 .5 .8 .4 .8 .3 .8 .2 .8 .2 .8 .1 .8 0 .8 0 .8 0 .8 0 .8 0 .8 0 .8 0 .8 0 .8 .1 .8 .1 .8 .1 .8 .1 .7 0 .8-.1 .8-.1 .8-.1 .8-.2 .8-.3 .8-.5 .8-.6 .8-.5 .8-.5 .8-.5 .8-.5 .8-.4 .8-.4 .8-.3 .8-.2 .8-.2 .8-.2 .8-.2 .8-.1 .8 0 .8 0 .8 .1 .8 .1 .8 .1 .8 .2 .8 .4 .8 .7 .8 .8 .8 .8 .8 .6 .8 .3 .8 .3 .8 .3 .8 .2 .8 .1 .8-.2 .8-.9 .8-1.3 .8-1.5 .8-1.3 .8-1.6 .8-1.8 .8-1.6 .8-1.5 .8-1.3 .8-1.3 .8-1.1 .8-1 .8-1 .8-.9 .8-.8 .8-.6 .8-.3 .8-.4 .8-.1 .8 .2 .8 1 .8 1.5 .8 1.5 .8 2 .8 2.3 .8 2.6 .8 2.8 .8 3 .8 3.1 .8 3.3 .8 3.3 .8 3 .8 3.1 .8 2.8 .8 2.2 .8 1.4 .8 1.1 .8 .9 .8 .7 .8 .6 .8 .4 .8 .4 .8 .3 .8 .4 .8 .4 .8 .4 .8 .5 .8 .5 .8 .5 .8 .5 .8 .6 .8 .6 .8 .8 .8 .9 .8 .9 .8 .9 .8 .6 .8 .5 .8 .4 .8 .4 .8 .3 .8 .1 .8 0 .8-.4 .8-.7 .8-.8 .8-.8 .8-.9 .8-1.1 .8-1.2 .8-1.2 .8-1.2 .8-1 .8-.7 .8-.7 .8-.6 .8-.6 .8-.6 .8-.5 .8-.6 .8-.5 .8-.4 .8-.4 .8-.2 .8-.1 .8-.1 .8-.2 .8-.2 .8-.4 .8-.3 .8-.4 .8-.3 .8-.1 .8 0 .8 .1 .8 .1 .8 .2 .8 .2 .8 .2 .8 .2 .8 .3 .8 .3 .8 .3 .8 .5 .8 .7 .8 .7 .8 .7 .8 .6 .8 .5 .8 .4 .8 .4 .8 .3 .8 .4 .8 .4 .8 .3 .8 .3 .8 .3 .8 .2 .8 .3 .8 .1 .8 .2 .8 0 .8 0 .8 0 .8-.2 .8-.2 .8-.2 .8-.3 .8-.4 .8-.3 .8-.4 .8-.4 .8-.3 .8-.5 .8-.5 .8-.5 .8-.5 .8-.5 .8-.5 .8-.5 .8-.4 .8-.5 .8-.5 .8-.4 .8-.5 .8-.4 .8-.4 .8-.3 .8-.3 .8-.2 .8-.2 .8-.2 .8-.1 .8-.2 .8-.1 .8-.1 .8-.1 .8-.1 .8 0 .8 0 .8 .1 .8 .1 .8 .1 .8 .2 .8 .2 .8 .2 .8 .3 .8 .3 .8 .2 .7 .4 .8 .3 .8 .4 .8 .7 .8 .9 .8 .9 .8 1 .8 .8 .8 .7 .8 .7 .8 .7 .8 .5 .8 .3 .8-.1 .8-.5 .8-.9 .8-.9 .8-1.1 .8-1 .8-.9 .8-1 .8-1.1 .8-1.1 .8-1.1 .8-1 .8-.9 .8-.7 .8-.6 .8-.5 .8-.6 .8-.4 .8-.4 .8-.2 .8 0 .8 .3 .8 .6 .8 .7 .8 .7 .8 .8 .8 .9 .8 1.1 .8 1.2 .8 1.2 .8 1.5 .8 1.6 .8 1.8 .8 1.9 .8 1.8 .8 1.6 .8 1.4 .8 1.1 .8 1 .8 1 .8 .9 .8 .7 .8 .7 .8 .4 .8 .1 .8-.2 .8-.7 .8-.8 .8-.9 .8-.9 .8-.8 .8-.7 .8-.7 .8-.8 .8-1 .8-1.4 .8-1.9 .8-1.9 .8-1.6 .8-.9 .8-.6 .8-.5 .8-.4 .8-.6 .8-.7 .8-1.1 .8-1.3 .8-1.4 .8-1.3 .8-1.3 .8-1 .8-.8 .8-.7 .8-.6 .8-.8 .8-.8 .8-1.1 .8-1.7 .8-2.5 .8-2.8 .8-2.5 .8-1.9 .8-.9 .8 0 .8 0 .8 0 .8 0 .8 0 .8 0 .8 0" stroke="#ff0000"/>
</g>
<rect x="601.75" y="962.5" width="305" height="271" fill="none" stroke="#000" stroke-width="1.85"/>
<text x="666" y="1268.3" font-size="24.9" text-anchor="middle">500</text>
<text x="746" y="1268.3" font-size="24.9" text-anchor="middle">600</text>
<text x="826" y="1268.3" font-size="24.9" text-anchor="middle">700</text>
<text x="906.5" y="1268.3" font-size="24.9" text-anchor="middle">800</text>
<text x="586.95" y="970.7" font-size="24.9" text-anchor="end">8</text>
<text x="586.95" y="1024.95" font-size="24.9" text-anchor="end">4</text>
<text x="586.95" y="1078.95" font-size="24.9" text-anchor="end">0</text>
<text x="586.95" y="1133.2" font-size="24.9" text-anchor="end">–8</text>
<text x="586.95" y="1187.45" font-size="24.9" text-anchor="end">–8</text>
<text x="586.95" y="1241.7" font-size="24.9" text-anchor="end">–12</text>
<path d="M666 1233.5v5.6M746 1233.5v5.6M826 1233.5v5.6M906.5 1233.5v5.6M601.75 962.5h-5.6M601.75 1016.75h-5.6M601.75 1070.75h-5.6M601.75 1125h-5.6M601.75 1179.25h-5.6M601.75 1233.5h-5.6" stroke="#000" stroke-width="1.75" fill="none"/>
<text x="753.75" y="1302.3" font-size="25" text-anchor="middle">Wavelength (nm)</text>
<text transform="translate(528.5 1097.5) rotate(-90)" font-size="25" text-anchor="middle">ΔABS (mOD)</text>
<path d="M714 972.5H746" stroke="#ff66ff" stroke-width="1.9" stroke-linecap="round"/>
<text x="752.25" y="977.1" font-size="14.45">–1 ps</text>
<path d="M812.25 972.5H844" stroke="#000000" stroke-width="1.9" stroke-linecap="round"/>
<text x="850.25" y="977.1" font-size="14.45">0.5 ps</text>
<path d="M714 989.5H746" stroke="#8000ff" stroke-width="1.9" stroke-linecap="round"/>
<text x="752.25" y="994.1" font-size="14.45">1 ps</text>
<path d="M812.25 989.5H844" stroke="#0000ff" stroke-width="1.9" stroke-linecap="round"/>
<text x="850.25" y="994.1" font-size="14.45">10 ps</text>
<path d="M714 1007H746" stroke="#008000" stroke-width="1.9" stroke-linecap="round"/>
<text x="752.25" y="1011.6" font-size="14.45">100 ps</text>
<path d="M812.25 1007H844" stroke="#ff8000" stroke-width="1.9" stroke-linecap="round"/>
<text x="850.25" y="1011.6" font-size="14.45">1000 ps</text>
<path d="M714 1024.5H746" stroke="#ff0000" stroke-width="1.9" stroke-linecap="round"/>
<text x="752.25" y="1029.1" font-size="14.45">2000 ps</text>
<g clip-path="url(#csk)" fill="none" stroke-linejoin="round" stroke-width="1.9">
<path d="M1092.8 1080l.8-5.4 .8-3.3 .8-1.3 .8 2.1 .8 5.4 .8 5.5 .8 2 .8-.3 .8-.6 .8-.8 .8-.6 .8-.3 .8-.3 .8-.3 .8-.2 .8-.2 .8-.1 .8 0 .8 .1 .8 .4 .8 .4 .8 .6 .8 .5 .8 .4 .8 .5 .8 .5 .8 .5 .8 .5 .8 .4 .8 .1 .8-.2 .8-.9 .8-1.4 .8-1.5 .8-1.3 .8-.8 .8 0 .8 .8 .8 1.3 .8 1.4 .8 1.4 .8 1 .8 .2 .8-.3 .8-.7 .8-.9 .8-.9 .8-.6 .8-.3 .8 .2 .8 .4 .8 .6 .8 .6 .8 .4 .8 .3 .8 0 .8-.2 .8-.3 .8-.3 .8-.3 .8-.1 .8 0 .8 0 .8 .2 .8 .1 .8 .2 .8 .2 .8 .2 .8 .2 .8 .1 .8 0 .8-.1 .8-.2 .8-.3 .8-.4 .8-.4 .8-.4 .8-.3 .8-.3 .8-.1 .8 0 .8 .1 .8 .2 .8 .1 .8 .2 .8 .2 .8 .2 .8 .2 .8 0 .8 0 .8 0 .8-.2 .8-.1 .8-.2 .8-.2 .8-.2 .8-.2 .8-.1 .8 0 .8 .1 .8 .1 .8 .2 .8 .3 .8 .4 .8 .4 .8 .4 .8 .4 .8 .4 .8 .3 .8 .3 .8 .2 .8 .2 .8 0 .8 0 .8-.2 .8-.2 .8-.3 .8-.3 .8-.4 .8-.3 .8-.3 .8-.2 .8-.2 .8 0 .8 0 .8 0 .8 0 .8 0 .8 0 .8 0 .8 0 .8 0 .8 0 .8 0 .8 0 .8 0 .8-.1 .8 0 .8-.1 .8-.1 .8-.1 .8-.2 .8-.1 .8-.2 .8-.1 .8-.1 .8-.1 .8-.1 .8 0 .8 0 .8 .1 .8 .1 .9 .1 .8 .1 .8 .2 .8 .1 .8 .2 .8 .1 .8 .1 .8 .1 .8 0 .8 0 .8 0 .8 0 .8-.1 .8-.1 .8-.1 .8-.1 .8 0 .8-.1 .8-.1 .8-.1 .8 0 .8 0 .8 0 .8 .1 .8 .1 .8 .1 .8 .1 .8 .1 .8 .1 .8 .1 .8 .1 .8 .1 .8 .1 .8 0 .8 0 .8 0 .8-.1 .8-.1 .8-.1 .8-.1 .8-.1 .8-.1 .8-.1 .8-.1 .8-.1 .8 0 .8-.1 .8-.1 .8 0 .8 0 .8-.1 .8 0 .8-.1 .8 0 .8-.1 .8 0 .8 0 .8 0 .8-.1 .8 0 .8 0 .8 0 .8 0 .8 0 .8 0 .8 0 .8 0 .8 0 .8 0 .8 0 .8 0 .8 0 .8 0 .8 0 .8 0 .8 0 .8 0 .8 0 .8 0 .8 0 .8 0 .8 .1 .8 0 .8 .1 .8 0 .8 .1 .8 0 .8 0 .8 .1 .8 0 .8 .1 .8 0 .8 0 .8 0 .8 0 .8 0 .8 0 .8 0 .8 0 .8 0 .8 0 .8 0 .8 0 .8 0 .8 0 .8 0 .8 0 .8 0 .8 0 .8 0 .8 0 .8 .1 .8 .1 .8 0 .8 .1 .8 .1 .8 .1 .8 .1 .8 .1 .8 0 .8 0 .8 0 .8-.1 .8-.4 .8-.5 .8-.5 .8-.7 .8-.6 .8-.6 .8-.5 .8-.5 .8-.6 .8-.4 .8-.3 .8 0 .8 .2 .8 .4 .8 .4 .8 .4 .8 .4 .8 .3 .8 .4 .8 .4 .8 .4 .8 .3 .8 .4 .8 .3 .8 .3 .8 .2 .8 .2 .8 .1 .9 .2 .8 .1 .8 .1 .8 .1 .8 0 .8 .1 .8 0 .8 0 .8 0 .8 0 .8-.1 .8-.1 .8-.1 .8-.1 .8-.2 .8-.1 .8-.1 .8-.2 .8-.1 .8-.1 .8 0 .8-.1 .8 0 .8-.1 .8 0 .8 0 .8-.1 .8 0 .8-.1 .8 0 .8 0 .8 0 .8-.1 .8 0 .8 0 .8 0 .8 0 .8 0 .8 0 .8 0 .8 .1 .8 0 .8 0 .8 .1 .8 0 .8 .1 .8 0 .8 0 .8 .1 .8 0 .8 .1 .8 0 .8 0 .8 .1 .8 0 .8 .1 .8 0 .8 .1 .8 0 .8 .1 .8 0 .8 .1 .8 0 .8 0 .8 0 .8 0 .8 0 .8 0 .8-.1 .8 0 .8 0 .8-.1 .8 0 .8-.1 .8-.1 .8 0 .8-.1" stroke="#ff66ff"/>
<path d="M1092.8 1092.5l.8-1.7 .8-1.7 .8-1.5 .8-1.3 .8-1 .8-.9 .8-.7 .8-.7 .8-.6 .8-.6 .8-.4 .8-.3 .8-.2 .8-.2 .8-.2 .8-.1 .8-.2 .8-.3 .8-.3 .8-.3 .8-.4 .8-.4 .8-.5 .8-.5 .8-.5 .8-.5 .8-.6 .8-.6 .8-.7 .8-.7 .8-.7 .8-.8 .8-.8 .8-.9 .8-.8 .8-.8 .8-.7 .8-.7 .8-.7 .8-.5 .8-.2 .8 .2 .8 1 .8 1.1 .8 1 .8 .4 .8-.1 .8-.1 .8-.3 .8-.2 .8-.3 .8-.2 .8-.2 .8-.2 .8-.2 .8-.2 .8-.2 .8-.2 .8-.3 .8-.4 .8-.6 .8-.5 .8-.5 .8-.2 .8-.1 .8 .2 .8 .4 .8 .5 .8 .5 .8 .3 .8 .1 .8-.2 .8-.3 .8-.5 .8-.6 .8-.8 .8-1.2 .8-1.6 .8-1.9 .8-1.9 .8-2.2 .8-2.7 .8-2.5 .8-1.9 .8-1.2 .8-1.1 .8-.6 .8 .1 .8 .9 .8 1.3 .8 1.6 .8 1.9 .8 2.4 .8 2.9 .8 3 .8 3 .8 3.1 .8 3.4 .8 3.5 .8 3.4 .8 3.2 .8 2.7 .8 2.5 .8 2.4 .8 2.3 .8 2.1 .8 1.8 .8 1.3 .8 1 .8 .9 .8 .7 .8 .3 .8-.3 .8-1.1 .8-1.5 .8-1.7 .8-1.8 .8-1.5 .8-1.8 .8-1.9 .8-1.8 .8-1.3 .8-.7 .8-.5 .8-.3 .8 0 .8 .6 .8 1.1 .8 1.3 .8 2.5 .8 3.4 .8 4.1 .8 4.3 .8 4.3 .8 4.7 .8 5.1 .8 5.4 .8 5.6 .8 5.6 .8 5.6 .8 5.9 .8 6.1 .8 6.2 .8 6.2 .8 6 .8 5.7 .8 5.8 .8 5.9 .8 5.7 .8 5.4 .8 4.7 .8 3.8 .9 3.3 .8 3.2 .8 3 .8 2.5 .8 1.8 .8 .8 .8-.1 .8-1 .8-1.8 .8-2.2 .8-2.5 .8-2.8 .8-2.9 .8-3.9 .8-4.9 .8-5.3 .8-5.5 .8-5.3 .8-4.6 .8-4.4 .8-4.4 .8-4.2 .8-4 .8-3.7 .8-3.3 .8-3 .8-2.8 .8-2.7 .8-2.4 .8-2.1 .8-1.7 .8-1.3 .8-1.3 .8-1.1 .8-.9 .8-.6 .8-.2 .8 .3 .8 .8 .8 1 .8 1.4 .8 1.4 .8 1.5 .8 1.4 .8 1.6 .8 1.9 .8 2.1 .8 2.2 .8 2.1 .8 2 .8 1.9 .8 1.6 .8 1.6 .8 1.7 .8 1.7 .8 1.6 .8 1.4 .8 1.3 .8 .9 .8 .6 .8 .2 .8-.2 .8-.8 .8-1.1 .8-1.4 .8-1.4 .8-1.5 .8-1.6 .8-2 .8-2.2 .8-2.4 .8-2.5 .8-2.5 .8-2.4 .8-2.2 .8-2.1 .8-2 .8-2.1 .8-2 .8-2 .8-1.8 .8-1.8 .8-1.7 .8-1.5 .8-1.3 .8-1.3 .8-1.2 .8-1.1 .8-1.1 .8-1 .8-1 .8-.9 .8-.9 .8-.9 .8-1 .8-1.1 .8-1.1 .8-1 .8-1 .8-.8 .8-.7 .8-.4 .8-.2 .8 0 .8 .1 .8 .1 .8 .1 .8 .2 .8 .2 .8 .2 .8 .1 .8 .2 .8 .1 .8 .2 .8 .2 .8 .1 .8 .2 .8 .2 .8 .1 .8 .1 .8 .1 .8 0 .8-.1 .8-.1 .8-.3 .8-.3 .8-.3 .8-.4 .8-.3 .8-.3 .8-.3 .8-.3 .8-.2 .8-.3 .8-.2 .8-.2 .8-.2 .8-.3 .8-.3 .8-.4 .8-.4 .8-.6 .8-.9 .8-.9 .8-.9 .8-.9 .8-.7 .8-.7 .8-.7 .8-.7 .8-.6 .9-.5 .8-.4 .8-.3 .8-.3 .8-.2 .8-.2 .8-.2 .8-.1 .8-.2 .8-.1 .8-.2 .8-.1 .8-.1 .8-.1 .8-.1 .8-.1 .8-.1 .8-.1 .8 0 .8 0 .8 0 .8 .1 .8 .2 .8 .3 .8 .4 .8 .4 .8 .4 .8 .3 .8 .2 .8 .1 .8-.1 .8-.7 .8-.9 .8-1.1 .8-1.1 .8-1.3 .8-1.7 .8-1.6 .8-1.2 .8-.4 .8-.2 .8-.3 .8-.2 .8-.2 .8-.2 .8-.1 .8-.1 .8-.1 .8-.1 .8-.1 .8 0 .8 0 .8 0 .8 0 .8 .1 .8 0 .8 .1 .8 0 .8 .1 .8 .1 .8 0 .8 0 .8 .1 .8 0 .8 0 .8 0 .8-.1 .8-.2 .8-.1 .8-.2 .8-.2 .8-.2 .8-.3 .8-.3 .8-.3 .8-.3 .8-.3" stroke="#000000"/>
<path d="M1092.8 1090l.8 5.4 .8 3 .8 1.4 .8-.1 .8-4.7 .8-6.7 .8-3.4 .8-.8 .8-.6 .8-.4 .8-.4 .8-.4 .8-.4 .8-.4 .8-.4 .8-.4 .8-.4 .8-.4 .8-.5 .8-.5 .8-.5 .8-.5 .8-.6 .8-.6 .8-.5 .8-.6 .8-.5 .8-.5 .8-.5 .8-.5 .8-.4 .8-.5 .8-.5 .8-.5 .8-.6 .8-.7 .8-.9 .8-1.5 .8-1.4 .8-.3 .8 .7 .8 1.1 .8 1.2 .8 .6 .8-1 .8-3.2 .8-.6 .8 .8 .8 1.2 .8 1.3 .8 1.1 .8 .5 .8-.1 .8-.2 .8-.3 .8-.3 .8-.4 .8-.4 .8-.4 .8-.2 .8-.2 .8 0 .8 0 .8 0 .8 0 .8 0 .8 0 .8 0 .8-.1 .8-.1 .8-.2 .8-.2 .8-.3 .8-.3 .8-.6 .8-.9 .8-1.2 .8-1.5 .8-1.5 .8-1.5 .8-1.6 .8-2.1 .8-2.2 .8-2 .8-1.3 .8-.9 .8-.7 .8-.6 .8-.2 .8 .4 .8 1 .8 1.3 .8 1.5 .8 2 .8 2.7 .8 3 .8 3.1 .8 3.1 .8 3.4 .8 3.8 .8 3.7 .8 3.6 .8 3.1 .8 2.6 .8 2.3 .8 2.2 .8 2 .8 1.6 .8 1.1 .8 .9 .8 .8 .8 .3 .8-.3 .8-1 .8-1.4 .8-1.7 .8-1.6 .8-1.4 .8-1.4 .8-1.5 .8-1.5 .8-1.1 .8-.8 .8-.8 .8-.4 .8 0 .8 .4 .8 .8 .8 1 .8 1.3 .8 2.3 .8 3.1 .8 3.8 .8 4.1 .8 4 .8 4.5 .8 4.9 .8 5.3 .8 5.5 .8 5.7 .8 5.5 .8 5.5 .8 5.7 .8 5.9 .8 5.8 .8 5.6 .8 5.3 .8 5 .8 5 .8 4.8 .8 4.7 .8 4.2 .9 3.7 .8 3.1 .8 3.1 .8 2.9 .8 2.6 .8 1.9 .8 .9 .8-.2 .8-1 .8-1.6 .8-2 .8-2.3 .8-2.5 .8-2.8 .8-3.9 .8-4.7 .8-5 .8-5 .8-4.7 .8-4.2 .8-4.2 .8-4.2 .8-4.1 .8-3.9 .8-3.7 .8-3.2 .8-2.9 .8-2.7 .8-2.6 .8-2.4 .8-2.1 .8-1.7 .8-1.3 .8-1.2 .8-1 .8-.8 .8-.5 .8 0 .8 .5 .8 .9 .8 1.4 .8 1.5 .8 1.7 .8 1.7 .8 1.7 .8 1.6 .8 1.9 .8 2.1 .8 2.1 .8 2.2 .8 2 .8 1.9 .8 1.5 .8 1.3 .8 1.4 .8 1.2 .8 1.2 .8 1.1 .8 .8 .8 .5 .8 .2 .8-.3 .8-.7 .8-1 .8-1.2 .8-1.4 .8-1.4 .8-1.5 .8-1.8 .8-2.1 .8-2.3 .8-2.3 .8-2.3 .8-2.2 .8-2 .8-1.8 .8-1.8 .8-1.7 .8-1.7 .8-1.6 .8-1.6 .8-1.5 .8-1.5 .8-1.3 .8-1.3 .8-1.2 .8-1.2 .8-1.2 .8-1.1 .8-1 .8-1 .8-1 .8-.9 .8-.8 .8-.8 .8-.8 .8-.8 .8-.7 .8-.7 .8-.6 .8-.6 .8-.5 .8-.5 .8-.4 .8-.4 .8-.3 .8-.3 .8-.3 .8-.3 .8-.3 .8-.3 .8-.3 .8-.5 .8-.4 .8-.4 .8-.4 .8-.2 .8-.2 .8 0 .8 0 .8 .2 .8 .3 .8 .2 .8 .3 .8 .2 .8 .2 .8 .3 .8 .3 .8 .2 .8 .2 .8 0 .8 0 .8-.3 .8-.4 .8-.5 .8-.7 .8-.6 .8-.8 .8-.7 .8-.6 .8-.6 .8-.6 .8-.7 .8-.6 .8-.7 .8-.5 .8-.5 .8-.4 .8-.4 .8-.3 .8-.3 .9-.4 .8-.2 .8-.3 .8-.3 .8-.3 .8-.2 .8-.2 .8-.3 .8-.2 .8-.2 .8-.2 .8-.2 .8-.2 .8-.2 .8-.2 .8-.2 .8-.3 .8-.2 .8-.3 .8-.3 .8-.2 .8-.3 .8-.2 .8-.1 .8-.2 .8-.1 .8 0 .8 0 .8 0 .8 .1 .8 0 .8 .1 .8 0 .8 .1 .8 .1 .8 0 .8 0 .8 .1 .8 0 .8 0 .8-.1 .8-.1 .8-.2 .8-.3 .8-.2 .8-.3 .8-.3 .8-.4 .8-.3 .8-.3 .8-.3 .8-.2 .8-.2 .8-.2 .8-.3 .8-.2 .8-.2 .8-.2 .8-.2 .8-.2 .8-.2 .8-.2 .8-.2 .8-.1 .8-.2 .8-.1 .8-.1 .8-.1 .8-.2 .8-.1 .8-.1 .8-.1 .8-.1 .8-.1 .8 0 .8-.1 .8-.1" stroke="#8000ff"/>
<path d="M1092.8 1085l.8-.2 .8-.2 .8-.2 .8-.2 .8-.3 .8-.2 .8-.2 .8-.2 .8-.2 .8-.2 .8-.3 .8-.2 .8-.2 .8-.3 .8-.2 .8-.3 .8-.2 .8-.2 .8-.3 .8-.2 .8-.3 .8-.2 .8-.3 .8-.2 .8-.3 .8-.2 .8-.2 .8-.2 .8-.3 .8-.2 .8-.2 .8-.3 .8-.2 .8-.2 .8-.3 .8-.2 .8-.2 .8-.2 .8-.2 .8-.2 .8-.1 .8-.2 .8-.1 .8-.2 .8-.1 .8-.1 .8-.1 .8 0 .8-.1 .8-.1 .8-.1 .8-.1 .8 0 .8-.1 .8-.1 .8-.1 .8-.1 .8-.1 .8-.1 .8-.1 .8-.1 .8-.1 .8-.1 .8-.2 .8-.1 .8-.2 .8-.1 .8-.2 .8-.2 .8-.2 .8-.2 .8-.3 .8-.3 .8-.3 .8-.6 .8-.8 .8-1 .8-1.2 .8-1.3 .8-1.4 .8-1.4 .8-1.4 .8-1.5 .8-1.7 .8-1.8 .8-1.8 .8-1.6 .8-1.2 .8-1.1 .8-1.1 .8-.9 .8-.6 .8-.1 .8 .2 .8 .5 .8 .7 .8 .7 .8 .9 .8 1.2 .8 1.5 .8 1.6 .8 1.6 .8 1.5 .8 1.2 .8 1.2 .8 1.2 .8 1.1 .8 1.1 .8 .9 .8 .7 .8 .4 .8-.1 .8-.5 .8-.9 .8-1.2 .8-1.5 .8-1.6 .8-1.7 .8-2.8 .8-3.6 .8-3.8 .8-3.3 .8-2.5 .8-2.5 .8-2.3 .8-1.7 .8-.7 .8 .4 .8 1.5 .8 2.2 .8 2.6 .8 2.6 .8 3.5 .8 4.3 .8 4.9 .8 5.4 .8 5.7 .8 5.5 .8 5.9 .8 6.5 .8 6.8 .8 6.8 .8 6.6 .8 6.1 .8 5.4 .8 5.2 .8 5 .8 4.8 .8 4.6 .8 4.3 .8 4.2 .8 4.2 .9 4.2 .8 4 .8 3.5 .8 2.9 .8 2.1 .8 1.8 .8 1.7 .8 1.6 .8 1.3 .8 1 .8 .6 .8 .2 .8-.2 .8-.7 .8-1 .8-1.2 .8-1.4 .8-1.5 .8-1.6 .8-2.2 .8-2.6 .8-2.9 .8-2.9 .8-2.8 .8-2.6 .8-2.4 .8-2.6 .8-2.5 .8-2.5 .8-2.3 .8-2.2 .8-1.8 .8-1.5 .8-1.4 .8-1.3 .8-1.3 .8-1.1 .8-1 .8-.7 .8-.4 .8-.1 .8 .2 .8 .3 .8 .5 .8 .5 .8 .6 .8 .7 .8 .7 .8 .6 .8 .8 .8 .9 .8 1 .8 1.1 .8 1.1 .8 1 .8 1 .8 .9 .8 .7 .8 .7 .8 .8 .8 .7 .8 .7 .8 .6 .8 .5 .8 .5 .8 .3 .8 .1 .8 0 .8-.2 .8-.2 .8-.3 .8-.4 .8-.4 .8-.5 .8-.5 .8-.7 .8-1.1 .8-1.2 .8-1.4 .8-1.5 .8-1.3 .8-1.2 .8-1.3 .8-1.2 .8-1.2 .8-1.2 .8-1.2 .8-1 .8-1.1 .8-1 .8-1 .8-1 .8-.9 .8-.9 .8-.9 .8-.8 .8-.8 .8-.7 .8-.8 .8-.8 .8-.8 .8-.8 .8-.8 .8-.7 .8-.6 .8-.5 .8-.4 .8-.3 .8-.1 .8-.1 .8 0 .8 0 .8 0 .8 0 .8 0 .8 0 .8 0 .8 0 .8 0 .8 0 .8 0 .8 .1 .8 0 .8 .2 .8 .2 .8 .3 .8 .3 .8 .4 .8 .3 .8 .4 .8 .3 .8 .3 .8 .4 .8 .3 .8 .4 .8 .2 .8 .2 .8 0 .8-.3 .8-.5 .8-.6 .8-.6 .8-.6 .8-.6 .8-.5 .8-.5 .8-.5 .8-.6 .8-.5 .8-.5 .8-.6 .9-.5 .8-.6 .8-.5 .8-.5 .8-.6 .8-.5 .8-.5 .8-.6 .8-.5 .8-.5 .8-.6 .8-.5 .8-.7 .8-.6 .8-.8 .8-.6 .8-.7 .8-.5 .8-.5 .8-.2 .8-.1 .8 0 .8 .1 .8 .1 .8 .1 .8 .2 .8 .1 .8 .2 .8 .1 .8 .1 .8 .1 .8 .1 .8 0 .8 0 .8-.3 .8-.5 .8-.5 .8-.7 .8-.6 .8-.6 .8-.5 .8-.3 .8-.4 .8-.3 .8-.3 .8-.3 .8-.3 .8-.3 .8-.3 .8-.4 .8-.3 .8-.3 .8-.4 .8-.3 .8-.4 .8-.3 .8-.3 .8-.4 .8-.3 .8-.3 .8-.3 .8-.3 .8-.3 .8-.3 .8-.2 .8-.3 .8-.2 .8-.2 .8-.2 .8-.2 .8-.3 .8-.1 .8-.2 .8-.2 .8-.2 .8-.1 .8-.2" stroke="#0000ff"/>
<path d="M1092.8 1088.8l.8-.7 .8-.6 .8-.6 .8-.6 .8-.6 .8-.5 .8-.6 .8-.5 .8-.5 .8-.4 .8-.5 .8-.4 .8-.4 .8-.4 .8-.3 .8-.4 .8-.4 .8-.3 .8-.4 .8-.3 .8-.3 .8-.3 .8-.3 .8-.2 .8-.3 .8-.2 .8-.3 .8-.2 .8-.2 .8-.2 .8-.2 .8-.2 .8-.1 .8-.2 .8-.2 .8-.1 .8-.2 .8-.1 .8-.2 .8-.1 .8-.1 .8-.1 .8-.1 .8-.1 .8-.1 .8-.1 .8-.1 .8-.1 .8-.1 .8-.1 .8-.1 .8 0 .8-.1 .8-.1 .8 0 .8-.1 .8 0 .8-.1 .8 0 .8 0 .8 0 .8 0 .8 0 .8 0 .8 0 .8 0 .8 0 .8 0 .8 0 .8 0 .8 0 .8 0 .8 0 .8 0 .8-.2 .8-.4 .8-.7 .8-.9 .8-1 .8-1 .8-1.2 .8-1.1 .8-1.5 .8-1.9 .8-2.1 .8-2.3 .8-2.2 .8-2.1 .8-1.8 .8-1.4 .8-1.4 .8-1.4 .8-1.3 .8-1.1 .8-.8 .8-.4 .8-.1 .8 .2 .8 .4 .8 .4 .8 .5 .8 .5 .8 .4 .8 .6 .8 .7 .8 .6 .8 .4 .8 .3 .8-.1 .8-.7 .8-1.1 .8-1.4 .8-1.7 .8-1.9 .8-2 .8-2.7 .8-3.4 .8-3.9 .8-4.1 .8-4.2 .8-3.9 .8-4.4 .8-4.7 .8-4.4 .8-3.5 .8-2 .8-1.6 .8-1.1 .8-.1 .8 1 .8 1.8 .8 2.4 .8 3 .8 5.1 .8 6.6 .8 7.6 .8 7.7 .8 7.1 .8 6.8 .8 7.1 .8 7.2 .8 7 .8 6.9 .8 6.5 .8 6.2 .8 6 .8 5.9 .8 5.6 .8 5.3 .8 4.9 .8 4.3 .8 4.1 .9 3.8 .8 3.7 .8 3.4 .8 3.3 .8 3.1 .8 3.1 .8 3 .8 3 .8 3 .8 2.8 .8 2.7 .8 2.4 .8 2.1 .8 1.7 .8 1.5 .8 1.4 .8 1.3 .8 1 .8 .8 .8 .4 .8 0 .8-.4 .8-.7 .8-.9 .8-1 .8-1.2 .8-1.3 .8-2 .8-2.6 .8-2.9 .8-3.1 .8-2.9 .8-2.6 .8-2.5 .8-2.5 .8-2.5 .8-2.3 .8-1.9 .8-1.5 .8-1.2 .8-1.1 .8-1.1 .8-.8 .8-.6 .8-.3 .8 0 .8 .2 .8 .4 .8 .4 .8 .6 .8 .6 .8 .7 .8 .7 .8 .8 .8 .9 .8 1.1 .8 1.3 .8 1.3 .8 1.4 .8 1.3 .8 1.4 .8 1.2 .8 1.2 .8 1.3 .8 1.2 .8 1.3 .8 1.2 .8 1.1 .8 1 .8 .9 .8 .7 .8 .6 .8 .7 .8 .5 .8 .4 .8 .3 .8 0 .8-.2 .8-.4 .8-.5 .8-.6 .8-.7 .8-.7 .8-1 .8-1.2 .8-1.5 .8-1.6 .8-1.7 .8-1.6 .8-1.6 .8-1.5 .8-1.5 .8-1.5 .8-1.6 .8-1.5 .8-1.4 .8-1.4 .8-1.3 .8-1.2 .8-1.1 .8-1 .8-1 .8-1 .8-.9 .8-.9 .8-.7 .8-.8 .8-.8 .8-.8 .8-.7 .8-.8 .8-.6 .8-.6 .8-.3 .8-.3 .8 0 .8 0 .8 0 .8 .1 .8 0 .8 .1 .8 0 .8 .1 .8 .1 .8 .1 .8 .3 .8 .5 .8 .7 .8 .7 .8 .8 .8 .6 .8 .7 .8 .7 .8 .6 .8 .5 .8 .1 .8 0 .8-.2 .8-.2 .8-.2 .8-.3 .8-.3 .8-.3 .8-.3 .8-.3 .8-.2 .8-.3 .8-.4 .8-.3 .8-.4 .8-.5 .9-.6 .8-.6 .8-.7 .8-.8 .8-.7 .8-.8 .8-.7 .8-.7 .8-.6 .8-.6 .8-.6 .8-.5 .8-.6 .8-.6 .8-.7 .8-.8 .8-.8 .8-1 .8-.9 .8-.8 .8-.8 .8-.7 .8-.6 .8-.3 .8-.3 .8-.2 .8-.2 .8-.1 .8-.2 .8 0 .8 0 .8 .1 .8 .1 .8 .1 .8 .1 .8 .1 .8 0 .8-.3 .8-.4 .8-.6 .8-.6 .8-.7 .8-.7 .8-.7 .8-.6 .8-.5 .8-.4 .8-.5 .8-.4 .8-.4 .8-.3 .8-.4 .8-.3 .8-.3 .8-.3 .8-.3 .8-.3 .8-.3 .8-.2 .8-.3 .8-.3 .8-.3 .8-.3 .8-.4 .8-.3 .8-.4 .8-.5 .8-.4 .8-.5 .8-.4 .8-.5 .8-.6 .8-.5 .8-.6 .8-.5 .8-.6 .8-.6" stroke="#008000"/>
<path d="M1092.8 1095l.8-1.1 .8-1 .8-1 .8-.9 .8-.8 .8-.7 .8-.7 .8-.6 .8-.6 .8-.6 .8-.5 .8-.4 .8-.5 .8-.4 .8-.3 .8-.4 .8-.3 .8-.4 .8-.3 .8-.3 .8-.3 .8-.3 .8-.3 .8-.2 .8-.3 .8-.3 .8-.2 .8-.3 .8-.2 .8-.3 .8-.3 .8-.3 .8-.2 .8-.3 .8-.3 .8-.2 .8-.2 .8-.2 .8-.2 .8-.1 .8-.1 .8-.1 .8 0 .8 0 .8 0 .8 .1 .8 0 .8 .1 .8 0 .8 .1 .8 .1 .8 .1 .8 .1 .8 .1 .8 .1 .8 .1 .8 .1 .8 .1 .8 .1 .8 .1 .8 .1 .8 .2 .8 .1 .8 .1 .8 .2 .8 .2 .8 .2 .8 .2 .8 .2 .8 .1 .8 .2 .8 .1 .8 0 .8 0 .8-.1 .8-.5 .8-.7 .8-.9 .8-1 .8-1.1 .8-1 .8-1.1 .8-1.2 .8-1.5 .8-1.6 .8-1.7 .8-1.6 .8-1.5 .8-1.3 .8-1 .8-1 .8-1 .8-.9 .8-.8 .8-.7 .8-.5 .8-.2 .8 0 .8 .2 .8 .4 .8 .5 .8 .6 .8 .5 .8 .4 .8 .5 .8 .4 .8 .5 .8 .2 .8-.1 .8-.6 .8-1.1 .8-1.3 .8-1.6 .8-1.8 .8-1.8 .8-2.5 .8-3.2 .8-3.5 .8-3.7 .8-3.6 .8-3.2 .8-3.4 .8-3.4 .8-3.2 .8-2.4 .8-1.4 .8-1.1 .8-.7 .8-.1 .8 .9 .8 1.6 .8 2.1 .8 2.4 .8 4.1 .8 5.7 .8 6.5 .8 6.7 .8 6.1 .8 5.8 .8 5.9 .8 5.9 .8 5.7 .8 5.5 .8 5.1 .8 4.6 .8 4.5 .8 4.2 .8 4.1 .8 3.7 .8 3.5 .8 3.1 .8 3 .9 2.8 .8 2.7 .8 2.5 .8 2.4 .8 2.3 .8 2.2 .8 2.1 .8 2.1 .8 2.1 .8 2 .8 1.8 .8 1.7 .8 1.4 .8 1 .8 .9 .8 .9 .8 .8 .8 .7 .8 .5 .8 .4 .8 .2 .8-.1 .8-.5 .8-.8 .8-1.1 .8-1.3 .8-1.3 .8-1.4 .8-1.6 .8-2.1 .8-2.3 .8-2.5 .8-2.5 .8-2.2 .8-1.9 .8-1.9 .8-1.9 .8-1.7 .8-1.6 .8-1.2 .8-.9 .8-.7 .8-.7 .8-.7 .8-.4 .8-.4 .8 0 .8 0 .8 .3 .8 .3 .8 .5 .8 .5 .8 .6 .8 .6 .8 .6 .8 .8 .8 1 .8 1.2 .8 1.2 .8 1.3 .8 1.3 .8 1.2 .8 1.1 .8 1.2 .8 1.2 .8 1.2 .8 1.2 .8 1 .8 1 .8 .7 .8 .6 .8 .6 .8 .5 .8 .4 .8 .4 .8 .2 .8 0 .8-.2 .8-.5 .8-.5 .8-.7 .8-.7 .8-.8 .8-1 .8-1.3 .8-1.5 .8-1.7 .8-1.7 .8-1.6 .8-1.5 .8-1.3 .8-1.2 .8-1.2 .8-1.2 .8-1.1 .8-1.1 .8-1.1 .8-.9 .8-.9 .8-.8 .8-.7 .8-.7 .8-.6 .8-.5 .8-.6 .8-.5 .8-.6 .8-.7 .8-.7 .8-.6 .8-.5 .8-.3 .8 0 .8 0 .8 .1 .8 .1 .8 .1 .8 .1 .8 .1 .8 .1 .8 .2 .8 .2 .8 .1 .8 .2 .8 .2 .8 .3 .8 .3 .8 .4 .8 .5 .8 .5 .8 .6 .8 .5 .8 .5 .8 .4 .8 .3 .8 .3 .8 .1 .8 0 .8-.1 .8-.3 .8-.3 .8-.4 .8-.3 .8-.4 .8-.4 .8-.5 .8-.5 .8-.6 .8-.6 .8-.5 .8-.6 .9-.6 .8-.6 .8-.5 .8-.5 .8-.6 .8-.5 .8-.6 .8-.5 .8-.5 .8-.6 .8-.5 .8-.5 .8-.6 .8-.6 .8-.7 .8-.6 .8-.5 .8-.5 .8-.4 .8-.2 .8-.1 .8 0 .8 0 .8 .1 .8 0 .8 .1 .8 .1 .8 0 .8 .1 .8 .1 .8 0 .8 .1 .8 .1 .8 0 .8 0 .8 0 .8 0 .8-.3 .8-.4 .8-.6 .8-.6 .8-.6 .8-.6 .8-.5 .8-.4 .8-.3 .8-.3 .8-.3 .8-.3 .8-.3 .8-.4 .8-.3 .8-.4 .8-.4 .8-.5 .8-.6 .8-.5 .8-.5 .8-.5 .8-.5 .8-.4 .8-.3 .8-.3 .8-.1 .8 0 .8 0 .8 0 .8 0 .8 0 .8 0 .8 0 .8 0 .8 0 .8 0 .8 0 .8 0 .8 0" stroke="#ff8000"/>
<path d="M1092.8 1080l.8 14.3 .8 3 .8-1.9 .8-2.8 .8-2.2 .8-1 .8-.9 .8-.7 .8-.6 .8-.5 .8-.3 .8-.2 .8-.2 .8-.2 .8-.1 .8-.2 .8-.1 .8-.1 .8-.1 .8-.1 .8 0 .8-.1 .8 0 .8 0 .8 0 .8 0 .8 .1 .8 .1 .8 0 .8 .1 .8 .2 .8 .1 .8 .1 .8 .2 .8 .1 .8 .2 .8 .1 .8 .3 .8 .3 .8 .4 .8 .4 .8 .4 .8 .4 .8 .4 .8 .3 .8 .3 .8 .3 .8 .3 .8 .2 .8 .2 .8 .2 .8 0 .8 0 .8 0 .8-.1 .8-.1 .8-.1 .8-.1 .8-.1 .8-.1 .8-.2 .8-.1 .8-.1 .8-.1 .8-.1 .8-.1 .8-.1 .8 0 .8-.1 .8-.1 .8 0 .8-.1 .8-.1 .8-.1 .8-.3 .8-.3 .8-.5 .8-.5 .8-.6 .8-.7 .8-.6 .8-.7 .8-.6 .8-.6 .8-.7 .8-.7 .8-.7 .8-.7 .8-.7 .8-.6 .8-.5 .8-.4 .8-.4 .8-.5 .8-.3 .8-.3 .8-.1 .8 0 .8 0 .8 .2 .8 .1 .8 .2 .8 .1 .8 .1 .8 .1 .8 .1 .8 .1 .8 .1 .8 .1 .8 0 .8-.2 .8-.7 .8-.8 .8-1.1 .8-1.2 .8-1.3 .8-1.5 .8-2.2 .8-2.5 .8-2.6 .8-2.4 .8-2.1 .8-1.6 .8-1.5 .8-1.5 .8-1.3 .8-1 .8-.6 .8-.1 .8 .5 .8 .9 .8 1.2 .8 1.4 .8 1.7 .8 2.7 .8 3.2 .8 3.4 .8 3.2 .8 2.8 .8 2.7 .8 2.7 .8 2.8 .8 2.9 .8 3.2 .8 3.3 .8 3.4 .8 3.2 .8 3 .8 2.6 .8 2.4 .8 2.2 .8 2.1 .9 2 .8 1.9 .8 1.7 .8 1.6 .8 1.3 .8 1.4 .8 1.2 .8 1.2 .8 1.2 .8 1.1 .8 .9 .8 .9 .8 .7 .8 .5 .8 .5 .8 .5 .8 .4 .8 .4 .8 .3 .8 .3 .8 .1 .8 .1 .8-.1 .8-.4 .8-.5 .8-.7 .8-.7 .8-.7 .8-.9 .8-1.1 .8-1.3 .8-1.4 .8-1.5 .8-1.4 .8-1.4 .8-1.2 .8-1.1 .8-1.2 .8-1.2 .8-1.1 .8-1 .8-.9 .8-.6 .8-.4 .8-.3 .8-.3 .8-.2 .8-.2 .8-.2 .8 0 .8 0 .8 .1 .8 .1 .8 .1 .8 .1 .8 .2 .8 .2 .8 .2 .8 .2 .8 .2 .8 .4 .8 .5 .8 .5 .8 .7 .8 .6 .8 .7 .8 .6 .8 .5 .8 .5 .8 .4 .8 .5 .8 .4 .8 .5 .8 .4 .8 .3 .8 .3 .8 .2 .8 .1 .8-.1 .8-.1 .8-.3 .8-.4 .8-.5 .8-.4 .8-.5 .8-.8 .8-.9 .8-1 .8-1.1 .8-1.1 .8-1.1 .8-1 .8-1 .8-1.1 .8-1 .8-1.1 .8-1 .8-1 .8-.8 .8-.7 .8-.6 .8-.6 .8-.5 .8-.5 .8-.4 .8-.4 .8-.4 .8-.4 .8-.4 .8-.4 .8-.4 .8-.4 .8-.3 .8-.3 .8-.2 .8-.1 .8-.1 .8 0 .8-.1 .8 0 .8-.1 .8 0 .8-.1 .8 0 .8 0 .8 0 .8 0 .8 0 .8 0 .8 .1 .8 .2 .8 .2 .8 .3 .8 .3 .8 .3 .8 .3 .8 .3 .8 .2 .8 .1 .8 .1 .8 0 .8-.1 .8-.2 .8-.2 .8-.4 .8-.3 .8-.4 .8-.4 .8-.4 .8-.3 .8-.3 .9-.4 .8-.3 .8-.3 .8-.3 .8-.4 .8-.3 .8-.3 .8-.3 .8-.3 .8-.3 .8-.3 .8-.2 .8-.3 .8-.2 .8-.3 .8-.3 .8-.2 .8-.3 .8-.2 .8-.3 .8-.2 .8-.2 .8-.2 .8-.3 .8-.3 .8-.3 .8-.4 .8-.5 .8-.8 .8-.9 .8-1 .8-.9 .8-.7 .8-.6 .8-.6 .8-.5 .8-.4 .8-.1 .8 .4 .8 .9 .8 1 .8 .9 .8 .9 .8 .8 .8 .7 .8 .2 .8 0 .8 0 .8 0 .8 0 .8 0 .8 0 .8 0 .8 0 .8 0 .8 0 .8 0 .8 0 .8 0 .8 .2 .8 .3 .8 .5 .8 .5 .8 .5 .8 .5 .8 .5 .8 .5 .8 .3 .8 .3 .8 .3 .8 .3 .8 .3 .8 .3 .8 .2 .8 .3 .8 .2 .8 .2" stroke="#ff0000"/>
</g>
<rect x="1092.75" y="963" width="304.25" height="270.8" fill="none" stroke="#000" stroke-width="1.85"/>
<text x="1157.2" y="1268.3" font-size="24.9" text-anchor="middle">500</text>
<text x="1236.7" y="1268.3" font-size="24.9" text-anchor="middle">600</text>
<text x="1317.2" y="1268.3" font-size="24.9" text-anchor="middle">700</text>
<text x="1397.2" y="1268.3" font-size="24.9" text-anchor="middle">800</text>
<text x="1077.95" y="971.2" font-size="24.9" text-anchor="end">20</text>
<text x="1077.95" y="1031.2" font-size="24.9" text-anchor="end">10</text>
<text x="1077.95" y="1091.2" font-size="24.9" text-anchor="end">0</text>
<text x="1077.95" y="1151.2" font-size="24.9" text-anchor="end">–10</text>
<text x="1077.95" y="1211.45" font-size="24.9" text-anchor="end">–20</text>
<path d="M1157 1233.8v5.6M1236.5 1233.8v5.6M1317 1233.8v5.6M1397 1233.8v5.6M1092.75 963h-5.6M1092.75 1023h-5.6M1092.75 1083h-5.6M1092.75 1143h-5.6M1092.75 1203.25h-5.6" stroke="#000" stroke-width="1.75" fill="none"/>
<text x="1244.38" y="1302.3" font-size="25" text-anchor="middle">Wavelength (nm)</text>
<text transform="translate(1011.25 1097.9) rotate(-90)" font-size="25" text-anchor="middle">ΔABS (mOD)</text>
<path d="M1211.5 973H1243.25" stroke="#ff66ff" stroke-width="1.9" stroke-linecap="round"/>
<text x="1248.25" y="977.6" font-size="14.45">–1 ps</text>
<path d="M1297.75 973H1329.5" stroke="#000000" stroke-width="1.9" stroke-linecap="round"/>
<text x="1335" y="977.6" font-size="14.45">0.5 ps</text>
<path d="M1211.5 990H1243.25" stroke="#8000ff" stroke-width="1.9" stroke-linecap="round"/>
<text x="1248.25" y="994.6" font-size="14.45">1 ps</text>
<path d="M1297.75 990H1329.5" stroke="#0000ff" stroke-width="1.9" stroke-linecap="round"/>
<text x="1335" y="994.6" font-size="14.45">10 ps</text>
<path d="M1211.5 1007.5H1243.25" stroke="#008000" stroke-width="1.9" stroke-linecap="round"/>
<text x="1248.25" y="1012.1" font-size="14.45">100 ps</text>
<path d="M1297.75 1007.5H1329.5" stroke="#ff8000" stroke-width="1.9" stroke-linecap="round"/>
<text x="1335" y="1012.1" font-size="14.45">1000 ps</text>
<path d="M1211.5 1025H1243.25" stroke="#ff0000" stroke-width="1.9" stroke-linecap="round"/>
<text x="1248.25" y="1029.6" font-size="14.45">2000 ps</text>
<g clip-path="url(#csl)" fill="none" stroke-linejoin="round" stroke-width="1.9">
<path d="M1581.2 1070l.8 5.7 .8 4.6 .8 2.2 .8-.2 .8-.5 .8-.7 .8-.6 .8-.6 .8-.5 .8-.5 .8-.5 .8-.5 .8-.3 .8-.1 .8 .2 .8 .7 .8 .8 .8 .9 .8 .7 .8 .4 .8-.1 .8-.7 .8-1.1 .8-1.2 .8-1.1 .8-.6 .8-.1 .8 .5 .8 .7 .8 .9 .8 .8 .8 .6 .8 .2 .8-.2 .8-.5 .8-.6 .8-.6 .8-.4 .8-.2 .8 .1 .8 .3 .8 .4 .8 .6 .8 .5 .8 .5 .8 .4 .8 .5 .8 .5 .8 .5 .8 .4 .8 .3 .8-.1 .8-.7 .8-1.2 .8-1.1 .8-.6 .8 .4 .8 1.5 .8 2 .8 1.6 .8 .7 .8-.4 .8-.9 .8-1.1 .8-1.2 .8-.9 .8-.5 .8 0 .8 0 .8 0 .8 0 .8 0 .8 0 .8 0 .8 0 .8 0 .8 0 .8-.2 .8-.2 .8-.4 .8-.3 .8-.4 .8-.4 .8-.3 .8-.2 .8-.1 .8 .1 .8 .3 .8 .5 .8 .4 .8 .4 .8 .3 .8 .1 .8 .1 .8 .1 .8 .1 .8 .1 .8 0 .8-.1 .8-.6 .8-.9 .8-1.1 .8-1 .8-.6 .8-.2 .8 .5 .8 .9 .8 1 .8 1.1 .8 .7 .8 .3 .8 0 .8-.1 .8-.2 .8-.1 .8-.2 .8-.2 .8-.3 .8-.2 .8-.4 .8-.5 .8-.5 .8-.5 .8-.4 .8-.1 .8 .5 .8 1.4 .8 1.5 .8 1.2 .8 .3 .8 0 .8-.1 .8-.1 .8-.1 .8-.1 .8-.2 .8-.2 .8-.2 .8-.2 .8-.2 .8-.2 .8-.3 .8-.3 .8-.3 .8-.4 .8-.4 .8-.4 .8-.7 .8-.8 .8-.9 .8-.5 .8 0 .8 .6 .8 1.1 .8 1.2 .8 1 .8 .8 .8 .7 .8 .6 .8 .5 .8 .1 .8 0 .8-.2 .8-.3 .8-.4 .8-.3 .8-.4 .8-.3 .8-.3 .8-.2 .8-.1 .8-.1 .8-.1 .8 0 .8-.1 .8 0 .8-.1 .8 0 .8-.1 .8 0 .8 0 .8-.1 .8 0 .8 0 .8-.1 .8 0 .8 0 .8-.1 .8 0 .8-.1 .8 0 .8-.1 .8 0 .8 0 .8-.1 .8 0 .8 0 .8-.1 .8 0 .8 0 .8 0 .8 0 .8 0 .8 .1 .8 0 .8 .1 .8 .1 .8 .1 .8 .1 .8 .1 .8 .2 .8 .1 .8 .1 .8 .1 .8 0 .8 .1 .8 0 .8 .1 .8 0 .8 0 .8 0 .8 .1 .8 0 .8 0 .8 0 .8 0 .8 .1 .8 0 .8 0 .8 0 .8 0 .8 0 .8 0 .8 0 .8-.1 .8-.1 .8-.1 .8-.1 .8-.1 .8-.2 .8-.1 .8-.2 .8-.2 .8-.1 .8-.2 .8-.1 .8-.1 .8-.2 .8-.2 .8-.2 .8-.1 .8-.2 .8-.1 .8 0 .8 0 .8 .2 .8 .4 .8 .5 .8 .6 .8 .7 .8 .6 .8 .5 .8 .4 .8 .3 .8 .4 .8 .3 .8 .3 .8 .2 .8 .2 .8 .1 .8 0 .8-.2 .8-.2 .8-.4 .8-.4 .8-.4 .8-.5 .8-.4 .8-.5 .8-.4 .8-.4 .8-.5 .8-.4 .8-.5 .8-.3 .8-.3 .8-.1 .8-.1 .8-.2 .8-.1 .8-.1 .8 0 .8-.1 .8 0 .8 .1 .8 .3 .8 .4 .8 .5 .8 .4 .8 .4 .8 .3 .8 .2 .8 .1 .8 .1 .8 .1 .8 .1 .8 .1 .8 .1 .8 0 .8 0 .8 0 .8 0 .8 0 .8 0 .8-.1 .8 0 .8-.1 .8-.1 .8 0 .8-.1 .8-.1 .8 0 .8-.1 .8 0 .8-.1 .8 0 .8 0 .8 0 .8 0 .8 .1 .8 0 .8 .1 .8 .1 .8 0 .8 .1 .8 .1 .8 .1 .8 0 .8 .1 .8 0 .8 0 .8 0 .8 0 .8 0 .8-.1 .8-.1 .8-.1 .8-.1 .8-.1 .8-.2 .8-.1 .8-.1 .8-.1 .8-.1 .8-.1 .8-.1 .8-.1 .8 0 .8-.1 .8-.1 .8 0 .8-.1 .8 0 .8 0 .8 0 .8 0 .8 .1 .8 0 .8 .1 .8 .1 .8 0 .8 .1 .8 .1 .8 0 .8 .1 .8 .1 .8 0 .8 .1 .8 .1 .8 0 .8 .1" stroke="#ff66ff"/>
<path d="M1581.2 1070l.8 7 .8 5.5 .8 2.5 .8-.7 .8-1.9 .8-2.4 .8-1.9 .8-.6 .8 .2 .8 .5 .8 .6 .8 .6 .8 .4 .8 .2 .8-.1 .8-.4 .8-.6 .8-.7 .8-.8 .8-.9 .8-1.1 .8-2 .8-2.1 .8-1.8 .8-.7 .8 1.1 .8 2.4 .8 1.4 .8-.5 .8-1.6 .8-2 .8-1.6 .8-.5 .8 .8 .8 1.4 .8 1.6 .8 1 .8-.1 .8-2.4 .8-3.5 .8-3.2 .8-1.8 .8 .6 .8 2.2 .8 2.8 .8 2.3 .8 .8 .8-1.3 .8-2.6 .8-3.2 .8-2.7 .8-1.4 .8 .7 .8 2.5 .8 3 .8 2.2 .8 .9 .8 .8 .8 .6 .8 .4 .8 .1 .8-.5 .8-1 .8-1.2 .8-.9 .8-.1 .8 0 .8 .2 .8 .2 .8 .3 .8 .2 .8 .3 .8 .5 .8 .8 .8 .6 .8 .5 .8-.3 .8-3.2 .8-4.3 .8-2.7 .8-1.5 .8-1.3 .8-1.7 .8-2 .8-1.7 .8-1.2 .8-.8 .8-.7 .8-.6 .8-.3 .8-.1 .8 0 .8 0 .8 0 .8 .9 .8 1.7 .8 2.1 .8 2 .8 1.7 .8 1.7 .8 1.8 .8 1.8 .8 1.6 .8 1.4 .8 1.1 .8 1 .8 1 .8 .9 .8 .7 .8 .4 .8 .2 .8-.3 .8-.6 .8-.8 .8-1 .8-.9 .8-.8 .8-1 .8-1.1 .8-1.3 .8-1.6 .8-2.3 .8-2.5 .8-2.4 .8-1.6 .8-1.2 .8-.9 .8-.4 .8 .5 .8 1.8 .8 2.5 .8 3 .8 4.4 .8 6.4 .8 7.7 .8 8.1 .8 8 .8 7.2 .8 7.3 .8 7.5 .8 7.5 .8 7.3 .8 7 .8 6.4 .8 6.3 .8 6.1 .8 5.9 .8 5.5 .8 5.1 .8 4.6 .8 4.2 .8 4.2 .8 3.8 .8 3.5 .8 3 .8 2.2 .8 1.6 .8 1.5 .8 1.2 .8 .9 .8 .2 .8-.5 .8-1.3 .8-1.9 .8-2.2 .8-2.4 .8-3.5 .8-4.5 .8-5.2 .8-5.3 .8-5.2 .8-4.6 .8-4.4 .8-4.5 .8-4.3 .8-4.2 .8-3.7 .8-3.1 .8-2.6 .8-2.5 .8-2.3 .8-2 .8-1.7 .8-1.4 .8-1 .8-.9 .8-.9 .8-.7 .8-.5 .8-.1 .8 .1 .8 .4 .8 .5 .8 .7 .8 .7 .8 .7 .8 .7 .8 .5 .8 .6 .8 .6 .8 .6 .8 .7 .8 .6 .8 .8 .8 .7 .8 .9 .8 1 .8 1 .8 1.1 .8 1 .8 1 .8 .9 .8 .8 .8 .8 .8 .8 .8 .7 .8 .6 .8 .4 .8 0 .8-.3 .8-.8 .8-1 .8-1.1 .8-1.1 .8-1.3 .8-1.6 .8-1.7 .8-1.8 .8-1.8 .8-1.7 .8-1.6 .8-1.4 .8-1.5 .8-1.5 .8-1.4 .8-1.4 .8-1.2 .8-1.1 .8-.8 .8-.7 .8-.6 .8-.6 .8-.5 .8-.5 .8-.4 .8-.3 .8-.3 .8-.2 .8-.1 .8-.2 .8-.1 .8-.1 .8-.2 .8-.1 .8-.3 .8-.2 .8-.3 .8-.4 .8-.3 .8-.4 .8-.5 .8-.5 .8-.5 .8-.5 .8-.7 .8-.9 .8-1.2 .8-1.2 .8-1.1 .8-.9 .8-.6 .8-.2 .8 .4 .8 .8 .8 1.2 .8 1.2 .8 1.1 .8 1.6 .8 1.3 .8 .4 .8-.4 .8-.7 .8-.9 .8-1.1 .8-1 .8-.9 .8-.8 .8-.9 .8-.8 .8-.8 .8-.8 .8-.7 .8-.7 .8-.6 .8-.6 .8-.6 .8-.6 .8-.6 .8-.6 .8-.6 .8-.7 .8-.7 .8-.6 .8-.5 .8-.4 .8-.3 .8-.2 .8-.3 .8-.2 .8-.2 .8-.2 .8-.1 .8-.2 .8-.2 .8-.1 .8-.2 .8-.2 .8-.1 .8-.2 .8-.2 .8-.3 .8-.2 .8-.2 .8-.2 .8-.2 .8-.1 .8-.1 .8-.1 .8-.1 .8 0 .8 0 .8 .1 .8 .2 .8 .2 .8 .2 .8 .3 .8 .3 .8 .3 .8 .4 .8 .5 .8 .9 .8 1.1 .8 1.1 .8 .9 .8 .5 .8-.1 .8-.4 .8-.6 .8-.7 .8-.7 .8-.5 .8-.5 .8-.6 .8-.5 .8-.5 .8-.6 .8-.6 .8-.6 .8-.6 .8-.6 .8-.6 .8-.6 .8-.6 .8-.6 .8-.6 .8-.6 .8-.7 .8-.6 .8-.6 .8-.6 .8-.6 .8-.6 .8-.6 .8-.5 .8-.5 .8-.5 .8-.4 .8-.5 .8-.4 .8-.3 .8-.4" stroke="#000000"/>
<path d="M1581.2 1075l.8 3.5 .8 2.7 .8 1.3 .8-.2 .8-.5 .8-.7 .8-.6 .8-.6 .8-.5 .8-.5 .8-.5 .8-.5 .8-.3 .8-.1 .8 .3 .8 .8 .8 1.2 .8 1.1 .8 1 .8 .6 .8-.3 .8-1.3 .8-1.9 .8-2 .8-1.9 .8-1.1 .8-.2 .8 .5 .8 .8 .8 .7 .8 .4 .8-.4 .8-1.5 .8-2 .8-1.6 .8-.7 .8 1 .8 1.7 .8 1 .8-1 .8-2.6 .8-3.2 .8-2.5 .8-.6 .8 1.9 .8 3.3 .8 3.5 .8 2.2 .8 .1 .8-1.2 .8-1.8 .8-2.1 .8-1.9 .8-1.2 .8-.3 .8 .3 .8 .5 .8 .7 .8 .8 .8 .8 .8 .6 .8 .7 .8 .7 .8 .6 .8 .4 .8 .1 .8-.2 .8-.3 .8-.5 .8-.5 .8-.6 .8-.5 .8-.4 .8-.4 .8-.5 .8-.7 .8-.8 .8-1.2 .8-1.6 .8-1.8 .8-2 .8-2.2 .8-2.9 .8-3 .8-2.9 .8-2.1 .8-1.7 .8-1.6 .8-1.1 .8-.5 .8 .1 .8 .3 .8 .5 .8 .7 .8 .7 .8 .8 .8 1.4 .8 1.8 .8 1.8 .8 1.9 .8 1.9 .8 2.1 .8 2 .8 1.8 .8 1.3 .8 1.1 .8 1 .8 .8 .8 .5 .8-.1 .8-.4 .8-.6 .8-.9 .8-1.1 .8-1.1 .8-1.3 .8-1.9 .8-2.6 .8-2.8 .8-2.8 .8-2.6 .8-2 .8-1.7 .8-1.8 .8-1.6 .8-1.3 .8-1 .8-.4 .8 .4 .8 1.2 .8 1.8 .8 2.4 .8 2.7 .8 4.6 .8 6.8 .8 8 .8 8.5 .8 8 .8 7.5 .8 7.8 .8 7.9 .8 7.8 .8 7.7 .8 7.2 .8 6.7 .8 6.7 .8 6.6 .8 6.2 .8 5.8 .8 5.2 .8 4.5 .8 4.3 .8 4.1 .8 3.7 .8 3.3 .8 2.6 .8 1.9 .8 1.5 .8 1.4 .8 1.3 .8 .9 .8 .7 .8 .3 .8-.2 .8-.9 .8-1.3 .8-1.6 .8-1.9 .8-2.1 .8-3.1 .8-4.2 .8-4.9 .8-5.2 .8-5.1 .8-4.4 .8-4 .8-3.9 .8-3.9 .8-3.7 .8-3.3 .8-3 .8-2.7 .8-2.5 .8-2.3 .8-1.9 .8-1.4 .8-1.2 .8-1.1 .8-.8 .8-.5 .8-.1 .8 .1 .8 .2 .8 .3 .8 .4 .8 .4 .8 .3 .8 .4 .8 .4 .8 .4 .8 .5 .8 .6 .8 .8 .8 1 .8 1.1 .8 1.2 .8 1.3 .8 1.3 .8 1.3 .8 1.2 .8 1.3 .8 1.3 .8 1.3 .8 1.3 .8 1 .8 .8 .8 .7 .8 .7 .8 .5 .8 .3 .8-.1 .8-.5 .8-1 .8-1.2 .8-1.3 .8-1.3 .8-1.3 .8-1.4 .8-1.6 .8-1.7 .8-1.7 .8-1.7 .8-1.7 .8-1.6 .8-1.4 .8-1.4 .8-1.4 .8-1.4 .8-1.3 .8-1.2 .8-1.2 .8-1.1 .8-1 .8-.9 .8-.9 .8-.9 .8-.9 .8-.7 .8-.8 .8-.7 .8-.6 .8-.5 .8-.6 .8-.5 .8-.6 .8-.5 .8-.4 .8-.4 .8-.3 .8-.2 .8 0 .8 .1 .8 .6 .8 .7 .8 .8 .8 .7 .8 .7 .8 .5 .8 .5 .8 .5 .8 .5 .8 .4 .8 .2 .8 0 .8-.3 .8-.5 .8-.5 .8-.7 .8-.6 .8-.5 .8-.5 .8-.5 .8-.6 .8-.5 .8-.5 .8-.6 .8-.5 .8-.6 .8-.6 .8-.6 .8-.7 .8-.6 .8-.6 .8-.8 .8-.8 .8-.7 .8-.6 .8-.3 .8 0 .8 0 .8 0 .8 0 .8 0 .8 0 .8 0 .8 0 .8 0 .8 0 .8 0 .8 0 .8-.1 .8-.1 .8-.3 .8-.4 .8-.6 .8-.6 .8-.6 .8-.6 .8-.6 .8-.6 .8-.6 .8-.6 .8-.6 .8-.7 .8-.7 .8-.7 .8-.7 .8-.8 .8-.8 .8-.8 .8-.9 .8-.8 .8-.7 .8-.7 .8-.8 .8-.8 .8-.7 .8-.4 .8-.2 .8 .1 .8 .5 .8 .8 .8 1 .8 1 .8 1.1 .8 .9 .8 .8 .8 .8 .8 .9 .8 .8 .8 .8 .8 .7 .8 .6 .8 .3 .8 .1 .8-.5 .8-.8 .8-1.1 .8-1 .8-.8 .8-.9 .8-.9 .8-.8 .8-.6 .8-.5 .8-.3 .8-.3 .8-.3 .8-.3 .8-.2 .8-.2 .8-.2 .8-.2 .8-.2 .8-.2 .8-.2 .8-.2 .8-.1 .8-.2 .8-.1 .8-.2" stroke="#8000ff"/>
<path d="M1581.2 1071.2l.8 3.5 .8 3.3 .8 2.5 .8 1.6 .8 .4 .8-.1 .8-.3 .8-.3 .8-.3 .8-.2 .8 0 .8 0 .8 .3 .8 .3 .8 .4 .8 .3 .8 .4 .8 .4 .8 .2 .8 .1 .8 0 .8-.2 .8-.3 .8-.4 .8-.5 .8-.5 .8-.6 .8-.5 .8-.4 .8-.4 .8-.4 .8-.4 .8-.4 .8-.4 .8-.4 .8-.3 .8-.4 .8-.3 .8-.3 .8-.2 .8-.1 .8 0 .8-.1 .8 0 .8 0 .8 0 .8 0 .8 0 .8 0 .8 0 .8 0 .8 0 .8 0 .8-.1 .8-.2 .8-.1 .8-.2 .8-.2 .8-.2 .8-.1 .8-.1 .8-.1 .8 0 .8-.1 .8 0 .8-.1 .8 0 .8-.1 .8 0 .8-.1 .8-.1 .8 0 .8-.1 .8-.1 .8-.2 .8-.1 .8-.3 .8-.8 .8-1.2 .8-1.5 .8-1.8 .8-1.8 .8-1.8 .8-2.2 .8-2.6 .8-2.8 .8-2.7 .8-2.4 .8-1.9 .8-1.4 .8-1.4 .8-1.3 .8-1 .8-.6 .8-.1 .8 .2 .8 .6 .8 .7 .8 .9 .8 .8 .8 .9 .8 1.2 .8 1.3 .8 1.1 .8 .7 .8 .6 .8 .5 .8 .5 .8 .2 .8-.1 .8-.8 .8-1.3 .8-1.7 .8-2 .8-2.2 .8-2.3 .8-3.2 .8-4 .8-4.6 .8-4.6 .8-4.3 .8-3.8 .8-3.5 .8-3.7 .8-3.1 .8-2.3 .8-1.1 .8-.6 .8-.3 .8 .6 .8 1.8 .8 2.6 .8 3 .8 4.8 .8 6.7 .8 7.9 .8 8.4 .8 8.1 .8 7.7 .8 8.1 .8 8.3 .8 8.3 .8 8.1 .8 7.7 .8 7.1 .8 7 .8 6.7 .8 6.4 .8 6.2 .8 5.9 .8 5.5 .8 5.4 .8 5.3 .8 5 .8 4.7 .8 4.3 .8 3.8 .8 3.6 .8 3.4 .8 3.3 .8 2.7 .8 2.1 .8 1.3 .8 1.2 .8 1 .8 .8 .8 .6 .8 .1 .8-.3 .8-.8 .8-1 .8-1.3 .8-1.4 .8-1.6 .8-2.5 .8-3.2 .8-3.6 .8-3.7 .8-3.7 .8-3.3 .8-3.4 .8-3.5 .8-3.4 .8-3.3 .8-3 .8-2.6 .8-2.2 .8-2.2 .8-2 .8-1.8 .8-1.6 .8-1.1 .8-.9 .8-.9 .8-.8 .8-.7 .8-.6 .8-.4 .8-.2 .8 0 .8 .2 .8 .4 .8 .4 .8 .6 .8 .6 .8 .6 .8 .7 .8 1 .8 1.3 .8 1.3 .8 1.5 .8 1.5 .8 1.4 .8 1.4 .8 1.2 .8 1.4 .8 1.3 .8 1.2 .8 1.2 .8 1 .8 .9 .8 .9 .8 .9 .8 .6 .8 .2 .8-.1 .8-.5 .8-.7 .8-.9 .8-.9 .8-1.1 .8-1.1 .8-1.4 .8-1.7 .8-1.9 .8-2 .8-2 .8-1.9 .8-1.8 .8-1.7 .8-1.8 .8-1.8 .8-1.7 .8-1.8 .8-1.6 .8-1.6 .8-1.4 .8-1.3 .8-1 .8-1.1 .8-.9 .8-.9 .8-.8 .8-.8 .8-.7 .8-.7 .8-.6 .8-.6 .8-.5 .8-.6 .8-.5 .8-.5 .8-.5 .8-.4 .8-.3 .8-.2 .8-.1 .8 0 .8 .1 .8 .2 .8 .2 .8 .3 .8 .3 .8 .3 .8 .2 .8 .3 .8 .2 .8 .2 .8 .1 .8 0 .8 0 .8 0 .8 0 .8 0 .8 0 .8 0 .8 0 .8 0 .8 0 .8 0 .8 0 .8 0 .8 0 .8-.3 .8-.4 .8-.5 .8-.6 .8-.7 .8-.7 .8-.7 .8-.7 .8-.6 .8-.6 .8-.7 .8-.7 .8-.8 .8-.7 .8-.7 .8-.7 .8-.6 .8-.5 .8-.5 .8-.4 .8-.4 .8-.4 .8-.3 .8-.4 .8-.3 .8-.4 .8-.5 .8-.5 .8-.5 .8-.6 .8-.6 .8-.6 .8-.7 .8-.7 .8-.7 .8-.9 .8-.9 .8-.9 .8-.9 .8-.8 .8-.8 .8-.7 .8-.6 .8-.5 .8-.6 .8-.5 .8-.4 .8-.3 .8-.2 .8 .1 .8 .2 .8 .5 .8 .5 .8 .5 .8 .5 .8 .4 .8 .5 .8 .5 .8 .5 .8 .5 .8 .2 .8 .1 .8-.1 .8-.3 .8-.4 .8-.5 .8-.6 .8-.5 .8-.5 .8-.5 .8-.3 .8-.3 .8-.3 .8-.2 .8-.2 .8-.2 .8-.1 .8 0 .8 0 .8 0 .8 0 .8 0 .8 0 .8 0 .8 0 .8 0 .8 0 .8 0" stroke="#0000ff"/>
<path d="M1581.2 1080l.8 1.2 .8 1 .8 .9 .8 .5 .8 .1 .8-.1 .8-.2 .8-.2 .8-.4 .8-.3 .8-.4 .8-.3 .8-.3 .8-.2 .8-.2 .8-.1 .8-.2 .8-.1 .8-.1 .8-.1 .8-.1 .8-.2 .8-.1 .8-.2 .8-.3 .8-.3 .8-.3 .8-.4 .8-.3 .8-.4 .8-.4 .8-.3 .8-.2 .8-.3 .8-.3 .8-.3 .8-.3 .8-.2 .8-.2 .8-.2 .8-.1 .8-.1 .8 0 .8 .1 .8 .1 .8 .1 .8 .2 .8 .2 .8 .1 .8 .2 .8 .2 .8 .1 .8 .2 .8 .1 .8 .2 .8 .1 .8 .1 .8 .2 .8 .1 .8 .1 .8 .1 .8 .1 .8 .1 .8 0 .8 .1 .8 .1 .8 0 .8 .1 .8 0 .8 0 .8 0 .8 0 .8-.1 .8-.1 .8-.1 .8-.1 .8-.2 .8-.6 .8-1 .8-1.3 .8-1.5 .8-1.6 .8-1.7 .8-2.2 .8-2.7 .8-3.1 .8-3.2 .8-3.1 .8-2.7 .8-2.5 .8-2.6 .8-2.4 .8-1.9 .8-1 .8-.6 .8-.5 .8-.4 .8 0 .8 .2 .8 .5 .8 .7 .8 .7 .8 .8 .8 .7 .8 1.1 .8 1.1 .8 1.2 .8 1 .8 .8 .8 .4 .8-.2 .8-.7 .8-1.3 .8-1.8 .8-2 .8-2.5 .8-4.4 .8-6.2 .8-6.9 .8-6.9 .8-6.4 .8-7.1 .8-7 .8-6.4 .8-5.1 .8-4.3 .8-4 .8-3 .8-1.3 .8 .7 .8 2.1 .8 3 .8 3.6 .8 6.6 .8 9.6 .8 11 .8 10.9 .8 9.3 .8 8.9 .8 8.8 .8 8.7 .8 8.5 .8 8.3 .8 8 .8 8 .8 7.8 .8 7.6 .8 7.3 .8 7 .8 6.6 .8 6.3 .8 6.1 .8 5.8 .8 5.5 .8 5.3 .8 4.9 .8 4.7 .8 4.5 .8 4.4 .8 4 .8 3.8 .8 3.3 .8 2.9 .8 2.8 .8 2.6 .8 2.4 .8 2.1 .8 1.6 .8 1.2 .8 .9 .8 .8 .8 .7 .8 .3 .8 0 .8-.6 .8-1.1 .8-1.4 .8-1.7 .8-1.7 .8-2.2 .8-3.1 .8-3.7 .8-4.1 .8-4.2 .8-4.2 .8-3.8 .8-3.7 .8-3.8 .8-3.8 .8-3.6 .8-3.6 .8-3.2 .8-3.1 .8-3.2 .8-3 .8-2.4 .8-1.6 .8-1.2 .8-1.1 .8-.8 .8-.5 .8 0 .8 .2 .8 .5 .8 .6 .8 .8 .8 .8 .8 .9 .8 1.2 .8 1.6 .8 1.9 .8 2.2 .8 2.2 .8 2.2 .8 2.2 .8 2.1 .8 2.2 .8 2.3 .8 2.3 .8 2.3 .8 2.2 .8 1.9 .8 1.7 .8 1.3 .8 1.4 .8 1.2 .8 1.2 .8 1 .8 .8 .8 .4 .8 .1 .8-.4 .8-.7 .8-.9 .8-1.1 .8-1.2 .8-1.5 .8-2 .8-2.4 .8-2.7 .8-2.8 .8-2.8 .8-2.6 .8-2.4 .8-2.2 .8-2.3 .8-2.3 .8-2.2 .8-2.1 .8-1.9 .8-1.8 .8-1.6 .8-1.4 .8-1.4 .8-1.3 .8-1.3 .8-1.2 .8-1.1 .8-1 .8-1 .8-.9 .8-.9 .8-.8 .8-.8 .8-.8 .8-.6 .8-.5 .8-.4 .8-.4 .8-.4 .8-.3 .8-.2 .8-.1 .8 0 .8 .1 .8 .1 .8 .3 .8 .3 .8 .3 .8 .4 .8 .3 .8 .4 .8 .3 .8 .4 .8 .4 .8 .5 .8 .5 .8 .5 .8 .5 .8 .5 .8 .4 .8 .3 .8 .2 .8 0 .8-.2 .8-.4 .8-.5 .8-.6 .8-.8 .8-.7 .8-.7 .8-.6 .8-.6 .8-.6 .8-.7 .8-.6 .8-.7 .8-.7 .8-.7 .8-.7 .8-.7 .8-.8 .8-.7 .8-.8 .8-.8 .8-.8 .8-.9 .8-.8 .8-.8 .8-.8 .8-.8 .8-.8 .8-.9 .8-.8 .8-.8 .8-.7 .8-.8 .8-.7 .8-.7 .8-.7 .8-.6 .8-.7 .8-.6 .8-.7 .8-.6 .8-.7 .8-.6 .8-.6 .8-.6 .8-.6 .8-.6 .8-.6 .8-.6 .8-.8 .8-.8 .8-.7 .8-.6 .8-.3 .8 0 .8 0 .8 .1 .8 .2 .8 .1 .8 .2 .8 .1 .8 .2 .8 .1 .8 .2 .8 .2 .8 .1 .8 .2 .8 .2 .8 .3 .8 .2 .8 .3 .8 .3 .8 .3 .8 .2 .8 .1 .8 .1 .8 0 .8-.1 .8-.1 .8-.2 .8-.2 .8-.3 .8-.3 .8-.4 .8-.4 .8-.5 .8-.5" stroke="#008000"/>
<path d="M1581.2 1085l.8-.7 .8-.7 .8-.6 .8-.4 .8-.1 .8 0 .8 0 .8 0 .8 0 .8 0 .8 0 .8 0 .8 0 .8 0 .8 0 .8-.1 .8-.1 .8-.1 .8-.1 .8-.2 .8-.2 .8-.2 .8-.2 .8-.2 .8-.2 .8-.4 .8-.4 .8-.4 .8-.4 .8-.4 .8-.3 .8-.4 .8-.2 .8-.3 .8-.3 .8-.2 .8-.2 .8-.3 .8-.2 .8-.1 .8-.1 .8 0 .8 0 .8 .1 .8 .1 .8 .2 .8 .2 .8 .3 .8 .2 .8 .3 .8 .2 .8 .2 .8 .2 .8 .2 .8 .3 .8 .2 .8 .2 .8 .2 .8 .2 .8 .2 .8 .2 .8 .2 .8 .2 .8 .1 .8 .2 .8 .2 .8 .1 .8 .1 .8 .1 .8 0 .8 0 .8 0 .8 0 .8 0 .8 0 .8 0 .8 0 .8-.7 .8-1.2 .8-1.6 .8-1.8 .8-1.9 .8-1.8 .8-2 .8-2.3 .8-2.4 .8-2.5 .8-2.2 .8-1.9 .8-1.7 .8-1.6 .8-1.4 .8-1.2 .8-.6 .8-.5 .8-.1 .8 .2 .8 .8 .8 .9 .8 1.1 .8 1 .8 .8 .8 .8 .8 .8 .8 .9 .8 .7 .8 .7 .8 .5 .8 .2 .8-.1 .8-.6 .8-1.1 .8-1.6 .8-1.8 .8-2.1 .8-2.3 .8-3.8 .8-5.1 .8-5.6 .8-5.4 .8-5.1 .8-5.4 .8-5.3 .8-4.8 .8-3.5 .8-2.8 .8-2.6 .8-1.9 .8-.8 .8 .5 .8 1.6 .8 2.4 .8 2.8 .8 4.8 .8 7 .8 8.4 .8 8.8 .8 8.1 .8 7.4 .8 7.4 .8 7.5 .8 7.4 .8 7.1 .8 6.7 .8 6.4 .8 6.2 .8 6 .8 5.7 .8 5.4 .8 5 .8 4.4 .8 4.1 .8 3.8 .8 3.7 .8 3.4 .8 3.2 .8 2.9 .8 2.8 .8 2.8 .8 2.6 .8 2.6 .8 2.4 .8 2.2 .8 2 .8 1.6 .8 1.3 .8 1.3 .8 1.2 .8 1.1 .8 1 .8 .8 .8 .6 .8 .3 .8 0 .8-.4 .8-.7 .8-1 .8-1.1 .8-1.3 .8-1.4 .8-2.1 .8-2.8 .8-3.4 .8-3.5 .8-3.5 .8-3.1 .8-3 .8-3 .8-3 .8-2.9 .8-2.7 .8-2.3 .8-2.1 .8-1.9 .8-1.9 .8-1.6 .8-1.5 .8-1.1 .8-.8 .8-.8 .8-.6 .8-.5 .8-.2 .8 .1 .8 .3 .8 .6 .8 .7 .8 .8 .8 .9 .8 .9 .8 1.4 .8 1.6 .8 1.9 .8 2 .8 2.1 .8 2 .8 1.8 .8 1.7 .8 1.8 .8 1.9 .8 1.8 .8 1.7 .8 1.5 .8 1.4 .8 1.1 .8 .9 .8 .9 .8 .8 .8 .7 .8 .4 .8 0 .8-.3 .8-.6 .8-.8 .8-1 .8-1 .8-1.3 .8-1.8 .8-2.2 .8-2.3 .8-2.5 .8-2.4 .8-2.2 .8-1.9 .8-1.8 .8-1.8 .8-1.7 .8-1.7 .8-1.6 .8-1.5 .8-1.3 .8-1.2 .8-1.2 .8-1.1 .8-1.1 .8-1.1 .8-.9 .8-.9 .8-.8 .8-.7 .8-.5 .8-.5 .8-.5 .8-.4 .8-.4 .8-.4 .8-.3 .8-.2 .8-.2 .8-.1 .8 0 .8 .1 .8 .2 .8 .2 .8 .2 .8 .3 .8 .3 .8 .3 .8 .3 .8 .3 .8 .3 .8 .3 .8 .2 .8 .3 .8 .2 .8 .2 .8 .3 .8 .2 .8 .2 .8 .2 .8 .2 .8 .1 .8 .1 .8 0 .8-.1 .8-.3 .8-.4 .8-.5 .8-.6 .8-.5 .8-.6 .8-.4 .8-.5 .8-.5 .8-.6 .8-.5 .8-.6 .8-.5 .8-.6 .8-.5 .8-.6 .8-.5 .8-.5 .8-.5 .8-.6 .8-.5 .8-.5 .8-.5 .8-.6 .8-.5 .8-.6 .8-.6 .8-.6 .8-.7 .8-.6 .8-.6 .8-.5 .8-.5 .8-.5 .8-.5 .8-.5 .8-.4 .8-.5 .8-.5 .8-.4 .8-.5 .8-.5 .8-.7 .8-.6 .8-.6 .8-.4 .8-.2 .8 0 .8 .1 .8 .1 .8 .1 .8 .1 .8 .2 .8 .1 .8 .1 .8 .2 .8 .1 .8 .1 .8 0 .8 0 .8-.1 .8-.2 .8-.4 .8-.4 .8-.5 .8-.6 .8-.5 .8-.5 .8-.5 .8-.4 .8-.5 .8-.5 .8-.5 .8-.4 .8-.2 .8 0 .8 0 .8 0 .8 0 .8 0 .8 0 .8 0 .8 0 .8 0 .8 0 .8 0" stroke="#ff8000"/>
<path d="M1581.2 1090l.8 5.9 .8 2.8 .8-1.6 .8-4.6 .8-4.3 .8-1.7 .8-1.2 .8-1.1 .8-.8 .8-.6 .8-.3 .8-.2 .8-.2 .8-.2 .8-.1 .8-.1 .8-.1 .8-.1 .8-.1 .8-.1 .8-.1 .8-.2 .8-.1 .8-.2 .8-.1 .8-.1 .8-.2 .8-.1 .8-.1 .8-.1 .8-.2 .8-.1 .8-.1 .8-.2 .8-.1 .8-.1 .8-.1 .8-.1 .8-.1 .8-.1 .8 0 .8 0 .8 0 .8 0 .8 .1 .8 .2 .8 .1 .8 .2 .8 .1 .8 .2 .8 .2 .8 .2 .8 .2 .8 .2 .8 .2 .8 .3 .8 .2 .8 .2 .8 .3 .8 .1 .8 .2 .8 .1 .8 .2 .8 .1 .8 .1 .8 .1 .8 .1 .8 .1 .8 .1 .8 .1 .8 .1 .8 .1 .8 .2 .8 .1 .8 .2 .8 0 .8 0 .8-.5 .8-.9 .8-1.1 .8-1.3 .8-1.4 .8-1.2 .8-1.4 .8-1.6 .8-1.6 .8-1.6 .8-1.3 .8-1 .8-.7 .8-.7 .8-.6 .8-.5 .8-.4 .8-.3 .8-.1 .8 .2 .8 .4 .8 .6 .8 .7 .8 .7 .8 .7 .8 .6 .8 .5 .8 .6 .8 .5 .8 .6 .8 .4 .8 .3 .8 .2 .8-.1 .8-.6 .8-.9 .8-1.1 .8-1.4 .8-1.5 .8-2.4 .8-3.1 .8-3.7 .8-3.8 .8-3.6 .8-3.1 .8-3 .8-3.1 .8-2.7 .8-2.1 .8-1.2 .8-.9 .8-.4 .8 .4 .8 1.2 .8 1.7 .8 2 .8 3 .8 4.1 .8 4.6 .8 4.7 .8 4 .8 3.2 .8 2.9 .8 2.7 .8 2.7 .8 2.6 .8 2.9 .8 3.2 .8 3.6 .8 3.9 .8 4 .8 4.1 .8 4 .8 3.7 .8 3.4 .8 3.2 .8 3.3 .8 3.1 .8 3 .8 2.8 .8 2.6 .8 2.3 .8 2 .8 1.9 .8 1.8 .8 1.8 .8 1.5 .8 1.4 .8 1.1 .8 .9 .8 .7 .8 .6 .8 .6 .8 .4 .8 .4 .8 .2 .8 0 .8-.4 .8-.6 .8-.8 .8-.9 .8-1.1 .8-1 .8-1.4 .8-1.7 .8-2 .8-2.1 .8-2.2 .8-2.2 .8-2.1 .8-1.9 .8-1.9 .8-2.1 .8-2 .8-1.9 .8-1.8 .8-1.6 .8-1.2 .8-1 .8-.9 .8-.9 .8-.8 .8-.7 .8-.5 .8-.4 .8-.1 .8 0 .8 .3 .8 .3 .8 .5 .8 .6 .8 .7 .8 .6 .8 .7 .8 .8 .8 1.1 .8 1.2 .8 1.3 .8 1.4 .8 1.4 .8 1.4 .8 1.2 .8 1.1 .8 1 .8 .9 .8 1 .8 1 .8 .9 .8 .9 .8 .7 .8 .7 .8 .4 .8 .3 .8 0 .8-.2 .8-.4 .8-.5 .8-.7 .8-.7 .8-.8 .8-.8 .8-1 .8-1.2 .8-1.4 .8-1.4 .8-1.5 .8-1.4 .8-1.3 .8-1.2 .8-1.1 .8-1.2 .8-1.2 .8-1.1 .8-1.1 .8-1.1 .8-.9 .8-.9 .8-.8 .8-.7 .8-.8 .8-.6 .8-.7 .8-.6 .8-.5 .8-.6 .8-.4 .8-.4 .8-.3 .8-.3 .8-.3 .8-.3 .8-.2 .8-.1 .8 0 .8 0 .8 .1 .8 0 .8 .1 .8 .1 .8 .1 .8 .1 .8 .2 .8 .1 .8 .2 .8 .2 .8 .3 .8 .3 .8 .4 .8 .3 .8 .4 .8 .4 .8 .3 .8 .3 .8 .3 .8 .2 .8 .1 .8 0 .8-.1 .8-.2 .8-.2 .8-.3 .8-.4 .8-.3 .8-.3 .8-.3 .8-.3 .8-.3 .8-.4 .8-.3 .8-.3 .8-.4 .8-.3 .8-.3 .8-.3 .8-.3 .8-.2 .8-.3 .8-.2 .8-.3 .8-.2 .8-.3 .8-.3 .8-.3 .8-.3 .8-.4 .8-.3 .8-.4 .8-.4 .8-.5 .8-.5 .8-.6 .8-.6 .8-.7 .8-.7 .8-.8 .8-.7 .8-.7 .8-.7 .8-.6 .8-.5 .8-.6 .8-.6 .8-.6 .8-.6 .8-.5 .8-.4 .8-.2 .8-.2 .8 0 .8 .2 .8 .3 .8 .3 .8 .4 .8 .3 .8 .4 .8 .4 .8 .6 .8 .5 .8 .4 .8 .4 .8 0 .8 0 .8 0 .8-.1 .8-.2 .8-.1 .8-.2 .8-.1 .8-.1 .8-.2 .8-.1 .8-.1 .8 0 .8 0 .8 0 .8 .1 .8 .1 .8 .1 .8 .1 .8 .1 .8 .2 .8 .1 .8 .2 .8 .3" stroke="#ff0000"/>
</g>
<rect x="1581.25" y="962.5" width="305.25" height="271.1" fill="none" stroke="#000" stroke-width="1.85"/>
<text x="1645.3" y="1268.3" font-size="24.9" text-anchor="middle">500</text>
<text x="1725.8" y="1268.3" font-size="24.9" text-anchor="middle">600</text>
<text x="1805.8" y="1268.3" font-size="24.9" text-anchor="middle">700</text>
<text x="1886.8" y="1268.3" font-size="24.9" text-anchor="middle">800</text>
<text x="1566.45" y="970.7" font-size="24.9" text-anchor="end">15</text>
<text x="1566.45" y="1009.45" font-size="24.9" text-anchor="end">10</text>
<text x="1566.45" y="1048.2" font-size="24.9" text-anchor="end">5</text>
<text x="1566.45" y="1086.95" font-size="24.9" text-anchor="end">0</text>
<text x="1566.45" y="1125.7" font-size="24.9" text-anchor="end">–5</text>
<text x="1566.45" y="1164.45" font-size="24.9" text-anchor="end">–10</text>
<text x="1566.45" y="1203.2" font-size="24.9" text-anchor="end">–15</text>
<text x="1566.45" y="1241.8" font-size="24.9" text-anchor="end">–20</text>
<path d="M1644.5 1233.6v5.6M1725 1233.6v5.6M1805 1233.6v5.6M1886 1233.6v5.6M1581.25 962.5h-5.6M1581.25 1001.25h-5.6M1581.25 1040h-5.6M1581.25 1078.75h-5.6M1581.25 1117.5h-5.6M1581.25 1156.25h-5.6M1581.25 1195h-5.6M1581.25 1233.6h-5.6" stroke="#000" stroke-width="1.75" fill="none"/>
<text x="1733.38" y="1302.3" font-size="25" text-anchor="middle">Wavelength (nm)</text>
<text transform="translate(1503.25 1097.55) rotate(-90)" font-size="25" text-anchor="middle">ΔABS (mOD)</text>
<path d="M1706.25 974.25H1738" stroke="#ff66ff" stroke-width="1.9" stroke-linecap="round"/>
<text x="1743.75" y="978.85" font-size="14.45">–1 ps</text>
<path d="M1796.25 974.25H1828" stroke="#000000" stroke-width="1.9" stroke-linecap="round"/>
<text x="1832" y="978.85" font-size="14.45">0.5 ps</text>
<path d="M1706.25 991.75H1738" stroke="#8000ff" stroke-width="1.9" stroke-linecap="round"/>
<text x="1743.75" y="996.35" font-size="14.45">1 ps</text>
<path d="M1796.25 991.75H1828" stroke="#0000ff" stroke-width="1.9" stroke-linecap="round"/>
<text x="1832" y="996.35" font-size="14.45">10 ps</text>
<path d="M1706.25 1009.25H1738" stroke="#008000" stroke-width="1.9" stroke-linecap="round"/>
<text x="1743.75" y="1013.85" font-size="14.45">100 ps</text>
<path d="M1796.25 1009.25H1828" stroke="#ff8000" stroke-width="1.9" stroke-linecap="round"/>
<text x="1832" y="1013.85" font-size="14.45">1000 ps</text>
<path d="M1706.25 1026.75H1738" stroke="#ff0000" stroke-width="1.9" stroke-linecap="round"/>
<text x="1743.75" y="1031.35" font-size="14.45">2000 ps</text>
<text x="-1.5" y="31.3" font-size="42.5">a</text>
<text x="488.8" y="31.3" font-size="42.5">b</text>
<text x="979" y="31.3" font-size="42.5">c</text>
<text x="1468.3" y="31.3" font-size="42.5">d</text>
<text x="-1.3" y="537.5" font-size="42.5">e</text>
<text x="488.5" y="537.5" font-size="42.5">f</text>
<text x="979.3" y="537.5" font-size="42.5">g</text>
<text x="1468" y="537.5" font-size="42.5">h</text>
<text x="-.9" y="965.6" font-size="42.5">i</text>
<text x="489" y="965.6" font-size="42.5">j</text>
<text x="978.8" y="965.6" font-size="42.5">k</text>
<text x="1468.5" y="965.6" font-size="42.5">l</text>
</svg>
</body></html>
